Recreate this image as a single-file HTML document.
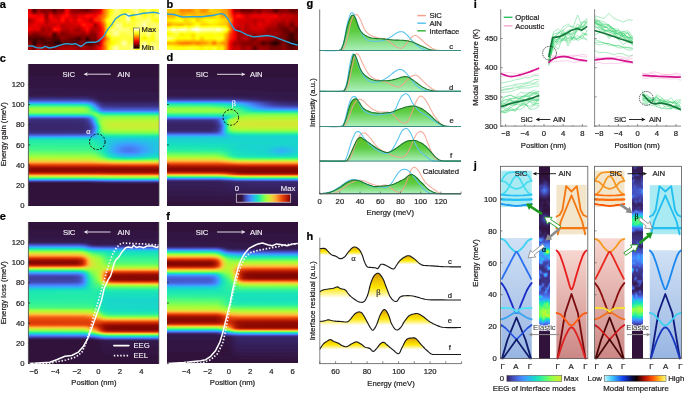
<!DOCTYPE html>
<html><head><meta charset="utf-8"><style>
html,body{margin:0;padding:0;background:#fff;}
body{width:685px;height:393px;position:relative;overflow:hidden;font-family:"Liberation Sans", sans-serif;}
.h div{position:absolute;}
svg{position:absolute;left:0;top:0;filter:blur(0.3px);}
</style></head><body>
<div class="h">
<div style="left:28px;top:64px;width:131px;height:12px;background:#30123b"></div>
<div style="left:28px;top:76px;width:131px;height:1px;background:linear-gradient(90deg,#321543 0.4%,#30123b 96.6%,#30123b 99.6%)"></div>
<div style="left:28px;top:77px;width:131px;height:1px;background:linear-gradient(90deg,#321543 0.4%,#321543 52.3%,#30123b 53.8%,#30123b 99.6%)"></div>
<div style="left:28px;top:78px;width:131px;height:10px;background:#321543"></div>
<div style="left:28px;top:88px;width:131px;height:1px;background:linear-gradient(90deg,#33184a 0.4%,#321543 99.6%)"></div>
<div style="left:28px;top:89px;width:131px;height:1px;background:linear-gradient(90deg,#33184a 0.4%,#321543 99.6%)"></div>
<div style="left:28px;top:90px;width:131px;height:1px;background:linear-gradient(90deg,#33184a 0.4%,#321543 99.6%)"></div>
<div style="left:28px;top:91px;width:131px;height:1px;background:linear-gradient(90deg,#33184a 0.4%,#321543 99.6%)"></div>
<div style="left:28px;top:92px;width:131px;height:3px;background:#33184a"></div>
<div style="left:28px;top:95px;width:131px;height:1px;background:linear-gradient(90deg,#341b51 0.4%,#33184a 99.6%)"></div>
<div style="left:28px;top:96px;width:131px;height:1px;background:linear-gradient(90deg,#36215f 0.4%,#36215f 46.2%,#351e58 47.7%,#33184a 54.6%,#33184a 99.6%)"></div>
<div style="left:28px;top:97px;width:131px;height:1px;background:linear-gradient(90deg,#38276d 0.4%,#38276d 44.7%,#372466 46.2%,#36215f 49.2%,#33184a 53.8%,#33184a 99.6%)"></div>
<div style="left:28px;top:98px;width:131px;height:1px;background:linear-gradient(90deg,#3b2f80 0.4%,#3b2f80 37.0%,#3a2d79 38.5%,#3a2d79 45.4%,#38276d 48.5%,#351e58 51.5%,#33184a 56.9%,#33184a 99.6%)"></div>
<div style="left:28px;top:99px;width:131px;height:1px;background:linear-gradient(90deg,#3f3e9c 0.4%,#3f3e9c 39.3%,#3e3891 46.2%,#351e58 53.1%,#33184a 58.4%,#33184a 99.6%)"></div>
<div style="left:28px;top:100px;width:131px;height:1px;background:linear-gradient(90deg,#4451bf 0.4%,#4451bf 42.4%,#4249b1 46.2%,#3f3b97 49.2%,#372466 53.1%,#351e58 54.6%,#341b51 59.9%,#341b51 99.6%)"></div>
<div style="left:28px;top:101px;width:131px;height:1px;background:linear-gradient(90deg,#466be3 0.4%,#4669e0 43.9%,#4559cb 47.7%,#38276d 53.8%,#351e58 58.4%,#351e58 99.6%)"></div>
<div style="left:28px;top:102px;width:131px;height:1px;background:linear-gradient(90deg,#4391fe 0.4%,#448ffe 43.1%,#467df4 46.9%,#4664da 49.2%,#3e3891 53.1%,#392a73 55.3%,#372466 56.9%,#36215f 63.7%,#36215f 99.6%)"></div>
<div style="left:28px;top:103px;width:131px;height:1px;background:linear-gradient(90deg,#28bceb 0.4%,#2cb7f0 43.1%,#38a5fb 46.2%,#458afc 48.5%,#4664da 50.8%,#3f3b97 53.8%,#3a2d79 56.1%,#38276d 59.2%,#38276d 99.6%)"></div>
<div style="left:28px;top:104px;width:131px;height:1px;background:linear-gradient(90deg,#18ddc2 0.4%,#18dbc5 41.6%,#1ad4d0 44.7%,#25c0e7 46.9%,#4099ff 49.2%,#477bf2 50.8%,#4146ac 53.8%,#3c3286 56.1%,#392a73 59.2%,#392a73 99.6%)"></div>
<div style="left:28px;top:105px;width:131px;height:1px;background:linear-gradient(90deg,#2ff19b 0.4%,#2cf09e 41.6%,#20eaac 44.7%,#18dbc5 46.9%,#23c3e4 48.5%,#3ba0fd 50.0%,#448ffe 50.8%,#476ee6 52.3%,#4040a2 55.3%,#3d358b 56.9%,#3b2f80 59.9%,#3a2d79 76.0%,#3a2d79 99.6%)"></div>
<div style="left:28px;top:106px;width:131px;height:1px;background:linear-gradient(90deg,#55fa76 0.4%,#52fa7a 40.8%,#43f787 43.9%,#35f394 45.4%,#18e0bd 47.7%,#20c7df 49.2%,#3aa3fc 50.8%,#4294ff 51.5%,#4773eb 53.1%,#424bb5 55.3%,#3f3b97 57.6%,#3d358b 65.3%,#3d358b 99.6%)"></div>
<div style="left:28px;top:107px;width:131px;height:1px;background:linear-gradient(90deg,#79fe59 0.4%,#75fe5c 40.8%,#5dfc6f 44.7%,#25eca7 47.7%,#19e3b9 48.5%,#1fc9dd 50.0%,#37a8fa 51.5%,#4196ff 52.3%,#4687fb 53.1%,#455ccf 55.3%,#424bb5 56.9%,#4143a7 59.9%,#4143a7 99.6%)"></div>
<div style="left:28px;top:108px;width:131px;height:1px;background:linear-gradient(90deg,#8fff49 0.4%,#8bff4b 41.6%,#75fe5c 44.7%,#4af880 46.9%,#25eca7 48.5%,#1ae4b6 49.2%,#1ccdd8 50.8%,#33adf7 52.3%,#3e9bfe 53.1%,#458afc 53.8%,#466be3 55.3%,#4559cb 56.9%,#434eba 61.5%,#434eba 99.6%)"></div>
<div style="left:28px;top:109px;width:131px;height:1px;background:linear-gradient(90deg,#9cfe40 0.4%,#99fe42 40.8%,#8bff4b 43.9%,#6dfe62 46.2%,#25eca7 49.2%,#1ae4b6 50.0%,#1bd0d5 51.5%,#33adf7 53.1%,#3e9bfe 53.8%,#477bf2 55.3%,#4666dd 56.9%,#455ccf 59.9%,#455ccf 99.6%)"></div>
<div style="left:28px;top:110px;width:131px;height:1px;background:linear-gradient(90deg,#9cfe40 0.4%,#99fe42 41.6%,#88ff4e 44.7%,#65fd69 46.9%,#32f298 49.2%,#18dec0 51.5%,#23c3e4 53.1%,#3d9efe 54.6%,#4682f8 56.1%,#4771e9 58.4%,#476ee6 99.6%)"></div>
<div style="left:28px;top:111px;width:131px;height:1px;background:linear-gradient(90deg,#96fe44 0.4%,#92ff47 41.6%,#7dff56 45.4%,#35f394 50.8%,#1de7b2 52.3%,#1bd0d5 53.8%,#31aff5 55.3%,#3e9bfe 56.9%,#4391fe 61.5%,#4391fe 99.6%)"></div>
<div style="left:28px;top:112px;width:131px;height:1px;background:linear-gradient(90deg,#84ff51 0.4%,#80ff53 42.4%,#5dfc6f 50.0%,#4ef97d 51.5%,#2cf09e 53.1%,#1de7b2 53.8%,#1ad4d0 55.3%,#25c0e7 57.6%,#28bceb 99.6%)"></div>
<div style="left:28px;top:113px;width:131px;height:1px;background:linear-gradient(90deg,#5dfc6f 0.4%,#59fb73 44.7%,#59fb73 48.5%,#6dfe62 50.8%,#61fc6c 52.3%,#22ebaa 55.3%,#19e2bb 56.9%,#18ddc2 63.7%,#18ddc2 99.6%)"></div>
<div style="left:28px;top:114px;width:131px;height:1px;background:linear-gradient(90deg,#2cf09e 0.4%,#2ff19b 46.2%,#43f787 48.5%,#71fe5f 50.8%,#79fe59 52.3%,#55fa76 54.6%,#3cf58e 56.1%,#2ff19b 59.2%,#2ff19b 99.6%)"></div>
<div style="left:28px;top:115px;width:131px;height:1px;background:linear-gradient(90deg,#1ad2d2 0.4%,#19d5cd 44.7%,#19e3b9 47.7%,#2ff19b 49.2%,#59fb73 50.8%,#75fe5c 52.3%,#79fe59 53.1%,#5dfc6f 56.1%,#55fa76 59.2%,#55fa76 99.6%)"></div>
<div style="left:28px;top:116px;width:131px;height:1px;background:linear-gradient(90deg,#3d9efe 0.4%,#3aa3fc 43.9%,#2cb7f0 46.9%,#1bd0d5 48.5%,#18dec0 49.2%,#20eaac 50.0%,#52fa7a 51.5%,#71fe5f 53.1%,#79fe59 54.6%,#79fe59 99.6%)"></div>
<div style="left:28px;top:117px;width:131px;height:1px;background:linear-gradient(90deg,#466be3 0.4%,#476ee6 42.4%,#4682f8 46.2%,#4099ff 47.7%,#35abf8 48.5%,#25c0e7 49.2%,#19d5cd 50.0%,#1ce6b4 50.8%,#4ef97d 52.3%,#75fe5c 53.8%,#8bff4b 57.6%,#8fff49 99.6%)"></div>
<div style="left:28px;top:118px;width:131px;height:1px;background:linear-gradient(90deg,#4146ac 0.4%,#4146ac 39.3%,#424bb5 43.1%,#4456c7 45.4%,#4778f0 47.7%,#458cfd 48.5%,#3aa3fc 49.2%,#27bee9 50.0%,#18d7ca 50.8%,#1fe9af 51.5%,#55fa76 53.1%,#7dff56 54.6%,#92ff47 56.9%,#9ffd3f 61.5%,#9ffd3f 99.6%)"></div>
<div style="left:28px;top:119px;width:131px;height:1px;background:linear-gradient(90deg,#3c3286 0.4%,#3c3286 40.1%,#3e3891 43.1%,#4143a7 45.4%,#4456c7 46.9%,#4778f0 48.5%,#4391fe 49.2%,#33adf7 50.0%,#1fc9dd 50.8%,#18e0bd 51.5%,#2aefa1 52.3%,#4af880 53.1%,#7dff56 54.6%,#96fe44 56.1%,#a7fc3a 59.2%,#a9fb39 99.6%)"></div>
<div style="left:28px;top:120px;width:131px;height:1px;background:linear-gradient(90deg,#3a2d79 0.4%,#3a2d79 40.1%,#3d358b 43.9%,#4143a7 46.2%,#476ee6 48.5%,#4685fa 49.2%,#3ba0fd 50.0%,#27bee9 50.8%,#18d7ca 51.5%,#20eaac 52.3%,#61fc6c 53.8%,#8fff49 55.3%,#a1fd3d 56.9%,#affa37 59.9%,#b4f836 79.0%,#b4f836 99.6%)"></div>
<div style="left:28px;top:121px;width:131px;height:1px;background:linear-gradient(90deg,#392a73 0.4%,#392a73 35.5%,#3a2d79 37.8%,#3a2d79 42.4%,#3e3891 45.4%,#4456c7 47.7%,#477bf2 49.2%,#4294ff 50.0%,#2fb2f4 50.8%,#1ccdd8 51.5%,#1ae4b6 52.3%,#32f298 53.1%,#75fe5c 54.6%,#9cfe40 56.1%,#b1f936 58.4%,#b9f635 64.5%,#b9f635 99.6%)"></div>
<div style="left:28px;top:122px;width:131px;height:1px;background:linear-gradient(90deg,#392a73 0.4%,#392a73 40.8%,#3b2f80 43.9%,#3d358b 45.4%,#434eba 47.7%,#4771e9 49.2%,#458afc 50.0%,#38a5fb 50.8%,#23c3e4 51.5%,#18ddc2 52.3%,#27eea4 53.1%,#6dfe62 54.6%,#8bff4b 55.3%,#a7fc3a 56.9%,#bcf534 59.9%,#c1f334 75.2%,#c1f334 99.6%)"></div>
<div style="left:28px;top:123px;width:131px;height:1px;background:linear-gradient(90deg,#38276d 0.4%,#38276d 31.7%,#392a73 34.0%,#392a73 42.4%,#3c3286 45.4%,#3f3e9c 46.9%,#4456c7 48.5%,#467df4 50.0%,#4099ff 50.8%,#2cb7f0 51.5%,#1ad4d0 52.3%,#1fe9af 53.1%,#65fd69 54.6%,#9cfe40 56.1%,#b9f635 58.4%,#c6f034 63.0%,#c6f034 99.6%)"></div>
<div style="left:28px;top:124px;width:131px;height:1px;background:linear-gradient(90deg,#38276d 0.4%,#38276d 40.1%,#3a2d79 44.7%,#3f3b97 46.9%,#4451bf 48.5%,#4773eb 50.0%,#458cfd 50.8%,#35abf8 51.5%,#20c7df 52.3%,#18e0bd 53.1%,#2ff19b 53.8%,#7dff56 55.3%,#a7fc3a 56.9%,#bef434 59.2%,#c8ef34 64.5%,#c8ef34 99.6%)"></div>
<div style="left:28px;top:125px;width:131px;height:1px;background:linear-gradient(90deg,#38276d 0.4%,#38276d 40.8%,#3a2d79 44.7%,#3e3891 46.9%,#4249b1 48.5%,#4680f6 50.8%,#3e9bfe 51.5%,#2ab9ee 52.3%,#18d7ca 53.1%,#20eaac 53.8%,#6dfe62 55.3%,#8bff4b 56.1%,#acfb38 57.6%,#bef434 59.9%,#c8ef34 65.3%,#c8ef34 99.6%)"></div>
<div style="left:28px;top:126px;width:131px;height:1px;background:linear-gradient(90deg,#38276d 0.4%,#38276d 41.6%,#3a2d79 45.4%,#3d358b 46.9%,#4146ac 48.5%,#4778f0 50.8%,#4391fe 51.5%,#31aff5 52.3%,#1ccdd8 53.1%,#1ae4b6 53.8%,#35f394 54.6%,#5dfc6f 55.3%,#80ff53 56.1%,#99fe42 56.9%,#b7f735 59.2%,#c3f134 62.2%,#c6f034 99.6%)"></div>
<div style="left:28px;top:127px;width:131px;height:1px;background:linear-gradient(90deg,#38276d 0.4%,#38276d 41.6%,#3b2f80 46.2%,#3f3b97 47.7%,#4661d6 50.0%,#448ffe 51.5%,#35abf8 52.3%,#1fc9dd 53.1%,#19e2bb 53.8%,#2ff19b 54.6%,#79fe59 56.1%,#a4fc3c 57.6%,#bcf534 60.7%,#c3f134 67.6%,#c3f134 99.6%)"></div>
<div style="left:28px;top:128px;width:131px;height:1px;background:linear-gradient(90deg,#38276d 0.4%,#38276d 40.8%,#3a2d79 44.7%,#3d358b 46.9%,#4146ac 48.5%,#4778f0 50.8%,#4391fe 51.5%,#31aff5 52.3%,#1ccdd8 53.1%,#19e3b9 53.8%,#32f298 54.6%,#79fe59 56.1%,#9ffd3f 57.6%,#b7f735 60.7%,#bef434 71.4%,#bef434 99.6%)"></div>
<div style="left:28px;top:129px;width:131px;height:1px;background:linear-gradient(90deg,#38276d 0.4%,#38276d 40.1%,#3a2d79 44.7%,#3e3891 46.9%,#3f3e9c 47.7%,#4456c7 49.2%,#467df4 50.8%,#4196ff 51.5%,#2eb4f2 52.3%,#1bd0d5 53.1%,#1ae4b6 53.8%,#32f298 54.6%,#75fe5c 56.1%,#99fe42 57.6%,#affa37 60.7%,#b4f836 79.8%,#b4f836 99.6%)"></div>
<div style="left:28px;top:130px;width:131px;height:1px;background:linear-gradient(90deg,#392a73 0.4%,#392a73 42.4%,#3b2f80 45.4%,#4040a2 47.7%,#466be3 50.0%,#4682f8 50.8%,#3e9bfe 51.5%,#2ab9ee 52.3%,#1ad2d2 53.1%,#1ce6b4 53.8%,#32f298 54.6%,#6dfe62 56.1%,#8fff49 57.6%,#a1fd3d 59.9%,#a7fc3a 69.1%,#a7fc3a 99.6%)"></div>
<div style="left:28px;top:131px;width:131px;height:1px;background:linear-gradient(90deg,#3a2d79 0.4%,#3a2d79 43.1%,#3c3286 45.4%,#4146ac 47.7%,#455ed3 49.2%,#4685fa 50.8%,#3ba0fd 51.5%,#28bceb 52.3%,#1ad4d0 53.1%,#1ae4b6 53.8%,#46f884 55.3%,#61fc6c 56.1%,#88ff4e 58.4%,#96fe44 62.2%,#99fe42 99.6%)"></div>
<div style="left:28px;top:132px;width:131px;height:1px;background:linear-gradient(90deg,#3b2f80 0.4%,#3b2f80 40.8%,#3e3891 45.4%,#424bb5 47.7%,#4776ee 50.0%,#458afc 50.8%,#3aa3fc 51.5%,#28bceb 52.3%,#1ad4d0 53.1%,#19e3b9 53.8%,#4ef97d 56.1%,#71fe5f 58.4%,#80ff53 62.2%,#80ff53 99.6%)"></div>
<div style="left:28px;top:133px;width:131px;height:1px;background:linear-gradient(90deg,#3f3e9c 0.4%,#3f3e9c 42.4%,#434eba 46.9%,#476ee6 49.2%,#4391fe 50.8%,#37a8fa 51.5%,#1ad2d2 53.1%,#18e0bd 53.8%,#3ff68a 56.1%,#5dfc6f 59.2%,#65fd69 65.3%,#65fd69 99.6%)"></div>
<div style="left:28px;top:134px;width:131px;height:1px;background:linear-gradient(90deg,#4451bf 0.4%,#4454c3 43.9%,#455ed3 46.9%,#4778f0 49.2%,#4196ff 50.8%,#27bee9 52.3%,#18dbc5 53.8%,#2aefa1 56.1%,#3cf58e 58.4%,#46f884 63.0%,#46f884 99.6%)"></div>
<div style="left:28px;top:135px;width:131px;height:1px;background:linear-gradient(90deg,#466be3 0.4%,#476ee6 43.9%,#4680f6 48.5%,#3d9efe 50.8%,#1fc9dd 53.1%,#18ddc2 54.6%,#25eca7 58.4%,#2aefa1 66.8%,#2aefa1 99.6%)"></div>
<div style="left:28px;top:136px;width:131px;height:1px;background:linear-gradient(90deg,#4294ff 0.4%,#4196ff 45.4%,#3aa3fc 49.2%,#25c0e7 52.3%,#18dbc5 55.3%,#19e3b9 59.9%,#1ae4b6 99.6%)"></div>
<div style="left:28px;top:137px;width:131px;height:1px;background:linear-gradient(90deg,#28bceb 0.4%,#25c0e7 48.5%,#18dbc5 57.6%,#18d9c8 88.2%,#18ddc2 99.6%)"></div>
<div style="left:28px;top:138px;width:131px;height:1px;background:linear-gradient(90deg,#1ad4d0 0.4%,#1ad4d0 63.7%,#1ccdd8 81.3%,#19d5cd 99.6%)"></div>
<div style="left:28px;top:139px;width:131px;height:1px;background:linear-gradient(90deg,#19e3b9 0.4%,#18e0bd 50.8%,#1ccdd8 61.5%,#22c5e2 80.5%,#1bd0d5 99.6%)"></div>
<div style="left:28px;top:140px;width:131px;height:1px;background:linear-gradient(90deg,#20eaac 0.4%,#1fe9af 48.5%,#18d9c8 56.1%,#1fc9dd 63.0%,#27bee9 77.5%,#1ccdd8 99.6%)"></div>
<div style="left:28px;top:141px;width:131px;height:1px;background:linear-gradient(90deg,#25eca7 0.4%,#22ebaa 48.5%,#18dec0 55.3%,#1ecbda 60.7%,#2eb4f2 75.2%,#25c0e7 88.2%,#1ecbda 99.6%)"></div>
<div style="left:28px;top:142px;width:131px;height:1px;background:linear-gradient(90deg,#27eea4 0.4%,#25eca7 49.2%,#18dbc5 56.9%,#1fc9dd 61.5%,#31aff5 72.1%,#31aff5 82.1%,#1fc9dd 98.1%,#1fc9dd 99.6%)"></div>
<div style="left:28px;top:143px;width:131px;height:1px;background:linear-gradient(90deg,#2cf09e 0.4%,#2aefa1 47.7%,#19e3b9 55.3%,#23c3e4 63.0%,#37a8fa 71.4%,#3ba0fd 77.5%,#2fb2f4 86.6%,#20c7df 97.3%,#1fc9dd 99.6%)"></div>
<div style="left:28px;top:144px;width:131px;height:1px;background:linear-gradient(90deg,#2ff19b 0.4%,#2cf09e 47.7%,#1de7b2 54.6%,#1ad2d2 59.9%,#2eb4f2 66.0%,#4099ff 74.4%,#3d9efe 82.1%,#22c5e2 96.6%,#20c7df 99.6%)"></div>
<div style="left:28px;top:145px;width:131px;height:1px;background:linear-gradient(90deg,#32f298 0.4%,#2ff19b 48.5%,#1fe9af 54.6%,#19d5cd 59.2%,#31aff5 66.0%,#4294ff 72.9%,#4391fe 79.8%,#35abf8 88.2%,#22c5e2 97.3%,#20c7df 99.6%)"></div>
<div style="left:28px;top:146px;width:131px;height:1px;background:linear-gradient(90deg,#35f394 0.4%,#32f298 48.5%,#20eaac 54.6%,#19d5cd 59.2%,#31aff5 65.3%,#4294ff 70.6%,#4685fa 76.7%,#4391fe 82.8%,#31aff5 90.5%,#22c5e2 97.3%,#20c7df 99.6%)"></div>
<div style="left:28px;top:147px;width:131px;height:1px;background:linear-gradient(90deg,#3cf58e 0.4%,#38f491 46.9%,#2cf09e 52.3%,#18dec0 57.6%,#20c7df 61.5%,#37a8fa 66.0%,#448ffe 70.6%,#467df4 76.7%,#458cfd 83.6%,#38a5fb 88.9%,#25c0e7 95.8%,#20c7df 99.6%)"></div>
<div style="left:28px;top:148px;width:131px;height:1px;background:linear-gradient(90deg,#3ff68a 0.4%,#3cf58e 47.7%,#27eea4 53.8%,#18dbc5 58.4%,#28bceb 63.0%,#3e9bfe 67.6%,#477bf2 74.4%,#477bf2 79.8%,#3e9bfe 87.4%,#28bceb 95.0%,#22c5e2 99.6%)"></div>
<div style="left:28px;top:149px;width:131px;height:1px;background:linear-gradient(90deg,#43f787 0.4%,#3ff68a 48.5%,#2aefa1 53.8%,#18dbc5 58.4%,#2ab9ee 63.0%,#4099ff 67.6%,#4778f0 74.4%,#477bf2 80.5%,#3e9bfe 87.4%,#27bee9 95.8%,#22c5e2 99.6%)"></div>
<div style="left:28px;top:150px;width:131px;height:1px;background:linear-gradient(90deg,#4ef97d 0.4%,#4af880 46.2%,#3cf58e 51.5%,#19e2bb 57.6%,#20c7df 61.5%,#35abf8 65.3%,#4391fe 69.1%,#4778f0 74.4%,#477bf2 80.5%,#3e9bfe 87.4%,#27bee9 95.8%,#22c5e2 99.6%)"></div>
<div style="left:28px;top:151px;width:131px;height:1px;background:linear-gradient(90deg,#59fb73 0.4%,#55fa76 46.2%,#4af880 50.0%,#2ff19b 54.6%,#18e0bd 58.4%,#22c5e2 62.2%,#37a8fa 66.0%,#458afc 70.6%,#4778f0 76.7%,#4685fa 82.8%,#3ba0fd 88.2%,#25c0e7 95.8%,#20c7df 99.6%)"></div>
<div style="left:28px;top:152px;width:131px;height:1px;background:linear-gradient(90deg,#65fd69 0.4%,#61fc6c 46.2%,#52fa7a 51.5%,#1fe9af 57.6%,#19d5cd 60.7%,#2fb2f4 65.3%,#4294ff 70.6%,#4682f8 76.0%,#458afc 82.1%,#37a8fa 88.2%,#20c7df 97.3%,#1fc9dd 99.6%)"></div>
<div style="left:28px;top:153px;width:131px;height:1px;background:linear-gradient(90deg,#71fe5f 0.4%,#6dfe62 46.9%,#59fb73 52.3%,#2cf09e 56.9%,#18e0bd 59.9%,#20c7df 63.7%,#33adf7 67.6%,#4391fe 74.4%,#4294ff 81.3%,#2eb4f2 88.9%,#1ecbda 96.6%,#1bd0d5 99.6%)"></div>
<div style="left:28px;top:154px;width:131px;height:1px;background:linear-gradient(90deg,#80ff53 0.4%,#7dff56 46.9%,#71fe5f 50.8%,#4af880 55.3%,#20eaac 59.2%,#18d9c8 62.2%,#2fb2f4 69.1%,#3ba0fd 75.2%,#3aa3fc 81.3%,#22c5e2 91.2%,#19d5cd 99.6%)"></div>
<div style="left:28px;top:155px;width:131px;height:1px;background:linear-gradient(90deg,#8fff49 0.4%,#8bff4b 46.9%,#7dff56 51.5%,#4ef97d 56.1%,#1de7b2 60.7%,#1ad4d0 64.5%,#2cb7f0 71.4%,#31aff5 77.5%,#2ab9ee 83.6%,#19d5cd 95.0%,#18d9c8 99.6%)"></div>
<div style="left:28px;top:156px;width:131px;height:1px;background:linear-gradient(90deg,#9ffd3f 0.4%,#9cfe40 45.4%,#8fff49 50.8%,#75fe5c 54.6%,#2ff19b 59.9%,#19e3b9 63.0%,#1fc9dd 70.6%,#25c0e7 78.2%,#1bd0d5 87.4%,#18e0bd 98.1%,#18e0bd 99.6%)"></div>
<div style="left:28px;top:157px;width:131px;height:1px;background:linear-gradient(90deg,#acfb38 0.4%,#a9fb39 46.9%,#9cfe40 52.3%,#79fe59 56.1%,#32f298 61.5%,#1ae4b6 66.0%,#19d5cd 75.2%,#18dbc5 84.4%,#20eaac 99.6%)"></div>
<div style="left:28px;top:158px;width:131px;height:1px;background:linear-gradient(90deg,#bef434 0.4%,#bcf534 46.2%,#a9fb39 53.1%,#8bff4b 56.9%,#4ef97d 62.2%,#32f298 66.0%,#20eaac 73.7%,#25eca7 84.4%,#3cf58e 99.6%)"></div>
<div style="left:28px;top:159px;width:131px;height:1px;background:linear-gradient(90deg,#d0ea34 0.4%,#cdec34 46.9%,#bcf534 53.1%,#99fe42 58.4%,#65fd69 64.5%,#4af880 72.9%,#4ef97d 84.4%,#65fd69 98.1%,#65fd69 99.6%)"></div>
<div style="left:28px;top:160px;width:131px;height:1px;background:linear-gradient(90deg,#e3db38 0.4%,#dfdf37 47.7%,#cdec34 54.6%,#a1fd3d 63.0%,#8bff4b 73.7%,#8bff4b 82.8%,#9cfe40 98.9%,#9cfe40 99.6%)"></div>
<div style="left:28px;top:161px;width:131px;height:1px;background:linear-gradient(90deg,#f4c73a 0.4%,#f1cb3a 49.2%,#dfdf37 57.6%,#c8ef34 66.8%,#c3f134 82.1%,#cbed34 99.6%)"></div>
<div style="left:28px;top:162px;width:131px;height:1px;background:linear-gradient(90deg,#fea933 0.4%,#fdac34 47.7%,#f1cb3a 65.3%,#f1cb3a 97.3%,#f1cb3a 99.6%)"></div>
<div style="left:28px;top:163px;width:131px;height:1px;background:linear-gradient(90deg,#fb7e21 0.4%,#fb8122 47.7%,#fe9e2f 65.3%,#fe9e2f 99.6%)"></div>
<div style="left:28px;top:164px;width:131px;height:1px;background:linear-gradient(90deg,#ec530f 0.4%,#ed5510 50.0%,#f56918 66.0%,#f56918 99.6%)"></div>
<div style="left:28px;top:165px;width:131px;height:1px;background:linear-gradient(90deg,#d63506 0.4%,#da3907 54.6%,#e14109 82.1%,#df3f08 99.6%)"></div>
<div style="left:28px;top:166px;width:131px;height:1px;background:linear-gradient(90deg,#bc2002 0.4%,#c32503 99.6%)"></div>
<div style="left:28px;top:167px;width:131px;height:1px;background:#a41301"></div>
<div style="left:28px;top:168px;width:131px;height:1px;background:linear-gradient(90deg,#8e0a01 0.4%,#950d01 99.6%)"></div>
<div style="left:28px;top:169px;width:131px;height:1px;background:#8b0902"></div>
<div style="left:28px;top:170px;width:131px;height:1px;background:#8b0902"></div>
<div style="left:28px;top:171px;width:131px;height:1px;background:#920b01"></div>
<div style="left:28px;top:172px;width:131px;height:1px;background:linear-gradient(90deg,#af1801 0.4%,#ac1701 52.3%,#a41301 69.1%,#a41301 99.6%)"></div>
<div style="left:28px;top:173px;width:131px;height:1px;background:linear-gradient(90deg,#d43305 0.4%,#d02f05 53.1%,#c82803 72.9%,#c82803 99.6%)"></div>
<div style="left:28px;top:174px;width:131px;height:1px;background:linear-gradient(90deg,#f76f1a 0.4%,#f66c19 50.8%,#f15d13 64.5%,#f15d13 99.6%)"></div>
<div style="left:28px;top:175px;width:131px;height:1px;background:linear-gradient(90deg,#f6c33a 0.4%,#f7c13a 51.5%,#fbb838 69.1%,#fbb838 99.6%)"></div>
<div style="left:28px;top:176px;width:131px;height:1px;background:linear-gradient(90deg,#c3f134 0.4%,#cbed34 99.6%)"></div>
<div style="left:28px;top:177px;width:131px;height:1px;background:linear-gradient(90deg,#80ff53 0.4%,#84ff51 50.8%,#92ff47 63.0%,#92ff47 99.6%)"></div>
<div style="left:28px;top:178px;width:131px;height:1px;background:linear-gradient(90deg,#2aefa1 0.4%,#2cf09e 49.2%,#3ff68a 63.0%,#43f787 99.6%)"></div>
<div style="left:28px;top:179px;width:131px;height:1px;background:linear-gradient(90deg,#25c0e7 0.4%,#23c3e4 49.2%,#1ad4d0 66.0%,#1ad4d0 99.6%)"></div>
<div style="left:28px;top:180px;width:131px;height:1px;background:linear-gradient(90deg,#4778f0 0.4%,#477bf2 49.2%,#448ffe 65.3%,#448ffe 99.6%)"></div>
<div style="left:28px;top:181px;width:131px;height:1px;background:linear-gradient(90deg,#3f3b97 0.4%,#3f3b97 44.7%,#424bb5 59.9%,#4451bf 67.6%,#4451bf 99.6%)"></div>
<div style="left:28px;top:182px;width:131px;height:1px;background:linear-gradient(90deg,#351e58 0.4%,#351e58 48.5%,#36215f 50.0%,#372466 57.6%,#38276d 59.2%,#392a73 84.4%,#392a73 99.6%)"></div>
<div style="left:28px;top:183px;width:131px;height:1px;background:linear-gradient(90deg,#30123b 0.4%,#30123b 47.7%,#321543 49.2%,#33184a 70.6%,#33184a 99.6%)"></div>
<div style="left:28px;top:184px;width:131px;height:22px;background:#30123b"></div>
<div style="left:167px;top:64px;width:131px;height:13px;background:#30123b"></div>
<div style="left:167px;top:77px;width:131px;height:1px;background:linear-gradient(90deg,#321543 0.4%,#321543 68.3%,#30123b 69.8%,#30123b 99.6%)"></div>
<div style="left:167px;top:78px;width:131px;height:11px;background:#321543"></div>
<div style="left:167px;top:89px;width:131px;height:1px;background:linear-gradient(90deg,#33184a 0.4%,#321543 99.6%)"></div>
<div style="left:167px;top:90px;width:131px;height:1px;background:linear-gradient(90deg,#33184a 0.4%,#33184a 63.0%,#321543 64.5%,#321543 99.6%)"></div>
<div style="left:167px;top:91px;width:131px;height:1px;background:linear-gradient(90deg,#33184a 0.4%,#33184a 74.4%,#321543 76.0%,#321543 99.6%)"></div>
<div style="left:167px;top:92px;width:131px;height:4px;background:#33184a"></div>
<div style="left:167px;top:96px;width:131px;height:1px;background:linear-gradient(90deg,#351e58 0.4%,#351e58 50.0%,#341b51 51.5%,#33184a 90.5%,#33184a 99.6%)"></div>
<div style="left:167px;top:97px;width:131px;height:1px;background:linear-gradient(90deg,#372466 0.4%,#372466 51.5%,#36215f 53.1%,#351e58 67.6%,#341b51 69.1%,#33184a 88.2%,#33184a 99.6%)"></div>
<div style="left:167px;top:98px;width:131px;height:1px;background:linear-gradient(90deg,#3a2d79 0.4%,#3a2d79 46.9%,#392a73 49.2%,#38276d 59.2%,#372466 60.7%,#341b51 76.7%,#33184a 90.5%,#33184a 99.6%)"></div>
<div style="left:167px;top:99px;width:131px;height:1px;background:linear-gradient(90deg,#3f3b97 0.4%,#3f3b97 41.6%,#3e3891 43.9%,#3d358b 53.1%,#351e58 76.0%,#341b51 84.4%,#33184a 99.6%)"></div>
<div style="left:167px;top:100px;width:131px;height:1px;background:linear-gradient(90deg,#4559cb 0.4%,#4456c7 41.6%,#434eba 52.3%,#3f3b97 63.0%,#38276d 73.7%,#351e58 84.4%,#341b51 99.6%)"></div>
<div style="left:167px;top:101px;width:131px;height:1px;background:linear-gradient(90deg,#4680f6 0.4%,#477bf2 42.4%,#4669e0 54.6%,#4451bf 63.0%,#3c3286 73.7%,#38276d 81.3%,#36215f 90.5%,#36215f 99.6%)"></div>
<div style="left:167px;top:102px;width:131px;height:1px;background:linear-gradient(90deg,#31aff5 0.4%,#35abf8 39.3%,#4294ff 52.3%,#4778f0 59.9%,#434eba 69.8%,#3f3b97 75.2%,#392a73 85.1%,#372466 98.9%,#372466 99.6%)"></div>
<div style="left:167px;top:103px;width:131px;height:1px;background:linear-gradient(90deg,#19d5cd 0.4%,#1ad2d2 37.8%,#28bceb 50.8%,#4099ff 58.4%,#4680f6 63.0%,#4559cb 70.6%,#3f3e9c 77.5%,#3b2f80 85.1%,#392a73 95.8%,#392a73 99.6%)"></div>
<div style="left:167px;top:104px;width:131px;height:1px;background:linear-gradient(90deg,#22ebaa 0.4%,#1fe9af 34.0%,#18dbc5 47.7%,#25c0e7 55.3%,#3ba0fd 60.7%,#4682f8 65.3%,#434eba 75.2%,#3f3b97 82.1%,#3b2f80 92.7%,#3b2f80 98.9%,#3a2d79 99.6%)"></div>
<div style="left:167px;top:105px;width:131px;height:1px;background:linear-gradient(90deg,#3cf58e 0.4%,#38f491 32.4%,#25eca7 44.7%,#18d9c8 53.1%,#2ab9ee 59.2%,#4099ff 63.7%,#477bf2 68.3%,#4456c7 76.0%,#4143a7 82.8%,#3e3891 94.3%,#3e3891 99.6%)"></div>
<div style="left:167px;top:106px;width:131px;height:1px;background:linear-gradient(90deg,#59fb73 0.4%,#55fa76 30.2%,#3ff68a 43.1%,#19e2bb 53.8%,#20c7df 59.2%,#37a8fa 63.7%,#458afc 68.3%,#4666dd 76.0%,#4451bf 84.4%,#4249b1 96.6%,#4249b1 99.6%)"></div>
<div style="left:167px;top:107px;width:131px;height:1px;background:linear-gradient(90deg,#75fe5c 0.4%,#6dfe62 33.2%,#59fb73 42.4%,#32f298 50.8%,#19e3b9 56.1%,#20c7df 61.5%,#37a8fa 66.0%,#458cfd 70.6%,#466be3 80.5%,#455ed3 93.5%,#455ccf 99.6%)"></div>
<div style="left:167px;top:108px;width:131px;height:1px;background:linear-gradient(90deg,#8bff4b 0.4%,#84ff51 34.0%,#75fe5c 42.4%,#4af880 50.8%,#1ae4b6 58.4%,#1ecbda 63.0%,#37a8fa 69.1%,#458cfd 76.0%,#477bf2 86.6%,#4776ee 99.6%)"></div>
<div style="left:167px;top:109px;width:131px;height:1px;background:linear-gradient(90deg,#99fe42 0.4%,#96fe44 34.0%,#84ff51 44.7%,#59fb73 52.3%,#20eaac 59.2%,#18d9c8 63.0%,#2cb7f0 69.8%,#3d9efe 78.2%,#4294ff 95.0%,#4294ff 99.6%)"></div>
<div style="left:167px;top:110px;width:131px;height:1px;background:linear-gradient(90deg,#99fe42 0.4%,#96fe44 39.3%,#80ff53 47.7%,#61fc6c 53.1%,#22ebaa 60.7%,#18dbc5 65.3%,#23c3e4 74.4%,#2ab9ee 97.3%,#2ab9ee 99.6%)"></div>
<div style="left:167px;top:111px;width:131px;height:1px;background:linear-gradient(90deg,#8fff49 0.4%,#8bff4b 40.8%,#79fe59 49.2%,#35f394 59.9%,#1de7b2 66.0%,#18dec0 80.5%,#18ddc2 99.6%)"></div>
<div style="left:167px;top:112px;width:131px;height:1px;background:linear-gradient(90deg,#79fe59 0.4%,#75fe5c 43.1%,#5dfc6f 53.8%,#3cf58e 63.0%,#2ff19b 76.0%,#2ff19b 99.6%)"></div>
<div style="left:167px;top:113px;width:131px;height:1px;background:#59fb73"></div>
<div style="left:167px;top:114px;width:131px;height:1px;background:linear-gradient(90deg,#32f298 0.4%,#35f394 43.9%,#43f787 49.2%,#6dfe62 57.6%,#75fe5c 76.0%,#75fe5c 99.6%)"></div>
<div style="left:167px;top:115px;width:131px;height:1px;background:linear-gradient(90deg,#1ce6b4 0.4%,#1de7b2 43.1%,#2aefa1 47.7%,#6dfe62 54.6%,#80ff53 57.6%,#88ff4e 65.3%,#88ff4e 99.6%)"></div>
<div style="left:167px;top:116px;width:131px;height:1px;background:linear-gradient(90deg,#1ccdd8 0.4%,#1bd0d5 40.1%,#18ddc2 45.4%,#20eaac 47.7%,#3ff68a 50.0%,#75fe5c 53.1%,#8fff49 56.1%,#99fe42 62.2%,#9cfe40 99.6%)"></div>
<div style="left:167px;top:117px;width:131px;height:1px;background:linear-gradient(90deg,#3ba0fd 0.4%,#38a5fb 39.3%,#2eb4f2 43.1%,#18d7ca 46.2%,#1fe9af 47.7%,#52fa7a 50.0%,#84ff51 52.3%,#9cfe40 54.6%,#a7fc3a 59.9%,#a7fc3a 99.6%)"></div>
<div style="left:167px;top:118px;width:131px;height:1px;background:linear-gradient(90deg,#476ee6 0.4%,#4771e9 37.0%,#4682f8 40.8%,#3ba0fd 43.1%,#25c0e7 44.7%,#1ad2d2 45.4%,#18e0bd 46.2%,#22ebaa 46.9%,#6dfe62 49.2%,#8fff49 50.8%,#a7fc3a 53.1%,#b4f836 59.2%,#b4f836 99.6%)"></div>
<div style="left:167px;top:119px;width:131px;height:1px;background:linear-gradient(90deg,#4249b1 0.4%,#424bb5 35.5%,#455ed3 39.3%,#4682f8 41.6%,#4196ff 42.4%,#33adf7 43.1%,#18d9c8 44.7%,#20eaac 45.4%,#5dfc6f 46.9%,#8fff49 48.5%,#affa37 50.8%,#bcf534 55.3%,#bef434 99.6%)"></div>
<div style="left:167px;top:120px;width:131px;height:1px;background:linear-gradient(90deg,#3c3286 0.4%,#3c3286 31.7%,#3e3891 35.5%,#4143a7 37.8%,#4454c3 39.3%,#455ed3 40.1%,#4685fa 41.6%,#3d9efe 42.4%,#28bceb 43.1%,#19d5cd 43.9%,#20eaac 44.7%,#65fd69 46.2%,#9cfe40 47.7%,#b7f735 50.0%,#c6f034 55.3%,#c6f034 99.6%)"></div>
<div style="left:167px;top:121px;width:131px;height:1px;background:linear-gradient(90deg,#3a2d79 0.4%,#3a2d79 34.0%,#3d358b 37.0%,#4040a2 38.5%,#466be3 40.8%,#4680f6 41.6%,#3e9bfe 42.4%,#2ab9ee 43.1%,#19d5cd 43.9%,#20eaac 44.7%,#69fd66 46.2%,#8bff4b 46.9%,#affa37 48.5%,#c6f034 51.5%,#cbed34 66.8%,#cbed34 99.6%)"></div>
<div style="left:167px;top:122px;width:131px;height:1px;background:linear-gradient(90deg,#38276d 0.4%,#38276d 29.4%,#392a73 31.7%,#392a73 34.7%,#3d358b 37.8%,#4451bf 40.1%,#4778f0 41.6%,#4391fe 42.4%,#31aff5 43.1%,#1ccdd8 43.9%,#1ae4b6 44.7%,#38f491 45.4%,#88ff4e 46.9%,#affa37 48.5%,#c6f034 50.8%,#d0ea34 58.4%,#d0ea34 99.6%)"></div>
<div style="left:167px;top:123px;width:131px;height:1px;background:linear-gradient(90deg,#38276d 0.4%,#38276d 34.7%,#3e3891 38.5%,#424bb5 40.1%,#476ee6 41.6%,#4687fb 42.4%,#3aa3fc 43.1%,#23c3e4 43.9%,#18dec0 44.7%,#2cf09e 45.4%,#59fb73 46.2%,#80ff53 46.9%,#9cfe40 47.7%,#b9f635 49.2%,#cbed34 51.5%,#d2e935 56.9%,#d4e735 99.6%)"></div>
<div style="left:167px;top:124px;width:131px;height:1px;background:linear-gradient(90deg,#372466 0.4%,#372466 33.2%,#392a73 36.3%,#3d358b 38.5%,#3f3b97 39.3%,#4666dd 41.6%,#467df4 42.4%,#4099ff 43.1%,#2ab9ee 43.9%,#19d5cd 44.7%,#22ebaa 45.4%,#75fe5c 46.9%,#a7fc3a 48.5%,#b7f735 49.2%,#cdec34 52.3%,#d4e735 68.3%,#d4e735 99.6%)"></div>
<div style="left:167px;top:125px;width:131px;height:1px;background:linear-gradient(90deg,#372466 0.4%,#372466 34.0%,#392a73 37.0%,#3e3891 39.3%,#434eba 40.8%,#4776ee 42.4%,#4391fe 43.1%,#31aff5 43.9%,#1ccdd8 44.7%,#1ce6b4 45.4%,#38f491 46.2%,#65fd69 46.9%,#88ff4e 47.7%,#affa37 49.2%,#c6f034 51.5%,#d0ea34 59.2%,#d0ea34 99.6%)"></div>
<div style="left:167px;top:126px;width:131px;height:1px;background:linear-gradient(90deg,#372466 0.4%,#372466 34.0%,#392a73 37.0%,#3e3891 39.3%,#455ed3 41.6%,#448ffe 43.1%,#33adf7 43.9%,#1ecbda 44.7%,#19e3b9 45.4%,#35f394 46.2%,#5dfc6f 46.9%,#80ff53 47.7%,#9cfe40 48.5%,#bcf534 50.8%,#cbed34 56.1%,#cbed34 99.6%)"></div>
<div style="left:167px;top:127px;width:131px;height:1px;background:linear-gradient(90deg,#372466 0.4%,#372466 34.0%,#392a73 37.0%,#3c3286 38.5%,#4143a7 40.1%,#4778f0 42.4%,#4391fe 43.1%,#31aff5 43.9%,#1ccdd8 44.7%,#1ae4b6 45.4%,#5dfc6f 46.9%,#80ff53 47.7%,#99fe42 48.5%,#b7f735 50.8%,#c3f134 55.3%,#c6f034 99.6%)"></div>
<div style="left:167px;top:128px;width:131px;height:1px;background:linear-gradient(90deg,#372466 0.4%,#372466 34.0%,#3b2f80 37.8%,#3f3b97 39.3%,#4666dd 41.6%,#467df4 42.4%,#4196ff 43.1%,#2eb4f2 43.9%,#1ad2d2 44.7%,#1ce6b4 45.4%,#59fb73 46.9%,#79fe59 47.7%,#9ffd3f 49.2%,#b7f735 53.1%,#b9f635 99.6%)"></div>
<div style="left:167px;top:129px;width:131px;height:1px;background:linear-gradient(90deg,#372466 0.4%,#372466 32.4%,#38276d 34.0%,#392a73 36.3%,#3d358b 38.5%,#4456c7 40.8%,#4680f6 42.4%,#4099ff 43.1%,#2cb7f0 43.9%,#1ad2d2 44.7%,#1ae4b6 45.4%,#52fa7a 46.9%,#6dfe62 47.7%,#8fff49 49.2%,#a1fd3d 51.5%,#a9fb39 60.7%,#a9fb39 99.6%)"></div>
<div style="left:167px;top:130px;width:131px;height:1px;background:linear-gradient(90deg,#38276d 0.4%,#38276d 32.4%,#3a2d79 36.3%,#3e3891 38.5%,#424bb5 40.1%,#466be3 41.6%,#4682f8 42.4%,#3e9bfe 43.1%,#2cb7f0 43.9%,#1ad2d2 44.7%,#19e3b9 45.4%,#43f787 46.9%,#6dfe62 48.5%,#88ff4e 50.8%,#92ff47 55.3%,#96fe44 99.6%)"></div>
<div style="left:167px;top:131px;width:131px;height:1px;background:linear-gradient(90deg,#3b2f80 0.4%,#3b2f80 34.0%,#3f3b97 37.8%,#4454c3 40.1%,#4687fb 42.4%,#3ba0fd 43.1%,#2ab9ee 43.9%,#1bd0d5 44.7%,#18e0bd 45.4%,#46f884 47.7%,#61fc6c 49.2%,#75fe5c 53.1%,#79fe59 99.6%)"></div>
<div style="left:167px;top:132px;width:131px;height:1px;background:linear-gradient(90deg,#4040a2 0.4%,#4040a2 34.0%,#424bb5 37.8%,#4661d6 40.1%,#467df4 41.6%,#448ffe 42.4%,#3aa3fc 43.1%,#1ecbda 44.7%,#18dbc5 45.4%,#27eea4 46.9%,#4af880 50.0%,#55fa76 55.3%,#55fa76 99.6%)"></div>
<div style="left:167px;top:133px;width:131px;height:1px;background:linear-gradient(90deg,#4559cb 0.4%,#455ccf 35.5%,#4666dd 38.5%,#477bf2 40.8%,#4294ff 42.4%,#2eb4f2 43.9%,#1ad2d2 45.4%,#19e3b9 46.9%,#2ff19b 50.8%,#35f394 61.5%,#35f394 99.6%)"></div>
<div style="left:167px;top:134px;width:131px;height:1px;background:linear-gradient(90deg,#4778f0 0.4%,#477bf2 37.0%,#458afc 40.8%,#3aa3fc 43.1%,#1bd0d5 46.2%,#18e0bd 48.5%,#1fe9af 54.6%,#1fe9af 99.6%)"></div>
<div style="left:167px;top:135px;width:131px;height:1px;background:linear-gradient(90deg,#4196ff 0.4%,#4099ff 38.5%,#33adf7 43.1%,#1ad2d2 47.7%,#18ddc2 51.5%,#18e0bd 73.7%,#18e0bd 99.6%)"></div>
<div style="left:167px;top:136px;width:131px;height:1px;background:linear-gradient(90deg,#2eb4f2 0.4%,#2cb7f0 41.6%,#1ad4d0 50.0%,#18d7ca 56.9%,#18d7ca 99.6%)"></div>
<div style="left:167px;top:137px;width:131px;height:1px;background:linear-gradient(90deg,#20c7df 0.4%,#1fc9dd 43.1%,#19d5cd 53.1%,#19d5cd 99.6%)"></div>
<div style="left:167px;top:138px;width:131px;height:1px;background:linear-gradient(90deg,#1ccdd8 0.4%,#1bd0d5 43.9%,#19d5cd 56.1%,#19d5cd 99.6%)"></div>
<div style="left:167px;top:139px;width:131px;height:1px;background:linear-gradient(90deg,#1ad2d2 0.4%,#19d5cd 99.6%)"></div>
<div style="left:167px;top:140px;width:131px;height:1px;background:#19d5cd"></div>
<div style="left:167px;top:141px;width:131px;height:1px;background:#19d5cd"></div>
<div style="left:167px;top:142px;width:131px;height:1px;background:linear-gradient(90deg,#18d9c8 0.4%,#19d5cd 99.6%)"></div>
<div style="left:167px;top:143px;width:131px;height:1px;background:linear-gradient(90deg,#18dbc5 0.4%,#19d5cd 96.6%,#19d5cd 99.6%)"></div>
<div style="left:167px;top:144px;width:131px;height:1px;background:linear-gradient(90deg,#18dec0 0.4%,#18ddc2 43.9%,#19d5cd 58.4%,#1ad4d0 95.0%,#19d5cd 99.6%)"></div>
<div style="left:167px;top:145px;width:131px;height:1px;background:linear-gradient(90deg,#19e2bb 0.4%,#18dec0 44.7%,#19d5cd 56.9%,#1ad2d2 83.6%,#1ad2d2 94.3%,#19d5cd 99.6%)"></div>
<div style="left:167px;top:146px;width:131px;height:1px;background:linear-gradient(90deg,#19e3b9 0.4%,#18e0bd 44.7%,#18d7ca 53.1%,#1ad2d2 79.8%,#1fc9dd 88.9%,#1ad4d0 99.6%)"></div>
<div style="left:167px;top:147px;width:131px;height:1px;background:linear-gradient(90deg,#1de7b2 0.4%,#1ae4b6 42.4%,#18d7ca 53.1%,#1ad2d2 78.2%,#23c3e4 87.4%,#1ad4d0 99.6%)"></div>
<div style="left:167px;top:148px;width:131px;height:1px;background:linear-gradient(90deg,#20eaac 0.4%,#1fe9af 40.1%,#18d7ca 53.8%,#1ad2d2 76.7%,#28bceb 86.6%,#22c5e2 93.5%,#1ad2d2 99.6%)"></div>
<div style="left:167px;top:149px;width:131px;height:1px;background:linear-gradient(90deg,#25eca7 0.4%,#22ebaa 40.1%,#18d9c8 52.3%,#1ad2d2 76.0%,#2eb4f2 86.6%,#27bee9 92.7%,#1ad2d2 99.6%)"></div>
<div style="left:167px;top:150px;width:131px;height:1px;background:linear-gradient(90deg,#2cf09e 0.4%,#2aefa1 40.1%,#18dec0 50.0%,#18d7ca 57.6%,#19d5cd 73.7%,#23c3e4 81.3%,#2fb2f4 86.6%,#2ab9ee 92.0%,#1ad2d2 99.6%)"></div>
<div style="left:167px;top:151px;width:131px;height:1px;background:linear-gradient(90deg,#38f491 0.4%,#35f394 40.1%,#18e0bd 50.0%,#18d9c8 58.4%,#19d5cd 75.2%,#2eb4f2 86.6%,#2ab9ee 91.2%,#1ad4d0 99.6%)"></div>
<div style="left:167px;top:152px;width:131px;height:1px;background:linear-gradient(90deg,#4af880 0.4%,#46f884 38.5%,#2aefa1 45.4%,#19e2bb 50.8%,#18dbc5 58.4%,#19d5cd 76.0%,#2ab9ee 87.4%,#22c5e2 93.5%,#19d5cd 99.6%)"></div>
<div style="left:167px;top:153px;width:131px;height:1px;background:linear-gradient(90deg,#5dfc6f 0.4%,#59fb73 37.0%,#4af880 41.6%,#38f491 44.7%,#1de7b2 49.2%,#18ddc2 56.1%,#18d7ca 76.7%,#23c3e4 86.6%,#1fc9dd 92.7%,#18d7ca 99.6%)"></div>
<div style="left:167px;top:154px;width:131px;height:1px;background:linear-gradient(90deg,#71fe5f 0.4%,#6dfe62 37.0%,#59fb73 42.4%,#20eaac 49.2%,#18e0bd 54.6%,#18dbc5 76.0%,#1ecbda 87.4%,#18d9c8 98.9%,#18dbc5 99.6%)"></div>
<div style="left:167px;top:155px;width:131px;height:1px;background:linear-gradient(90deg,#88ff4e 0.4%,#84ff51 36.3%,#71fe5f 41.6%,#35f394 47.7%,#20eaac 50.8%,#19e2bb 56.1%,#18ddc2 79.0%,#19d5cd 88.2%,#18dec0 99.6%)"></div>
<div style="left:167px;top:156px;width:131px;height:1px;background:linear-gradient(90deg,#9cfe40 0.4%,#99fe42 37.0%,#7dff56 43.1%,#35f394 49.2%,#20eaac 53.8%,#1ce6b4 69.1%,#19e3b9 94.3%,#1ce6b4 99.6%)"></div>
<div style="left:167px;top:157px;width:131px;height:1px;background:linear-gradient(90deg,#b1f936 0.4%,#affa37 37.0%,#99fe42 43.1%,#65fd69 47.7%,#4af880 50.0%,#32f298 54.6%,#2cf09e 68.3%,#27eea4 92.0%,#2cf09e 99.6%)"></div>
<div style="left:167px;top:158px;width:131px;height:1px;background:linear-gradient(90deg,#cbed34 0.4%,#c8ef34 36.3%,#b7f735 42.4%,#92ff47 46.9%,#5dfc6f 52.3%,#4ef97d 57.6%,#46f884 92.7%,#4af880 99.6%)"></div>
<div style="left:167px;top:159px;width:131px;height:1px;background:linear-gradient(90deg,#e3db38 0.4%,#dfdf37 37.8%,#d0ea34 43.1%,#a1fd3d 49.2%,#88ff4e 53.8%,#7dff56 62.2%,#7dff56 99.6%)"></div>
<div style="left:167px;top:160px;width:131px;height:1px;background:linear-gradient(90deg,#f6c33a 0.4%,#f4c73a 38.5%,#e5d938 44.7%,#bef434 52.3%,#b4f836 63.7%,#b4f836 99.6%)"></div>
<div style="left:167px;top:161px;width:131px;height:1px;background:linear-gradient(90deg,#fea431 0.4%,#fea732 37.8%,#f8be39 46.2%,#e7d739 53.1%,#e1dd37 68.3%,#e1dd37 99.6%)"></div>
<div style="left:167px;top:162px;width:131px;height:1px;background:linear-gradient(90deg,#fa7b1f 0.4%,#fb7e21 37.8%,#fe9029 44.7%,#fcb336 53.1%,#fbb838 72.1%,#fbb838 99.6%)"></div>
<div style="left:167px;top:163px;width:131px;height:1px;background:linear-gradient(90deg,#ed5510 0.4%,#ef5811 40.8%,#fc8423 53.8%,#fd8a26 74.4%,#fd8a26 99.6%)"></div>
<div style="left:167px;top:164px;width:131px;height:1px;background:linear-gradient(90deg,#da3907 0.4%,#dd3d08 43.1%,#ec530f 56.9%,#ed5510 99.6%)"></div>
<div style="left:167px;top:165px;width:131px;height:1px;background:linear-gradient(90deg,#c12302 0.4%,#c52603 44.7%,#d23105 59.9%,#d23105 99.6%)"></div>
<div style="left:167px;top:166px;width:131px;height:1px;background:linear-gradient(90deg,#a91601 0.4%,#ac1701 46.2%,#b41b01 61.5%,#b41b01 99.6%)"></div>
<div style="left:167px;top:167px;width:131px;height:1px;background:#980e01"></div>
<div style="left:167px;top:168px;width:131px;height:1px;background:linear-gradient(90deg,#880802 0.4%,#8e0a01 99.6%)"></div>
<div style="left:167px;top:169px;width:131px;height:1px;background:#880802"></div>
<div style="left:167px;top:170px;width:131px;height:1px;background:linear-gradient(90deg,#8b0902 0.4%,#880802 48.5%,#810602 62.2%,#810602 99.6%)"></div>
<div style="left:167px;top:171px;width:131px;height:1px;background:linear-gradient(90deg,#a41301 0.4%,#9e1001 43.1%,#810602 56.1%,#810602 99.6%)"></div>
<div style="left:167px;top:172px;width:131px;height:1px;background:linear-gradient(90deg,#c52603 0.4%,#c12302 41.6%,#8e0a01 56.1%,#8b0902 99.6%)"></div>
<div style="left:167px;top:173px;width:131px;height:1px;background:linear-gradient(90deg,#ed5510 0.4%,#ec530f 38.5%,#dd3d08 45.4%,#b21a01 53.1%,#a41301 59.2%,#a11201 99.6%)"></div>
<div style="left:167px;top:174px;width:131px;height:1px;background:linear-gradient(90deg,#fcb136 0.4%,#fdae35 37.0%,#fea130 41.6%,#fd8d27 44.7%,#e84b0c 50.8%,#d43305 56.1%,#ce2d04 71.4%,#ce2d04 99.6%)"></div>
<div style="left:167px;top:175px;width:131px;height:1px;background:linear-gradient(90deg,#c6f034 0.4%,#c8ef34 37.8%,#dfdf37 44.7%,#fbb637 50.8%,#fe9b2d 56.1%,#fe932a 66.8%,#fe932a 99.6%)"></div>
<div style="left:167px;top:176px;width:131px;height:1px;background:linear-gradient(90deg,#61fc6c 0.4%,#65fd69 37.8%,#75fe5c 42.4%,#b1f936 50.0%,#cbed34 56.1%,#d0ea34 75.2%,#d0ea34 99.6%)"></div>
<div style="left:167px;top:177px;width:131px;height:1px;background:linear-gradient(90deg,#18dbc5 0.4%,#18ddc2 39.3%,#1de7b2 44.7%,#3cf58e 49.2%,#5dfc6f 53.1%,#71fe5f 58.4%,#75fe5c 99.6%)"></div>
<div style="left:167px;top:178px;width:131px;height:1px;background:linear-gradient(90deg,#4099ff 0.4%,#3e9bfe 38.5%,#33adf7 44.7%,#1ad4d0 51.5%,#18dec0 56.1%,#19e2bb 78.2%,#19e2bb 99.6%)"></div>
<div style="left:167px;top:179px;width:131px;height:1px;background:linear-gradient(90deg,#455ed3 0.4%,#4661d6 39.3%,#4776ee 46.2%,#4391fe 51.5%,#3ba0fd 57.6%,#3aa3fc 99.6%)"></div>
<div style="left:167px;top:180px;width:131px;height:1px;background:linear-gradient(90deg,#3e3891 0.4%,#3e3891 39.3%,#4146ac 46.2%,#455ed3 53.8%,#4664da 67.6%,#4664da 99.6%)"></div>
<div style="left:167px;top:181px;width:131px;height:1px;background:linear-gradient(90deg,#372466 0.4%,#372466 40.8%,#38276d 42.4%,#3a2d79 49.2%,#3c3286 52.3%,#3d358b 79.0%,#3d358b 99.6%)"></div>
<div style="left:167px;top:182px;width:131px;height:1px;background:linear-gradient(90deg,#351e58 0.4%,#351e58 38.5%,#36215f 40.1%,#36215f 46.9%,#372466 48.5%,#38276d 56.9%,#38276d 99.6%)"></div>
<div style="left:167px;top:183px;width:131px;height:1px;background:linear-gradient(90deg,#351e58 0.4%,#351e58 42.4%,#36215f 43.9%,#38276d 66.0%,#38276d 99.6%)"></div>
<div style="left:167px;top:184px;width:131px;height:1px;background:linear-gradient(90deg,#351e58 0.4%,#351e58 44.7%,#36215f 46.2%,#372466 56.9%,#372466 99.6%)"></div>
<div style="left:167px;top:185px;width:131px;height:1px;background:linear-gradient(90deg,#351e58 0.4%,#351e58 46.2%,#36215f 47.7%,#372466 59.9%,#372466 99.6%)"></div>
<div style="left:167px;top:186px;width:131px;height:1px;background:linear-gradient(90deg,#341b51 0.4%,#341b51 30.2%,#351e58 31.7%,#351e58 47.7%,#36215f 49.2%,#372466 68.3%,#372466 99.6%)"></div>
<div style="left:167px;top:187px;width:131px;height:1px;background:linear-gradient(90deg,#341b51 0.4%,#341b51 40.8%,#351e58 42.4%,#36215f 59.9%,#36215f 99.6%)"></div>
<div style="left:167px;top:188px;width:131px;height:1px;background:linear-gradient(90deg,#341b51 0.4%,#341b51 43.9%,#351e58 45.4%,#36215f 59.2%,#36215f 99.6%)"></div>
<div style="left:167px;top:189px;width:131px;height:1px;background:linear-gradient(90deg,#341b51 0.4%,#341b51 45.4%,#351e58 46.9%,#36215f 66.0%,#36215f 99.6%)"></div>
<div style="left:167px;top:190px;width:131px;height:1px;background:linear-gradient(90deg,#341b51 0.4%,#351e58 99.6%)"></div>
<div style="left:167px;top:191px;width:131px;height:1px;background:linear-gradient(90deg,#33184a 0.4%,#33184a 35.5%,#341b51 37.0%,#351e58 69.1%,#351e58 99.6%)"></div>
<div style="left:167px;top:192px;width:131px;height:1px;background:linear-gradient(90deg,#33184a 0.4%,#33184a 42.4%,#341b51 43.9%,#351e58 66.8%,#351e58 99.6%)"></div>
<div style="left:167px;top:193px;width:131px;height:1px;background:linear-gradient(90deg,#33184a 0.4%,#341b51 99.6%)"></div>
<div style="left:167px;top:194px;width:131px;height:1px;background:linear-gradient(90deg,#33184a 0.4%,#341b51 99.6%)"></div>
<div style="left:167px;top:195px;width:131px;height:1px;background:linear-gradient(90deg,#33184a 0.4%,#341b51 99.6%)"></div>
<div style="left:167px;top:196px;width:131px;height:1px;background:linear-gradient(90deg,#321543 0.4%,#33184a 91.2%,#33184a 99.6%)"></div>
<div style="left:167px;top:197px;width:131px;height:1px;background:linear-gradient(90deg,#321543 0.4%,#33184a 99.6%)"></div>
<div style="left:167px;top:198px;width:131px;height:1px;background:linear-gradient(90deg,#321543 0.4%,#33184a 99.6%)"></div>
<div style="left:167px;top:199px;width:131px;height:1px;background:linear-gradient(90deg,#321543 0.4%,#33184a 99.6%)"></div>
<div style="left:167px;top:200px;width:131px;height:1px;background:#321543"></div>
<div style="left:167px;top:201px;width:131px;height:1px;background:linear-gradient(90deg,#30123b 0.4%,#321543 85.9%,#321543 99.6%)"></div>
<div style="left:167px;top:202px;width:131px;height:1px;background:linear-gradient(90deg,#30123b 0.4%,#30123b 50.8%,#321543 52.3%,#321543 99.6%)"></div>
<div style="left:167px;top:203px;width:131px;height:3px;background:#30123b"></div>
<div style="left:28px;top:222px;width:131px;height:8px;background:#30123b"></div>
<div style="left:28px;top:230px;width:131px;height:1px;background:linear-gradient(90deg,#321543 0.4%,#30123b 92.0%,#30123b 99.6%)"></div>
<div style="left:28px;top:231px;width:131px;height:7px;background:#321543"></div>
<div style="left:28px;top:238px;width:131px;height:1px;background:linear-gradient(90deg,#33184a 0.4%,#321543 99.6%)"></div>
<div style="left:28px;top:239px;width:131px;height:1px;background:linear-gradient(90deg,#33184a 0.4%,#33184a 47.7%,#321543 49.2%,#33184a 70.6%,#33184a 99.6%)"></div>
<div style="left:28px;top:240px;width:131px;height:1px;background:#33184a"></div>
<div style="left:28px;top:241px;width:131px;height:1px;background:linear-gradient(90deg,#341b51 0.4%,#33184a 98.1%,#33184a 99.6%)"></div>
<div style="left:28px;top:242px;width:131px;height:1px;background:linear-gradient(90deg,#36215f 0.4%,#36215f 42.4%,#341b51 45.4%,#33184a 52.3%,#33184a 99.6%)"></div>
<div style="left:28px;top:243px;width:131px;height:1px;background:linear-gradient(90deg,#3c3286 0.4%,#3c3286 37.8%,#392a73 43.9%,#351e58 46.9%,#33184a 52.3%,#33184a 99.6%)"></div>
<div style="left:28px;top:244px;width:131px;height:1px;background:linear-gradient(90deg,#4249b1 0.4%,#4249b1 38.5%,#3f3e9c 43.1%,#36215f 48.5%,#341b51 54.6%,#351e58 56.1%,#36215f 72.1%,#36215f 99.6%)"></div>
<div style="left:28px;top:245px;width:131px;height:1px;background:linear-gradient(90deg,#4669e0 0.4%,#4666dd 40.1%,#4559cb 43.1%,#3f3b97 46.9%,#3c3286 48.5%,#392a73 51.5%,#392a73 99.6%)"></div>
<div style="left:28px;top:246px;width:131px;height:1px;background:linear-gradient(90deg,#4391fe 0.4%,#448ffe 39.3%,#467df4 43.1%,#4451bf 47.7%,#4146ac 50.0%,#3f3e9c 59.9%,#3f3b97 79.0%,#3f3b97 99.6%)"></div>
<div style="left:28px;top:247px;width:131px;height:1px;background:linear-gradient(90deg,#28bceb 0.4%,#2ab9ee 38.5%,#35abf8 42.4%,#458afc 45.4%,#476ee6 48.5%,#4661d6 54.6%,#455ccf 68.3%,#455ccf 99.6%)"></div>
<div style="left:28px;top:248px;width:131px;height:1px;background:linear-gradient(90deg,#18ddc2 0.4%,#18dbc5 38.5%,#1ad4d0 41.6%,#2ab9ee 44.7%,#4099ff 47.7%,#4687fb 53.8%,#4680f6 78.2%,#4680f6 99.6%)"></div>
<div style="left:28px;top:249px;width:131px;height:1px;background:linear-gradient(90deg,#2ff19b 0.4%,#2cf09e 37.8%,#20eaac 41.6%,#18d9c8 44.7%,#2ab9ee 48.5%,#33adf7 54.6%,#37a8fa 77.5%,#37a8fa 99.6%)"></div>
<div style="left:28px;top:250px;width:131px;height:1px;background:linear-gradient(90deg,#5dfc6f 0.4%,#59fb73 38.5%,#4af880 41.6%,#1ae4b6 46.2%,#1ad4d0 50.0%,#1fc9dd 63.7%,#1fc9dd 99.6%)"></div>
<div style="left:28px;top:251px;width:131px;height:1px;background:linear-gradient(90deg,#92ff47 0.4%,#8fff49 37.8%,#7dff56 41.6%,#52fa7a 44.7%,#2cf09e 46.9%,#1ce6b4 50.8%,#18d9c8 63.7%,#18d7ca 99.6%)"></div>
<div style="left:28px;top:252px;width:131px;height:1px;background:linear-gradient(90deg,#b9f635 0.4%,#b7f735 38.5%,#a9fb39 41.6%,#8fff49 43.9%,#46f884 47.7%,#32f298 50.8%,#19e2bb 60.7%,#18dec0 83.6%,#18dec0 99.6%)"></div>
<div style="left:28px;top:253px;width:131px;height:1px;background:linear-gradient(90deg,#dfdf37 0.4%,#dbe236 38.5%,#cdec34 41.6%,#a7fc3a 44.7%,#61fc6c 48.5%,#4af880 51.5%,#2aefa1 57.6%,#1de7b2 60.7%,#19e3b9 72.9%,#19e3b9 99.6%)"></div>
<div style="left:28px;top:254px;width:131px;height:1px;background:linear-gradient(90deg,#f4c73a 0.4%,#f1cb3a 39.3%,#e1dd37 42.4%,#b1f936 45.4%,#7dff56 48.5%,#65fd69 51.5%,#46f884 56.1%,#25eca7 60.7%,#1de7b2 66.8%,#1de7b2 99.6%)"></div>
<div style="left:28px;top:255px;width:131px;height:1px;background:linear-gradient(90deg,#fdac34 0.4%,#fdae35 37.8%,#f7c13a 41.6%,#e1dd37 43.9%,#a9fb39 46.9%,#84ff51 50.0%,#61fc6c 55.3%,#2ff19b 59.9%,#22ebaa 65.3%,#22ebaa 99.6%)"></div>
<div style="left:28px;top:256px;width:131px;height:1px;background:linear-gradient(90deg,#fb8122 0.4%,#fc8423 37.0%,#fe992c 40.8%,#f4c73a 43.9%,#cdec34 46.2%,#a7fc3a 48.5%,#71fe5f 55.3%,#38f491 59.9%,#2aefa1 65.3%,#27eea4 99.6%)"></div>
<div style="left:28px;top:257px;width:131px;height:1px;background:linear-gradient(90deg,#eb500e 0.4%,#ec530f 37.0%,#f26014 40.1%,#fc8423 42.4%,#f8be39 44.7%,#d2e935 46.9%,#affa37 49.2%,#84ff51 55.3%,#43f787 59.9%,#32f298 63.0%,#2ff19b 99.6%)"></div>
<div style="left:28px;top:258px;width:131px;height:1px;background:linear-gradient(90deg,#d23105 0.4%,#d63506 37.8%,#e4450a 40.8%,#f15d13 42.4%,#fea431 44.7%,#efcd3a 46.2%,#d4e735 47.7%,#b7f735 50.0%,#92ff47 55.3%,#55fa76 59.2%,#3cf58e 62.2%,#35f394 67.6%,#32f298 99.6%)"></div>
<div style="left:28px;top:259px;width:131px;height:1px;background:linear-gradient(90deg,#b41b01 0.4%,#b71d02 36.3%,#c82803 40.1%,#e4450a 42.4%,#f8721c 43.9%,#fdac34 45.4%,#ebd339 46.9%,#c8ef34 49.2%,#9cfe40 55.3%,#55fa76 59.9%,#3ff68a 63.0%,#38f491 76.7%,#38f491 99.6%)"></div>
<div style="left:28px;top:260px;width:131px;height:1px;background:linear-gradient(90deg,#9b0f01 0.4%,#9e1001 37.0%,#bc2002 40.8%,#d63506 42.4%,#f15d13 43.9%,#fe9e2f 45.4%,#f1cb3a 46.9%,#d7e535 48.5%,#b4f836 52.3%,#9ffd3f 55.3%,#5dfc6f 59.9%,#46f884 63.0%,#3ff68a 73.7%,#3ff68a 99.6%)"></div>
<div style="left:28px;top:261px;width:131px;height:1px;background:linear-gradient(90deg,#8e0a01 0.4%,#920b01 36.3%,#a11201 39.3%,#c12302 41.6%,#e14109 43.1%,#ef5811 43.9%,#fe992c 45.4%,#f2c93a 46.9%,#d0ea34 49.2%,#affa37 53.8%,#92ff47 56.9%,#65fd69 59.9%,#52fa7a 62.2%,#46f884 66.8%,#46f884 99.6%)"></div>
<div style="left:28px;top:262px;width:131px;height:1px;background:linear-gradient(90deg,#880802 0.4%,#8b0902 35.5%,#980e01 38.5%,#be2102 41.6%,#df3f08 43.1%,#ed5510 43.9%,#fe962b 45.4%,#f4c73a 46.9%,#d2e935 49.2%,#bcf534 52.3%,#9ffd3f 56.1%,#61fc6c 60.7%,#52fa7a 64.5%,#4ef97d 99.6%)"></div>
<div style="left:28px;top:263px;width:131px;height:1px;background:linear-gradient(90deg,#8b0902 0.4%,#8e0a01 36.3%,#9e1001 39.3%,#be2102 41.6%,#df3f08 43.1%,#ed5510 43.9%,#fe962b 45.4%,#f5c53a 46.9%,#d4e735 49.2%,#a9fb39 55.3%,#88ff4e 58.4%,#61fc6c 62.2%,#59fb73 66.8%,#59fb73 99.6%)"></div>
<div style="left:28px;top:264px;width:131px;height:1px;background:linear-gradient(90deg,#a11201 0.4%,#a41301 36.3%,#b21a01 39.3%,#cc2b04 41.6%,#e7490c 43.1%,#fb7e21 44.7%,#fbb637 46.2%,#dfdf37 48.5%,#c3f134 51.5%,#a9fb39 56.1%,#75fe5c 61.5%,#69fd66 67.6%,#69fd66 99.6%)"></div>
<div style="left:28px;top:265px;width:131px;height:1px;background:linear-gradient(90deg,#ca2a04 0.4%,#ce2d04 37.8%,#df3f08 40.8%,#ec530f 42.4%,#fe962b 44.7%,#f7c13a 46.2%,#dbe236 48.5%,#c6f034 51.5%,#a4fc3c 57.6%,#88ff4e 62.2%,#80ff53 71.4%,#80ff53 99.6%)"></div>
<div style="left:28px;top:266px;width:131px;height:1px;background:linear-gradient(90deg,#f26014 0.4%,#f36315 37.0%,#f9781e 40.8%,#fea933 43.9%,#ecd13a 46.2%,#d2e935 48.5%,#a7fc3a 59.2%,#9cfe40 65.3%,#9cfe40 99.6%)"></div>
<div style="left:28px;top:267px;width:131px;height:1px;background:linear-gradient(90deg,#fbb637 0.4%,#faba39 39.3%,#efcd3a 43.1%,#c8ef34 47.7%,#b9f635 53.1%,#b7f735 99.6%)"></div>
<div style="left:28px;top:268px;width:131px;height:1px;background:linear-gradient(90deg,#cbed34 0.4%,#c8ef34 40.8%,#b4f836 50.0%,#b9f635 55.3%,#d2e935 61.5%,#d7e535 88.2%,#d7e535 99.6%)"></div>
<div style="left:28px;top:269px;width:131px;height:1px;background:linear-gradient(90deg,#80ff53 0.4%,#84ff51 40.8%,#a7fc3a 48.5%,#b4f836 53.8%,#dbe236 58.4%,#efcd3a 62.2%,#f4c73a 71.4%,#f4c73a 99.6%)"></div>
<div style="left:28px;top:270px;width:131px;height:1px;background:linear-gradient(90deg,#32f298 0.4%,#35f394 37.8%,#46f884 41.6%,#61fc6c 43.9%,#8bff4b 46.9%,#9ffd3f 50.0%,#b4f836 53.8%,#d0ea34 56.1%,#f7c13a 59.2%,#fea130 62.2%,#fe932a 67.6%,#fe932a 99.6%)"></div>
<div style="left:28px;top:271px;width:131px;height:1px;background:linear-gradient(90deg,#18d9c8 0.4%,#18dbc5 37.8%,#1ce6b4 41.6%,#27eea4 43.1%,#65fd69 46.2%,#88ff4e 48.5%,#a9fb39 53.1%,#cbed34 55.3%,#f5c53a 57.6%,#fe9e2f 59.2%,#f46617 62.2%,#ed5510 66.8%,#ec530f 99.6%)"></div>
<div style="left:28px;top:272px;width:131px;height:1px;background:linear-gradient(90deg,#2fb2f4 0.4%,#2eb4f2 37.0%,#22c5e2 40.8%,#1ae4b6 43.9%,#35f394 45.4%,#6dfe62 47.7%,#8bff4b 50.0%,#b1f936 53.8%,#d0ea34 55.3%,#f1cb3a 56.9%,#fe9b2d 58.4%,#ef5811 60.7%,#e4450a 62.2%,#d63506 66.0%,#d43305 99.6%)"></div>
<div style="left:28px;top:273px;width:131px;height:1px;background:linear-gradient(90deg,#458cfd 0.4%,#448ffe 37.0%,#3e9bfe 40.1%,#2cb7f0 42.4%,#1ad4d0 43.9%,#18e0bd 44.7%,#20eaac 45.4%,#59fb73 47.7%,#79fe59 49.2%,#b1f936 53.8%,#d2e935 55.3%,#f6c33a 56.9%,#fea933 57.6%,#f66c19 59.2%,#e14109 60.7%,#c82803 63.0%,#b91e02 68.3%,#b91e02 99.6%)"></div>
<div style="left:28px;top:274px;width:131px;height:1px;background:linear-gradient(90deg,#466be3 0.4%,#476ee6 37.0%,#467df4 40.1%,#3d9efe 42.4%,#25c0e7 43.9%,#1ad4d0 44.7%,#19e2bb 45.4%,#38f491 46.9%,#5dfc6f 48.5%,#84ff51 50.8%,#affa37 53.8%,#d4e735 55.3%,#f8be39 56.9%,#fe9e2f 57.6%,#f05b12 59.2%,#d43305 60.7%,#bc2002 62.2%,#a41301 65.3%,#9e1001 74.4%,#9e1001 99.6%)"></div>
<div style="left:28px;top:275px;width:131px;height:1px;background:linear-gradient(90deg,#4454c3 0.4%,#4456c7 36.3%,#4669e0 40.1%,#458cfd 42.4%,#3d9efe 43.1%,#2fb2f4 43.9%,#18dbc5 45.4%,#1de7b2 46.2%,#43f787 47.7%,#7dff56 50.8%,#acfb38 53.8%,#d4e735 55.3%,#f9bc39 56.9%,#fe9b2d 57.6%,#f9751d 58.4%,#eb500e 59.2%,#ca2a04 60.7%,#a41301 63.0%,#920b01 66.0%,#8e0a01 99.6%)"></div>
<div style="left:28px;top:276px;width:131px;height:1px;background:linear-gradient(90deg,#4146ac 0.4%,#4146ac 34.0%,#434eba 37.8%,#455ccf 40.1%,#4771e9 41.6%,#4294ff 43.1%,#35abf8 43.9%,#1ad4d0 45.4%,#19e3b9 46.2%,#4af880 48.5%,#80ff53 51.5%,#a9fb39 53.8%,#d2e935 55.3%,#f9bc39 56.9%,#fe9b2d 57.6%,#eb500e 59.2%,#c82803 60.7%,#980e01 63.7%,#8b0902 66.8%,#880802 99.6%)"></div>
<div style="left:28px;top:277px;width:131px;height:1px;background:linear-gradient(90deg,#4040a2 0.4%,#4040a2 34.7%,#4146ac 37.8%,#4456c7 40.1%,#477bf2 42.4%,#448ffe 43.1%,#38a5fb 43.9%,#1bd0d5 45.4%,#18e0bd 46.2%,#32f298 47.7%,#6dfe62 50.8%,#84ff51 52.3%,#b7f735 54.6%,#e5d938 56.1%,#f8be39 56.9%,#fe9b2d 57.6%,#f9751d 58.4%,#eb500e 59.2%,#c82803 60.7%,#a91601 62.2%,#8e0a01 65.3%,#850702 75.2%,#850702 99.6%)"></div>
<div style="left:28px;top:278px;width:131px;height:1px;background:linear-gradient(90deg,#4040a2 0.4%,#4040a2 35.5%,#4249b1 38.5%,#455ed3 40.8%,#458cfd 43.1%,#3aa3fc 43.9%,#1ccdd8 45.4%,#18dec0 46.2%,#1fe9af 46.9%,#4ef97d 49.2%,#8fff49 53.1%,#b4f836 54.6%,#e3db38 56.1%,#f7c13a 56.9%,#fe9e2f 57.6%,#f9751d 58.4%,#eb500e 59.2%,#c82803 60.7%,#9e1001 63.0%,#880802 66.8%,#850702 99.6%)"></div>
<div style="left:28px;top:279px;width:131px;height:1px;background:linear-gradient(90deg,#4040a2 0.4%,#4040a2 34.0%,#4249b1 37.8%,#4456c7 40.1%,#466be3 41.6%,#458cfd 43.1%,#3ba0fd 43.9%,#2cb7f0 44.7%,#18ddc2 46.2%,#2aefa1 47.7%,#5dfc6f 50.8%,#88ff4e 53.1%,#affa37 54.6%,#dfdf37 56.1%,#f5c53a 56.9%,#fea431 57.6%,#fa7b1f 58.4%,#ed5510 59.2%,#cc2b04 60.7%,#a41301 63.0%,#8e0a01 66.0%,#880802 93.5%,#880802 99.6%)"></div>
<div style="left:28px;top:280px;width:131px;height:1px;background:linear-gradient(90deg,#4143a7 0.4%,#4143a7 35.5%,#424bb5 38.5%,#4661d6 40.8%,#477bf2 42.4%,#458cfd 43.1%,#3ba0fd 43.9%,#2cb7f0 44.7%,#18dbc5 46.2%,#27eea4 47.7%,#59fb73 50.8%,#71fe5f 52.3%,#a7fc3a 54.6%,#d9e436 56.1%,#efcd3a 56.9%,#fcb136 57.6%,#fd8d27 58.4%,#e84b0c 59.9%,#ce2d04 61.5%,#b41b01 63.7%,#a71401 67.6%,#a41301 99.6%)"></div>
<div style="left:28px;top:281px;width:131px;height:1px;background:linear-gradient(90deg,#4146ac 0.4%,#4146ac 34.7%,#434eba 38.5%,#4559cb 40.1%,#477bf2 42.4%,#458cfd 43.1%,#3ba0fd 43.9%,#1fc9dd 45.4%,#18d9c8 46.2%,#1ae4b6 46.9%,#46f884 50.0%,#75fe5c 53.1%,#b1f936 55.3%,#e1dd37 56.9%,#f5c53a 57.6%,#fea933 58.4%,#f76f1a 59.9%,#e84b0c 61.5%,#d43305 64.5%,#ce2d04 75.2%,#ce2d04 99.6%)"></div>
<div style="left:28px;top:282px;width:131px;height:1px;background:linear-gradient(90deg,#434eba 0.4%,#434eba 32.4%,#4454c3 37.0%,#4661d6 40.1%,#4682f8 42.4%,#4391fe 43.1%,#38a5fb 43.9%,#1ecbda 45.4%,#1ae4b6 46.9%,#43f787 50.0%,#69fd66 53.1%,#a1fd3d 55.3%,#cdec34 56.9%,#f2c93a 58.4%,#fea130 59.9%,#f9751d 62.2%,#f36315 64.5%,#f15d13 72.9%,#f15d13 99.6%)"></div>
<div style="left:28px;top:283px;width:131px;height:1px;background:linear-gradient(90deg,#455ed3 0.4%,#4661d6 36.3%,#466be3 39.3%,#4680f6 41.6%,#3e9bfe 43.1%,#27bee9 44.7%,#18dbc5 46.2%,#22ebaa 47.7%,#4ef97d 51.5%,#69fd66 53.8%,#b1f936 56.9%,#d7e535 58.4%,#f5c53a 60.7%,#fdae35 63.7%,#fea732 72.1%,#fea732 99.6%)"></div>
<div style="left:28px;top:284px;width:131px;height:1px;background:linear-gradient(90deg,#4773eb 0.4%,#4776ee 37.8%,#4687fb 40.8%,#38a5fb 43.1%,#22c5e2 44.7%,#18ddc2 46.2%,#2cf09e 48.5%,#59fb73 53.8%,#80ff53 56.1%,#affa37 58.4%,#cdec34 60.7%,#dde037 63.7%,#e1dd37 99.6%)"></div>
<div style="left:28px;top:285px;width:131px;height:1px;background:linear-gradient(90deg,#4687fb 0.4%,#458afc 37.8%,#4391fe 40.1%,#37a8fa 42.4%,#1ecbda 44.7%,#18e0bd 46.2%,#35f394 50.0%,#52fa7a 54.6%,#9cfe40 59.9%,#acfb38 63.0%,#b1f936 89.7%,#b1f936 99.6%)"></div>
<div style="left:28px;top:286px;width:131px;height:1px;background:linear-gradient(90deg,#3e9bfe 0.4%,#3d9efe 37.8%,#31aff5 41.6%,#1fc9dd 43.9%,#19e2bb 46.2%,#2ff19b 49.2%,#55fa76 56.9%,#79fe59 61.5%,#80ff53 68.3%,#80ff53 99.6%)"></div>
<div style="left:28px;top:287px;width:131px;height:1px;background:linear-gradient(90deg,#2eb4f2 0.4%,#2cb7f0 38.5%,#22c5e2 42.4%,#18dec0 45.4%,#2ff19b 50.0%,#46f884 56.9%,#59fb73 61.5%,#5dfc6f 99.6%)"></div>
<div style="left:28px;top:288px;width:131px;height:1px;background:linear-gradient(90deg,#1fc9dd 0.4%,#1ecbda 39.3%,#18d7ca 43.9%,#20eaac 47.7%,#32f298 52.3%,#43f787 63.7%,#43f787 99.6%)"></div>
<div style="left:28px;top:289px;width:131px;height:1px;background:linear-gradient(90deg,#18d7ca 0.4%,#18d9c8 40.8%,#1de7b2 46.9%,#2cf09e 52.3%,#2ff19b 99.6%)"></div>
<div style="left:28px;top:290px;width:131px;height:1px;background:linear-gradient(90deg,#19e2bb 0.4%,#19e3b9 43.9%,#27eea4 50.8%,#22ebaa 85.1%,#22ebaa 99.6%)"></div>
<div style="left:28px;top:291px;width:131px;height:1px;background:linear-gradient(90deg,#1ce6b4 0.4%,#1de7b2 44.7%,#25eca7 51.5%,#1de7b2 60.7%,#1de7b2 99.6%)"></div>
<div style="left:28px;top:292px;width:131px;height:1px;background:linear-gradient(90deg,#1de7b2 0.4%,#1fe9af 45.4%,#25eca7 50.8%,#19e3b9 59.9%,#19e3b9 99.6%)"></div>
<div style="left:28px;top:293px;width:131px;height:1px;background:linear-gradient(90deg,#1fe9af 0.4%,#20eaac 46.9%,#22ebaa 51.5%,#19e2bb 59.2%,#19e2bb 99.6%)"></div>
<div style="left:28px;top:294px;width:131px;height:1px;background:linear-gradient(90deg,#20eaac 0.4%,#22ebaa 51.5%,#18e0bd 59.2%,#18e0bd 99.6%)"></div>
<div style="left:28px;top:295px;width:131px;height:1px;background:linear-gradient(90deg,#20eaac 0.4%,#22ebaa 51.5%,#18dec0 59.2%,#18dec0 99.6%)"></div>
<div style="left:28px;top:296px;width:131px;height:1px;background:linear-gradient(90deg,#22ebaa 0.4%,#22ebaa 51.5%,#18ddc2 59.2%,#18ddc2 99.6%)"></div>
<div style="left:28px;top:297px;width:131px;height:1px;background:linear-gradient(90deg,#22ebaa 0.4%,#22ebaa 51.5%,#18ddc2 57.6%,#18dbc5 99.6%)"></div>
<div style="left:28px;top:298px;width:131px;height:1px;background:linear-gradient(90deg,#25eca7 0.4%,#25eca7 50.8%,#18dec0 56.1%,#18d9c8 63.7%,#18d9c8 99.6%)"></div>
<div style="left:28px;top:299px;width:131px;height:1px;background:linear-gradient(90deg,#25eca7 0.4%,#25eca7 50.8%,#18dec0 56.1%,#18d7ca 61.5%,#18d7ca 99.6%)"></div>
<div style="left:28px;top:300px;width:131px;height:1px;background:linear-gradient(90deg,#27eea4 0.4%,#27eea4 50.0%,#18ddc2 56.1%,#18d7ca 63.7%,#18d7ca 99.6%)"></div>
<div style="left:28px;top:301px;width:131px;height:1px;background:linear-gradient(90deg,#2cf09e 0.4%,#2aefa1 49.2%,#18dec0 56.1%,#18d7ca 61.5%,#18d7ca 99.6%)"></div>
<div style="left:28px;top:302px;width:131px;height:1px;background:linear-gradient(90deg,#2ff19b 0.4%,#2cf09e 49.2%,#18dec0 56.1%,#18d7ca 61.5%,#18d7ca 99.6%)"></div>
<div style="left:28px;top:303px;width:131px;height:1px;background:linear-gradient(90deg,#32f298 0.4%,#2ff19b 48.5%,#1fe9af 53.1%,#18dbc5 57.6%,#18d7ca 76.7%,#18d7ca 99.6%)"></div>
<div style="left:28px;top:304px;width:131px;height:1px;background:linear-gradient(90deg,#38f491 0.4%,#35f394 46.9%,#27eea4 51.5%,#18dec0 56.1%,#18d9c8 62.2%,#18d7ca 99.6%)"></div>
<div style="left:28px;top:305px;width:131px;height:1px;background:linear-gradient(90deg,#3cf58e 0.4%,#38f491 48.5%,#22ebaa 53.1%,#18ddc2 57.6%,#18d9c8 64.5%,#18d9c8 99.6%)"></div>
<div style="left:28px;top:306px;width:131px;height:1px;background:linear-gradient(90deg,#3ff68a 0.4%,#3ff68a 49.2%,#1ae4b6 55.3%,#18d9c8 61.5%,#18d9c8 99.6%)"></div>
<div style="left:28px;top:307px;width:131px;height:1px;background:linear-gradient(90deg,#4af880 0.4%,#4af880 50.0%,#2ff19b 53.1%,#19e3b9 56.1%,#18d9c8 63.0%,#18d9c8 99.6%)"></div>
<div style="left:28px;top:308px;width:131px;height:1px;background:linear-gradient(90deg,#61fc6c 0.4%,#5dfc6f 49.2%,#4ef97d 51.5%,#25eca7 54.6%,#18e0bd 57.6%,#18dbc5 63.7%,#18d9c8 99.6%)"></div>
<div style="left:28px;top:309px;width:131px;height:1px;background:linear-gradient(90deg,#84ff51 0.4%,#80ff53 47.7%,#71fe5f 50.0%,#61fc6c 51.5%,#2cf09e 54.6%,#1ae4b6 56.9%,#18ddc2 61.5%,#18dbc5 99.6%)"></div>
<div style="left:28px;top:310px;width:131px;height:1px;background:linear-gradient(90deg,#a4fc3c 0.4%,#9ffd3f 46.9%,#8bff4b 50.0%,#75fe5c 51.5%,#2cf09e 55.3%,#19e3b9 58.4%,#18dec0 66.8%,#18dec0 99.6%)"></div>
<div style="left:28px;top:311px;width:131px;height:1px;background:linear-gradient(90deg,#bcf534 0.4%,#b9f635 45.4%,#a4fc3c 50.0%,#92ff47 51.5%,#61fc6c 53.8%,#32f298 56.1%,#22ebaa 57.6%,#19e3b9 63.0%,#19e3b9 99.6%)"></div>
<div style="left:28px;top:312px;width:131px;height:1px;background:linear-gradient(90deg,#d4e735 0.4%,#d0ea34 46.2%,#b7f735 50.8%,#92ff47 53.1%,#46f884 56.1%,#27eea4 58.4%,#1de7b2 64.5%,#1de7b2 99.6%)"></div>
<div style="left:28px;top:313px;width:131px;height:1px;background:linear-gradient(90deg,#ebd339 0.4%,#e7d739 45.4%,#dbe236 49.2%,#c6f034 51.5%,#affa37 53.1%,#8bff4b 54.6%,#3ff68a 57.6%,#2aefa1 60.7%,#25eca7 67.6%,#25eca7 99.6%)"></div>
<div style="left:28px;top:314px;width:131px;height:1px;background:linear-gradient(90deg,#fbb838 0.4%,#f9bc39 44.7%,#ebd339 50.0%,#d4e735 52.3%,#a7fc3a 54.6%,#5dfc6f 57.6%,#46f884 59.2%,#35f394 63.0%,#35f394 99.6%)"></div>
<div style="left:28px;top:315px;width:131px;height:1px;background:linear-gradient(90deg,#fe962b 0.4%,#fe992c 43.1%,#fea732 46.9%,#f5c53a 50.8%,#dde037 53.1%,#acfb38 55.3%,#71fe5f 58.4%,#59fb73 60.7%,#52fa7a 66.0%,#52fa7a 99.6%)"></div>
<div style="left:28px;top:316px;width:131px;height:1px;background:linear-gradient(90deg,#f9751d 0.4%,#f9781e 43.1%,#fe9029 47.7%,#fbb838 51.5%,#e5d938 53.8%,#b9f635 56.1%,#9ffd3f 57.6%,#8bff4b 59.2%,#7dff56 62.2%,#79fe59 99.6%)"></div>
<div style="left:28px;top:317px;width:131px;height:1px;background:linear-gradient(90deg,#f15d13 0.4%,#f26014 42.4%,#f9751d 47.7%,#fe9e2f 51.5%,#f6c33a 53.8%,#cdec34 56.9%,#b7f735 59.2%,#a9fb39 64.5%,#a9fb39 99.6%)"></div>
<div style="left:28px;top:318px;width:131px;height:1px;background:linear-gradient(90deg,#eb500e 0.4%,#ec530f 43.1%,#f46617 48.5%,#fd8a26 52.3%,#f9bc39 55.3%,#e9d539 57.6%,#d9e436 62.2%,#d7e535 99.6%)"></div>
<div style="left:28px;top:319px;width:131px;height:1px;background:linear-gradient(90deg,#e5470b 0.4%,#e84b0c 45.4%,#f15d13 50.0%,#f9781e 53.1%,#fea933 56.9%,#faba39 60.7%,#f9bc39 99.6%)"></div>
<div style="left:28px;top:320px;width:131px;height:1px;background:linear-gradient(90deg,#e14109 0.4%,#e4450a 45.4%,#ef5811 51.5%,#fb8122 58.4%,#fc8725 67.6%,#fc8725 99.6%)"></div>
<div style="left:28px;top:321px;width:131px;height:1px;background:linear-gradient(90deg,#dd3d08 0.4%,#e14109 45.4%,#ec530f 59.2%,#ec530f 99.6%)"></div>
<div style="left:28px;top:322px;width:131px;height:1px;background:linear-gradient(90deg,#dc3b07 0.4%,#df3f08 46.2%,#e2430a 53.1%,#d63506 61.5%,#d63506 99.6%)"></div>
<div style="left:28px;top:323px;width:131px;height:1px;background:linear-gradient(90deg,#df3f08 0.4%,#df3f08 51.5%,#c12302 59.2%,#bc2002 78.2%,#bc2002 99.6%)"></div>
<div style="left:28px;top:324px;width:131px;height:1px;background:linear-gradient(90deg,#e7490c 0.4%,#e4450a 47.7%,#ce2d04 53.8%,#a91601 59.2%,#a41301 77.5%,#a41301 99.6%)"></div>
<div style="left:28px;top:325px;width:131px;height:1px;background:linear-gradient(90deg,#f26014 0.4%,#f15d13 42.4%,#e14109 50.0%,#c12302 54.6%,#a11201 57.6%,#920b01 61.5%,#8e0a01 99.6%)"></div>
<div style="left:28px;top:326px;width:131px;height:1px;background:linear-gradient(90deg,#fd8d27 0.4%,#fd8a26 41.6%,#fa7b1f 45.4%,#e14109 51.5%,#b71d02 55.3%,#8e0a01 59.2%,#850702 66.0%,#850702 99.6%)"></div>
<div style="left:28px;top:327px;width:131px;height:1px;background:linear-gradient(90deg,#f9bc39 0.4%,#fbb838 42.4%,#fea933 45.4%,#fb8122 48.5%,#df3f08 53.1%,#b21a01 56.1%,#8e0a01 59.2%,#810602 66.8%,#810602 99.6%)"></div>
<div style="left:28px;top:328px;width:131px;height:1px;background:linear-gradient(90deg,#dde037 0.4%,#e1dd37 41.6%,#efcd3a 45.4%,#fea732 48.5%,#f66c19 51.5%,#e14109 53.8%,#b91e02 56.1%,#920b01 59.2%,#810602 64.5%,#810602 99.6%)"></div>
<div style="left:28px;top:329px;width:131px;height:1px;background:linear-gradient(90deg,#b7f735 0.4%,#b9f635 40.1%,#c6f034 43.9%,#e5d938 46.9%,#fbb637 49.2%,#f9781e 52.3%,#df3f08 54.6%,#b71d02 56.9%,#9b0f01 59.2%,#8b0902 61.5%,#850702 88.9%,#850702 99.6%)"></div>
<div style="left:28px;top:330px;width:131px;height:1px;background:linear-gradient(90deg,#8fff49 0.4%,#92ff47 40.1%,#a1fd3d 43.9%,#c6f034 46.9%,#f2c93a 50.0%,#fe9e2f 52.3%,#ef5811 54.6%,#cc2b04 56.9%,#b71d02 58.4%,#a41301 60.7%,#9b0f01 66.0%,#9b0f01 99.6%)"></div>
<div style="left:28px;top:331px;width:131px;height:1px;background:linear-gradient(90deg,#5dfc6f 0.4%,#61fc6c 40.8%,#71fe5f 43.9%,#b4f836 48.5%,#e7d739 51.5%,#fbb838 53.1%,#f8721c 55.3%,#e84b0c 56.9%,#d23105 59.2%,#c32503 63.7%,#c32503 99.6%)"></div>
<div style="left:28px;top:332px;width:131px;height:1px;background:linear-gradient(90deg,#2cf09e 0.4%,#2ff19b 41.6%,#3cf58e 44.7%,#5dfc6f 46.9%,#99fe42 50.0%,#c3f134 52.3%,#f1cb3a 54.6%,#fea933 56.1%,#fd8a26 57.6%,#f66c19 60.7%,#f36315 70.6%,#f36315 99.6%)"></div>
<div style="left:28px;top:333px;width:131px;height:1px;background:linear-gradient(90deg,#18d7ca 0.4%,#18d9c8 40.8%,#1ce6b4 46.2%,#32f298 48.5%,#55fa76 50.8%,#9ffd3f 53.8%,#bcf534 55.3%,#dde037 57.6%,#ecd13a 61.5%,#efcd3a 99.6%)"></div>
<div style="left:28px;top:334px;width:131px;height:1px;background:linear-gradient(90deg,#2fb2f4 0.4%,#2eb4f2 42.4%,#1fc9dd 46.9%,#19e3b9 50.8%,#2ff19b 53.1%,#7dff56 56.9%,#99fe42 59.9%,#9ffd3f 66.8%,#9ffd3f 99.6%)"></div>
<div style="left:28px;top:335px;width:131px;height:1px;background:linear-gradient(90deg,#4687fb 0.4%,#458afc 42.4%,#3ba0fd 47.7%,#25c0e7 51.5%,#18ddc2 54.6%,#2ff19b 58.4%,#3cf58e 62.2%,#3ff68a 99.6%)"></div>
<div style="left:28px;top:336px;width:131px;height:1px;background:linear-gradient(90deg,#4661d6 0.4%,#4664da 43.1%,#4682f8 50.0%,#3e9bfe 53.1%,#27bee9 56.1%,#1ad2d2 59.9%,#19d5cd 82.8%,#19d5cd 99.6%)"></div>
<div style="left:28px;top:337px;width:131px;height:1px;background:linear-gradient(90deg,#4040a2 0.4%,#4040a2 43.1%,#434eba 48.5%,#466be3 53.1%,#458cfd 56.9%,#3d9efe 63.0%,#3d9efe 99.6%)"></div>
<div style="left:28px;top:338px;width:131px;height:1px;background:linear-gradient(90deg,#38276d 0.4%,#38276d 43.9%,#3c3286 50.0%,#4559cb 56.1%,#4664da 59.2%,#4669e0 66.0%,#4669e0 99.6%)"></div>
<div style="left:28px;top:339px;width:131px;height:1px;background:linear-gradient(90deg,#33184a 0.4%,#33184a 45.4%,#341b51 46.9%,#351e58 50.0%,#3a2d79 54.6%,#3f3b97 58.4%,#3f3e9c 69.8%,#3f3e9c 99.6%)"></div>
<div style="left:28px;top:340px;width:131px;height:1px;background:linear-gradient(90deg,#30123b 0.4%,#30123b 49.2%,#321543 50.8%,#341b51 56.1%,#351e58 57.6%,#36215f 64.5%,#36215f 99.6%)"></div>
<div style="left:28px;top:341px;width:131px;height:1px;background:linear-gradient(90deg,#30123b 0.4%,#30123b 53.1%,#321543 54.6%,#33184a 61.5%,#33184a 99.6%)"></div>
<div style="left:28px;top:342px;width:131px;height:1px;background:linear-gradient(90deg,#30123b 0.4%,#30123b 53.8%,#321543 55.3%,#33184a 62.2%,#33184a 99.6%)"></div>
<div style="left:28px;top:343px;width:131px;height:1px;background:linear-gradient(90deg,#30123b 0.4%,#30123b 53.8%,#321543 55.3%,#33184a 63.7%,#33184a 99.6%)"></div>
<div style="left:28px;top:344px;width:131px;height:1px;background:linear-gradient(90deg,#30123b 0.4%,#30123b 53.8%,#321543 55.3%,#33184a 67.6%,#33184a 99.6%)"></div>
<div style="left:28px;top:345px;width:131px;height:1px;background:linear-gradient(90deg,#30123b 0.4%,#30123b 53.8%,#321543 55.3%,#33184a 76.7%,#33184a 99.6%)"></div>
<div style="left:28px;top:346px;width:131px;height:3px;background:linear-gradient(90deg,#30123b 0.4%,#30123b 54.6%,#321543 56.1%,#321543 99.6%)"></div>
<div style="left:28px;top:349px;width:131px;height:2px;background:linear-gradient(90deg,#30123b 0.4%,#30123b 55.3%,#321543 56.9%,#321543 99.6%)"></div>
<div style="left:28px;top:351px;width:131px;height:1px;background:linear-gradient(90deg,#30123b 0.4%,#30123b 56.1%,#321543 57.6%,#321543 99.6%)"></div>
<div style="left:28px;top:352px;width:131px;height:1px;background:linear-gradient(90deg,#30123b 0.4%,#30123b 56.9%,#321543 58.4%,#321543 99.6%)"></div>
<div style="left:28px;top:353px;width:131px;height:1px;background:linear-gradient(90deg,#30123b 0.4%,#30123b 57.6%,#321543 59.2%,#321543 99.6%)"></div>
<div style="left:28px;top:354px;width:131px;height:1px;background:linear-gradient(90deg,#30123b 0.4%,#30123b 60.7%,#321543 62.2%,#321543 99.6%)"></div>
<div style="left:28px;top:355px;width:131px;height:9px;background:#30123b"></div>
<div style="left:167px;top:222px;width:131px;height:10px;background:#30123b"></div>
<div style="left:167px;top:232px;width:131px;height:1px;background:linear-gradient(90deg,#321543 0.4%,#30123b 96.6%,#30123b 99.6%)"></div>
<div style="left:167px;top:233px;width:131px;height:8px;background:#321543"></div>
<div style="left:167px;top:241px;width:131px;height:1px;background:linear-gradient(90deg,#33184a 0.4%,#321543 92.7%,#321543 99.6%)"></div>
<div style="left:167px;top:242px;width:131px;height:1px;background:linear-gradient(90deg,#33184a 0.4%,#321543 99.6%)"></div>
<div style="left:167px;top:243px;width:131px;height:3px;background:#33184a"></div>
<div style="left:167px;top:246px;width:131px;height:1px;background:linear-gradient(90deg,#36215f 0.4%,#36215f 26.3%,#351e58 27.9%,#351e58 40.8%,#341b51 42.4%,#33184a 47.7%,#33184a 99.6%)"></div>
<div style="left:167px;top:247px;width:131px;height:1px;background:linear-gradient(90deg,#3d358b 0.4%,#3d358b 34.7%,#3b2f80 39.3%,#341b51 45.4%,#33184a 50.8%,#33184a 99.6%)"></div>
<div style="left:167px;top:248px;width:131px;height:1px;background:linear-gradient(90deg,#4454c3 0.4%,#4451bf 37.0%,#4146ac 40.1%,#392a73 43.9%,#351e58 46.9%,#341b51 50.0%,#341b51 99.6%)"></div>
<div style="left:167px;top:249px;width:131px;height:1px;background:linear-gradient(90deg,#467df4 0.4%,#477bf2 36.3%,#466be3 39.3%,#4456c7 41.6%,#3c3286 45.4%,#38276d 48.5%,#372466 56.9%,#372466 99.6%)"></div>
<div style="left:167px;top:250px;width:131px;height:1px;background:linear-gradient(90deg,#2fb2f4 0.4%,#31aff5 34.0%,#3aa3fc 37.8%,#4685fa 40.8%,#4559cb 43.9%,#4143a7 46.2%,#3e3891 50.0%,#3d358b 61.5%,#3d358b 99.6%)"></div>
<div style="left:167px;top:251px;width:131px;height:1px;background:linear-gradient(90deg,#18dbc5 0.4%,#18d9c8 34.7%,#1fc9dd 38.5%,#35abf8 40.8%,#448ffe 42.4%,#4664da 45.4%,#4454c3 48.5%,#424bb5 55.3%,#4249b1 99.6%)"></div>
<div style="left:167px;top:252px;width:131px;height:1px;background:linear-gradient(90deg,#32f298 0.4%,#2ff19b 34.7%,#1ce6b4 38.5%,#1ccdd8 40.8%,#38a5fb 43.1%,#4687fb 45.4%,#4776ee 48.5%,#4664da 58.4%,#4664da 99.6%)"></div>
<div style="left:167px;top:253px;width:131px;height:1px;background:linear-gradient(90deg,#6dfe62 0.4%,#69fd66 34.0%,#59fb73 37.0%,#38f491 39.3%,#1de7b2 40.8%,#1ad4d0 42.4%,#2eb4f2 44.7%,#3d9efe 47.7%,#4682f8 57.6%,#4680f6 99.6%)"></div>
<div style="left:167px;top:254px;width:131px;height:1px;background:linear-gradient(90deg,#a4fc3c 0.4%,#a1fd3d 34.0%,#96fe44 37.0%,#71fe5f 39.3%,#2ff19b 41.6%,#19e2bb 43.1%,#22c5e2 46.2%,#37a8fa 54.6%,#3ba0fd 62.2%,#3ba0fd 99.6%)"></div>
<div style="left:167px;top:255px;width:131px;height:1px;background:linear-gradient(90deg,#d2e935 0.4%,#d0ea34 33.2%,#c1f334 37.0%,#a7fc3a 39.3%,#80ff53 40.8%,#35f394 43.1%,#1de7b2 44.7%,#18d7ca 47.7%,#23c3e4 56.1%,#25c0e7 99.6%)"></div>
<div style="left:167px;top:256px;width:131px;height:1px;background:linear-gradient(90deg,#f4c73a 0.4%,#f1cb3a 34.7%,#e3db38 37.8%,#c1f334 40.1%,#99fe42 41.6%,#4af880 43.9%,#2cf09e 45.4%,#1fe9af 47.7%,#18dbc5 56.1%,#18d9c8 99.6%)"></div>
<div style="left:167px;top:257px;width:131px;height:1px;background:linear-gradient(90deg,#fe962b 0.4%,#fe992c 33.2%,#fdac34 37.0%,#efcd3a 39.3%,#d2e935 40.8%,#a7fc3a 42.4%,#61fc6c 44.7%,#43f787 46.2%,#2ff19b 49.2%,#1fe9af 56.9%,#1fe9af 99.6%)"></div>
<div style="left:167px;top:258px;width:131px;height:1px;background:linear-gradient(90deg,#f15d13 0.4%,#f26014 33.2%,#f76f1a 36.3%,#fc8423 37.8%,#f9bc39 40.1%,#dbe236 41.6%,#affa37 43.1%,#71fe5f 45.4%,#59fb73 46.9%,#43f787 50.8%,#35f394 57.6%,#35f394 99.6%)"></div>
<div style="left:167px;top:259px;width:131px;height:1px;background:linear-gradient(90deg,#d63506 0.4%,#da3907 34.0%,#e84b0c 37.0%,#f46617 38.5%,#fe992c 40.1%,#fbb637 40.8%,#dde037 42.4%,#b1f936 43.9%,#75fe5c 46.9%,#59fb73 52.3%,#52fa7a 66.0%,#52fa7a 99.6%)"></div>
<div style="left:167px;top:260px;width:131px;height:1px;background:linear-gradient(90deg,#b41b01 0.4%,#b71d02 32.4%,#c82803 36.3%,#e5470b 38.5%,#f05b12 39.3%,#fe9b2d 40.8%,#faba39 41.6%,#d7e535 43.1%,#affa37 44.7%,#92ff47 46.2%,#79fe59 49.2%,#75fe5c 99.6%)"></div>
<div style="left:167px;top:261px;width:131px;height:1px;background:linear-gradient(90deg,#9b0f01 0.4%,#9e1001 32.4%,#ac1701 35.5%,#ca2a04 37.8%,#e7490c 39.3%,#fd8a26 40.8%,#fdac34 41.6%,#f4c73a 42.4%,#cdec34 43.9%,#acfb38 45.4%,#92ff47 47.7%,#8bff4b 50.8%,#96fe44 63.7%,#96fe44 99.6%)"></div>
<div style="left:167px;top:262px;width:131px;height:1px;background:linear-gradient(90deg,#8b0902 0.4%,#8e0a01 33.2%,#a71401 36.3%,#ce2d04 38.5%,#ef5811 40.1%,#fb7e21 40.8%,#fea130 41.6%,#f8be39 42.4%,#d7e535 43.9%,#b7f735 45.4%,#9ffd3f 47.7%,#9ffd3f 51.5%,#acfb38 59.2%,#acfb38 99.6%)"></div>
<div style="left:167px;top:263px;width:131px;height:1px;background:linear-gradient(90deg,#810602 0.4%,#850702 32.4%,#950d01 35.5%,#b91e02 37.8%,#dc3b07 39.3%,#ec530f 40.1%,#fe9b2d 41.6%,#faba39 42.4%,#dde037 43.9%,#bef434 45.4%,#a9fb39 47.7%,#acfb38 50.8%,#c3f134 57.6%,#c6f034 99.6%)"></div>
<div style="left:167px;top:264px;width:131px;height:1px;background:linear-gradient(90deg,#850702 0.4%,#880802 32.4%,#980e01 35.5%,#bc2002 37.8%,#dd3d08 39.3%,#ed5510 40.1%,#fe9b2d 41.6%,#fbb838 42.4%,#dfdf37 43.9%,#b9f635 46.2%,#b1f936 49.2%,#d7e535 56.1%,#dde037 79.0%,#dde037 99.6%)"></div>
<div style="left:167px;top:265px;width:131px;height:1px;background:linear-gradient(90deg,#920b01 0.4%,#950d01 31.7%,#a11201 34.7%,#b71d02 37.0%,#d43305 38.5%,#f15d13 40.1%,#fea130 41.6%,#ecd13a 43.1%,#d0ea34 44.7%,#bcf534 46.2%,#b4f836 48.5%,#c6f034 51.5%,#e1dd37 54.6%,#eecf3a 59.2%,#efcd3a 99.6%)"></div>
<div style="left:167px;top:266px;width:131px;height:1px;background:linear-gradient(90deg,#af1801 0.4%,#b41b01 33.2%,#c52603 36.3%,#e2430a 38.5%,#ed5510 39.3%,#fe9029 40.8%,#f5c53a 42.4%,#d9e436 43.9%,#c1f334 45.4%,#b7f735 47.7%,#c1f334 50.0%,#f1cb3a 54.6%,#fbb838 57.6%,#fcb336 68.3%,#fcb336 99.6%)"></div>
<div style="left:167px;top:267px;width:131px;height:1px;background:linear-gradient(90deg,#d83706 0.4%,#dc3b07 34.0%,#e84b0c 37.0%,#f46617 38.5%,#fdac34 40.8%,#ecd13a 42.4%,#d0ea34 43.9%,#b9f635 46.2%,#bcf534 48.5%,#d2e935 50.8%,#f8be39 53.8%,#fe9b2d 56.9%,#fd8d27 61.5%,#fd8d27 99.6%)"></div>
<div style="left:167px;top:268px;width:131px;height:1px;background:linear-gradient(90deg,#f66c19 0.4%,#f76f1a 32.4%,#fb7e21 36.3%,#fea933 39.3%,#e9d539 41.6%,#c6f034 43.9%,#b7f735 46.2%,#bef434 48.5%,#dde037 50.8%,#fbb637 53.1%,#fa7b1f 56.1%,#f56918 58.4%,#f26014 65.3%,#f26014 99.6%)"></div>
<div style="left:167px;top:269px;width:131px;height:1px;background:linear-gradient(90deg,#fcb336 0.4%,#fbb637 34.7%,#f2c93a 38.5%,#c1f334 43.1%,#b4f836 45.4%,#b9f635 47.7%,#d7e535 50.0%,#fbb637 52.3%,#f9751d 54.6%,#ef5811 56.1%,#e4450a 58.4%,#df3f08 69.8%,#df3f08 99.6%)"></div>
<div style="left:167px;top:270px;width:131px;height:1px;background:linear-gradient(90deg,#dbe236 0.4%,#d7e535 36.3%,#c6f034 40.1%,#acfb38 43.9%,#b1f936 46.9%,#bef434 48.5%,#e9d539 50.8%,#fdac34 52.3%,#f8721c 53.8%,#e84b0c 55.3%,#d02f05 58.4%,#c82803 66.0%,#c82803 99.6%)"></div>
<div style="left:167px;top:271px;width:131px;height:1px;background:linear-gradient(90deg,#a1fd3d 0.4%,#9ffd3f 45.4%,#affa37 47.7%,#d7e535 50.0%,#f7c13a 51.5%,#fea732 52.3%,#f46617 53.8%,#dd3d08 55.3%,#c32503 57.6%,#b21a01 61.5%,#af1801 99.6%)"></div>
<div style="left:167px;top:272px;width:131px;height:1px;background:linear-gradient(90deg,#4ef97d 0.4%,#52fa7a 35.5%,#59fb73 37.8%,#92ff47 45.4%,#a4fc3c 47.7%,#d0ea34 50.0%,#f4c73a 51.5%,#fdac34 52.3%,#fd8a26 53.1%,#f46617 53.8%,#e84b0c 54.6%,#cc2b04 56.1%,#a91601 59.2%,#9e1001 64.5%,#9e1001 99.6%)"></div>
<div style="left:167px;top:273px;width:131px;height:1px;background:linear-gradient(90deg,#18e0bd 0.4%,#19e3b9 34.7%,#22ebaa 37.8%,#4af880 40.8%,#75fe5c 43.9%,#92ff47 46.9%,#b4f836 49.2%,#dbe236 50.8%,#eecf3a 51.5%,#fcb336 52.3%,#fe9029 53.1%,#e84b0c 54.6%,#c82803 56.1%,#a41301 58.4%,#920b01 61.5%,#8e0a01 99.6%)"></div>
<div style="left:167px;top:274px;width:131px;height:1px;background:linear-gradient(90deg,#2ab9ee 0.4%,#28bceb 33.2%,#20c7df 36.3%,#19e2bb 39.3%,#2aefa1 40.8%,#61fc6c 43.9%,#8fff49 47.7%,#bcf534 50.0%,#e9d539 51.5%,#faba39 52.3%,#fe992c 53.1%,#f76f1a 53.8%,#ea4e0d 54.6%,#c52603 56.1%,#9e1001 58.4%,#8b0902 60.7%,#850702 69.8%,#850702 99.6%)"></div>
<div style="left:167px;top:275px;width:131px;height:1px;background:linear-gradient(90deg,#4294ff 0.4%,#4196ff 32.4%,#3ba0fd 35.5%,#2ab9ee 37.8%,#18dbc5 40.1%,#25eca7 41.6%,#4ef97d 43.9%,#92ff47 48.5%,#b7f735 50.0%,#e5d938 51.5%,#f8be39 52.3%,#fe9b2d 53.1%,#eb500e 54.6%,#c82803 56.1%,#a71401 57.6%,#8b0902 60.7%,#810602 66.8%,#810602 99.6%)"></div>
<div style="left:167px;top:276px;width:131px;height:1px;background:linear-gradient(90deg,#4778f0 0.4%,#477bf2 32.4%,#458cfd 36.3%,#3aa3fc 37.8%,#27bee9 39.3%,#18dbc5 40.8%,#25eca7 42.4%,#4af880 44.7%,#69fd66 46.9%,#affa37 50.0%,#c6f034 50.8%,#f6c33a 52.3%,#fea130 53.1%,#ec530f 54.6%,#da3907 55.3%,#b71d02 56.9%,#950d01 59.2%,#850702 63.0%,#810602 99.6%)"></div>
<div style="left:167px;top:277px;width:131px;height:1px;background:linear-gradient(90deg,#4669e0 0.4%,#466be3 32.4%,#4778f0 35.5%,#4294ff 37.8%,#2fb2f4 39.3%,#1ad4d0 40.8%,#18e0bd 41.6%,#3ff68a 44.7%,#5dfc6f 46.9%,#92ff47 49.2%,#c1f334 50.8%,#f4c73a 52.3%,#fea732 53.1%,#fa7b1f 53.8%,#ed5510 54.6%,#dc3b07 55.3%,#b91e02 56.9%,#9e1001 58.4%,#880802 61.5%,#850702 99.6%)"></div>
<div style="left:167px;top:278px;width:131px;height:1px;background:linear-gradient(90deg,#455ed3 0.4%,#4661d6 31.7%,#466be3 34.7%,#4680f6 37.0%,#4099ff 38.5%,#28bceb 40.1%,#18dbc5 41.6%,#22ebaa 43.1%,#52fa7a 46.9%,#71fe5f 48.5%,#9ffd3f 50.0%,#b9f635 50.8%,#d4e735 51.5%,#eecf3a 52.3%,#fdae35 53.1%,#fc8725 53.8%,#f26014 54.6%,#e2430a 55.3%,#c32503 56.9%,#ac1701 58.4%,#980e01 61.5%,#920b01 68.3%,#920b01 99.6%)"></div>
<div style="left:167px;top:279px;width:131px;height:1px;background:linear-gradient(90deg,#4559cb 0.4%,#455ccf 31.7%,#4666dd 34.7%,#477bf2 37.0%,#4294ff 38.5%,#2cb7f0 40.1%,#19d5cd 41.6%,#1de7b2 43.1%,#46f884 46.9%,#61fc6c 48.5%,#a9fb39 50.8%,#e1dd37 52.3%,#f7c13a 53.1%,#fea130 53.8%,#f15d13 55.3%,#dc3b07 56.9%,#c52603 59.2%,#b71d02 64.5%,#b71d02 99.6%)"></div>
<div style="left:167px;top:280px;width:131px;height:1px;background:linear-gradient(90deg,#4559cb 0.4%,#455ccf 32.4%,#4669e0 35.5%,#4685fa 37.8%,#3aa3fc 39.3%,#22c5e2 40.8%,#18ddc2 42.4%,#2ff19b 45.4%,#55fa76 48.5%,#99fe42 50.8%,#b4f836 51.5%,#e7d739 53.1%,#f8be39 53.8%,#fd8a26 55.3%,#f36315 56.9%,#e7490c 59.2%,#e14109 65.3%,#df3f08 99.6%)"></div>
<div style="left:167px;top:281px;width:131px;height:1px;background:linear-gradient(90deg,#455ccf 0.4%,#455ed3 32.4%,#4666dd 34.7%,#477bf2 37.0%,#4294ff 38.5%,#2eb4f2 40.1%,#1ad2d2 41.6%,#19e3b9 43.1%,#3ff68a 47.7%,#59fb73 49.2%,#9ffd3f 51.5%,#b7f735 52.3%,#e3db38 53.8%,#faba39 55.3%,#fe932a 57.6%,#fb7e21 61.5%,#fa7b1f 99.6%)"></div>
<div style="left:167px;top:282px;width:131px;height:1px;background:linear-gradient(90deg,#4661d6 0.4%,#4664da 32.4%,#4776ee 36.3%,#4196ff 38.5%,#2cb7f0 40.1%,#1ad2d2 41.6%,#19e3b9 43.1%,#43f787 48.5%,#61fc6c 50.0%,#a1fd3d 52.3%,#c8ef34 53.8%,#e5d938 55.3%,#f7c13a 57.6%,#fcb336 63.0%,#fcb136 99.6%)"></div>
<div style="left:167px;top:283px;width:131px;height:1px;background:linear-gradient(90deg,#476ee6 0.4%,#4771e9 33.2%,#4687fb 37.0%,#3d9efe 38.5%,#1fc9dd 40.8%,#18dec0 42.4%,#2cf09e 46.2%,#46f884 49.2%,#61fc6c 50.8%,#9ffd3f 53.1%,#bcf534 54.6%,#d9e436 56.9%,#e7d739 62.2%,#e9d539 99.6%)"></div>
<div style="left:167px;top:284px;width:131px;height:1px;background:linear-gradient(90deg,#4682f8 0.4%,#4685fa 33.2%,#4391fe 36.3%,#33adf7 38.5%,#22c5e2 40.1%,#18e0bd 42.4%,#38f491 48.5%,#52fa7a 50.8%,#92ff47 53.8%,#b1f936 56.1%,#c3f134 59.9%,#c6f034 99.6%)"></div>
<div style="left:167px;top:285px;width:131px;height:1px;background:linear-gradient(90deg,#3e9bfe 0.4%,#3d9efe 33.2%,#33adf7 37.0%,#1ccdd8 40.1%,#19e3b9 42.4%,#2aefa1 46.2%,#3cf58e 50.0%,#59fb73 52.3%,#8bff4b 55.3%,#9ffd3f 58.4%,#a4fc3c 88.9%,#a4fc3c 99.6%)"></div>
<div style="left:167px;top:286px;width:131px;height:1px;background:linear-gradient(90deg,#2cb7f0 0.4%,#2ab9ee 34.0%,#20c7df 37.8%,#19e2bb 41.6%,#2aefa1 46.2%,#3cf58e 50.8%,#75fe5c 56.9%,#7dff56 61.5%,#7dff56 99.6%)"></div>
<div style="left:167px;top:287px;width:131px;height:1px;background:linear-gradient(90deg,#1fc9dd 0.4%,#1ecbda 34.0%,#18d7ca 38.5%,#22ebaa 43.9%,#32f298 50.0%,#59fb73 56.1%,#61fc6c 59.2%,#65fd69 99.6%)"></div>
<div style="left:167px;top:288px;width:131px;height:1px;background:linear-gradient(90deg,#1ad4d0 0.4%,#19d5cd 35.5%,#1de7b2 42.4%,#38f491 51.5%,#4ef97d 56.9%,#4ef97d 99.6%)"></div>
<div style="left:167px;top:289px;width:131px;height:1px;background:linear-gradient(90deg,#18dbc5 0.4%,#18ddc2 37.0%,#27eea4 46.9%,#3cf58e 55.3%,#3ff68a 99.6%)"></div>
<div style="left:167px;top:290px;width:131px;height:1px;background:linear-gradient(90deg,#18e0bd 0.4%,#19e3b9 39.3%,#2aefa1 48.5%,#2ff19b 62.2%,#2ff19b 99.6%)"></div>
<div style="left:167px;top:291px;width:131px;height:1px;background:linear-gradient(90deg,#1ae4b6 0.4%,#1de7b2 40.1%,#27eea4 49.2%,#25eca7 99.6%)"></div>
<div style="left:167px;top:292px;width:131px;height:1px;background:linear-gradient(90deg,#1de7b2 0.4%,#1fe9af 40.1%,#25eca7 46.9%,#1fe9af 57.6%,#1fe9af 99.6%)"></div>
<div style="left:167px;top:293px;width:131px;height:1px;background:linear-gradient(90deg,#20eaac 0.4%,#22ebaa 46.9%,#1ae4b6 54.6%,#1ae4b6 99.6%)"></div>
<div style="left:167px;top:294px;width:131px;height:1px;background:linear-gradient(90deg,#25eca7 0.4%,#25eca7 46.2%,#19e3b9 53.8%,#19e3b9 99.6%)"></div>
<div style="left:167px;top:295px;width:131px;height:1px;background:linear-gradient(90deg,#2aefa1 0.4%,#2aefa1 44.7%,#19e3b9 53.1%,#19e2bb 99.6%)"></div>
<div style="left:167px;top:296px;width:131px;height:1px;background:linear-gradient(90deg,#32f298 0.4%,#2ff19b 43.1%,#19e3b9 52.3%,#19e2bb 99.6%)"></div>
<div style="left:167px;top:297px;width:131px;height:1px;background:linear-gradient(90deg,#38f491 0.4%,#35f394 42.4%,#19e3b9 51.5%,#18e0bd 99.6%)"></div>
<div style="left:167px;top:298px;width:131px;height:1px;background:linear-gradient(90deg,#43f787 0.4%,#3ff68a 40.1%,#32f298 44.7%,#1ce6b4 50.0%,#18e0bd 56.9%,#18e0bd 99.6%)"></div>
<div style="left:167px;top:299px;width:131px;height:1px;background:linear-gradient(90deg,#4ef97d 0.4%,#4af880 39.3%,#2cf09e 46.2%,#1ae4b6 50.8%,#18e0bd 59.2%,#18e0bd 99.6%)"></div>
<div style="left:167px;top:300px;width:131px;height:1px;background:linear-gradient(90deg,#59fb73 0.4%,#55fa76 37.8%,#43f787 43.1%,#1fe9af 49.2%,#19e2bb 55.3%,#19e2bb 99.6%)"></div>
<div style="left:167px;top:301px;width:131px;height:1px;background:linear-gradient(90deg,#61fc6c 0.4%,#5dfc6f 39.3%,#38f491 45.4%,#20eaac 49.2%,#19e3b9 56.1%,#19e3b9 99.6%)"></div>
<div style="left:167px;top:302px;width:131px;height:1px;background:linear-gradient(90deg,#6dfe62 0.4%,#69fd66 38.5%,#43f787 44.7%,#25eca7 49.2%,#1ce6b4 54.6%,#1ce6b4 99.6%)"></div>
<div style="left:167px;top:303px;width:131px;height:1px;background:linear-gradient(90deg,#79fe59 0.4%,#75fe5c 37.8%,#61fc6c 41.6%,#2ff19b 47.7%,#20eaac 52.3%,#1fe9af 99.6%)"></div>
<div style="left:167px;top:304px;width:131px;height:1px;background:linear-gradient(90deg,#88ff4e 0.4%,#84ff51 36.3%,#7dff56 39.3%,#3cf58e 46.9%,#27eea4 52.3%,#25eca7 99.6%)"></div>
<div style="left:167px;top:305px;width:131px;height:1px;background:linear-gradient(90deg,#92ff47 0.4%,#8fff49 37.8%,#79fe59 41.6%,#4af880 46.9%,#35f394 51.5%,#32f298 99.6%)"></div>
<div style="left:167px;top:306px;width:131px;height:1px;background:linear-gradient(90deg,#a1fd3d 0.4%,#9cfe40 37.8%,#8fff49 40.8%,#52fa7a 48.5%,#46f884 53.8%,#43f787 99.6%)"></div>
<div style="left:167px;top:307px;width:131px;height:1px;background:linear-gradient(90deg,#acfb38 0.4%,#a9fb39 37.8%,#99fe42 41.6%,#69fd66 48.5%,#59fb73 53.1%,#59fb73 99.6%)"></div>
<div style="left:167px;top:308px;width:131px;height:1px;background:linear-gradient(90deg,#b7f735 0.4%,#b4f836 38.5%,#96fe44 44.7%,#79fe59 49.2%,#6dfe62 58.4%,#6dfe62 99.6%)"></div>
<div style="left:167px;top:309px;width:131px;height:1px;background:linear-gradient(90deg,#c8ef34 0.4%,#c6f034 37.8%,#a4fc3c 45.4%,#8fff49 50.8%,#88ff4e 63.0%,#88ff4e 99.6%)"></div>
<div style="left:167px;top:310px;width:131px;height:1px;background:linear-gradient(90deg,#e1dd37 0.4%,#dde037 38.5%,#cdec34 42.4%,#acfb38 49.2%,#a4fc3c 55.3%,#a4fc3c 99.6%)"></div>
<div style="left:167px;top:311px;width:131px;height:1px;background:linear-gradient(90deg,#f7c13a 0.4%,#f5c53a 38.5%,#e5d938 43.1%,#c3f134 49.2%,#b9f635 59.2%,#b9f635 99.6%)"></div>
<div style="left:167px;top:312px;width:131px;height:1px;background:linear-gradient(90deg,#fe962b 0.4%,#fe992c 37.0%,#fdae35 41.6%,#e5d938 46.9%,#d2e935 53.8%,#d2e935 99.6%)"></div>
<div style="left:167px;top:313px;width:131px;height:1px;background:linear-gradient(90deg,#f36315 0.4%,#f46617 37.0%,#fa7b1f 40.8%,#fbb637 45.4%,#efcd3a 49.2%,#e7d739 56.9%,#e7d739 99.6%)"></div>
<div style="left:167px;top:314px;width:131px;height:1px;background:linear-gradient(90deg,#dd3d08 0.4%,#e14109 37.8%,#eb500e 40.8%,#fb7e21 43.9%,#fea732 46.9%,#faba39 50.8%,#f6c33a 59.9%,#f6c33a 99.6%)"></div>
<div style="left:167px;top:315px;width:131px;height:1px;background:linear-gradient(90deg,#c12302 0.4%,#c52603 37.8%,#dc3b07 41.6%,#f36315 44.7%,#fc8423 46.9%,#fe992c 50.0%,#fea431 55.3%,#fea732 99.6%)"></div>
<div style="left:167px;top:316px;width:131px;height:1px;background:linear-gradient(90deg,#a91601 0.4%,#ac1701 37.0%,#b91e02 40.1%,#d83706 43.1%,#f26014 46.9%,#f9751d 50.0%,#fb7e21 56.9%,#fb7e21 99.6%)"></div>
<div style="left:167px;top:317px;width:131px;height:1px;background:linear-gradient(90deg,#980e01 0.4%,#9b0f01 36.3%,#a91601 40.1%,#d23105 43.9%,#ea4e0d 47.7%,#f05b12 53.8%,#f05b12 99.6%)"></div>
<div style="left:167px;top:318px;width:131px;height:1px;background:linear-gradient(90deg,#8b0902 0.4%,#8e0a01 36.3%,#9e1001 40.1%,#d23105 44.7%,#e2430a 48.5%,#e14109 99.6%)"></div>
<div style="left:167px;top:319px;width:131px;height:1px;background:linear-gradient(90deg,#880802 0.4%,#8b0902 37.0%,#a11201 40.8%,#d23105 45.4%,#da3907 49.2%,#ce2d04 57.6%,#ce2d04 99.6%)"></div>
<div style="left:167px;top:320px;width:131px;height:1px;background:linear-gradient(90deg,#8b0902 0.4%,#8e0a01 37.0%,#a11201 40.8%,#ce2d04 45.4%,#ce2d04 49.2%,#b91e02 55.3%,#b91e02 99.6%)"></div>
<div style="left:167px;top:321px;width:131px;height:1px;background:linear-gradient(90deg,#920b01 0.4%,#950d01 37.0%,#a41301 40.8%,#ca2a04 45.4%,#ca2a04 48.5%,#a71401 54.6%,#a41301 99.6%)"></div>
<div style="left:167px;top:322px;width:131px;height:1px;background:linear-gradient(90deg,#9b0f01 0.4%,#a11201 37.8%,#b91e02 42.4%,#d02f05 45.4%,#ca2a04 48.5%,#9e1001 53.8%,#950d01 60.7%,#950d01 99.6%)"></div>
<div style="left:167px;top:323px;width:131px;height:1px;background:linear-gradient(90deg,#b71d02 0.4%,#b91e02 37.8%,#cc2b04 42.4%,#dc3b07 45.4%,#d83706 47.7%,#a91601 52.3%,#950d01 56.1%,#920b01 99.6%)"></div>
<div style="left:167px;top:324px;width:131px;height:1px;background:linear-gradient(90deg,#dd3d08 0.4%,#e14109 40.1%,#eb500e 45.4%,#dd3d08 48.5%,#ac1701 52.3%,#980e01 55.3%,#8e0a01 61.5%,#8e0a01 99.6%)"></div>
<div style="left:167px;top:325px;width:131px;height:1px;background:linear-gradient(90deg,#fc8725 0.4%,#fc8423 41.6%,#f9781e 44.7%,#f26014 46.9%,#dd3d08 49.2%,#b21a01 52.3%,#9b0f01 54.6%,#8e0a01 59.9%,#8e0a01 99.6%)"></div>
<div style="left:167px;top:326px;width:131px;height:1px;background:linear-gradient(90deg,#e7d739 0.4%,#ebd339 38.5%,#f7c13a 42.4%,#fe9e2f 45.4%,#f76f1a 47.7%,#dc3b07 50.0%,#b41b01 52.3%,#980e01 55.3%,#8e0a01 59.2%,#8b0902 99.6%)"></div>
<div style="left:167px;top:327px;width:131px;height:1px;background:linear-gradient(90deg,#a9fb39 0.4%,#acfb38 36.3%,#b9f635 40.1%,#d9e436 43.1%,#fbb838 46.2%,#fa7b1f 48.5%,#e84b0c 50.0%,#c12302 52.3%,#a41301 54.6%,#950d01 58.4%,#920b01 99.6%)"></div>
<div style="left:167px;top:328px;width:131px;height:1px;background:linear-gradient(90deg,#65fd69 0.4%,#69fd66 37.0%,#7dff56 40.1%,#b4f836 43.9%,#dfdf37 46.2%,#f7c13a 47.7%,#fe932a 49.2%,#f15d13 50.8%,#dd3d08 52.3%,#c52603 54.6%,#b71d02 58.4%,#b41b01 99.6%)"></div>
<div style="left:167px;top:329px;width:131px;height:1px;background:linear-gradient(90deg,#20eaac 0.4%,#22ebaa 37.0%,#2ff19b 40.1%,#3ff68a 41.6%,#71fe5f 43.9%,#a9fb39 46.2%,#cdec34 47.7%,#faba39 50.0%,#fb8122 52.3%,#f46617 53.8%,#ed5510 56.1%,#eb500e 71.4%,#eb500e 99.6%)"></div>
<div style="left:167px;top:330px;width:131px;height:1px;background:linear-gradient(90deg,#25c0e7 0.4%,#23c3e4 37.0%,#1ad2d2 40.8%,#1ae4b6 43.1%,#2ff19b 44.7%,#69fd66 46.9%,#99fe42 48.5%,#bef434 50.0%,#dbe236 51.5%,#efcd3a 53.8%,#f7c13a 59.2%,#f8be39 99.6%)"></div>
<div style="left:167px;top:331px;width:131px;height:1px;background:linear-gradient(90deg,#4685fa 0.4%,#4687fb 37.0%,#3e9bfe 40.8%,#2cb7f0 43.1%,#18dec0 46.2%,#22ebaa 47.7%,#71fe5f 51.5%,#8bff4b 53.8%,#99fe42 57.6%,#9cfe40 99.6%)"></div>
<div style="left:167px;top:332px;width:131px;height:1px;background:linear-gradient(90deg,#4451bf 0.4%,#4454c3 37.0%,#455ccf 39.3%,#4778f0 42.4%,#4196ff 44.7%,#25c0e7 47.7%,#18ddc2 50.8%,#22ebaa 55.3%,#25eca7 99.6%)"></div>
<div style="left:167px;top:333px;width:131px;height:1px;background:linear-gradient(90deg,#3a2d79 0.4%,#3a2d79 35.5%,#3d358b 39.3%,#4456c7 43.1%,#4773eb 45.4%,#458cfd 47.7%,#37a8fa 50.8%,#28bceb 54.6%,#25c0e7 99.6%)"></div>
<div style="left:167px;top:334px;width:131px;height:1px;background:linear-gradient(90deg,#341b51 0.4%,#341b51 34.7%,#351e58 36.3%,#36215f 39.3%,#3a2d79 41.6%,#424bb5 45.4%,#4669e0 49.2%,#467df4 53.1%,#4685fa 59.2%,#4685fa 99.6%)"></div>
<div style="left:167px;top:335px;width:131px;height:1px;background:linear-gradient(90deg,#33184a 0.4%,#33184a 37.8%,#36215f 42.4%,#4040a2 50.0%,#434eba 54.6%,#434eba 99.6%)"></div>
<div style="left:167px;top:336px;width:131px;height:1px;background:linear-gradient(90deg,#33184a 0.4%,#33184a 41.6%,#341b51 43.1%,#351e58 46.2%,#3a2d79 53.1%,#3b2f80 59.9%,#3b2f80 99.6%)"></div>
<div style="left:167px;top:337px;width:131px;height:1px;background:linear-gradient(90deg,#33184a 0.4%,#33184a 40.8%,#321543 42.4%,#33184a 47.7%,#372466 52.3%,#38276d 59.2%,#38276d 99.6%)"></div>
<div style="left:167px;top:338px;width:131px;height:1px;background:linear-gradient(90deg,#33184a 0.4%,#33184a 38.5%,#321543 40.1%,#321543 46.9%,#36215f 52.3%,#372466 55.3%,#372466 99.6%)"></div>
<div style="left:167px;top:339px;width:131px;height:1px;background:linear-gradient(90deg,#33184a 0.4%,#33184a 37.0%,#321543 38.5%,#321543 46.9%,#372466 54.6%,#372466 99.6%)"></div>
<div style="left:167px;top:340px;width:131px;height:1px;background:linear-gradient(90deg,#321543 0.4%,#321543 47.7%,#36215f 52.3%,#372466 59.2%,#372466 99.6%)"></div>
<div style="left:167px;top:341px;width:131px;height:1px;background:linear-gradient(90deg,#321543 0.4%,#321543 47.7%,#36215f 53.8%,#372466 62.2%,#372466 99.6%)"></div>
<div style="left:167px;top:342px;width:131px;height:1px;background:linear-gradient(90deg,#321543 0.4%,#321543 47.7%,#36215f 53.8%,#36215f 99.6%)"></div>
<div style="left:167px;top:343px;width:131px;height:1px;background:linear-gradient(90deg,#321543 0.4%,#321543 47.7%,#351e58 52.3%,#36215f 57.6%,#36215f 99.6%)"></div>
<div style="left:167px;top:344px;width:131px;height:1px;background:linear-gradient(90deg,#321543 0.4%,#321543 43.1%,#30123b 44.7%,#33184a 50.0%,#351e58 53.1%,#36215f 58.4%,#36215f 99.6%)"></div>
<div style="left:167px;top:345px;width:131px;height:1px;background:linear-gradient(90deg,#321543 0.4%,#321543 43.1%,#30123b 44.7%,#33184a 50.0%,#351e58 53.1%,#351e58 99.6%)"></div>
<div style="left:167px;top:346px;width:131px;height:1px;background:linear-gradient(90deg,#321543 0.4%,#321543 42.4%,#30123b 43.9%,#321543 48.5%,#351e58 53.1%,#351e58 99.6%)"></div>
<div style="left:167px;top:347px;width:131px;height:1px;background:linear-gradient(90deg,#321543 0.4%,#321543 41.6%,#30123b 43.1%,#30123b 46.2%,#321543 47.7%,#351e58 55.3%,#351e58 99.6%)"></div>
<div style="left:167px;top:348px;width:131px;height:1px;background:linear-gradient(90deg,#321543 0.4%,#321543 40.8%,#30123b 42.4%,#30123b 46.2%,#321543 47.7%,#341b51 53.1%,#351e58 61.5%,#351e58 99.6%)"></div>
<div style="left:167px;top:349px;width:131px;height:1px;background:linear-gradient(90deg,#321543 0.4%,#321543 40.1%,#30123b 41.6%,#30123b 46.9%,#321543 48.5%,#341b51 53.8%,#341b51 99.6%)"></div>
<div style="left:167px;top:350px;width:131px;height:1px;background:linear-gradient(90deg,#321543 0.4%,#321543 39.3%,#30123b 40.8%,#30123b 46.9%,#321543 48.5%,#341b51 54.6%,#341b51 99.6%)"></div>
<div style="left:167px;top:351px;width:131px;height:1px;background:linear-gradient(90deg,#321543 0.4%,#321543 35.5%,#30123b 37.0%,#30123b 47.7%,#321543 49.2%,#341b51 56.1%,#341b51 99.6%)"></div>
<div style="left:167px;top:352px;width:131px;height:1px;background:linear-gradient(90deg,#30123b 0.4%,#30123b 47.7%,#321543 49.2%,#33184a 54.6%,#33184a 99.6%)"></div>
<div style="left:167px;top:353px;width:131px;height:1px;background:linear-gradient(90deg,#30123b 0.4%,#30123b 47.7%,#321543 49.2%,#33184a 56.1%,#33184a 99.6%)"></div>
<div style="left:167px;top:354px;width:131px;height:1px;background:linear-gradient(90deg,#30123b 0.4%,#30123b 48.5%,#321543 50.0%,#33184a 56.9%,#33184a 99.6%)"></div>
<div style="left:167px;top:355px;width:131px;height:1px;background:linear-gradient(90deg,#30123b 0.4%,#30123b 49.2%,#321543 50.8%,#33184a 61.5%,#33184a 99.6%)"></div>
<div style="left:167px;top:356px;width:131px;height:1px;background:linear-gradient(90deg,#30123b 0.4%,#321543 99.6%)"></div>
<div style="left:167px;top:357px;width:131px;height:1px;background:linear-gradient(90deg,#30123b 0.4%,#321543 99.6%)"></div>
<div style="left:167px;top:358px;width:131px;height:1px;background:linear-gradient(90deg,#30123b 0.4%,#30123b 51.5%,#321543 53.1%,#321543 99.6%)"></div>
<div style="left:167px;top:359px;width:131px;height:4px;background:#30123b"></div>
<div style="left:28px;top:9px;width:131px;height:1px;background:linear-gradient(90deg,#da0000 0.4%,#da0000 1.1%,#ca0000 1.9%,#590000 4.2%,#4a0000 5.0%,#930000 7.3%,#a30000 8.0%,#830000 11.1%,#8e0000 17.2%,#540000 20.2%,#8b0000 23.3%,#7b0000 26.3%,#900000 27.1%,#f90000 29.4%,#f70000 30.2%,#ab0000 32.4%,#960000 34.0%,#740000 45.4%,#960000 49.2%,#b80000 52.3%,#c20000 54.6%,#ff0a00 56.1%,#ff5900 57.6%,#ffd200 61.5%,#fff600 63.0%,#ffff3e 65.3%,#ffff71 66.8%,#ffff79 67.6%,#ffff1f 73.7%,#ffff2e 76.7%,#ffff65 80.5%,#ffff99 82.8%,#ffff2a 85.9%,#ffff2a 88.9%,#ffff65 92.0%,#ffff5a 92.7%,#ffff13 95.0%,#ffff17 96.6%,#ffff2a 99.6%)"></div>
<div style="left:28px;top:10px;width:131px;height:1px;background:linear-gradient(90deg,#da0000 0.4%,#da0000 1.1%,#ca0000 1.9%,#590000 4.2%,#4a0000 5.0%,#930000 7.3%,#a30000 8.0%,#830000 11.1%,#8e0000 17.2%,#540000 20.2%,#8b0000 23.3%,#7b0000 26.3%,#900000 27.1%,#f90000 29.4%,#f70000 30.2%,#ab0000 32.4%,#960000 34.0%,#740000 45.4%,#960000 49.2%,#b80000 52.3%,#c20000 54.6%,#ff0a00 56.1%,#ff5900 57.6%,#ffd200 61.5%,#fff600 63.0%,#ffff3e 65.3%,#ffff71 66.8%,#ffff79 67.6%,#ffff1f 73.7%,#ffff2e 76.7%,#ffff65 80.5%,#ffff99 82.8%,#ffff2a 85.9%,#ffff2a 88.9%,#ffff65 92.0%,#ffff5a 92.7%,#ffff13 95.0%,#ffff17 96.6%,#ffff2a 99.6%)"></div>
<div style="left:28px;top:11px;width:131px;height:1px;background:linear-gradient(90deg,#dd0000 0.4%,#dd0000 1.1%,#cd0000 1.9%,#610000 4.2%,#510000 5.0%,#a50000 8.0%,#890000 11.8%,#960000 17.2%,#590000 20.2%,#8e0000 23.3%,#810000 26.3%,#b80000 27.9%,#f90000 29.4%,#f70000 30.2%,#ad0000 32.4%,#980000 34.0%,#7b0000 45.4%,#c50000 53.8%,#c80000 54.6%,#ea0000 55.3%,#ff1000 56.1%,#ff5900 57.6%,#ffd400 61.5%,#fff600 63.0%,#ffff2a 64.5%,#ffff71 66.8%,#ffff79 67.6%,#ffff1f 73.7%,#ffff4e 79.8%,#ffff95 82.8%,#ffff2e 85.9%,#ffff2a 88.9%,#ffff65 92.0%,#ffff5a 92.7%,#ffff13 95.0%,#ffff17 96.6%,#ffff2a 98.1%,#ffff2a 99.6%)"></div>
<div style="left:28px;top:12px;width:131px;height:1px;background:linear-gradient(90deg,#e70000 0.4%,#e70000 1.1%,#da0000 1.9%,#830000 4.2%,#790000 5.0%,#b50000 8.0%,#890000 14.1%,#b00000 17.2%,#740000 20.2%,#9e0000 24.0%,#9e0000 26.3%,#e40000 28.6%,#ff0000 29.4%,#fc0000 30.2%,#b80000 32.4%,#a00000 34.7%,#a00000 45.4%,#b80000 50.0%,#e20000 54.6%,#ff0000 55.3%,#ff7600 58.4%,#fffc00 63.0%,#ffff5a 66.0%,#ffff6d 66.8%,#ffff69 68.3%,#ffff26 72.9%,#ffff22 73.7%,#ffff56 76.0%,#ffff5e 76.7%,#ffff32 79.8%,#ffff8d 82.8%,#ffff3a 85.9%,#ffff1f 88.9%,#ffff5e 92.0%,#ffff17 95.0%,#ffff22 96.6%,#ffff3e 98.9%,#ffff3e 99.6%)"></div>
<div style="left:28px;top:13px;width:131px;height:1px;background:linear-gradient(90deg,#ef0000 0.4%,#e70000 1.9%,#a80000 4.2%,#a00000 5.0%,#c50000 8.0%,#bd0000 11.1%,#890000 14.1%,#ca0000 17.2%,#8e0000 20.2%,#ba0000 26.3%,#ff0500 29.4%,#ff0200 30.2%,#b80000 33.2%,#a80000 36.3%,#b80000 40.1%,#b80000 43.1%,#d50000 51.5%,#fc0000 54.6%,#ffec00 62.2%,#ffff03 63.0%,#ffff26 63.7%,#ffff69 66.8%,#ffff6d 67.6%,#ffff26 72.9%,#ffff2a 73.7%,#ffff75 76.0%,#ffff85 76.7%,#ffff17 79.8%,#ffff85 82.8%,#ffff2e 87.4%,#ffff17 88.9%,#ffff46 91.2%,#ffff5a 92.0%,#ffff1b 95.0%,#ffff1b 95.8%,#ffff4e 98.9%,#ffff4e 99.6%)"></div>
<div style="left:28px;top:14px;width:131px;height:1px;background:linear-gradient(90deg,#f90000 0.4%,#e70000 2.7%,#c50000 5.0%,#da0000 10.3%,#d70000 11.1%,#890000 14.1%,#e40000 17.2%,#a50000 20.2%,#ba0000 24.0%,#ff0000 28.6%,#ff0a00 29.4%,#ff0500 30.2%,#c50000 33.2%,#b50000 36.3%,#cd0000 39.3%,#ca0000 42.4%,#e70000 45.4%,#e20000 50.8%,#ef0000 52.3%,#ff0a00 53.8%,#ff3c00 56.1%,#fff100 62.2%,#ffff0b 63.0%,#ffff46 64.5%,#ffff65 66.8%,#ffff56 69.1%,#ffff26 72.9%,#ffff2e 73.7%,#ffff99 76.0%,#ffffac 76.7%,#ffff1f 79.0%,#fff900 79.8%,#ffff79 82.8%,#ffff56 85.9%,#ffff0b 88.9%,#ffff52 92.0%,#ffff1b 95.0%,#ffff42 97.3%,#ffff5e 98.9%,#ffff5e 99.6%)"></div>
<div style="left:28px;top:15px;width:131px;height:1px;background:linear-gradient(90deg,#ff0200 0.4%,#e70000 8.0%,#ef0000 11.1%,#8b0000 14.1%,#ff0000 17.2%,#c00000 20.2%,#c00000 23.3%,#ff0000 27.1%,#ff1000 29.4%,#f90000 30.9%,#d20000 33.2%,#c20000 36.3%,#e20000 39.3%,#df0000 42.4%,#ff0200 44.7%,#ff0800 46.2%,#f20000 51.5%,#ff0200 52.3%,#ff7e00 58.4%,#fff400 62.2%,#ffff3a 63.7%,#ffff56 65.3%,#ffff61 67.6%,#ffff2a 72.9%,#ffff32 73.7%,#ffffbc 76.0%,#ffffd4 76.7%,#ffff13 79.0%,#ffe700 79.8%,#ffff03 80.5%,#ffff71 82.8%,#ffff61 85.9%,#fffe00 88.9%,#ffff4a 92.0%,#ffff3a 93.5%,#ffff1f 95.0%,#ffff26 95.8%,#ffff6d 98.9%,#ffff6d 99.6%)"></div>
<div style="left:28px;top:16px;width:131px;height:1px;background:linear-gradient(90deg,#f70000 0.4%,#f40000 8.8%,#fc0000 11.1%,#8e0000 14.1%,#ff0200 17.2%,#cf0000 20.2%,#c80000 23.3%,#ff0500 26.3%,#ff0800 29.4%,#f70000 30.9%,#c80000 35.5%,#d20000 37.0%,#ef0000 39.3%,#ea0000 42.4%,#ff0800 44.7%,#ff1000 45.4%,#f70000 48.5%,#ff0000 51.5%,#ff7100 57.6%,#fffc00 62.2%,#ffff42 63.7%,#ffff56 65.3%,#ffff5a 67.6%,#ffff2a 72.9%,#ffff36 73.7%,#ffffc0 76.0%,#ffffd8 76.7%,#ffff13 79.0%,#ffe700 79.8%,#fffe00 80.5%,#ffff69 82.8%,#ffff61 85.9%,#ffff0f 88.9%,#ffff3e 91.2%,#ffff52 92.0%,#ffff22 95.0%,#ffff36 96.6%,#ffff5a 98.1%,#ffff61 99.6%)"></div>
<div style="left:28px;top:17px;width:131px;height:1px;background:linear-gradient(90deg,#e40000 0.4%,#ff0200 11.1%,#960000 14.1%,#f90000 17.2%,#d20000 21.8%,#cd0000 23.3%,#f90000 25.6%,#ff0d00 26.3%,#f90000 29.4%,#ca0000 36.3%,#f90000 39.3%,#ea0000 42.4%,#ff0200 45.4%,#e70000 48.5%,#ff0500 50.8%,#ff4700 55.3%,#ff9000 58.4%,#fff400 61.5%,#ffff2a 63.0%,#ffff46 63.7%,#ffff52 65.3%,#ffff4a 68.3%,#ffff2e 72.9%,#ffff36 73.7%,#ffffb4 76.0%,#ffffc8 76.7%,#ffff1b 79.0%,#fff100 79.8%,#ffff07 80.5%,#ffff5e 82.8%,#ffff5e 85.9%,#ffff26 88.9%,#ffff5a 92.0%,#ffff22 95.0%,#ffff2e 96.6%,#ffff4a 98.9%,#ffff4a 99.6%)"></div>
<div style="left:28px;top:18px;width:131px;height:1px;background:linear-gradient(90deg,#cf0000 0.4%,#ff0500 9.5%,#ff0800 11.1%,#9b0000 14.1%,#ef0000 17.2%,#d20000 23.3%,#ff0200 25.6%,#ff1200 26.3%,#f70000 28.6%,#e70000 30.2%,#e70000 33.2%,#cd0000 35.5%,#cd0000 36.3%,#fc0000 38.5%,#ff0000 40.1%,#ea0000 42.4%,#f70000 45.4%,#d70000 48.5%,#ff0800 50.8%,#ff2200 52.3%,#ff3700 54.6%,#ff8000 57.6%,#fff100 60.7%,#ffff07 61.5%,#ffff4a 63.7%,#ffff4e 65.3%,#ffff32 72.9%,#ffff3a 73.7%,#ffffa4 76.0%,#ffffb8 76.7%,#ffff22 79.0%,#fffc00 79.8%,#ffff56 82.8%,#ffff5a 85.9%,#ffff3e 88.9%,#ffff65 92.0%,#ffff5e 92.7%,#ffff26 95.0%,#ffff32 99.6%)"></div>
<div style="left:28px;top:19px;width:131px;height:1px;background:linear-gradient(90deg,#ba0000 0.4%,#c50000 2.7%,#ff0200 8.0%,#ff0d00 11.1%,#ef0000 11.8%,#a00000 14.1%,#e40000 17.2%,#ef0000 20.2%,#d70000 23.3%,#ff0800 25.6%,#ff1a00 26.3%,#ff0000 27.9%,#dd0000 29.4%,#e20000 30.9%,#ef0000 33.2%,#cf0000 35.5%,#cf0000 36.3%,#ff0800 38.5%,#ff1000 39.3%,#f40000 41.6%,#e20000 46.2%,#c50000 48.5%,#f40000 50.0%,#ff2500 51.5%,#ff3400 54.6%,#ff8b00 57.6%,#ffff03 60.7%,#ffff1f 61.5%,#ffff4e 63.7%,#ffff46 66.8%,#ffff32 72.9%,#ffff3e 73.7%,#ffff99 76.0%,#ffffac 76.7%,#ffff0b 79.8%,#ffff4a 82.8%,#ffff5a 89.7%,#ffff71 92.0%,#ffff52 93.5%,#ffff26 95.0%,#ffff1f 99.6%)"></div>
<div style="left:28px;top:20px;width:131px;height:1px;background:linear-gradient(90deg,#ab0000 0.4%,#ad0000 1.9%,#fc0000 7.3%,#ff1000 11.1%,#f40000 11.8%,#a80000 14.1%,#e40000 17.9%,#f70000 20.2%,#da0000 23.3%,#f90000 24.8%,#ff1d00 26.3%,#fc0000 27.9%,#cf0000 29.4%,#cd0000 30.2%,#f20000 32.4%,#e70000 34.0%,#d20000 35.5%,#d20000 36.3%,#f90000 37.8%,#ff1700 39.3%,#f70000 41.6%,#d70000 46.2%,#ba0000 48.5%,#f20000 50.0%,#ff1000 50.8%,#ff2c00 51.5%,#ff3400 54.6%,#ff9000 57.6%,#fff100 59.9%,#ffff1b 60.7%,#ffff32 61.5%,#ffff4e 63.7%,#ffff3a 69.1%,#ffff36 72.9%,#ffff3e 73.7%,#ffff8d 76.0%,#ffff9d 76.7%,#ffff17 79.8%,#ffff46 83.6%,#ffff79 91.2%,#ffff6d 92.7%,#ffff2a 95.0%,#ffff0b 98.9%,#ffff0b 99.6%)"></div>
<div style="left:28px;top:21px;width:131px;height:1px;background:linear-gradient(90deg,#b30000 0.4%,#b50000 1.9%,#ff0000 8.0%,#ff0200 11.1%,#ad0000 14.1%,#df0000 17.9%,#ea0000 21.0%,#dd0000 23.3%,#ff0500 26.3%,#fc0000 27.1%,#cf0000 29.4%,#d70000 30.9%,#ea0000 32.4%,#d50000 36.3%,#ff0200 38.5%,#ff0800 40.1%,#e70000 45.4%,#ca0000 48.5%,#f90000 50.8%,#ff2500 54.6%,#ff8300 57.6%,#ffe700 59.9%,#ffff0f 60.7%,#ffff26 61.5%,#ffff4e 67.6%,#ffff4a 70.6%,#ffff36 73.7%,#ffff75 76.0%,#ffff81 76.7%,#ffff1f 79.8%,#ffff4e 83.6%,#ffff65 86.6%,#ffff81 88.9%,#ffff75 92.0%,#ffff36 95.8%,#ffff1f 98.9%,#ffff1f 99.6%)"></div>
<div style="left:28px;top:22px;width:131px;height:1px;background:linear-gradient(90deg,#ba0000 0.4%,#bd0000 1.9%,#ec0000 6.5%,#f70000 9.5%,#f40000 11.1%,#b30000 14.1%,#dd0000 17.9%,#e70000 27.1%,#cf0000 30.2%,#e20000 33.2%,#d70000 36.3%,#ff0000 40.1%,#f90000 43.9%,#da0000 48.5%,#e70000 51.5%,#ff0000 53.1%,#ff1500 54.6%,#ff7300 57.6%,#ffff07 60.7%,#ffff17 61.5%,#ffff17 63.7%,#ffff5a 66.8%,#ffff61 69.8%,#ffff5e 70.6%,#ffff2e 73.7%,#ffff61 76.0%,#ffff69 76.7%,#ffff26 79.8%,#ffff56 83.6%,#ffff71 86.6%,#ffff95 88.9%,#ffff5e 93.5%,#ffff36 98.9%,#ffff36 99.6%)"></div>
<div style="left:28px;top:23px;width:131px;height:1px;background:linear-gradient(90deg,#c20000 0.4%,#cf0000 2.7%,#ec0000 5.7%,#e70000 11.1%,#b80000 14.1%,#d70000 17.2%,#df0000 24.0%,#cf0000 30.2%,#df0000 37.0%,#ff0200 40.8%,#ff1000 42.4%,#f40000 45.4%,#ea0000 48.5%,#c50000 51.5%,#ff0500 54.6%,#ff6600 57.6%,#fffc00 60.7%,#ffff0b 61.5%,#fffc00 63.7%,#ffff0b 64.5%,#ffff69 66.8%,#ffff79 67.6%,#ffff6d 70.6%,#ffff32 72.9%,#ffff2a 73.7%,#ffff52 76.7%,#ffff2e 79.8%,#ffff5e 83.6%,#ffff7d 86.6%,#ffffa8 88.9%,#ffff65 92.0%,#ffff61 95.8%,#ffff4a 99.6%)"></div>
<div style="left:28px;top:24px;width:131px;height:1px;background:linear-gradient(90deg,#c80000 0.4%,#d70000 2.7%,#f20000 5.0%,#d20000 11.8%,#c00000 14.1%,#d70000 17.2%,#ca0000 20.2%,#e40000 23.3%,#c00000 26.3%,#df0000 39.3%,#ff0200 40.8%,#ff1d00 42.4%,#fc0000 45.4%,#f90000 48.5%,#a30000 51.5%,#f70000 54.6%,#ff5600 57.6%,#fff600 60.7%,#fffe00 61.5%,#ffe900 63.7%,#fff600 64.5%,#ffff4a 66.0%,#ffff75 66.8%,#ffff8d 67.6%,#ffff8d 69.8%,#ffff81 70.6%,#ffff32 72.9%,#ffff22 73.7%,#ffff3a 76.7%,#ffff36 79.8%,#ffff75 85.1%,#ffff89 86.6%,#ffffbc 88.9%,#ffff61 92.0%,#ffff79 95.8%,#ffff5e 98.9%,#ffff5e 99.6%)"></div>
<div style="left:28px;top:25px;width:131px;height:1px;background:linear-gradient(90deg,#d20000 0.4%,#e40000 3.4%,#f20000 5.0%,#c00000 14.1%,#d70000 21.0%,#ea0000 23.3%,#b50000 26.3%,#cd0000 30.2%,#d20000 37.8%,#d20000 39.3%,#f70000 40.8%,#ff1700 42.4%,#fc0000 46.9%,#f70000 48.5%,#980000 51.5%,#ff0500 55.3%,#ff4f00 57.6%,#fff400 60.7%,#fffe00 61.5%,#ffef00 63.7%,#fffc00 64.5%,#ffff79 66.8%,#ffff91 67.6%,#ffff89 70.6%,#ffff3a 72.9%,#ffff2a 73.7%,#ffff36 78.2%,#ffff36 79.8%,#ffff79 85.1%,#ffff8d 86.6%,#ffffb4 88.9%,#ffff5e 92.0%,#ffff69 93.5%,#ffff7d 95.0%,#ffff65 99.6%)"></div>
<div style="left:28px;top:26px;width:131px;height:1px;background:linear-gradient(90deg,#dd0000 0.4%,#ea0000 7.3%,#c00000 11.1%,#c50000 17.2%,#ec0000 21.8%,#f20000 23.3%,#b80000 26.3%,#ca0000 34.0%,#c20000 38.5%,#d70000 40.1%,#f90000 41.6%,#ff0800 44.7%,#ef0000 47.7%,#c50000 50.0%,#a00000 51.5%,#e20000 54.6%,#fc0000 55.3%,#ff4700 57.6%,#fff400 60.7%,#ffff07 62.2%,#ffff0b 63.7%,#ffff1b 64.5%,#ffff79 66.8%,#ffff89 67.6%,#ffff8d 69.8%,#ffff71 71.4%,#ffff3e 73.7%,#ffff42 77.5%,#ffff32 79.8%,#ffff69 83.6%,#ffff9d 88.9%,#ffff5e 92.0%,#ffff71 95.8%,#ffff65 99.6%)"></div>
<div style="left:28px;top:27px;width:131px;height:1px;background:linear-gradient(90deg,#e40000 0.4%,#e70000 8.0%,#b30000 11.1%,#ba0000 16.4%,#ba0000 17.2%,#f90000 20.2%,#fc0000 23.3%,#b80000 26.3%,#c80000 34.0%,#ba0000 39.3%,#f40000 42.4%,#ff0a00 45.4%,#ef0000 46.9%,#a80000 51.5%,#da0000 54.6%,#f40000 55.3%,#ff0d00 56.1%,#ff4100 57.6%,#fff600 60.7%,#ffff22 63.0%,#ffff81 67.6%,#ffff85 70.6%,#ffff52 73.7%,#ffff56 76.7%,#ffff2e 79.8%,#ffff6d 84.4%,#ffff81 87.4%,#ffff79 89.7%,#ffff5a 92.7%,#ffff65 97.3%,#ffff65 99.6%)"></div>
<div style="left:28px;top:28px;width:131px;height:1px;background:linear-gradient(90deg,#ef0000 0.4%,#e20000 5.7%,#e70000 8.0%,#a80000 11.1%,#b80000 14.9%,#ad0000 17.2%,#f70000 19.5%,#ff1000 20.2%,#ff0500 23.3%,#cd0000 25.6%,#ba0000 26.3%,#ba0000 30.2%,#ca0000 33.2%,#ad0000 37.8%,#b00000 39.3%,#f90000 43.9%,#ff0d00 45.4%,#f90000 46.2%,#c80000 48.5%,#b00000 51.5%,#d20000 54.6%,#ff0800 56.1%,#ff3c00 57.6%,#fff600 60.7%,#ffff3e 63.0%,#ffff5e 64.5%,#ffff85 69.8%,#ffff75 72.1%,#ffff65 73.7%,#ffff65 76.7%,#ffff2a 79.8%,#ffff65 83.6%,#ffff79 85.9%,#ffff5a 92.7%,#ffff65 99.6%)"></div>
<div style="left:28px;top:29px;width:131px;height:1px;background:linear-gradient(90deg,#f90000 0.4%,#ef0000 2.7%,#da0000 5.0%,#ea0000 7.3%,#e70000 8.0%,#9b0000 11.1%,#b80000 14.1%,#a30000 17.2%,#ff0500 19.5%,#ff2500 20.2%,#ff0d00 23.3%,#f90000 24.0%,#ba0000 26.3%,#b00000 29.4%,#ca0000 33.2%,#a50000 36.3%,#a30000 39.3%,#ff0500 44.7%,#ff1000 45.4%,#f90000 46.2%,#b80000 48.5%,#bd0000 52.3%,#cd0000 54.6%,#ff0000 56.1%,#ff3700 57.6%,#fff600 60.7%,#ffff56 63.0%,#ffff71 63.7%,#ffff7d 64.5%,#ffff71 67.6%,#ffff81 70.6%,#ffff75 76.7%,#ffff26 79.8%,#ffff5e 82.8%,#ffff79 85.9%,#ffff4e 88.9%,#ffff5a 92.7%,#ffff4e 95.8%,#ffff61 98.9%,#ffff61 99.6%)"></div>
<div style="left:28px;top:30px;width:131px;height:1px;background:linear-gradient(90deg,#e70000 0.4%,#da0000 2.7%,#c50000 5.0%,#d20000 8.0%,#9e0000 11.1%,#b30000 14.1%,#ab0000 17.2%,#f40000 20.2%,#f40000 23.3%,#ad0000 26.3%,#ad0000 30.2%,#c20000 33.2%,#a50000 37.0%,#ad0000 40.1%,#c50000 42.4%,#fc0000 45.4%,#ad0000 48.5%,#b80000 52.3%,#cf0000 54.6%,#ff0000 56.1%,#ff3200 57.6%,#fffc00 60.7%,#ffff56 63.0%,#ffff79 64.5%,#ffff75 70.6%,#ffff6d 75.2%,#ffff71 76.7%,#ffff36 79.8%,#ffff71 85.9%,#ffff4e 88.9%,#ffff69 92.0%,#ffff46 95.0%,#ffff69 98.9%,#ffff69 99.6%)"></div>
<div style="left:28px;top:31px;width:131px;height:1px;background:linear-gradient(90deg,#d50000 0.4%,#bd0000 3.4%,#b00000 5.0%,#bd0000 8.0%,#a00000 11.1%,#bd0000 19.5%,#dd0000 23.3%,#a00000 26.3%,#a50000 30.2%,#ba0000 33.2%,#a50000 38.5%,#b50000 42.4%,#ec0000 45.4%,#a00000 48.5%,#a80000 51.5%,#d20000 54.6%,#ff0000 56.1%,#ff2f00 57.6%,#ffff03 60.7%,#ffff2a 61.5%,#ffff75 64.5%,#ffff89 67.6%,#ffff69 70.6%,#ffff5e 73.7%,#ffff69 76.7%,#ffff46 79.8%,#ffff52 83.6%,#ffff6d 85.9%,#ffff4e 88.9%,#ffff75 92.0%,#ffff42 95.0%,#ffff71 98.9%,#ffff71 99.6%)"></div>
<div style="left:28px;top:32px;width:131px;height:1px;background:linear-gradient(90deg,#c20000 0.4%,#b50000 2.7%,#9b0000 5.0%,#a50000 8.8%,#a50000 13.4%,#b80000 17.2%,#900000 20.2%,#c50000 23.3%,#900000 26.3%,#a30000 30.9%,#b30000 33.2%,#a80000 42.4%,#da0000 45.4%,#960000 48.5%,#9e0000 51.5%,#ea0000 55.3%,#ff0000 56.1%,#ff2c00 57.6%,#ffff07 60.7%,#ffff2e 61.5%,#ffff89 66.0%,#ffff95 67.6%,#ffff5a 70.6%,#ffff4e 73.7%,#ffff61 76.7%,#ffff46 82.1%,#ffff3e 82.8%,#ffff65 85.9%,#ffff4e 88.9%,#ffff81 92.0%,#ffff65 93.5%,#ffff3e 95.0%,#ffff3e 95.8%,#ffff75 98.9%,#ffff75 99.6%)"></div>
<div style="left:28px;top:33px;width:131px;height:1px;background:linear-gradient(90deg,#b00000 0.4%,#a00000 2.7%,#890000 5.0%,#a30000 12.6%,#a80000 14.9%,#bd0000 17.2%,#610000 20.2%,#ad0000 23.3%,#830000 26.3%,#ab0000 34.0%,#a30000 40.1%,#980000 42.4%,#c80000 45.4%,#890000 48.5%,#960000 51.5%,#ff0000 56.1%,#ff2a00 57.6%,#ffcf00 59.9%,#ffff0f 60.7%,#ffff32 61.5%,#ffff8d 66.0%,#ffffa0 66.8%,#ffffa0 67.6%,#ffff4e 70.6%,#ffff42 73.7%,#ffff65 79.0%,#ffff5a 80.5%,#ffff32 82.8%,#ffff61 85.9%,#ffff4e 88.9%,#ffff91 92.0%,#ffff52 94.3%,#ffff36 95.0%,#ffff3a 95.8%,#ffff75 98.1%,#ffff7d 99.6%)"></div>
<div style="left:28px;top:34px;width:131px;height:1px;background:linear-gradient(90deg,#9e0000 0.4%,#9b0000 1.9%,#790000 5.0%,#8e0000 9.5%,#9b0000 11.8%,#a30000 14.9%,#ba0000 17.2%,#470000 20.2%,#9b0000 23.3%,#810000 27.1%,#a30000 34.7%,#9b0000 40.1%,#900000 42.4%,#b00000 45.4%,#830000 48.5%,#8e0000 51.5%,#ff0000 56.1%,#ff2700 57.6%,#ff9000 59.2%,#ffff03 60.7%,#ffff26 61.5%,#ffff85 66.0%,#ffff99 66.8%,#ffff99 67.6%,#ffff52 69.8%,#ffff3a 72.9%,#ffff52 76.7%,#ffff69 79.8%,#ffff2a 82.8%,#ffff5a 85.9%,#ffff3e 88.9%,#ffff8d 92.0%,#ffff65 93.5%,#ffff2e 95.0%,#ffff32 95.8%,#ffff75 98.1%,#ffff7d 99.6%)"></div>
<div style="left:28px;top:35px;width:131px;height:1px;background:linear-gradient(90deg,#8e0000 0.4%,#6e0000 5.0%,#960000 14.9%,#a80000 17.2%,#4a0000 20.2%,#8b0000 23.3%,#8b0000 30.9%,#960000 35.5%,#890000 40.1%,#8e0000 46.2%,#860000 49.2%,#8b0000 51.5%,#fc0000 56.1%,#ff2700 57.6%,#ffb500 59.9%,#ffe900 60.7%,#ffff03 61.5%,#ffff52 64.5%,#ffff79 66.8%,#ffff79 67.6%,#ffff3e 70.6%,#ffff3e 74.4%,#ffff5a 79.8%,#ffff22 82.8%,#ffff4e 85.9%,#ffff22 88.9%,#ffff75 92.0%,#ffff52 93.5%,#ffff22 95.0%,#ffff2a 95.8%,#ffff71 98.1%,#ffff79 99.6%)"></div>
<div style="left:28px;top:36px;width:131px;height:1px;background:linear-gradient(90deg,#7b0000 0.4%,#660000 5.7%,#7e0000 12.6%,#960000 17.2%,#4c0000 20.2%,#830000 24.0%,#8e0000 27.1%,#830000 30.2%,#890000 34.7%,#710000 39.3%,#890000 42.4%,#760000 45.4%,#860000 50.0%,#860000 51.5%,#fc0000 56.1%,#ff2500 57.6%,#ffd200 60.7%,#fffe00 62.2%,#ffff42 64.5%,#ffff5a 67.6%,#ffff3a 70.6%,#ffff46 78.2%,#ffff4a 79.8%,#ffff1f 82.8%,#ffff42 85.9%,#ffff0b 88.9%,#ffff46 91.2%,#ffff5e 92.0%,#ffff17 95.0%,#ffff22 95.8%,#ffff6d 98.1%,#ffff79 99.6%)"></div>
<div style="left:28px;top:37px;width:131px;height:1px;background:linear-gradient(90deg,#6c0000 0.4%,#5c0000 5.7%,#660000 11.8%,#7e0000 14.9%,#830000 17.2%,#4f0000 20.2%,#980000 26.3%,#7e0000 30.9%,#740000 36.3%,#590000 38.5%,#590000 39.3%,#810000 41.6%,#860000 42.4%,#570000 45.4%,#860000 48.5%,#810000 51.5%,#f90000 56.1%,#ff2500 57.6%,#ffba00 60.7%,#ffff03 63.0%,#ffff26 63.7%,#ffff36 65.3%,#ffff3a 78.2%,#ffff3e 79.8%,#ffff17 82.8%,#ffff3a 85.9%,#ffff03 88.2%,#fff400 88.9%,#fffe00 89.7%,#ffff42 92.0%,#ffff2e 93.5%,#ffff0b 95.0%,#ffff17 95.8%,#ffff69 98.1%,#ffff75 99.6%)"></div>
<div style="left:28px;top:38px;width:131px;height:1px;background:linear-gradient(90deg,#590000 0.4%,#510000 8.8%,#4a0000 11.1%,#740000 14.1%,#690000 17.9%,#510000 20.2%,#610000 23.3%,#a00000 26.3%,#760000 30.2%,#690000 35.5%,#420000 38.5%,#420000 39.3%,#790000 41.6%,#830000 42.4%,#3a0000 45.4%,#860000 48.5%,#7b0000 51.5%,#f70000 56.1%,#ff2200 57.6%,#ffda00 62.2%,#fff400 63.0%,#ffff26 64.5%,#ffff1b 67.6%,#ffff3a 73.7%,#ffff26 80.5%,#ffff0f 82.8%,#ffff2e 85.9%,#ffff03 87.4%,#ffe100 88.9%,#fffc00 90.5%,#ffff2a 92.0%,#ffff2a 92.7%,#fffe00 95.0%,#ffff2a 96.6%,#ffff61 98.1%,#ffff71 98.9%,#ffff71 99.6%)"></div>
<div style="left:28px;top:39px;width:131px;height:1px;background:linear-gradient(90deg,#610000 0.4%,#510000 3.4%,#470000 5.0%,#590000 8.0%,#4c0000 11.1%,#690000 14.9%,#610000 17.9%,#4c0000 21.0%,#4f0000 23.3%,#900000 26.3%,#710000 30.9%,#5f0000 35.5%,#470000 38.5%,#590000 40.1%,#810000 42.4%,#370000 45.4%,#7b0000 48.5%,#790000 51.5%,#c00000 54.6%,#f40000 56.1%,#ff2c00 57.6%,#ffc200 61.5%,#fff100 63.0%,#ffff0f 63.7%,#ffff1b 65.3%,#ffff17 67.6%,#ffff52 73.7%,#ffff32 76.7%,#ffff36 79.8%,#ffff1f 82.8%,#ffff32 85.9%,#fffe00 88.9%,#ffff2a 92.0%,#ffff13 95.0%,#ffff36 96.6%,#ffff61 98.1%,#ffff69 99.6%)"></div>
<div style="left:28px;top:40px;width:131px;height:1px;background:linear-gradient(90deg,#6e0000 0.4%,#690000 1.9%,#3c0000 5.0%,#5c0000 8.0%,#4f0000 11.1%,#640000 17.2%,#420000 21.0%,#3c0000 23.3%,#810000 26.3%,#6c0000 30.9%,#640000 34.0%,#510000 37.0%,#540000 39.3%,#7e0000 42.4%,#3a0000 45.4%,#6e0000 48.5%,#760000 51.5%,#b00000 54.6%,#f20000 56.1%,#ff1500 56.9%,#ffb000 60.7%,#ffff03 63.7%,#ffff13 64.5%,#ffff22 68.3%,#ffff6d 73.7%,#ffff3a 76.7%,#ffff32 88.9%,#ffff2a 95.0%,#ffff65 98.9%,#ffff65 99.6%)"></div>
<div style="left:28px;top:41px;width:131px;height:1px;background:linear-gradient(90deg,#790000 0.4%,#710000 1.9%,#3c0000 4.2%,#350000 5.0%,#5f0000 8.0%,#510000 14.1%,#5c0000 17.2%,#350000 21.8%,#2a0000 23.3%,#6e0000 26.3%,#660000 33.2%,#4a0000 36.3%,#7b0000 42.4%,#3a0000 45.4%,#640000 48.5%,#710000 51.5%,#a30000 54.6%,#ef0000 56.1%,#ff1a00 56.9%,#ff6400 58.4%,#ffcf00 61.5%,#fffc00 63.7%,#ffff36 69.8%,#ffff81 72.9%,#ffff89 73.7%,#ffff3e 76.7%,#ffff46 82.8%,#ffff3e 85.9%,#ffff65 88.9%,#ffff32 92.0%,#ffff5e 99.6%)"></div>
<div style="left:28px;top:42px;width:131px;height:1px;background:linear-gradient(90deg,#830000 0.4%,#790000 1.9%,#350000 4.2%,#2a0000 5.0%,#640000 8.0%,#440000 14.1%,#540000 17.2%,#180000 23.3%,#5f0000 26.3%,#610000 33.2%,#420000 36.3%,#6e0000 39.3%,#790000 42.4%,#3a0000 45.4%,#810000 53.1%,#930000 54.6%,#ef0000 56.1%,#ff1f00 56.9%,#ff4f00 57.6%,#ffc500 60.7%,#fffe00 64.5%,#ffff3e 69.8%,#ffff65 71.4%,#ffff99 72.9%,#ffffa4 73.7%,#ffff42 76.7%,#ffff5a 82.8%,#ffff46 85.9%,#ffff99 88.9%,#ffff36 92.0%,#ffff5e 95.0%,#ffff5a 99.6%)"></div>
<div style="left:28px;top:43px;width:131px;height:1px;background:linear-gradient(90deg,#8e0000 0.4%,#8e0000 1.1%,#690000 2.7%,#350000 4.2%,#2a0000 5.0%,#6c0000 8.0%,#510000 12.6%,#440000 14.1%,#540000 17.2%,#150000 23.3%,#590000 26.3%,#690000 32.4%,#440000 35.5%,#440000 36.3%,#790000 39.3%,#790000 42.4%,#440000 45.4%,#590000 49.2%,#930000 54.6%,#ef0000 56.1%,#ff2500 56.9%,#ff5600 57.6%,#ffca00 60.7%,#ffff03 64.5%,#ffff42 69.8%,#ffff6d 71.4%,#ffffa4 72.9%,#ffffb0 73.7%,#ffff5a 76.0%,#ffff46 76.7%,#ffff5e 82.8%,#ffff4e 85.9%,#ffffb8 88.9%,#ffff5e 91.2%,#ffff3a 92.0%,#ffff4e 93.5%,#ffff71 95.0%,#ffff56 99.6%)"></div>
<div style="left:28px;top:44px;width:131px;height:1px;background:linear-gradient(90deg,#930000 0.4%,#890000 1.9%,#440000 4.2%,#3c0000 5.0%,#760000 7.3%,#810000 8.0%,#570000 14.1%,#540000 17.9%,#370000 23.3%,#6e0000 26.3%,#790000 33.2%,#5c0000 36.3%,#810000 40.1%,#860000 42.4%,#590000 45.4%,#690000 49.2%,#a80000 54.6%,#fc0000 56.1%,#ff5400 57.6%,#ffca00 60.7%,#fff900 63.0%,#ffff4a 67.6%,#ffff52 70.6%,#ffff91 72.9%,#ffff9d 73.7%,#ffff4a 76.7%,#ffff65 79.8%,#ffff4a 83.6%,#ffff56 85.9%,#ffffb0 88.9%,#ffff5a 91.2%,#ffff3a 92.0%,#ffff56 93.5%,#ffff79 95.0%,#ffff75 96.6%,#ffff5e 98.9%,#ffff5e 99.6%)"></div>
<div style="left:28px;top:45px;width:131px;height:1px;background:linear-gradient(90deg,#980000 0.4%,#8e0000 1.9%,#510000 4.2%,#4c0000 5.0%,#980000 8.0%,#710000 11.8%,#540000 21.0%,#570000 23.3%,#830000 26.3%,#8b0000 33.2%,#740000 36.3%,#900000 42.4%,#710000 45.4%,#6e0000 48.5%,#a80000 53.1%,#c00000 54.6%,#ff0800 56.1%,#ff8e00 59.2%,#ffdf00 61.5%,#ffff07 63.0%,#ffff56 66.0%,#ffff69 67.6%,#ffff52 70.6%,#ffff89 73.7%,#ffff52 76.7%,#ffff75 79.8%,#ffff32 82.8%,#ffff5e 85.9%,#ffffa8 88.9%,#ffff95 89.7%,#ffff3a 92.0%,#ffff5a 93.5%,#ffff85 95.0%,#ffff89 95.8%,#ffff69 98.9%,#ffff69 99.6%)"></div>
<div style="left:28px;top:46px;width:131px;height:1px;background:linear-gradient(90deg,#9e0000 0.4%,#960000 1.9%,#610000 4.2%,#5c0000 5.0%,#a00000 7.3%,#ad0000 8.0%,#7e0000 11.1%,#640000 20.2%,#980000 27.1%,#9e0000 33.2%,#890000 37.0%,#960000 40.8%,#9e0000 42.4%,#7e0000 48.5%,#ba0000 53.1%,#d70000 54.6%,#f20000 55.3%,#ff1200 56.1%,#ffe400 61.5%,#fff900 62.2%,#ffff61 65.3%,#ffff85 66.8%,#ffff79 68.3%,#ffff52 70.6%,#ffff71 73.7%,#ffff56 76.7%,#ffff85 79.8%,#ffff1f 82.8%,#ffffa4 88.9%,#ffff3e 92.0%,#ffff46 92.7%,#ffff91 95.0%,#ffff95 95.8%,#ffff71 98.9%,#ffff71 99.6%)"></div>
<div style="left:28px;top:47px;width:131px;height:1px;background:linear-gradient(90deg,#a30000 0.4%,#9e0000 1.9%,#6e0000 4.2%,#6e0000 5.0%,#b50000 7.3%,#c20000 8.0%,#890000 11.1%,#860000 14.9%,#6e0000 17.2%,#7b0000 21.0%,#a30000 24.8%,#ab0000 30.9%,#b30000 33.2%,#900000 39.3%,#a80000 42.4%,#8b0000 48.5%,#cf0000 53.1%,#ff0500 55.3%,#ff6900 58.4%,#ffe700 61.5%,#fffe00 62.2%,#ffff4a 63.7%,#ffffa4 66.8%,#ffffa4 67.6%,#ffff61 69.8%,#ffff56 71.4%,#ffff5e 74.4%,#ffff5a 76.7%,#ffff8d 79.0%,#ffff95 79.8%,#ffff07 82.8%,#ffff6d 85.9%,#ffff9d 88.9%,#ffff3e 92.0%,#ffff4a 92.7%,#ffff9d 95.0%,#ffffa0 95.8%,#ffff79 98.9%,#ffff79 99.6%)"></div>
<div style="left:28px;top:48px;width:131px;height:1px;background:linear-gradient(90deg,#a50000 0.4%,#9e0000 1.9%,#710000 4.2%,#710000 5.0%,#ba0000 7.3%,#c80000 8.0%,#8b0000 11.1%,#900000 14.1%,#710000 17.2%,#760000 20.2%,#a50000 24.0%,#b00000 27.1%,#b00000 30.9%,#b30000 34.0%,#930000 39.3%,#ab0000 42.4%,#900000 48.5%,#c50000 52.3%,#ff0800 55.3%,#ff6900 58.4%,#ffe700 61.5%,#ffff03 62.2%,#ffff52 63.7%,#ffffac 66.8%,#ffffac 67.6%,#ffff61 69.8%,#ffff56 71.4%,#ffff5e 76.7%,#ffff99 79.8%,#ffff03 82.8%,#ffff71 85.9%,#ffff99 88.9%,#ffff6d 90.5%,#ffff3e 92.0%,#ffff4a 92.7%,#ffffa0 95.0%,#ffffa4 95.8%,#ffff79 98.9%,#ffff79 99.6%)"></div>
<div style="left:28px;top:49px;width:131px;height:1px;background:linear-gradient(90deg,#a50000 0.4%,#9e0000 1.9%,#710000 4.2%,#710000 5.0%,#ba0000 7.3%,#c80000 8.0%,#8b0000 11.1%,#900000 14.1%,#710000 17.2%,#760000 20.2%,#a50000 24.0%,#b00000 27.1%,#b00000 30.9%,#b30000 34.0%,#930000 39.3%,#ab0000 42.4%,#900000 48.5%,#c50000 52.3%,#ff0800 55.3%,#ff6900 58.4%,#ffe700 61.5%,#ffff03 62.2%,#ffff52 63.7%,#ffffac 66.8%,#ffffac 67.6%,#ffff61 69.8%,#ffff56 71.4%,#ffff5e 76.7%,#ffff99 79.8%,#ffff03 82.8%,#ffff71 85.9%,#ffff99 88.9%,#ffff6d 90.5%,#ffff3e 92.0%,#ffff4a 92.7%,#ffffa0 95.0%,#ffffa4 95.8%,#ffff79 98.9%,#ffff79 99.6%)"></div>
<div style="left:167px;top:9px;width:131px;height:1px;background:linear-gradient(90deg,#ffc500 0.4%,#ffca00 5.7%,#ffba00 8.0%,#ff8600 11.1%,#ff8e00 14.9%,#ff8300 17.2%,#ffbf00 23.3%,#ff9300 26.3%,#ff8e00 29.4%,#ffd200 33.2%,#ffc500 39.3%,#ffa000 43.1%,#ff9500 45.4%,#ff4400 48.5%,#f70000 50.0%,#a80000 51.5%,#9b0000 54.6%,#6e0000 57.6%,#790000 61.5%,#710000 64.5%,#930000 67.6%,#7e0000 70.6%,#a30000 73.7%,#900000 79.8%,#510000 82.8%,#860000 86.6%,#8e0000 92.0%,#610000 95.0%,#760000 99.6%)"></div>
<div style="left:167px;top:10px;width:131px;height:1px;background:linear-gradient(90deg,#ffc500 0.4%,#ffca00 5.7%,#ffba00 8.0%,#ff8600 11.1%,#ff8e00 14.9%,#ff8300 17.2%,#ffbf00 23.3%,#ff9300 26.3%,#ff8e00 29.4%,#ffd200 33.2%,#ffc500 39.3%,#ffa000 43.1%,#ff9500 45.4%,#ff4400 48.5%,#f70000 50.0%,#a80000 51.5%,#9b0000 54.6%,#6e0000 57.6%,#790000 61.5%,#710000 64.5%,#930000 67.6%,#7e0000 70.6%,#a30000 73.7%,#900000 79.8%,#510000 82.8%,#860000 86.6%,#8e0000 92.0%,#610000 95.0%,#760000 99.6%)"></div>
<div style="left:167px;top:11px;width:131px;height:1px;background:linear-gradient(90deg,#ffc500 0.4%,#ffc700 5.7%,#ffbd00 8.0%,#ff8800 11.1%,#ff9000 14.9%,#ff8800 17.2%,#ffbf00 23.3%,#ff9500 26.3%,#ff9000 29.4%,#ffd200 33.2%,#ffc500 39.3%,#ffa000 43.1%,#ff9800 45.4%,#ff4700 48.5%,#f90000 50.0%,#ad0000 51.5%,#980000 55.3%,#760000 57.6%,#790000 62.2%,#790000 64.5%,#980000 67.6%,#830000 70.6%,#a80000 73.7%,#960000 79.8%,#590000 82.8%,#860000 85.9%,#900000 92.0%,#660000 95.0%,#790000 99.6%)"></div>
<div style="left:167px;top:12px;width:131px;height:1px;background:linear-gradient(90deg,#ffbf00 0.4%,#ffc500 8.0%,#ff9300 11.1%,#ff9d00 14.9%,#ffa500 20.2%,#ffbf00 23.3%,#ffa000 27.1%,#ffa200 30.2%,#ffc700 33.2%,#ffcc00 39.3%,#ffa000 42.4%,#ffa000 45.4%,#ff4900 48.5%,#ff0500 50.0%,#c00000 51.5%,#c00000 54.6%,#930000 58.4%,#930000 64.5%,#ad0000 66.8%,#9b0000 70.6%,#ba0000 73.7%,#ab0000 79.8%,#810000 82.8%,#a00000 88.9%,#960000 92.7%,#7e0000 95.8%,#830000 99.6%)"></div>
<div style="left:167px;top:13px;width:131px;height:1px;background:linear-gradient(90deg,#ffba00 0.4%,#ffcc00 8.0%,#ff9b00 11.1%,#ffb000 17.2%,#ffb000 21.0%,#ffc200 23.3%,#ffaa00 27.9%,#ffd200 39.3%,#ff9d00 42.4%,#ffa500 45.4%,#ff4f00 48.5%,#ff1000 50.0%,#ef0000 50.8%,#cf0000 51.5%,#dd0000 54.6%,#b00000 58.4%,#a00000 61.5%,#c20000 67.6%,#b00000 70.6%,#cd0000 73.7%,#ba0000 80.5%,#a50000 84.4%,#b00000 89.7%,#900000 98.1%,#8e0000 99.6%)"></div>
<div style="left:167px;top:14px;width:131px;height:1px;background:linear-gradient(90deg,#ffb200 0.4%,#ffbd00 5.0%,#ffd400 8.0%,#ffa500 11.1%,#ffc200 17.2%,#ffb200 21.0%,#ffc200 23.3%,#ffb500 33.2%,#ffdc00 38.5%,#ffda00 39.3%,#ff9b00 42.4%,#ffad00 45.4%,#ff3700 49.2%,#ff0000 50.8%,#e20000 51.5%,#fc0000 54.6%,#b30000 60.7%,#d70000 67.6%,#c80000 70.6%,#df0000 73.7%,#d20000 77.5%,#d20000 81.3%,#c00000 84.4%,#b50000 86.6%,#c00000 89.7%,#980000 99.6%)"></div>
<div style="left:167px;top:15px;width:131px;height:1px;background:linear-gradient(90deg,#ffad00 0.4%,#ffb700 5.0%,#ffdc00 8.0%,#ffad00 11.1%,#ffd700 17.2%,#ffb500 20.2%,#ffc500 27.1%,#ffbf00 30.2%,#ffaa00 32.4%,#ffe100 38.5%,#ffdf00 39.3%,#ff9800 42.4%,#ffb500 45.4%,#ff0d00 50.8%,#f40000 51.5%,#ff1000 53.8%,#ff1a00 54.6%,#ff0000 56.9%,#c50000 60.7%,#ec0000 66.8%,#dd0000 70.6%,#f20000 73.7%,#df0000 76.7%,#f70000 82.8%,#c20000 85.9%,#cf0000 89.7%,#c00000 92.7%,#c20000 95.8%,#a30000 98.9%,#a30000 99.6%)"></div>
<div style="left:167px;top:16px;width:131px;height:1px;background:linear-gradient(90deg,#ffb500 0.4%,#ffbf00 5.0%,#ffe700 8.0%,#ffbf00 11.1%,#ffd400 15.6%,#ffdf00 17.2%,#ffc200 21.0%,#ffcf00 29.4%,#ffba00 33.2%,#ffe700 38.5%,#ffe400 39.3%,#ffa200 42.4%,#ffba00 45.4%,#f90000 51.5%,#ff1700 54.6%,#f90000 57.6%,#cd0000 60.7%,#ea0000 66.0%,#e70000 71.4%,#ef0000 74.4%,#e70000 77.5%,#f90000 82.8%,#c80000 85.9%,#cf0000 89.7%,#c80000 93.5%,#bd0000 96.6%,#a80000 99.6%)"></div>
<div style="left:167px;top:17px;width:131px;height:1px;background:linear-gradient(90deg,#ffc200 0.4%,#ffcc00 5.0%,#fff100 8.0%,#ffd200 12.6%,#ffd200 14.9%,#ffdf00 17.9%,#ffc700 24.0%,#ffda00 29.4%,#ffd700 34.0%,#ffe700 39.3%,#ffb500 42.4%,#ffbd00 45.4%,#ff6e00 48.5%,#f90000 51.5%,#ff0800 54.6%,#ea0000 58.4%,#cd0000 60.7%,#df0000 66.0%,#ea0000 82.8%,#c80000 86.6%,#bd0000 95.8%,#ab0000 99.6%)"></div>
<div style="left:167px;top:18px;width:131px;height:1px;background:linear-gradient(90deg,#ffd200 0.4%,#ffdc00 5.0%,#fffe00 8.0%,#ffd200 14.1%,#ffe900 20.2%,#ffc700 23.3%,#ffe100 27.9%,#ffef00 38.5%,#ffc500 42.4%,#ffbf00 45.4%,#ff7b00 48.5%,#f90000 51.5%,#ec0000 57.6%,#cf0000 61.5%,#df0000 74.4%,#e70000 77.5%,#d50000 84.4%,#c00000 89.7%,#c50000 92.7%,#ad0000 99.6%)"></div>
<div style="left:167px;top:19px;width:131px;height:1px;background:linear-gradient(90deg,#ffdf00 0.4%,#ffec00 5.0%,#ffff07 7.3%,#ffff0f 9.5%,#fff600 11.8%,#ffd400 14.1%,#fffc00 20.2%,#ffc700 23.3%,#ffec00 27.9%,#ffff07 32.4%,#fff600 37.8%,#ffc500 45.4%,#ff8600 48.5%,#f70000 51.5%,#e40000 55.3%,#da0000 59.2%,#cf0000 62.2%,#c50000 67.6%,#d50000 71.4%,#d20000 73.7%,#ec0000 76.7%,#cd0000 83.6%,#c80000 86.6%,#b50000 88.9%,#c80000 92.0%,#b00000 95.8%,#ad0000 99.6%)"></div>
<div style="left:167px;top:20px;width:131px;height:1px;background:linear-gradient(90deg,#ffe900 0.4%,#fffe00 5.7%,#ffff1f 8.8%,#ffff22 11.1%,#fff600 12.6%,#ffd700 14.1%,#ffef00 17.9%,#ffff03 19.5%,#ffff13 20.2%,#fffe00 21.0%,#ffcc00 23.3%,#ffef00 27.1%,#fffe00 30.2%,#ffff26 32.4%,#ffff22 34.0%,#fff600 38.5%,#ffdf00 43.1%,#ffba00 46.2%,#ff9000 48.5%,#ff1d00 50.8%,#f70000 51.5%,#d50000 54.6%,#da0000 58.4%,#c50000 65.3%,#b80000 67.6%,#d20000 70.6%,#ca0000 73.7%,#ec0000 76.7%,#c00000 82.8%,#c50000 86.6%,#ab0000 88.9%,#c80000 92.0%,#a80000 95.0%,#b00000 99.6%)"></div>
<div style="left:167px;top:21px;width:131px;height:1px;background:linear-gradient(90deg,#ffd700 0.4%,#fffe00 9.5%,#fffe00 11.1%,#ffd700 14.1%,#ffe700 17.9%,#ffff03 20.2%,#ffdc00 23.3%,#fff400 30.2%,#ffff17 33.2%,#fff600 37.8%,#ffcf00 44.7%,#ff9800 47.7%,#ff8600 48.5%,#ff1700 50.8%,#f20000 51.5%,#d70000 55.3%,#d70000 58.4%,#ca0000 61.5%,#cd0000 64.5%,#ba0000 67.6%,#d70000 70.6%,#cd0000 73.7%,#e70000 76.7%,#bd0000 83.6%,#ab0000 88.2%,#ab0000 89.7%,#c20000 92.0%,#9b0000 95.0%,#b00000 99.6%)"></div>
<div style="left:167px;top:22px;width:131px;height:1px;background:linear-gradient(90deg,#ffc500 0.4%,#ffe700 8.0%,#ffda00 15.6%,#ffe100 17.9%,#fff900 21.0%,#ffdf00 27.1%,#fff100 30.9%,#ffff07 33.2%,#fff600 37.0%,#ffc700 45.4%,#ff7e00 48.5%,#ff1200 50.8%,#ef0000 51.5%,#d70000 55.3%,#d70000 58.4%,#c50000 60.7%,#cf0000 64.5%,#ba0000 66.8%,#dd0000 70.6%,#cf0000 73.7%,#df0000 76.7%,#9e0000 88.9%,#ba0000 92.0%,#8b0000 95.0%,#ad0000 98.9%,#ad0000 99.6%)"></div>
<div style="left:167px;top:23px;width:131px;height:1px;background:linear-gradient(90deg,#ffb200 0.4%,#ffbd00 2.7%,#ffd200 5.7%,#ffd200 17.2%,#fff900 21.8%,#fff900 24.0%,#ffd700 27.1%,#fff600 34.0%,#fff100 37.0%,#ffc700 45.4%,#ff7600 48.5%,#ff0d00 50.8%,#ea0000 51.5%,#d70000 55.3%,#cd0000 59.2%,#c20000 61.5%,#d50000 63.7%,#bd0000 66.8%,#e20000 70.6%,#d50000 74.4%,#da0000 76.7%,#c00000 80.5%,#bd0000 82.8%,#980000 85.9%,#9e0000 89.7%,#b50000 92.0%,#7e0000 95.0%,#8e0000 96.6%,#ad0000 98.9%,#ad0000 99.6%)"></div>
<div style="left:167px;top:24px;width:131px;height:1px;background:linear-gradient(90deg,#ff9d00 0.4%,#ffad00 2.7%,#ffc700 5.0%,#ffb700 11.1%,#ffd700 14.1%,#ffcc00 17.2%,#fffe00 21.8%,#ffff1f 23.3%,#fff600 24.8%,#ffd400 26.3%,#ffd400 29.4%,#ffef00 34.7%,#ffc700 45.4%,#ff6b00 48.5%,#ff0800 50.8%,#e40000 51.5%,#d20000 58.4%,#ba0000 60.7%,#d50000 64.5%,#c00000 67.6%,#ea0000 70.6%,#ba0000 80.5%,#ba0000 82.8%,#890000 85.9%,#980000 89.7%,#b00000 92.0%,#710000 95.0%,#830000 96.6%,#ab0000 98.9%,#ab0000 99.6%)"></div>
<div style="left:167px;top:25px;width:131px;height:1px;background:linear-gradient(90deg,#ffad00 0.4%,#ffbd00 2.7%,#ffda00 5.0%,#ffc700 10.3%,#ffd200 11.8%,#ffec00 14.1%,#ffda00 17.2%,#fffc00 20.2%,#ffff42 23.3%,#fff900 25.6%,#ffe400 26.3%,#ffe700 30.2%,#fffc00 35.5%,#ffd400 45.4%,#ff6b00 48.5%,#ff0500 50.8%,#e40000 51.5%,#d20000 55.3%,#cf0000 58.4%,#b80000 60.7%,#d50000 64.5%,#c20000 66.8%,#e70000 70.6%,#b50000 80.5%,#b50000 82.8%,#810000 85.9%,#960000 90.5%,#a30000 92.0%,#710000 95.0%,#810000 96.6%,#a00000 98.9%,#a00000 99.6%)"></div>
<div style="left:167px;top:26px;width:131px;height:1px;background:linear-gradient(90deg,#ffd400 0.4%,#ffda00 1.9%,#ffff03 4.2%,#ffff0b 5.0%,#fff100 8.0%,#fffe00 11.8%,#ffff1b 14.1%,#fffe00 16.4%,#fff600 17.2%,#ffff03 17.9%,#ffff6d 23.3%,#ffff46 24.8%,#ffff13 26.3%,#ffff0b 28.6%,#ffff22 33.2%,#ffff26 39.3%,#fffc00 43.1%,#ffec00 45.4%,#ff2c00 50.0%,#ff0800 50.8%,#e40000 51.5%,#c50000 54.6%,#d50000 57.6%,#b50000 60.7%,#d20000 64.5%,#ca0000 67.6%,#df0000 70.6%,#a30000 83.6%,#830000 85.9%,#890000 90.5%,#960000 92.0%,#7b0000 95.8%,#8e0000 98.9%,#8e0000 99.6%)"></div>
<div style="left:167px;top:27px;width:131px;height:1px;background:linear-gradient(90deg,#fffc00 0.4%,#ffff07 1.9%,#ffff4e 5.0%,#ffff26 8.0%,#ffff52 14.1%,#ffff22 17.2%,#ffff71 20.2%,#ffff9d 23.3%,#ffff4a 26.3%,#ffff46 30.2%,#ffff52 33.2%,#ffff4a 36.3%,#ffff61 39.3%,#ffff03 45.4%,#ff0a00 50.8%,#da0000 52.3%,#ba0000 54.6%,#d50000 57.6%,#b50000 60.7%,#d20000 64.5%,#d20000 73.7%,#b00000 77.5%,#9b0000 83.6%,#760000 88.9%,#860000 93.5%,#7e0000 99.6%)"></div>
<div style="left:167px;top:28px;width:131px;height:1px;background:linear-gradient(90deg,#ffff36 0.4%,#ffff42 1.9%,#ffff85 4.2%,#ffff91 5.0%,#ffff61 8.0%,#ffff8d 11.1%,#ffff89 14.1%,#ffff4e 17.2%,#ffffac 20.2%,#ffffc8 23.3%,#ffff85 26.3%,#ffff79 30.2%,#ffff81 33.2%,#ffff71 36.3%,#ffff9d 38.5%,#ffffa0 39.3%,#ffff26 45.4%,#fff100 46.2%,#ff0d00 50.8%,#e70000 51.5%,#ad0000 54.6%,#d20000 57.6%,#b30000 60.7%,#d20000 66.0%,#cf0000 73.7%,#a80000 76.7%,#9e0000 82.1%,#6e0000 89.7%,#8e0000 95.8%,#6c0000 98.9%,#6c0000 99.6%)"></div>
<div style="left:167px;top:29px;width:131px;height:1px;background:linear-gradient(90deg,#ffff75 0.4%,#ffff81 1.9%,#ffffc8 4.2%,#ffffd4 5.0%,#ffffa4 7.3%,#ffff9d 8.0%,#ffffd8 11.1%,#ffffc0 14.1%,#ffff7d 17.2%,#ffffeb 20.2%,#fffff3 23.3%,#ffffbc 26.3%,#ffffb0 30.9%,#ffffb0 33.2%,#ffff99 35.5%,#ffffac 37.0%,#ffffd4 38.5%,#ffffdc 39.3%,#ffff46 45.4%,#ffff07 46.2%,#ff1000 50.8%,#ea0000 51.5%,#a00000 54.6%,#d20000 57.6%,#b00000 60.7%,#d70000 66.8%,#ca0000 71.4%,#cd0000 73.7%,#9e0000 76.7%,#9e0000 80.5%,#810000 86.6%,#640000 88.9%,#690000 92.0%,#9e0000 95.0%,#590000 98.9%,#590000 99.6%)"></div>
<div style="left:167px;top:30px;width:131px;height:1px;background:linear-gradient(90deg,#ffff56 0.4%,#ffff5e 1.9%,#ffffa0 4.2%,#ffffac 5.0%,#ffff89 8.0%,#ffffa0 11.1%,#ffff95 14.1%,#ffff5e 17.2%,#ffffac 20.2%,#ffffc8 23.3%,#ffff95 26.3%,#ffff7d 36.3%,#ffffa4 38.5%,#ffffa8 39.3%,#ffff36 44.7%,#ffff1f 45.4%,#ffe900 46.2%,#ff5100 49.2%,#ff1000 50.8%,#ef0000 51.5%,#a00000 54.6%,#ca0000 57.6%,#ad0000 60.7%,#ca0000 67.6%,#c20000 73.7%,#9e0000 76.7%,#960000 82.8%,#830000 86.6%,#660000 90.5%,#6c0000 92.7%,#890000 95.0%,#5f0000 98.9%,#5f0000 99.6%)"></div>
<div style="left:167px;top:31px;width:131px;height:1px;background:linear-gradient(90deg,#ffff36 0.4%,#ffff3e 1.9%,#ffff85 5.0%,#ffff65 11.1%,#ffff6d 14.1%,#ffff42 17.2%,#ffff99 23.3%,#ffff6d 27.1%,#ffff61 34.7%,#ffff69 37.0%,#ffff79 39.3%,#ffff4a 42.4%,#ffff0f 44.7%,#fff600 45.4%,#ff6100 48.5%,#ff1000 50.8%,#f40000 51.5%,#a30000 54.6%,#c20000 57.6%,#ab0000 61.5%,#c00000 70.6%,#b00000 74.4%,#9b0000 77.5%,#980000 83.6%,#640000 92.0%,#740000 95.8%,#640000 99.6%)"></div>
<div style="left:167px;top:32px;width:131px;height:1px;background:linear-gradient(90deg,#ffff17 0.4%,#ffff1f 1.9%,#ffff5e 5.0%,#ffff61 8.0%,#ffff2e 11.1%,#ffff46 14.1%,#ffff22 17.2%,#ffff2a 20.2%,#ffff6d 23.3%,#ffff4a 26.3%,#ffff3e 30.9%,#ffff3a 34.0%,#ffff46 37.0%,#ffff3e 40.1%,#ffff26 42.4%,#fffc00 43.9%,#ffdc00 45.4%,#ff5100 48.5%,#f90000 51.5%,#a30000 54.6%,#ba0000 57.6%,#a80000 62.2%,#ba0000 70.6%,#9b0000 77.5%,#9e0000 83.6%,#610000 92.7%,#690000 99.6%)"></div>
<div style="left:167px;top:33px;width:131px;height:1px;background:linear-gradient(90deg,#fff900 0.4%,#fffc00 1.9%,#ffff3e 5.7%,#ffff4e 7.3%,#ffff4a 8.0%,#ffff07 10.3%,#fffe00 11.8%,#ffff1f 14.1%,#fffc00 18.7%,#fff100 20.2%,#fffe00 21.0%,#ffff42 23.3%,#ffff22 27.1%,#ffff22 30.2%,#ffff0b 32.4%,#ffff2a 35.5%,#ffff07 42.4%,#ffbf00 45.4%,#ff4100 48.5%,#fc0000 51.5%,#a50000 54.6%,#b00000 58.4%,#9e0000 66.0%,#b50000 70.6%,#9b0000 76.0%,#9b0000 80.5%,#a50000 82.8%,#4c0000 95.0%,#6e0000 98.9%,#6e0000 99.6%)"></div>
<div style="left:167px;top:34px;width:131px;height:1px;background:linear-gradient(90deg,#fff600 0.4%,#ffff03 2.7%,#ffff2e 5.7%,#ffff3a 8.0%,#ffff07 9.5%,#ffe700 11.1%,#ffff07 14.1%,#fff100 17.9%,#ffdc00 20.2%,#fff900 21.8%,#ffff26 23.3%,#ffff07 26.3%,#ffff0b 30.2%,#fff900 33.2%,#ffff1b 36.3%,#fffc00 39.3%,#fff600 42.4%,#ffb000 45.4%,#ff3400 48.5%,#ff0000 51.5%,#a50000 54.6%,#ab0000 59.2%,#930000 66.8%,#b30000 70.6%,#9e0000 74.4%,#9b0000 80.5%,#a50000 82.8%,#710000 90.5%,#3f0000 95.0%,#710000 98.9%,#710000 99.6%)"></div>
<div style="left:167px;top:35px;width:131px;height:1px;background:linear-gradient(90deg,#ffff17 0.4%,#ffff2e 6.5%,#ffff2a 8.0%,#ffff07 9.5%,#ffef00 11.1%,#ffff03 14.9%,#fff400 17.9%,#ffdc00 20.2%,#fff900 21.8%,#ffff26 23.3%,#ffff03 25.6%,#ffff07 28.6%,#ffff03 34.0%,#ffff17 36.3%,#fffc00 42.4%,#ffaa00 45.4%,#ff3200 48.5%,#ff0000 51.5%,#a50000 54.6%,#b00000 60.7%,#900000 65.3%,#900000 67.6%,#b50000 70.6%,#a00000 75.2%,#960000 83.6%,#830000 86.6%,#790000 89.7%,#3f0000 95.0%,#710000 98.9%,#710000 99.6%)"></div>
<div style="left:167px;top:36px;width:131px;height:1px;background:linear-gradient(90deg,#ffff3a 0.4%,#ffff3a 5.0%,#fff900 10.3%,#ffff03 17.2%,#ffdf00 20.2%,#fff900 21.8%,#ffff22 23.3%,#fff900 25.6%,#ffec00 26.3%,#ffff07 29.4%,#ffff03 34.0%,#ffff17 38.5%,#ffff0b 41.6%,#fffe00 42.4%,#ff8800 46.2%,#ff2c00 48.5%,#fc0000 51.5%,#a30000 54.6%,#b80000 60.7%,#8e0000 64.5%,#8b0000 67.6%,#b50000 70.6%,#960000 81.3%,#790000 86.6%,#7e0000 88.9%,#3f0000 95.0%,#6e0000 98.9%,#6e0000 99.6%)"></div>
<div style="left:167px;top:37px;width:131px;height:1px;background:linear-gradient(90deg,#ffff5e 0.4%,#ffff52 3.4%,#ffff46 5.0%,#ffff0f 8.0%,#fffe00 11.8%,#ffff07 17.2%,#ffe100 20.2%,#fff900 21.8%,#ffff22 23.3%,#fffe00 24.8%,#ffdf00 26.3%,#ffff07 29.4%,#fffe00 34.0%,#ffff1f 39.3%,#ffff13 41.6%,#ffff03 42.4%,#ff8300 46.2%,#ff2a00 48.5%,#fc0000 51.5%,#a30000 54.6%,#bd0000 60.7%,#890000 64.5%,#860000 67.6%,#b00000 69.8%,#ab0000 74.4%,#930000 81.3%,#6e0000 85.9%,#7b0000 88.9%,#3f0000 95.0%,#6e0000 98.9%,#6e0000 99.6%)"></div>
<div style="left:167px;top:38px;width:131px;height:1px;background:linear-gradient(90deg,#ffff81 0.4%,#ffff75 2.7%,#ffff52 5.0%,#fffe00 8.0%,#ffff0b 17.2%,#fff400 18.7%,#ffe100 20.2%,#fff900 21.8%,#ffff1f 23.3%,#fff600 24.8%,#ffd400 26.3%,#ffe400 27.9%,#ffff03 29.4%,#ffff07 35.5%,#ffff2a 39.3%,#ffff0b 42.4%,#ffd200 43.9%,#ff2500 48.5%,#f90000 51.5%,#a30000 54.6%,#c50000 60.7%,#830000 64.5%,#7b0000 66.8%,#900000 68.3%,#b80000 70.6%,#a00000 79.8%,#640000 85.9%,#7b0000 88.9%,#420000 95.0%,#510000 96.6%,#6e0000 98.9%,#6e0000 99.6%)"></div>
<div style="left:167px;top:39px;width:131px;height:1px;background:linear-gradient(90deg,#ffff52 0.4%,#ffff3e 3.4%,#ffff17 5.7%,#ffff03 6.5%,#ffe700 8.0%,#ffe400 17.9%,#ffd200 20.2%,#fff600 23.3%,#ffc500 26.3%,#ffef00 30.2%,#ffe900 36.3%,#fffc00 37.8%,#ffff13 39.3%,#fffc00 41.6%,#ffda00 43.1%,#ff7600 46.2%,#ff1a00 48.5%,#ff0200 50.0%,#d70000 52.3%,#a30000 54.6%,#b50000 59.9%,#b30000 61.5%,#830000 64.5%,#860000 67.6%,#ad0000 70.6%,#8e0000 79.8%,#660000 83.6%,#660000 86.6%,#7b0000 88.9%,#3c0000 95.0%,#5f0000 98.9%,#5f0000 99.6%)"></div>
<div style="left:167px;top:40px;width:131px;height:1px;background:linear-gradient(90deg,#ffff1b 0.4%,#ffff0b 4.2%,#fff100 5.7%,#ffcf00 8.0%,#ffc200 19.5%,#ffcc00 22.5%,#ffcc00 24.0%,#ffb700 26.3%,#ffe100 32.4%,#ffc700 36.3%,#fff600 39.3%,#ffda00 42.4%,#ff8e00 45.4%,#ff1000 48.5%,#ff0000 49.2%,#a30000 54.6%,#a00000 58.4%,#ab0000 60.7%,#810000 64.5%,#a00000 70.6%,#860000 73.7%,#860000 77.5%,#6e0000 80.5%,#540000 82.8%,#640000 86.6%,#7b0000 88.9%,#3a0000 95.0%,#510000 99.6%)"></div>
<div style="left:167px;top:41px;width:131px;height:1px;background:linear-gradient(90deg,#ffe900 0.4%,#ffe100 5.0%,#ffb700 8.0%,#ffa500 14.9%,#ffad00 24.8%,#ffaa00 27.1%,#ffd200 32.4%,#ffa500 36.3%,#ffe100 39.3%,#ffc500 42.4%,#ff8600 45.4%,#ff0200 48.5%,#ba0000 52.3%,#9e0000 55.3%,#980000 61.5%,#810000 64.5%,#960000 69.8%,#710000 73.7%,#7e0000 76.7%,#4f0000 81.3%,#3c0000 82.8%,#7e0000 88.9%,#350000 95.0%,#420000 99.6%)"></div>
<div style="left:167px;top:42px;width:131px;height:1px;background:linear-gradient(90deg,#ffc200 0.4%,#ffc500 5.0%,#ff9500 9.5%,#ff8600 14.9%,#ff9800 21.0%,#ff9000 24.0%,#ffa800 30.2%,#ffc500 32.4%,#ffad00 34.0%,#ff8600 35.5%,#ff8300 36.3%,#ffc200 38.5%,#ffcc00 39.3%,#ff9800 43.9%,#ff7e00 45.4%,#f70000 48.5%,#b00000 51.5%,#8b0000 58.4%,#860000 62.2%,#810000 64.5%,#980000 67.6%,#860000 70.6%,#590000 73.7%,#710000 76.7%,#250000 82.8%,#7e0000 88.9%,#2f0000 95.8%,#350000 99.6%)"></div>
<div style="left:167px;top:43px;width:131px;height:1px;background:linear-gradient(90deg,#ffb200 0.4%,#ffba00 5.0%,#ff8600 10.3%,#ff7b00 15.6%,#ff8b00 18.7%,#ff9800 20.2%,#ff8000 23.3%,#ff9b00 27.9%,#ffa200 30.2%,#ffbf00 32.4%,#ffba00 33.2%,#ff7e00 35.5%,#ff7b00 36.3%,#ffb700 38.5%,#ffc200 39.3%,#ff7b00 45.4%,#ff1200 47.7%,#ef0000 48.5%,#a80000 51.5%,#9e0000 55.3%,#830000 58.4%,#830000 62.2%,#810000 64.5%,#980000 67.6%,#7e0000 70.6%,#4f0000 73.7%,#6c0000 76.7%,#1d0000 82.8%,#6c0000 87.4%,#810000 88.9%,#320000 95.0%,#2f0000 99.6%)"></div>
<div style="left:167px;top:44px;width:131px;height:1px;background:linear-gradient(90deg,#ffcf00 0.4%,#ffc700 5.7%,#ffa200 11.1%,#ffa200 16.4%,#ffb700 20.2%,#ffa200 23.3%,#ffca00 33.2%,#ffa200 35.5%,#ffad00 37.0%,#ffca00 39.3%,#ffb700 42.4%,#ff7e00 45.4%,#ff1200 47.7%,#ef0000 48.5%,#ad0000 51.5%,#ad0000 54.6%,#890000 57.6%,#8b0000 63.0%,#890000 70.6%,#610000 73.7%,#760000 76.7%,#3a0000 82.1%,#350000 82.8%,#830000 88.9%,#3c0000 95.0%,#420000 99.6%)"></div>
<div style="left:167px;top:45px;width:131px;height:1px;background:linear-gradient(90deg,#ffe900 0.4%,#ffdc00 5.7%,#ffbf00 12.6%,#ffd200 21.0%,#ffc200 25.6%,#ffdc00 32.4%,#ffc700 36.3%,#ffd200 40.1%,#ffca00 42.4%,#ff8000 45.4%,#ff1200 47.7%,#ef0000 48.5%,#b30000 51.5%,#b80000 54.6%,#8e0000 57.6%,#9b0000 61.5%,#7e0000 67.6%,#900000 70.6%,#740000 73.7%,#810000 76.7%,#540000 80.5%,#4a0000 82.8%,#860000 88.9%,#470000 95.0%,#540000 99.6%)"></div>
<div style="left:167px;top:46px;width:131px;height:1px;background:linear-gradient(90deg,#ffff0b 0.4%,#ffef00 6.5%,#ffe100 12.6%,#fff400 20.2%,#ffda00 27.1%,#fff100 30.2%,#ffec00 34.0%,#ffef00 36.3%,#ffdc00 40.1%,#ffdc00 42.4%,#ff8600 45.4%,#ff1200 47.7%,#ef0000 48.5%,#ba0000 51.5%,#c20000 54.6%,#900000 57.6%,#a50000 61.5%,#960000 64.5%,#710000 66.8%,#7b0000 68.3%,#980000 70.6%,#890000 74.4%,#8b0000 76.7%,#640000 79.8%,#690000 85.1%,#8b0000 88.9%,#510000 95.0%,#640000 99.6%)"></div>
<div style="left:167px;top:47px;width:131px;height:1px;background:linear-gradient(90deg,#ffff32 0.4%,#ffff1f 3.4%,#ffff0b 5.7%,#ffff03 13.4%,#ffff22 17.9%,#ffff0f 23.3%,#fff900 24.8%,#ffec00 26.3%,#ffff07 28.6%,#ffff13 30.2%,#fffe00 31.7%,#fff900 33.2%,#ffff22 35.5%,#ffff22 36.3%,#fffc00 37.8%,#ffe400 39.3%,#ffef00 42.4%,#ff8800 45.4%,#ff1500 47.7%,#ec0000 48.5%,#c00000 51.5%,#cd0000 54.6%,#960000 57.6%,#ad0000 61.5%,#9b0000 64.5%,#640000 66.8%,#640000 67.6%,#980000 69.8%,#9e0000 71.4%,#960000 76.7%,#6e0000 79.8%,#790000 86.6%,#8e0000 88.9%,#5f0000 94.3%,#640000 96.6%,#760000 98.9%,#760000 99.6%)"></div>
<div style="left:167px;top:48px;width:131px;height:1px;background:linear-gradient(90deg,#ffff3e 0.4%,#ffff3a 1.9%,#ffff17 5.0%,#ffff0f 13.4%,#ffff2e 17.9%,#ffff0f 24.0%,#fff600 25.6%,#fff400 27.1%,#fffe00 27.9%,#ffff1f 29.4%,#fff900 32.4%,#fffc00 33.2%,#ffff32 35.5%,#ffff32 36.3%,#fffe00 37.8%,#ffe700 39.3%,#fff400 42.4%,#ff8800 45.4%,#ff1500 47.7%,#ec0000 48.5%,#c20000 51.5%,#cf0000 54.6%,#960000 57.6%,#b00000 61.5%,#a80000 63.7%,#610000 66.8%,#610000 67.6%,#a30000 70.6%,#980000 76.7%,#710000 79.8%,#7b0000 86.6%,#8e0000 88.9%,#5c0000 95.0%,#7b0000 99.6%)"></div>
<div style="left:167px;top:49px;width:131px;height:1px;background:linear-gradient(90deg,#ffff3e 0.4%,#ffff3a 1.9%,#ffff17 5.0%,#ffff0f 13.4%,#ffff2e 17.9%,#ffff0f 24.0%,#fff600 25.6%,#fff400 27.1%,#fffe00 27.9%,#ffff1f 29.4%,#fff900 32.4%,#fffc00 33.2%,#ffff32 35.5%,#ffff32 36.3%,#fffe00 37.8%,#ffe700 39.3%,#fff400 42.4%,#ff8800 45.4%,#ff1500 47.7%,#ec0000 48.5%,#c20000 51.5%,#cf0000 54.6%,#960000 57.6%,#b00000 61.5%,#a80000 63.7%,#610000 66.8%,#610000 67.6%,#a30000 70.6%,#980000 76.7%,#710000 79.8%,#7b0000 86.6%,#8e0000 88.9%,#5c0000 95.0%,#7b0000 99.6%)"></div>
<div style="left:539px;top:166px;width:11px;height:1px;background:linear-gradient(90deg,#30123b 4.5%,#30123b 86.4%,#321543 95.5%)"></div>
<div style="left:539px;top:167px;width:11px;height:1px;background:#30123b"></div>
<div style="left:539px;top:168px;width:11px;height:1px;background:#30123b"></div>
<div style="left:539px;top:169px;width:11px;height:1px;background:#30123b"></div>
<div style="left:539px;top:170px;width:11px;height:1px;background:#30123b"></div>
<div style="left:539px;top:171px;width:11px;height:1px;background:#30123b"></div>
<div style="left:539px;top:172px;width:11px;height:1px;background:#30123b"></div>
<div style="left:539px;top:173px;width:11px;height:1px;background:#30123b"></div>
<div style="left:539px;top:174px;width:11px;height:1px;background:#30123b"></div>
<div style="left:539px;top:175px;width:11px;height:1px;background:linear-gradient(90deg,#30123b 4.5%,#30123b 77.3%,#341b51 95.5%)"></div>
<div style="left:539px;top:176px;width:11px;height:1px;background:linear-gradient(90deg,#30123b 4.5%,#30123b 77.3%,#36215f 95.5%)"></div>
<div style="left:539px;top:177px;width:11px;height:1px;background:linear-gradient(90deg,#30123b 4.5%,#321543 40.9%,#30123b 77.3%,#351e58 95.5%)"></div>
<div style="left:539px;top:178px;width:11px;height:1px;background:linear-gradient(90deg,#321543 4.5%,#30123b 13.6%,#33184a 31.8%,#30123b 77.3%,#33184a 95.5%)"></div>
<div style="left:539px;top:179px;width:11px;height:1px;background:linear-gradient(90deg,#351e58 4.5%,#321543 13.6%,#341b51 40.9%,#321543 86.4%,#321543 95.5%)"></div>
<div style="left:539px;top:180px;width:11px;height:1px;background:linear-gradient(90deg,#351e58 4.5%,#321543 13.6%,#351e58 50.0%,#321543 95.5%)"></div>
<div style="left:539px;top:181px;width:11px;height:1px;background:linear-gradient(90deg,#341b51 4.5%,#33184a 22.7%,#38276d 50.0%,#372466 68.2%,#33184a 86.4%,#33184a 95.5%)"></div>
<div style="left:539px;top:182px;width:11px;height:1px;background:linear-gradient(90deg,#341b51 4.5%,#36215f 31.8%,#3b2f80 50.0%,#3b2f80 59.1%,#341b51 95.5%)"></div>
<div style="left:539px;top:183px;width:11px;height:1px;background:linear-gradient(90deg,#351e58 4.5%,#38276d 31.8%,#3d358b 50.0%,#3b2f80 68.2%,#36215f 86.4%,#351e58 95.5%)"></div>
<div style="left:539px;top:184px;width:11px;height:1px;background:linear-gradient(90deg,#372466 4.5%,#3b2f80 22.7%,#3d358b 40.9%,#3f3e9c 50.0%,#3c3286 68.2%,#36215f 95.5%)"></div>
<div style="left:539px;top:185px;width:11px;height:1px;background:linear-gradient(90deg,#3d358b 4.5%,#4040a2 40.9%,#4249b1 50.0%,#372466 95.5%)"></div>
<div style="left:539px;top:186px;width:11px;height:1px;background:linear-gradient(90deg,#3f3e9c 4.5%,#3f3e9c 22.7%,#4454c3 50.0%,#3f3b97 77.3%,#392a73 95.5%)"></div>
<div style="left:539px;top:187px;width:11px;height:1px;background:linear-gradient(90deg,#3f3e9c 4.5%,#3f3e9c 22.7%,#455ccf 50.0%,#424bb5 68.2%,#3d358b 86.4%,#3b2f80 95.5%)"></div>
<div style="left:539px;top:188px;width:11px;height:1px;background:linear-gradient(90deg,#3f3b97 4.5%,#4040a2 22.7%,#455ed3 40.9%,#4669e0 50.0%,#4454c3 68.2%,#3f3b97 86.4%,#3e3891 95.5%)"></div>
<div style="left:539px;top:189px;width:11px;height:1px;background:linear-gradient(90deg,#3e3891 4.5%,#4666dd 40.9%,#4773eb 50.0%,#476ee6 59.1%,#4040a2 86.4%,#3f3b97 95.5%)"></div>
<div style="left:539px;top:190px;width:11px;height:1px;background:linear-gradient(90deg,#3e3891 4.5%,#476ee6 40.9%,#4776ee 50.0%,#4771e9 59.1%,#4040a2 86.4%,#3e3891 95.5%)"></div>
<div style="left:539px;top:191px;width:11px;height:1px;background:linear-gradient(90deg,#3c3286 4.5%,#455ed3 31.8%,#4771e9 50.0%,#4559cb 68.2%,#3c3286 95.5%)"></div>
<div style="left:539px;top:192px;width:11px;height:1px;background:linear-gradient(90deg,#3b2f80 4.5%,#4146ac 22.7%,#4661d6 40.9%,#455ed3 59.1%,#3e3891 86.4%,#3c3286 95.5%)"></div>
<div style="left:539px;top:193px;width:11px;height:1px;background:linear-gradient(90deg,#392a73 4.5%,#4451bf 40.9%,#4456c7 50.0%,#4249b1 68.2%,#3a2d79 95.5%)"></div>
<div style="left:539px;top:194px;width:11px;height:1px;background:linear-gradient(90deg,#38276d 4.5%,#4143a7 40.9%,#4143a7 59.1%,#392a73 86.4%,#38276d 95.5%)"></div>
<div style="left:539px;top:195px;width:11px;height:1px;background:linear-gradient(90deg,#36215f 4.5%,#3a2d79 13.6%,#3e3891 59.1%,#36215f 95.5%)"></div>
<div style="left:539px;top:196px;width:11px;height:1px;background:linear-gradient(90deg,#351e58 4.5%,#3b2f80 50.0%,#351e58 95.5%)"></div>
<div style="left:539px;top:197px;width:11px;height:1px;background:linear-gradient(90deg,#341b51 4.5%,#38276d 50.0%,#341b51 95.5%)"></div>
<div style="left:539px;top:198px;width:11px;height:1px;background:linear-gradient(90deg,#321543 4.5%,#351e58 50.0%,#341b51 77.3%,#321543 95.5%)"></div>
<div style="left:539px;top:199px;width:11px;height:1px;background:linear-gradient(90deg,#321543 4.5%,#341b51 77.3%,#30123b 95.5%)"></div>
<div style="left:539px;top:200px;width:11px;height:1px;background:linear-gradient(90deg,#30123b 4.5%,#321543 40.9%,#321543 59.1%,#351e58 77.3%,#30123b 95.5%)"></div>
<div style="left:539px;top:201px;width:11px;height:1px;background:linear-gradient(90deg,#30123b 4.5%,#341b51 40.9%,#321543 50.0%,#321543 59.1%,#351e58 77.3%,#321543 95.5%)"></div>
<div style="left:539px;top:202px;width:11px;height:1px;background:linear-gradient(90deg,#30123b 4.5%,#30123b 13.6%,#351e58 31.8%,#351e58 40.9%,#321543 50.0%,#33184a 68.2%,#36215f 77.3%,#36215f 86.4%,#33184a 95.5%)"></div>
<div style="left:539px;top:203px;width:11px;height:1px;background:linear-gradient(90deg,#30123b 4.5%,#351e58 31.8%,#30123b 50.0%,#321543 68.2%,#351e58 77.3%,#36215f 86.4%,#351e58 95.5%)"></div>
<div style="left:539px;top:204px;width:11px;height:1px;background:linear-gradient(90deg,#30123b 4.5%,#321543 13.6%,#351e58 22.7%,#30123b 50.0%,#30123b 68.2%,#36215f 95.5%)"></div>
<div style="left:539px;top:205px;width:11px;height:1px;background:linear-gradient(90deg,#30123b 4.5%,#321543 13.6%,#351e58 22.7%,#341b51 31.8%,#30123b 40.9%,#321543 77.3%,#36215f 95.5%)"></div>
<div style="left:539px;top:206px;width:11px;height:1px;background:linear-gradient(90deg,#30123b 4.5%,#341b51 22.7%,#341b51 31.8%,#30123b 40.9%,#33184a 68.2%,#321543 86.4%,#351e58 95.5%)"></div>
<div style="left:539px;top:207px;width:11px;height:1px;background:linear-gradient(90deg,#321543 4.5%,#341b51 13.6%,#341b51 31.8%,#30123b 40.9%,#321543 59.1%,#341b51 68.2%,#30123b 86.4%,#321543 95.5%)"></div>
<div style="left:539px;top:208px;width:11px;height:1px;background:linear-gradient(90deg,#341b51 4.5%,#351e58 22.7%,#30123b 50.0%,#33184a 68.2%,#30123b 77.3%,#30123b 95.5%)"></div>
<div style="left:539px;top:209px;width:11px;height:1px;background:linear-gradient(90deg,#351e58 4.5%,#36215f 13.6%,#30123b 50.0%,#321543 95.5%)"></div>
<div style="left:539px;top:210px;width:11px;height:1px;background:linear-gradient(90deg,#341b51 4.5%,#351e58 22.7%,#30123b 50.0%,#321543 86.4%,#321543 95.5%)"></div>
<div style="left:539px;top:211px;width:11px;height:1px;background:linear-gradient(90deg,#321543 4.5%,#341b51 22.7%,#321543 50.0%,#321543 95.5%)"></div>
<div style="left:539px;top:212px;width:11px;height:1px;background:linear-gradient(90deg,#321543 4.5%,#33184a 68.2%,#321543 95.5%)"></div>
<div style="left:539px;top:213px;width:11px;height:1px;background:linear-gradient(90deg,#33184a 4.5%,#351e58 68.2%,#321543 95.5%)"></div>
<div style="left:539px;top:214px;width:11px;height:1px;background:linear-gradient(90deg,#341b51 4.5%,#351e58 22.7%,#392a73 40.9%,#341b51 95.5%)"></div>
<div style="left:539px;top:215px;width:11px;height:1px;background:linear-gradient(90deg,#341b51 4.5%,#392a73 31.8%,#3d358b 40.9%,#36215f 95.5%)"></div>
<div style="left:539px;top:216px;width:11px;height:1px;background:linear-gradient(90deg,#351e58 4.5%,#3a2d79 31.8%,#3f3b97 40.9%,#3c3286 68.2%,#36215f 95.5%)"></div>
<div style="left:539px;top:217px;width:11px;height:1px;background:linear-gradient(90deg,#36215f 4.5%,#3c3286 31.8%,#3f3e9c 40.9%,#3f3e9c 59.1%,#372466 95.5%)"></div>
<div style="left:539px;top:218px;width:11px;height:1px;background:linear-gradient(90deg,#36215f 4.5%,#3a2d79 22.7%,#4146ac 50.0%,#3d358b 77.3%,#38276d 95.5%)"></div>
<div style="left:539px;top:219px;width:11px;height:1px;background:linear-gradient(90deg,#36215f 4.5%,#3a2d79 22.7%,#4249b1 50.0%,#3f3e9c 68.2%,#38276d 95.5%)"></div>
<div style="left:539px;top:220px;width:11px;height:1px;background:linear-gradient(90deg,#351e58 4.5%,#3c3286 31.8%,#4146ac 50.0%,#3b2f80 86.4%,#3a2d79 95.5%)"></div>
<div style="left:539px;top:221px;width:11px;height:1px;background:linear-gradient(90deg,#351e58 4.5%,#3d358b 40.9%,#3f3e9c 50.0%,#3d358b 68.2%,#3d358b 95.5%)"></div>
<div style="left:539px;top:222px;width:11px;height:1px;background:linear-gradient(90deg,#372466 4.5%,#38276d 31.8%,#3d358b 50.0%,#3b2f80 68.2%,#3f3b97 86.4%,#3d358b 95.5%)"></div>
<div style="left:539px;top:223px;width:11px;height:1px;background:linear-gradient(90deg,#38276d 4.5%,#351e58 22.7%,#372466 40.9%,#3b2f80 50.0%,#392a73 59.1%,#392a73 68.2%,#3d358b 77.3%,#3e3891 86.4%,#392a73 95.5%)"></div>
<div style="left:539px;top:224px;width:11px;height:1px;background:linear-gradient(90deg,#36215f 4.5%,#372466 13.6%,#341b51 22.7%,#351e58 40.9%,#38276d 50.0%,#38276d 68.2%,#3b2f80 77.3%,#392a73 86.4%,#351e58 95.5%)"></div>
<div style="left:539px;top:225px;width:11px;height:1px;background:linear-gradient(90deg,#341b51 4.5%,#36215f 13.6%,#341b51 22.7%,#36215f 68.2%,#38276d 77.3%,#33184a 95.5%)"></div>
<div style="left:539px;top:226px;width:11px;height:1px;background:linear-gradient(90deg,#33184a 4.5%,#341b51 68.2%,#33184a 95.5%)"></div>
<div style="left:539px;top:227px;width:11px;height:1px;background:linear-gradient(90deg,#321543 4.5%,#33184a 68.2%,#321543 95.5%)"></div>
<div style="left:539px;top:228px;width:11px;height:1px;background:linear-gradient(90deg,#33184a 4.5%,#321543 95.5%)"></div>
<div style="left:539px;top:229px;width:11px;height:1px;background:linear-gradient(90deg,#341b51 4.5%,#321543 77.3%,#321543 95.5%)"></div>
<div style="left:539px;top:230px;width:11px;height:1px;background:linear-gradient(90deg,#372466 4.5%,#372466 13.6%,#33184a 22.7%,#321543 95.5%)"></div>
<div style="left:539px;top:231px;width:11px;height:1px;background:linear-gradient(90deg,#3a2d79 4.5%,#392a73 13.6%,#351e58 22.7%,#321543 40.9%,#321543 50.0%,#351e58 68.2%,#321543 77.3%,#321543 95.5%)"></div>
<div style="left:539px;top:232px;width:11px;height:1px;background:linear-gradient(90deg,#3a2d79 4.5%,#3a2d79 13.6%,#33184a 31.8%,#341b51 50.0%,#36215f 59.1%,#351e58 68.2%,#321543 77.3%,#321543 95.5%)"></div>
<div style="left:539px;top:233px;width:11px;height:1px;background:linear-gradient(90deg,#3a2d79 4.5%,#372466 22.7%,#341b51 31.8%,#341b51 40.9%,#372466 59.1%,#341b51 68.2%,#33184a 95.5%)"></div>
<div style="left:539px;top:234px;width:11px;height:1px;background:linear-gradient(90deg,#38276d 4.5%,#351e58 31.8%,#372466 50.0%,#351e58 77.3%,#351e58 95.5%)"></div>
<div style="left:539px;top:235px;width:11px;height:1px;background:linear-gradient(90deg,#392a73 4.5%,#36215f 22.7%,#38276d 40.9%,#36215f 68.2%,#36215f 95.5%)"></div>
<div style="left:539px;top:236px;width:11px;height:1px;background:linear-gradient(90deg,#3c3286 4.5%,#38276d 22.7%,#3b2f80 31.8%,#3b2f80 40.9%,#372466 50.0%,#372466 95.5%)"></div>
<div style="left:539px;top:237px;width:11px;height:1px;background:linear-gradient(90deg,#4146ac 4.5%,#4040a2 22.7%,#4146ac 31.8%,#3f3e9c 40.9%,#392a73 50.0%,#38276d 95.5%)"></div>
<div style="left:539px;top:238px;width:11px;height:1px;background:linear-gradient(90deg,#476ee6 4.5%,#4661d6 31.8%,#434eba 40.9%,#3c3286 50.0%,#3a2d79 86.4%,#3b2f80 95.5%)"></div>
<div style="left:539px;top:239px;width:11px;height:1px;background:linear-gradient(90deg,#3ba0fd 4.5%,#4687fb 22.7%,#4771e9 31.8%,#4040a2 50.0%,#424bb5 68.2%,#3f3b97 77.3%,#3e3891 95.5%)"></div>
<div style="left:539px;top:240px;width:11px;height:1px;background:linear-gradient(90deg,#37a8fa 4.5%,#4391fe 22.7%,#4456c7 40.9%,#4249b1 50.0%,#4456c7 59.1%,#455ccf 68.2%,#4249b1 77.3%,#4146ac 95.5%)"></div>
<div style="left:539px;top:241px;width:11px;height:1px;background:linear-gradient(90deg,#4778f0 4.5%,#4680f6 13.6%,#4773eb 22.7%,#4559cb 31.8%,#4451bf 50.0%,#455ccf 68.2%,#4454c3 86.4%,#4456c7 95.5%)"></div>
<div style="left:539px;top:242px;width:11px;height:1px;background:linear-gradient(90deg,#4456c7 4.5%,#455ed3 59.1%,#4664da 95.5%)"></div>
<div style="left:539px;top:243px;width:11px;height:1px;background:linear-gradient(90deg,#4664da 4.5%,#477bf2 31.8%,#476ee6 59.1%,#4771e9 95.5%)"></div>
<div style="left:539px;top:244px;width:11px;height:1px;background:linear-gradient(90deg,#4771e9 4.5%,#458afc 22.7%,#35abf8 31.8%,#4294ff 40.9%,#467df4 50.0%,#4680f6 95.5%)"></div>
<div style="left:539px;top:245px;width:11px;height:1px;background:linear-gradient(90deg,#467df4 4.5%,#448ffe 22.7%,#37a8fa 31.8%,#458afc 50.0%,#458cfd 95.5%)"></div>
<div style="left:539px;top:246px;width:11px;height:1px;background:linear-gradient(90deg,#4682f8 4.5%,#458afc 31.8%,#3d9efe 50.0%,#4391fe 95.5%)"></div>
<div style="left:539px;top:247px;width:11px;height:1px;background:linear-gradient(90deg,#4687fb 4.5%,#458cfd 31.8%,#31aff5 50.0%,#2fb2f4 59.1%,#3aa3fc 68.2%,#35abf8 86.4%,#38a5fb 95.5%)"></div>
<div style="left:539px;top:248px;width:11px;height:1px;background:linear-gradient(90deg,#448ffe 4.5%,#4391fe 22.7%,#2cb7f0 59.1%,#1bd0d5 77.3%,#1ecbda 95.5%)"></div>
<div style="left:539px;top:249px;width:11px;height:1px;background:linear-gradient(90deg,#4099ff 4.5%,#4099ff 22.7%,#2fb2f4 50.0%,#25c0e7 59.1%,#22ebaa 68.2%,#3cf58e 77.3%,#1de7b2 86.4%,#18e0bd 95.5%)"></div>
<div style="left:539px;top:250px;width:11px;height:1px;background:linear-gradient(90deg,#4099ff 4.5%,#38a5fb 40.9%,#2eb4f2 50.0%,#1bd0d5 59.1%,#65fd69 68.2%,#9cfe40 77.3%,#27eea4 95.5%)"></div>
<div style="left:539px;top:251px;width:11px;height:1px;background:linear-gradient(90deg,#3d9efe 4.5%,#3aa3fc 31.8%,#27bee9 50.0%,#20eaac 59.1%,#8fff49 68.2%,#bcf534 77.3%,#9ffd3f 86.4%,#4af880 95.5%)"></div>
<div style="left:539px;top:252px;width:11px;height:1px;background:linear-gradient(90deg,#3ba0fd 4.5%,#38a5fb 31.8%,#33adf7 40.9%,#22c5e2 50.0%,#35f394 59.1%,#8bff4b 68.2%,#a7fc3a 77.3%,#92ff47 86.4%,#3cf58e 95.5%)"></div>
<div style="left:539px;top:253px;width:11px;height:1px;background:linear-gradient(90deg,#3e9bfe 4.5%,#3aa3fc 31.8%,#31aff5 40.9%,#1bd0d5 50.0%,#25eca7 59.1%,#43f787 68.2%,#4af880 77.3%,#2ff19b 86.4%,#1bd0d5 95.5%)"></div>
<div style="left:539px;top:254px;width:11px;height:1px;background:linear-gradient(90deg,#4294ff 4.5%,#3d9efe 31.8%,#33adf7 40.9%,#1ccdd8 50.0%,#18dbc5 77.3%,#1bd0d5 86.4%,#3aa3fc 95.5%)"></div>
<div style="left:539px;top:255px;width:11px;height:1px;background:linear-gradient(90deg,#448ffe 4.5%,#458cfd 22.7%,#3d9efe 40.9%,#2fb2f4 50.0%,#37a8fa 68.2%,#2fb2f4 86.4%,#3e9bfe 95.5%)"></div>
<div style="left:539px;top:256px;width:11px;height:1px;background:linear-gradient(90deg,#38a5fb 4.5%,#458cfd 22.7%,#4294ff 40.9%,#3ba0fd 59.1%,#3aa3fc 77.3%,#2eb4f2 95.5%)"></div>
<div style="left:539px;top:257px;width:11px;height:1px;background:linear-gradient(90deg,#2fb2f4 4.5%,#4391fe 50.0%,#4099ff 77.3%,#28bceb 86.4%,#1fc9dd 95.5%)"></div>
<div style="left:539px;top:258px;width:11px;height:1px;background:linear-gradient(90deg,#3aa3fc 4.5%,#37a8fa 13.6%,#28bceb 22.7%,#2eb4f2 40.9%,#448ffe 50.0%,#4685fa 68.2%,#4391fe 77.3%,#2cb7f0 86.4%,#27bee9 95.5%)"></div>
<div style="left:539px;top:259px;width:11px;height:1px;background:linear-gradient(90deg,#4391fe 4.5%,#3e9bfe 13.6%,#2fb2f4 22.7%,#2cb7f0 40.9%,#4099ff 50.0%,#4778f0 59.1%,#477bf2 77.3%,#458afc 86.4%,#4682f8 95.5%)"></div>
<div style="left:539px;top:260px;width:11px;height:1px;background:linear-gradient(90deg,#4687fb 4.5%,#37a8fa 22.7%,#448ffe 40.9%,#4666dd 59.1%,#4664da 95.5%)"></div>
<div style="left:539px;top:261px;width:11px;height:1px;background:linear-gradient(90deg,#4680f6 4.5%,#3aa3fc 13.6%,#35abf8 22.7%,#4687fb 31.8%,#4666dd 40.9%,#4454c3 50.0%,#4454c3 95.5%)"></div>
<div style="left:539px;top:262px;width:11px;height:1px;background:linear-gradient(90deg,#4778f0 4.5%,#37a8fa 13.6%,#3aa3fc 22.7%,#477bf2 31.8%,#4451bf 40.9%,#4146ac 50.0%,#4146ac 77.3%,#424bb5 95.5%)"></div>
<div style="left:539px;top:263px;width:11px;height:1px;background:linear-gradient(90deg,#455ccf 4.5%,#458afc 13.6%,#4685fa 22.7%,#4146ac 40.9%,#4040a2 50.0%,#4146ac 59.1%,#3f3e9c 68.2%,#4143a7 77.3%,#4456c7 86.4%,#4454c3 95.5%)"></div>
<div style="left:539px;top:264px;width:11px;height:1px;background:linear-gradient(90deg,#4040a2 4.5%,#4451bf 22.7%,#4143a7 31.8%,#3f3e9c 50.0%,#4146ac 59.1%,#4143a7 68.2%,#455ed3 77.3%,#4669e0 86.4%,#4143a7 95.5%)"></div>
<div style="left:539px;top:265px;width:11px;height:1px;background:linear-gradient(90deg,#3f3b97 4.5%,#3f3b97 50.0%,#424bb5 59.1%,#4451bf 68.2%,#476ee6 77.3%,#4771e9 86.4%,#4040a2 95.5%)"></div>
<div style="left:539px;top:266px;width:11px;height:1px;background:linear-gradient(90deg,#3d358b 4.5%,#3d358b 40.9%,#4454c3 59.1%,#4559cb 68.2%,#4773eb 77.3%,#477bf2 86.4%,#4559cb 95.5%)"></div>
<div style="left:539px;top:267px;width:11px;height:1px;background:linear-gradient(90deg,#3b2f80 4.5%,#3c3286 40.9%,#4451bf 59.1%,#4456c7 68.2%,#4773eb 77.3%,#4196ff 86.4%,#37a8fa 95.5%)"></div>
<div style="left:539px;top:268px;width:11px;height:1px;background:linear-gradient(90deg,#3b2f80 4.5%,#3a2d79 40.9%,#3f3b97 59.1%,#4249b1 68.2%,#4776ee 77.3%,#3ba0fd 86.4%,#1ecbda 95.5%)"></div>
<div style="left:539px;top:269px;width:11px;height:1px;background:linear-gradient(90deg,#3f3b97 4.5%,#4146ac 13.6%,#3c3286 22.7%,#3a2d79 31.8%,#3c3286 59.1%,#3f3b97 68.2%,#476ee6 77.3%,#4196ff 95.5%)"></div>
<div style="left:539px;top:270px;width:11px;height:1px;background:linear-gradient(90deg,#4451bf 4.5%,#4661d6 13.6%,#3b2f80 31.8%,#3d358b 68.2%,#424bb5 77.3%,#4040a2 95.5%)"></div>
<div style="left:539px;top:271px;width:11px;height:1px;background:linear-gradient(90deg,#455ed3 4.5%,#4778f0 13.6%,#455ed3 22.7%,#3e3891 31.8%,#3c3286 50.0%,#3c3286 95.5%)"></div>
<div style="left:539px;top:272px;width:11px;height:1px;background:linear-gradient(90deg,#4661d6 4.5%,#477bf2 13.6%,#466be3 22.7%,#4040a2 40.9%,#3f3e9c 50.0%,#434eba 68.2%,#3f3b97 77.3%,#3c3286 95.5%)"></div>
<div style="left:539px;top:273px;width:11px;height:1px;background:linear-gradient(90deg,#4559cb 4.5%,#4666dd 13.6%,#455ccf 22.7%,#4664da 40.9%,#4687fb 59.1%,#458afc 68.2%,#455ccf 77.3%,#3e3891 86.4%,#3d358b 95.5%)"></div>
<div style="left:539px;top:274px;width:11px;height:1px;background:linear-gradient(90deg,#455ccf 4.5%,#3f3b97 22.7%,#4040a2 31.8%,#466be3 40.9%,#4099ff 50.0%,#31aff5 59.1%,#3aa3fc 68.2%,#4666dd 77.3%,#3e3891 86.4%,#3d358b 95.5%)"></div>
<div style="left:539px;top:275px;width:11px;height:1px;background:linear-gradient(90deg,#4776ee 4.5%,#4040a2 13.6%,#3e3891 22.7%,#3e3891 31.8%,#424bb5 40.9%,#4099ff 50.0%,#31aff5 59.1%,#4294ff 68.2%,#4456c7 77.3%,#3d358b 86.4%,#3c3286 95.5%)"></div>
<div style="left:539px;top:276px;width:11px;height:1px;background:linear-gradient(90deg,#4687fb 4.5%,#4143a7 13.6%,#3e3891 22.7%,#3f3e9c 40.9%,#466be3 50.0%,#4680f6 59.1%,#4666dd 68.2%,#4040a2 77.3%,#3c3286 86.4%,#3c3286 95.5%)"></div>
<div style="left:539px;top:277px;width:11px;height:1px;background:linear-gradient(90deg,#4685fa 4.5%,#4143a7 13.6%,#3d358b 22.7%,#3d358b 40.9%,#4143a7 59.1%,#3c3286 77.3%,#3c3286 86.4%,#4146ac 95.5%)"></div>
<div style="left:539px;top:278px;width:11px;height:1px;background:linear-gradient(90deg,#4664da 4.5%,#4143a7 13.6%,#3d358b 22.7%,#3b2f80 77.3%,#3d358b 86.4%,#424bb5 95.5%)"></div>
<div style="left:539px;top:279px;width:11px;height:1px;background:linear-gradient(90deg,#3e3891 4.5%,#3b2f80 40.9%,#3d358b 59.1%,#3b2f80 77.3%,#3f3b97 95.5%)"></div>
<div style="left:539px;top:280px;width:11px;height:1px;background:linear-gradient(90deg,#3b2f80 4.5%,#3b2f80 40.9%,#3f3b97 59.1%,#3c3286 68.2%,#3c3286 95.5%)"></div>
<div style="left:539px;top:281px;width:11px;height:1px;background:linear-gradient(90deg,#3b2f80 4.5%,#3c3286 50.0%,#3c3286 95.5%)"></div>
<div style="left:539px;top:282px;width:11px;height:1px;background:linear-gradient(90deg,#3b2f80 4.5%,#3c3286 22.7%,#3f3e9c 31.8%,#3d358b 40.9%,#3e3891 59.1%,#3b2f80 68.2%,#3c3286 86.4%,#4249b1 95.5%)"></div>
<div style="left:539px;top:283px;width:11px;height:1px;background:linear-gradient(90deg,#3c3286 4.5%,#3e3891 22.7%,#4454c3 31.8%,#4451bf 40.9%,#3e3891 50.0%,#3c3286 77.3%,#3e3891 86.4%,#4669e0 95.5%)"></div>
<div style="left:539px;top:284px;width:11px;height:1px;background:linear-gradient(90deg,#3d358b 4.5%,#3d358b 13.6%,#3f3e9c 22.7%,#4669e0 31.8%,#4664da 40.9%,#3f3b97 50.0%,#3d358b 68.2%,#3d358b 77.3%,#424bb5 86.4%,#467df4 95.5%)"></div>
<div style="left:539px;top:285px;width:11px;height:1px;background:linear-gradient(90deg,#4456c7 4.5%,#4143a7 13.6%,#4771e9 31.8%,#455ed3 40.9%,#3f3b97 50.0%,#3d358b 68.2%,#3f3b97 77.3%,#4664da 86.4%,#477bf2 95.5%)"></div>
<div style="left:539px;top:286px;width:11px;height:1px;background:linear-gradient(90deg,#4196ff 4.5%,#466be3 22.7%,#455ed3 31.8%,#3f3b97 50.0%,#3f3b97 68.2%,#434eba 77.3%,#4773eb 86.4%,#4664da 95.5%)"></div>
<div style="left:539px;top:287px;width:11px;height:1px;background:linear-gradient(90deg,#4294ff 4.5%,#4682f8 13.6%,#4040a2 31.8%,#3f3e9c 40.9%,#434eba 59.1%,#4146ac 68.2%,#4773eb 77.3%,#4680f6 86.4%,#434eba 95.5%)"></div>
<div style="left:539px;top:288px;width:11px;height:1px;background:linear-gradient(90deg,#4687fb 4.5%,#4776ee 13.6%,#4143a7 22.7%,#3f3b97 31.8%,#3f3b97 40.9%,#4146ac 50.0%,#455ccf 59.1%,#455ed3 68.2%,#458afc 77.3%,#467df4 86.4%,#4143a7 95.5%)"></div>
<div style="left:539px;top:289px;width:11px;height:1px;background:linear-gradient(90deg,#458cfd 4.5%,#466be3 13.6%,#4040a2 22.7%,#4040a2 50.0%,#455ed3 59.1%,#4682f8 77.3%,#4454c3 86.4%,#4040a2 95.5%)"></div>
<div style="left:539px;top:290px;width:11px;height:1px;background:linear-gradient(90deg,#467df4 4.5%,#4146ac 22.7%,#4146ac 50.0%,#4669e0 59.1%,#4680f6 68.2%,#4669e0 77.3%,#4249b1 86.4%,#4146ac 95.5%)"></div>
<div style="left:539px;top:291px;width:11px;height:1px;background:linear-gradient(90deg,#4454c3 4.5%,#424bb5 40.9%,#4454c3 50.0%,#4680f6 59.1%,#458afc 68.2%,#4456c7 77.3%,#434eba 86.4%,#4451bf 95.5%)"></div>
<div style="left:539px;top:292px;width:11px;height:1px;background:linear-gradient(90deg,#4454c3 4.5%,#4451bf 40.9%,#4661d6 50.0%,#458cfd 59.1%,#4685fa 68.2%,#4559cb 77.3%,#4456c7 95.5%)"></div>
<div style="left:539px;top:293px;width:11px;height:1px;background:linear-gradient(90deg,#4456c7 4.5%,#4559cb 40.9%,#477bf2 59.1%,#4559cb 77.3%,#455ccf 95.5%)"></div>
<div style="left:539px;top:294px;width:11px;height:1px;background:linear-gradient(90deg,#4664da 4.5%,#4661d6 40.9%,#466be3 50.0%,#4661d6 77.3%,#4666dd 95.5%)"></div>
<div style="left:539px;top:295px;width:11px;height:1px;background:linear-gradient(90deg,#3d9efe 4.5%,#37a8fa 13.6%,#4099ff 22.7%,#4776ee 31.8%,#4669e0 40.9%,#4771e9 50.0%,#4669e0 77.3%,#466be3 95.5%)"></div>
<div style="left:539px;top:296px;width:11px;height:1px;background:linear-gradient(90deg,#18e0bd 4.5%,#18d9c8 13.6%,#22c5e2 22.7%,#3e9bfe 31.8%,#467df4 40.9%,#4771e9 95.5%)"></div>
<div style="left:539px;top:297px;width:11px;height:1px;background:linear-gradient(90deg,#19e2bb 4.5%,#1fc9dd 13.6%,#27bee9 22.7%,#38a5fb 31.8%,#4682f8 59.1%,#467df4 95.5%)"></div>
<div style="left:539px;top:298px;width:11px;height:1px;background:linear-gradient(90deg,#33adf7 4.5%,#3e9bfe 22.7%,#4391fe 95.5%)"></div>
<div style="left:539px;top:299px;width:11px;height:1px;background:linear-gradient(90deg,#38a5fb 4.5%,#33adf7 50.0%,#37a8fa 95.5%)"></div>
<div style="left:539px;top:300px;width:11px;height:1px;background:#25c0e7"></div>
<div style="left:539px;top:301px;width:11px;height:1px;background:linear-gradient(90deg,#18ddc2 4.5%,#1ecbda 22.7%,#18d7ca 50.0%,#1ad2d2 68.2%,#18d9c8 77.3%,#1ccdd8 95.5%)"></div>
<div style="left:539px;top:302px;width:11px;height:1px;background:linear-gradient(90deg,#22ebaa 4.5%,#18dbc5 22.7%,#18dec0 40.9%,#25eca7 50.0%,#27eea4 68.2%,#38f491 77.3%,#18ddc2 95.5%)"></div>
<div style="left:539px;top:303px;width:11px;height:1px;background:linear-gradient(90deg,#20eaac 4.5%,#19e3b9 31.8%,#20eaac 40.9%,#3ff68a 50.0%,#3cf58e 59.1%,#75fe5c 77.3%,#3cf58e 86.4%,#1de7b2 95.5%)"></div>
<div style="left:539px;top:304px;width:11px;height:1px;background:linear-gradient(90deg,#22ebaa 4.5%,#20eaac 31.8%,#4ef97d 50.0%,#46f884 59.1%,#71fe5f 68.2%,#88ff4e 77.3%,#3cf58e 86.4%,#2ff19b 95.5%)"></div>
<div style="left:539px;top:305px;width:11px;height:1px;background:linear-gradient(90deg,#69fd66 4.5%,#2ff19b 13.6%,#25eca7 22.7%,#2cf09e 31.8%,#55fa76 50.0%,#69fd66 68.2%,#7dff56 77.3%,#43f787 86.4%,#46f884 95.5%)"></div>
<div style="left:539px;top:306px;width:11px;height:1px;background:linear-gradient(90deg,#7dff56 4.5%,#38f491 13.6%,#32f298 22.7%,#5dfc6f 50.0%,#55fa76 68.2%,#6dfe62 77.3%,#59fb73 86.4%,#5dfc6f 95.5%)"></div>
<div style="left:539px;top:307px;width:11px;height:1px;background:linear-gradient(90deg,#55fa76 4.5%,#46f884 13.6%,#69fd66 50.0%,#55fa76 68.2%,#6dfe62 95.5%)"></div>
<div style="left:539px;top:308px;width:11px;height:1px;background:linear-gradient(90deg,#52fa7a 4.5%,#59fb73 13.6%,#7dff56 31.8%,#80ff53 40.9%,#61fc6c 68.2%,#7dff56 95.5%)"></div>
<div style="left:539px;top:309px;width:11px;height:1px;background:linear-gradient(90deg,#61fc6c 4.5%,#71fe5f 22.7%,#8fff49 40.9%,#88ff4e 50.0%,#8fff49 59.1%,#7dff56 68.2%,#84ff51 86.4%,#92ff47 95.5%)"></div>
<div style="left:539px;top:310px;width:11px;height:1px;background:linear-gradient(90deg,#7dff56 4.5%,#79fe59 13.6%,#9cfe40 40.9%,#a7fc3a 59.1%,#92ff47 68.2%,#8fff49 86.4%,#99fe42 95.5%)"></div>
<div style="left:539px;top:311px;width:11px;height:1px;background:linear-gradient(90deg,#7dff56 4.5%,#acfb38 40.9%,#b1f936 59.1%,#96fe44 68.2%,#8bff4b 86.4%,#8fff49 95.5%)"></div>
<div style="left:539px;top:312px;width:11px;height:1px;background:linear-gradient(90deg,#79fe59 4.5%,#a1fd3d 31.8%,#b7f735 40.9%,#bcf534 59.1%,#92ff47 68.2%,#80ff53 77.3%,#84ff51 95.5%)"></div>
<div style="left:539px;top:313px;width:11px;height:1px;background:linear-gradient(90deg,#79fe59 4.5%,#84ff51 22.7%,#b7f735 40.9%,#c3f134 59.1%,#88ff4e 77.3%,#88ff4e 86.4%,#99fe42 95.5%)"></div>
<div style="left:539px;top:314px;width:11px;height:1px;background:linear-gradient(90deg,#79fe59 4.5%,#84ff51 22.7%,#a1fd3d 31.8%,#acfb38 50.0%,#c6f034 59.1%,#c3f134 68.2%,#a7fc3a 86.4%,#b7f735 95.5%)"></div>
<div style="left:539px;top:315px;width:11px;height:1px;background:linear-gradient(90deg,#7dff56 4.5%,#65fd69 13.6%,#9ffd3f 31.8%,#8fff49 50.0%,#b1f936 59.1%,#c1f334 68.2%,#b9f635 77.3%,#c3f134 95.5%)"></div>
<div style="left:539px;top:316px;width:11px;height:1px;background:linear-gradient(90deg,#7dff56 4.5%,#52fa7a 13.6%,#65fd69 22.7%,#96fe44 31.8%,#84ff51 50.0%,#96fe44 77.3%,#affa37 86.4%,#b9f635 95.5%)"></div>
<div style="left:539px;top:317px;width:11px;height:1px;background:linear-gradient(90deg,#4ef97d 4.5%,#38f491 13.6%,#43f787 22.7%,#75fe5c 31.8%,#88ff4e 40.9%,#7dff56 50.0%,#5dfc6f 59.1%,#4ef97d 68.2%,#69fd66 86.4%,#80ff53 95.5%)"></div>
<div style="left:539px;top:318px;width:11px;height:1px;background:linear-gradient(90deg,#1ce6b4 4.5%,#2aefa1 22.7%,#6dfe62 40.9%,#69fd66 50.0%,#38f491 59.1%,#22ebaa 68.2%,#2aefa1 95.5%)"></div>
<div style="left:539px;top:319px;width:11px;height:1px;background:linear-gradient(90deg,#1bd0d5 4.5%,#19e2bb 22.7%,#43f787 40.9%,#38f491 50.0%,#19e2bb 59.1%,#18d7ca 68.2%,#18dec0 86.4%,#18d9c8 95.5%)"></div>
<div style="left:539px;top:320px;width:11px;height:1px;background:linear-gradient(90deg,#27bee9 4.5%,#1ad2d2 22.7%,#1ae4b6 31.8%,#27eea4 40.9%,#18dec0 50.0%,#23c3e4 59.1%,#22c5e2 95.5%)"></div>
<div style="left:539px;top:321px;width:11px;height:1px;background:linear-gradient(90deg,#37a8fa 4.5%,#2ab9ee 22.7%,#18d7ca 40.9%,#2ab9ee 50.0%,#3aa3fc 59.1%,#31aff5 95.5%)"></div>
<div style="left:539px;top:322px;width:11px;height:1px;background:linear-gradient(90deg,#4294ff 4.5%,#4391fe 13.6%,#33adf7 31.8%,#33adf7 40.9%,#4687fb 59.1%,#4196ff 95.5%)"></div>
<div style="left:539px;top:323px;width:11px;height:1px;background:linear-gradient(90deg,#4687fb 4.5%,#467df4 13.6%,#4391fe 31.8%,#4773eb 59.1%,#4680f6 95.5%)"></div>
<div style="left:539px;top:324px;width:11px;height:1px;background:linear-gradient(90deg,#467df4 4.5%,#4771e9 13.6%,#4680f6 31.8%,#4664da 50.0%,#4669e0 95.5%)"></div>
<div style="left:539px;top:325px;width:11px;height:1px;background:linear-gradient(90deg,#476ee6 4.5%,#466be3 13.6%,#477bf2 31.8%,#4559cb 50.0%,#4454c3 86.4%,#4456c7 95.5%)"></div>
<div style="left:539px;top:326px;width:11px;height:1px;background:linear-gradient(90deg,#455ed3 4.5%,#4771e9 22.7%,#4771e9 31.8%,#4451bf 50.0%,#4146ac 77.3%,#424bb5 95.5%)"></div>
<div style="left:539px;top:327px;width:11px;height:1px;background:linear-gradient(90deg,#4451bf 4.5%,#4559cb 31.8%,#3f3e9c 59.1%,#3f3b97 95.5%)"></div>
<div style="left:539px;top:328px;width:11px;height:1px;background:linear-gradient(90deg,#3f3e9c 4.5%,#3f3e9c 31.8%,#3b2f80 50.0%,#3b2f80 95.5%)"></div>
<div style="left:539px;top:329px;width:11px;height:1px;background:linear-gradient(90deg,#392a73 4.5%,#392a73 31.8%,#372466 40.9%,#38276d 86.4%,#372466 95.5%)"></div>
<div style="left:539px;top:330px;width:11px;height:1px;background:linear-gradient(90deg,#36215f 4.5%,#351e58 95.5%)"></div>
<div style="left:539px;top:331px;width:11px;height:1px;background:linear-gradient(90deg,#33184a 4.5%,#341b51 77.3%,#33184a 95.5%)"></div>
<div style="left:539px;top:332px;width:11px;height:1px;background:linear-gradient(90deg,#321543 4.5%,#30123b 59.1%,#321543 95.5%)"></div>
<div style="left:539px;top:333px;width:11px;height:1px;background:#30123b"></div>
<div style="left:539px;top:334px;width:11px;height:1px;background:#30123b"></div>
<div style="left:539px;top:335px;width:11px;height:1px;background:#30123b"></div>
<div style="left:539px;top:336px;width:11px;height:1px;background:#30123b"></div>
<div style="left:539px;top:337px;width:11px;height:1px;background:#30123b"></div>
<div style="left:539px;top:338px;width:11px;height:1px;background:#30123b"></div>
<div style="left:539px;top:339px;width:11px;height:1px;background:#30123b"></div>
<div style="left:539px;top:340px;width:11px;height:1px;background:#30123b"></div>
<div style="left:539px;top:341px;width:11px;height:1px;background:#30123b"></div>
<div style="left:539px;top:342px;width:11px;height:1px;background:#30123b"></div>
<div style="left:539px;top:343px;width:11px;height:1px;background:#30123b"></div>
<div style="left:539px;top:344px;width:11px;height:1px;background:#30123b"></div>
<div style="left:539px;top:345px;width:11px;height:1px;background:#30123b"></div>
<div style="left:539px;top:346px;width:11px;height:1px;background:#30123b"></div>
<div style="left:539px;top:347px;width:11px;height:1px;background:#30123b"></div>
<div style="left:539px;top:348px;width:11px;height:1px;background:#30123b"></div>
<div style="left:539px;top:349px;width:11px;height:1px;background:#30123b"></div>
<div style="left:539px;top:350px;width:11px;height:1px;background:#30123b"></div>
<div style="left:539px;top:351px;width:11px;height:1px;background:#30123b"></div>
<div style="left:539px;top:352px;width:11px;height:1px;background:#30123b"></div>
<div style="left:539px;top:353px;width:11px;height:1px;background:#30123b"></div>
<div style="left:539px;top:354px;width:11px;height:1px;background:#30123b"></div>
<div style="left:539px;top:355px;width:11px;height:1px;background:#30123b"></div>
<div style="left:539px;top:356px;width:11px;height:1px;background:#30123b"></div>
<div style="left:539px;top:357px;width:11px;height:1px;background:#30123b"></div>
<div style="left:539px;top:358px;width:11px;height:1px;background:#30123b"></div>
<div style="left:632px;top:166px;width:11px;height:1px;background:linear-gradient(90deg,#33184a 4.5%,#351e58 13.6%,#392a73 22.7%,#3f3e9c 31.8%,#3f3b97 40.9%,#372466 50.0%,#36215f 68.2%,#33184a 77.3%,#341b51 95.5%)"></div>
<div style="left:632px;top:167px;width:11px;height:1px;background:linear-gradient(90deg,#341b51 4.5%,#3e3891 22.7%,#3f3e9c 31.8%,#3c3286 40.9%,#351e58 50.0%,#36215f 59.1%,#33184a 86.4%,#341b51 95.5%)"></div>
<div style="left:632px;top:168px;width:11px;height:1px;background:linear-gradient(90deg,#341b51 4.5%,#372466 13.6%,#3d358b 22.7%,#3d358b 31.8%,#341b51 50.0%,#33184a 86.4%,#341b51 95.5%)"></div>
<div style="left:632px;top:169px;width:11px;height:1px;background:linear-gradient(90deg,#341b51 4.5%,#341b51 13.6%,#392a73 31.8%,#351e58 40.9%,#33184a 68.2%,#341b51 95.5%)"></div>
<div style="left:632px;top:170px;width:11px;height:1px;background:linear-gradient(90deg,#341b51 4.5%,#341b51 22.7%,#36215f 31.8%,#341b51 40.9%,#351e58 77.3%,#341b51 95.5%)"></div>
<div style="left:632px;top:171px;width:11px;height:1px;background:linear-gradient(90deg,#341b51 4.5%,#351e58 31.8%,#341b51 95.5%)"></div>
<div style="left:632px;top:172px;width:11px;height:1px;background:linear-gradient(90deg,#351e58 4.5%,#36215f 22.7%,#392a73 31.8%,#36215f 40.9%,#341b51 95.5%)"></div>
<div style="left:632px;top:173px;width:11px;height:1px;background:linear-gradient(90deg,#351e58 4.5%,#36215f 13.6%,#3f3e9c 31.8%,#3c3286 50.0%,#372466 59.1%,#351e58 68.2%,#351e58 95.5%)"></div>
<div style="left:632px;top:174px;width:11px;height:1px;background:linear-gradient(90deg,#3b2f80 4.5%,#3d358b 22.7%,#4143a7 31.8%,#4146ac 40.9%,#3f3b97 59.1%,#38276d 68.2%,#36215f 77.3%,#351e58 95.5%)"></div>
<div style="left:632px;top:175px;width:11px;height:1px;background:linear-gradient(90deg,#434eba 4.5%,#4143a7 13.6%,#3c3286 22.7%,#3c3286 31.8%,#3f3b97 40.9%,#3f3b97 59.1%,#38276d 68.2%,#36215f 77.3%,#38276d 86.4%,#36215f 95.5%)"></div>
<div style="left:632px;top:176px;width:11px;height:1px;background:linear-gradient(90deg,#4249b1 4.5%,#4249b1 13.6%,#392a73 22.7%,#36215f 31.8%,#392a73 40.9%,#372466 50.0%,#392a73 59.1%,#36215f 68.2%,#36215f 77.3%,#3a2d79 86.4%,#392a73 95.5%)"></div>
<div style="left:632px;top:177px;width:11px;height:1px;background:linear-gradient(90deg,#3a2d79 4.5%,#3f3b97 13.6%,#38276d 22.7%,#36215f 31.8%,#38276d 40.9%,#36215f 50.0%,#36215f 68.2%,#38276d 77.3%,#3e3891 86.4%,#3c3286 95.5%)"></div>
<div style="left:632px;top:178px;width:11px;height:1px;background:linear-gradient(90deg,#372466 4.5%,#3e3891 13.6%,#38276d 31.8%,#3a2d79 40.9%,#36215f 59.1%,#3a2d79 77.3%,#3f3e9c 86.4%,#3d358b 95.5%)"></div>
<div style="left:632px;top:179px;width:11px;height:1px;background:linear-gradient(90deg,#3a2d79 4.5%,#4146ac 13.6%,#4040a2 22.7%,#3a2d79 31.8%,#38276d 68.2%,#3a2d79 77.3%,#4040a2 86.4%,#3e3891 95.5%)"></div>
<div style="left:632px;top:180px;width:11px;height:1px;background:linear-gradient(90deg,#4143a7 4.5%,#4454c3 13.6%,#3b2f80 31.8%,#392a73 59.1%,#3b2f80 77.3%,#4143a7 86.4%,#4040a2 95.5%)"></div>
<div style="left:632px;top:181px;width:11px;height:1px;background:linear-gradient(90deg,#434eba 4.5%,#4456c7 13.6%,#3e3891 22.7%,#3b2f80 31.8%,#3c3286 68.2%,#3d358b 77.3%,#4249b1 86.4%,#4249b1 95.5%)"></div>
<div style="left:632px;top:182px;width:11px;height:1px;background:linear-gradient(90deg,#424bb5 4.5%,#424bb5 13.6%,#3e3891 22.7%,#3c3286 50.0%,#3e3891 77.3%,#424bb5 86.4%,#4456c7 95.5%)"></div>
<div style="left:632px;top:183px;width:11px;height:1px;background:linear-gradient(90deg,#4143a7 4.5%,#3e3891 40.9%,#3e3891 77.3%,#455ed3 95.5%)"></div>
<div style="left:632px;top:184px;width:11px;height:1px;background:linear-gradient(90deg,#4040a2 4.5%,#4146ac 13.6%,#3f3b97 50.0%,#3f3b97 77.3%,#4559cb 95.5%)"></div>
<div style="left:632px;top:185px;width:11px;height:1px;background:linear-gradient(90deg,#4040a2 4.5%,#434eba 13.6%,#434eba 22.7%,#4143a7 31.8%,#3f3b97 68.2%,#4040a2 86.4%,#4249b1 95.5%)"></div>
<div style="left:632px;top:186px;width:11px;height:1px;background:linear-gradient(90deg,#4146ac 4.5%,#424bb5 13.6%,#4559cb 22.7%,#4456c7 31.8%,#4146ac 40.9%,#4040a2 86.4%,#4040a2 95.5%)"></div>
<div style="left:632px;top:187px;width:11px;height:1px;background:linear-gradient(90deg,#424bb5 4.5%,#424bb5 13.6%,#4559cb 31.8%,#4249b1 40.9%,#4146ac 95.5%)"></div>
<div style="left:632px;top:188px;width:11px;height:1px;background:linear-gradient(90deg,#4451bf 4.5%,#4454c3 31.8%,#424bb5 50.0%,#4456c7 68.2%,#4454c3 95.5%)"></div>
<div style="left:632px;top:189px;width:11px;height:1px;background:linear-gradient(90deg,#4451bf 4.5%,#4456c7 40.9%,#4454c3 50.0%,#4666dd 68.2%,#466be3 86.4%,#4680f6 95.5%)"></div>
<div style="left:632px;top:190px;width:11px;height:1px;background:linear-gradient(90deg,#4454c3 4.5%,#4454c3 50.0%,#4661d6 68.2%,#4661d6 77.3%,#4294ff 95.5%)"></div>
<div style="left:632px;top:191px;width:11px;height:1px;background:linear-gradient(90deg,#4454c3 4.5%,#4559cb 68.2%,#455ccf 77.3%,#477bf2 86.4%,#4391fe 95.5%)"></div>
<div style="left:632px;top:192px;width:11px;height:1px;background:linear-gradient(90deg,#4451bf 4.5%,#455ccf 68.2%,#4661d6 77.3%,#477bf2 86.4%,#458afc 95.5%)"></div>
<div style="left:632px;top:193px;width:11px;height:1px;background:linear-gradient(90deg,#4451bf 4.5%,#455ccf 77.3%,#4680f6 95.5%)"></div>
<div style="left:632px;top:194px;width:11px;height:1px;background:linear-gradient(90deg,#4456c7 4.5%,#4451bf 77.3%,#4456c7 86.4%,#476ee6 95.5%)"></div>
<div style="left:632px;top:195px;width:11px;height:1px;background:linear-gradient(90deg,#4773eb 4.5%,#4664da 13.6%,#4451bf 40.9%,#434eba 86.4%,#4454c3 95.5%)"></div>
<div style="left:632px;top:196px;width:11px;height:1px;background:linear-gradient(90deg,#477bf2 4.5%,#4661d6 13.6%,#4456c7 22.7%,#4456c7 40.9%,#4249b1 59.1%,#424bb5 95.5%)"></div>
<div style="left:632px;top:197px;width:11px;height:1px;background:linear-gradient(90deg,#466be3 4.5%,#4451bf 13.6%,#4249b1 22.7%,#4143a7 68.2%,#4249b1 95.5%)"></div>
<div style="left:632px;top:198px;width:11px;height:1px;background:linear-gradient(90deg,#4451bf 4.5%,#4146ac 13.6%,#3f3e9c 59.1%,#4143a7 77.3%,#4040a2 95.5%)"></div>
<div style="left:632px;top:199px;width:11px;height:1px;background:linear-gradient(90deg,#3f3b97 4.5%,#3f3e9c 59.1%,#424bb5 68.2%,#424bb5 77.3%,#3f3e9c 86.4%,#3f3b97 95.5%)"></div>
<div style="left:632px;top:200px;width:11px;height:1px;background:linear-gradient(90deg,#3c3286 4.5%,#4143a7 31.8%,#4146ac 40.9%,#3f3e9c 50.0%,#4040a2 59.1%,#4559cb 68.2%,#4451bf 77.3%,#3e3891 86.4%,#3d358b 95.5%)"></div>
<div style="left:632px;top:201px;width:11px;height:1px;background:linear-gradient(90deg,#3a2d79 4.5%,#3b2f80 13.6%,#434eba 31.8%,#4451bf 40.9%,#3f3e9c 50.0%,#3f3e9c 59.1%,#4451bf 68.2%,#4146ac 77.3%,#3d358b 86.4%,#3f3e9c 95.5%)"></div>
<div style="left:632px;top:202px;width:11px;height:1px;background:linear-gradient(90deg,#392a73 4.5%,#3a2d79 22.7%,#4143a7 31.8%,#434eba 40.9%,#3d358b 50.0%,#3a2d79 59.1%,#3d358b 68.2%,#3b2f80 86.4%,#4249b1 95.5%)"></div>
<div style="left:632px;top:203px;width:11px;height:1px;background:linear-gradient(90deg,#372466 4.5%,#372466 22.7%,#392a73 31.8%,#3f3e9c 40.9%,#38276d 50.0%,#372466 77.3%,#38276d 86.4%,#4143a7 95.5%)"></div>
<div style="left:632px;top:204px;width:11px;height:1px;background:linear-gradient(90deg,#36215f 4.5%,#372466 31.8%,#38276d 40.9%,#36215f 68.2%,#372466 95.5%)"></div>
<div style="left:632px;top:205px;width:11px;height:1px;background:linear-gradient(90deg,#3a2d79 4.5%,#372466 13.6%,#372466 95.5%)"></div>
<div style="left:632px;top:206px;width:11px;height:1px;background:linear-gradient(90deg,#3d358b 4.5%,#38276d 13.6%,#38276d 95.5%)"></div>
<div style="left:632px;top:207px;width:11px;height:1px;background:linear-gradient(90deg,#3d358b 4.5%,#392a73 13.6%,#392a73 40.9%,#3e3891 59.1%,#392a73 77.3%,#392a73 95.5%)"></div>
<div style="left:632px;top:208px;width:11px;height:1px;background:linear-gradient(90deg,#3c3286 4.5%,#392a73 13.6%,#3b2f80 50.0%,#3d358b 59.1%,#392a73 77.3%,#392a73 95.5%)"></div>
<div style="left:632px;top:209px;width:11px;height:1px;background:linear-gradient(90deg,#3c3286 4.5%,#3a2d79 13.6%,#3b2f80 22.7%,#3f3b97 31.8%,#3f3e9c 40.9%,#3c3286 50.0%,#3a2d79 95.5%)"></div>
<div style="left:632px;top:210px;width:11px;height:1px;background:linear-gradient(90deg,#3f3e9c 4.5%,#3f3b97 13.6%,#4040a2 22.7%,#4559cb 31.8%,#455ccf 40.9%,#4249b1 50.0%,#3f3e9c 68.2%,#3f3b97 95.5%)"></div>
<div style="left:632px;top:211px;width:11px;height:1px;background:linear-gradient(90deg,#4451bf 4.5%,#434eba 13.6%,#4456c7 22.7%,#4771e9 31.8%,#4778f0 40.9%,#4559cb 68.2%,#4456c7 95.5%)"></div>
<div style="left:632px;top:212px;width:11px;height:1px;background:linear-gradient(90deg,#4664da 4.5%,#466be3 22.7%,#4685fa 31.8%,#458cfd 40.9%,#4773eb 59.1%,#4771e9 95.5%)"></div>
<div style="left:632px;top:213px;width:11px;height:1px;background:linear-gradient(90deg,#467df4 4.5%,#448ffe 22.7%,#4099ff 40.9%,#458cfd 59.1%,#4099ff 86.4%,#4687fb 95.5%)"></div>
<div style="left:632px;top:214px;width:11px;height:1px;background:linear-gradient(90deg,#4196ff 4.5%,#2cb7f0 22.7%,#33adf7 68.2%,#2eb4f2 86.4%,#3ba0fd 95.5%)"></div>
<div style="left:632px;top:215px;width:11px;height:1px;background:linear-gradient(90deg,#2fb2f4 4.5%,#1ecbda 13.6%,#1ad2d2 31.8%,#28bceb 95.5%)"></div>
<div style="left:632px;top:216px;width:11px;height:1px;background:linear-gradient(90deg,#1ccdd8 4.5%,#18ddc2 13.6%,#1fe9af 40.9%,#1ad2d2 95.5%)"></div>
<div style="left:632px;top:217px;width:11px;height:1px;background:linear-gradient(90deg,#18ddc2 4.5%,#20eaac 22.7%,#3ff68a 40.9%,#19e2bb 95.5%)"></div>
<div style="left:632px;top:218px;width:11px;height:1px;background:linear-gradient(90deg,#20eaac 4.5%,#25eca7 22.7%,#3ff68a 31.8%,#59fb73 50.0%,#59fb73 59.1%,#32f298 77.3%,#27eea4 95.5%)"></div>
<div style="left:632px;top:219px;width:11px;height:1px;background:linear-gradient(90deg,#38f491 4.5%,#32f298 22.7%,#5dfc6f 50.0%,#61fc6c 59.1%,#3ff68a 77.3%,#3ff68a 95.5%)"></div>
<div style="left:632px;top:220px;width:11px;height:1px;background:linear-gradient(90deg,#43f787 4.5%,#4af880 40.9%,#65fd69 59.1%,#43f787 77.3%,#43f787 95.5%)"></div>
<div style="left:632px;top:221px;width:11px;height:1px;background:linear-gradient(90deg,#35f394 4.5%,#32f298 13.6%,#43f787 31.8%,#4ef97d 50.0%,#79fe59 59.1%,#3ff68a 77.3%,#35f394 95.5%)"></div>
<div style="left:632px;top:222px;width:11px;height:1px;background:linear-gradient(90deg,#35f394 4.5%,#32f298 22.7%,#3ff68a 40.9%,#65fd69 59.1%,#2ff19b 77.3%,#25eca7 95.5%)"></div>
<div style="left:632px;top:223px;width:11px;height:1px;background:linear-gradient(90deg,#2cf09e 4.5%,#2ff19b 22.7%,#43f787 31.8%,#52fa7a 50.0%,#25eca7 77.3%,#22ebaa 95.5%)"></div>
<div style="left:632px;top:224px;width:11px;height:1px;background:linear-gradient(90deg,#1ce6b4 4.5%,#1fe9af 13.6%,#46f884 31.8%,#35f394 50.0%,#19e3b9 68.2%,#1ae4b6 95.5%)"></div>
<div style="left:632px;top:225px;width:11px;height:1px;background:linear-gradient(90deg,#1ad2d2 4.5%,#18d7ca 13.6%,#1ce6b4 22.7%,#1de7b2 31.8%,#1fc9dd 68.2%,#1bd0d5 86.4%,#1fc9dd 95.5%)"></div>
<div style="left:632px;top:226px;width:11px;height:1px;background:linear-gradient(90deg,#33adf7 4.5%,#28bceb 22.7%,#33adf7 59.1%,#35abf8 95.5%)"></div>
<div style="left:632px;top:227px;width:11px;height:1px;background:linear-gradient(90deg,#4682f8 4.5%,#4687fb 95.5%)"></div>
<div style="left:632px;top:228px;width:11px;height:1px;background:linear-gradient(90deg,#4773eb 4.5%,#466be3 50.0%,#476ee6 95.5%)"></div>
<div style="left:632px;top:229px;width:11px;height:1px;background:linear-gradient(90deg,#4680f6 4.5%,#4664da 22.7%,#4559cb 31.8%,#4456c7 50.0%,#4661d6 68.2%,#4559cb 86.4%,#4559cb 95.5%)"></div>
<div style="left:632px;top:230px;width:11px;height:1px;background:linear-gradient(90deg,#467df4 4.5%,#4771e9 13.6%,#424bb5 31.8%,#4040a2 50.0%,#4249b1 68.2%,#4143a7 95.5%)"></div>
<div style="left:632px;top:231px;width:11px;height:1px;background:linear-gradient(90deg,#4664da 4.5%,#3e3891 31.8%,#3a2d79 50.0%,#3b2f80 77.3%,#3a2d79 95.5%)"></div>
<div style="left:632px;top:232px;width:11px;height:1px;background:linear-gradient(90deg,#3f3e9c 4.5%,#392a73 22.7%,#36215f 68.2%,#372466 95.5%)"></div>
<div style="left:632px;top:233px;width:11px;height:1px;background:linear-gradient(90deg,#38276d 4.5%,#372466 77.3%,#392a73 95.5%)"></div>
<div style="left:632px;top:234px;width:11px;height:1px;background:linear-gradient(90deg,#38276d 4.5%,#38276d 68.2%,#3a2d79 86.4%,#3d358b 95.5%)"></div>
<div style="left:632px;top:235px;width:11px;height:1px;background:linear-gradient(90deg,#392a73 4.5%,#392a73 86.4%,#3a2d79 95.5%)"></div>
<div style="left:632px;top:236px;width:11px;height:1px;background:linear-gradient(90deg,#392a73 4.5%,#392a73 40.9%,#3b2f80 50.0%,#392a73 59.1%,#392a73 95.5%)"></div>
<div style="left:632px;top:237px;width:11px;height:1px;background:linear-gradient(90deg,#3a2d79 4.5%,#3b2f80 50.0%,#3a2d79 95.5%)"></div>
<div style="left:632px;top:238px;width:11px;height:1px;background:linear-gradient(90deg,#3b2f80 4.5%,#3a2d79 50.0%,#3b2f80 95.5%)"></div>
<div style="left:632px;top:239px;width:11px;height:1px;background:#3c3286"></div>
<div style="left:632px;top:240px;width:11px;height:1px;background:linear-gradient(90deg,#3e3891 4.5%,#3e3891 68.2%,#4249b1 86.4%,#4143a7 95.5%)"></div>
<div style="left:632px;top:241px;width:11px;height:1px;background:linear-gradient(90deg,#3f3b97 4.5%,#3f3e9c 59.1%,#4040a2 68.2%,#4451bf 77.3%,#4559cb 86.4%,#424bb5 95.5%)"></div>
<div style="left:632px;top:242px;width:11px;height:1px;background:linear-gradient(90deg,#3e3891 4.5%,#3f3b97 31.8%,#4451bf 50.0%,#4143a7 68.2%,#455ed3 86.4%,#424bb5 95.5%)"></div>
<div style="left:632px;top:243px;width:11px;height:1px;background:linear-gradient(90deg,#3c3286 4.5%,#3f3b97 40.9%,#455ed3 50.0%,#455ccf 59.1%,#3f3b97 68.2%,#434eba 86.4%,#4143a7 95.5%)"></div>
<div style="left:632px;top:244px;width:11px;height:1px;background:linear-gradient(90deg,#3c3286 4.5%,#424bb5 22.7%,#3d358b 40.9%,#4454c3 50.0%,#4451bf 59.1%,#3c3286 68.2%,#3b2f80 77.3%,#3f3b97 86.4%,#3c3286 95.5%)"></div>
<div style="left:632px;top:245px;width:11px;height:1px;background:linear-gradient(90deg,#3f3e9c 4.5%,#4451bf 13.6%,#4559cb 22.7%,#424bb5 31.8%,#3d358b 40.9%,#3f3e9c 50.0%,#3e3891 59.1%,#392a73 68.2%,#392a73 77.3%,#3b2f80 86.4%,#392a73 95.5%)"></div>
<div style="left:632px;top:246px;width:11px;height:1px;background:linear-gradient(90deg,#4040a2 4.5%,#4559cb 22.7%,#4456c7 31.8%,#4040a2 40.9%,#392a73 59.1%,#372466 68.2%,#372466 95.5%)"></div>
<div style="left:632px;top:247px;width:11px;height:1px;background:linear-gradient(90deg,#3f3e9c 4.5%,#4146ac 13.6%,#4661d6 22.7%,#4661d6 31.8%,#3f3b97 50.0%,#38276d 77.3%,#392a73 95.5%)"></div>
<div style="left:632px;top:248px;width:11px;height:1px;background:linear-gradient(90deg,#4040a2 4.5%,#4146ac 13.6%,#4664da 22.7%,#4661d6 31.8%,#4143a7 50.0%,#424bb5 59.1%,#3c3286 77.3%,#3d358b 86.4%,#4040a2 95.5%)"></div>
<div style="left:632px;top:249px;width:11px;height:1px;background:linear-gradient(90deg,#4146ac 4.5%,#4146ac 13.6%,#4454c3 22.7%,#4143a7 40.9%,#4143a7 50.0%,#424bb5 59.1%,#4040a2 68.2%,#4143a7 86.4%,#4559cb 95.5%)"></div>
<div style="left:632px;top:250px;width:11px;height:1px;background:linear-gradient(90deg,#424bb5 4.5%,#424bb5 77.3%,#434eba 86.4%,#455ed3 95.5%)"></div>
<div style="left:632px;top:251px;width:11px;height:1px;background:linear-gradient(90deg,#4454c3 4.5%,#4451bf 86.4%,#4454c3 95.5%)"></div>
<div style="left:632px;top:252px;width:11px;height:1px;background:linear-gradient(90deg,#4661d6 4.5%,#4559cb 95.5%)"></div>
<div style="left:632px;top:253px;width:11px;height:1px;background:linear-gradient(90deg,#476ee6 4.5%,#4664da 40.9%,#477bf2 59.1%,#4664da 77.3%,#4666dd 95.5%)"></div>
<div style="left:632px;top:254px;width:11px;height:1px;background:linear-gradient(90deg,#4773eb 4.5%,#466be3 40.9%,#4682f8 50.0%,#4391fe 59.1%,#4771e9 77.3%,#458afc 95.5%)"></div>
<div style="left:632px;top:255px;width:11px;height:1px;background:linear-gradient(90deg,#477bf2 4.5%,#4778f0 40.9%,#4391fe 50.0%,#3ba0fd 59.1%,#4196ff 68.2%,#467df4 77.3%,#458cfd 86.4%,#2eb4f2 95.5%)"></div>
<div style="left:632px;top:256px;width:11px;height:1px;background:linear-gradient(90deg,#4682f8 4.5%,#4680f6 40.9%,#4196ff 50.0%,#37a8fa 59.1%,#3aa3fc 68.2%,#4687fb 77.3%,#4687fb 86.4%,#2fb2f4 95.5%)"></div>
<div style="left:632px;top:257px;width:11px;height:1px;background:linear-gradient(90deg,#458afc 4.5%,#458afc 31.8%,#4687fb 40.9%,#3aa3fc 59.1%,#3ba0fd 68.2%,#458cfd 77.3%,#458afc 86.4%,#37a8fa 95.5%)"></div>
<div style="left:632px;top:258px;width:11px;height:1px;background:linear-gradient(90deg,#448ffe 4.5%,#458afc 40.9%,#4099ff 59.1%,#458cfd 77.3%,#4391fe 86.4%,#33adf7 95.5%)"></div>
<div style="left:632px;top:259px;width:11px;height:1px;background:linear-gradient(90deg,#458afc 4.5%,#467df4 31.8%,#4196ff 59.1%,#4687fb 77.3%,#4391fe 86.4%,#33adf7 95.5%)"></div>
<div style="left:632px;top:260px;width:11px;height:1px;background:linear-gradient(90deg,#4680f6 4.5%,#4773eb 31.8%,#4778f0 40.9%,#458cfd 50.0%,#4682f8 77.3%,#38a5fb 95.5%)"></div>
<div style="left:632px;top:261px;width:11px;height:1px;background:linear-gradient(90deg,#4778f0 4.5%,#467df4 77.3%,#4196ff 86.4%,#37a8fa 95.5%)"></div>
<div style="left:632px;top:262px;width:11px;height:1px;background:linear-gradient(90deg,#4682f8 4.5%,#458afc 13.6%,#476ee6 50.0%,#4778f0 77.3%,#458cfd 86.4%,#3ba0fd 95.5%)"></div>
<div style="left:632px;top:263px;width:11px;height:1px;background:linear-gradient(90deg,#4685fa 4.5%,#458cfd 13.6%,#4669e0 40.9%,#4771e9 77.3%,#4687fb 95.5%)"></div>
<div style="left:632px;top:264px;width:11px;height:1px;background:linear-gradient(90deg,#4773eb 4.5%,#4666dd 50.0%,#466be3 86.4%,#466be3 95.5%)"></div>
<div style="left:632px;top:265px;width:11px;height:1px;background:linear-gradient(90deg,#4664da 4.5%,#455ed3 50.0%,#4771e9 68.2%,#4661d6 86.4%,#4661d6 95.5%)"></div>
<div style="left:632px;top:266px;width:11px;height:1px;background:linear-gradient(90deg,#4456c7 4.5%,#4451bf 50.0%,#4666dd 68.2%,#4456c7 86.4%,#455ccf 95.5%)"></div>
<div style="left:632px;top:267px;width:11px;height:1px;background:linear-gradient(90deg,#4456c7 4.5%,#4454c3 13.6%,#4249b1 22.7%,#424bb5 86.4%,#4451bf 95.5%)"></div>
<div style="left:632px;top:268px;width:11px;height:1px;background:linear-gradient(90deg,#3d9efe 4.5%,#4771e9 13.6%,#4146ac 22.7%,#4143a7 31.8%,#4454c3 40.9%,#4249b1 50.0%,#4143a7 86.4%,#4146ac 95.5%)"></div>
<div style="left:632px;top:269px;width:11px;height:1px;background:linear-gradient(90deg,#1ecbda 4.5%,#4685fa 13.6%,#4143a7 22.7%,#4249b1 31.8%,#4771e9 40.9%,#455ed3 50.0%,#4040a2 59.1%,#3f3b97 77.3%,#3f3b97 95.5%)"></div>
<div style="left:632px;top:270px;width:11px;height:1px;background:linear-gradient(90deg,#23c3e4 4.5%,#4778f0 13.6%,#3f3e9c 22.7%,#3f3e9c 31.8%,#476ee6 40.9%,#4669e0 50.0%,#3f3b97 59.1%,#3e3891 95.5%)"></div>
<div style="left:632px;top:271px;width:11px;height:1px;background:linear-gradient(90deg,#4099ff 4.5%,#4559cb 13.6%,#3e3891 22.7%,#3e3891 31.8%,#434eba 40.9%,#4454c3 50.0%,#3e3891 59.1%,#3e3891 86.4%,#3f3e9c 95.5%)"></div>
<div style="left:632px;top:272px;width:11px;height:1px;background:linear-gradient(90deg,#476ee6 4.5%,#3f3e9c 13.6%,#3c3286 31.8%,#3e3891 50.0%,#3d358b 86.4%,#4143a7 95.5%)"></div>
<div style="left:632px;top:273px;width:11px;height:1px;background:linear-gradient(90deg,#4040a2 4.5%,#3d358b 13.6%,#3d358b 86.4%,#434eba 95.5%)"></div>
<div style="left:632px;top:274px;width:11px;height:1px;background:linear-gradient(90deg,#3c3286 4.5%,#3c3286 77.3%,#3d358b 86.4%,#4559cb 95.5%)"></div>
<div style="left:632px;top:275px;width:11px;height:1px;background:linear-gradient(90deg,#3b2f80 4.5%,#3b2f80 50.0%,#3a2d79 59.1%,#3d358b 86.4%,#455ed3 95.5%)"></div>
<div style="left:632px;top:276px;width:11px;height:1px;background:linear-gradient(90deg,#3a2d79 4.5%,#3b2f80 22.7%,#3f3e9c 31.8%,#3f3b97 40.9%,#3b2f80 50.0%,#3a2d79 77.3%,#3c3286 86.4%,#4456c7 95.5%)"></div>
<div style="left:632px;top:277px;width:11px;height:1px;background:linear-gradient(90deg,#392a73 4.5%,#3d358b 22.7%,#4559cb 31.8%,#4249b1 40.9%,#3b2f80 50.0%,#392a73 59.1%,#3b2f80 86.4%,#4146ac 95.5%)"></div>
<div style="left:632px;top:278px;width:11px;height:1px;background:linear-gradient(90deg,#38276d 4.5%,#3a2d79 13.6%,#476ee6 31.8%,#434eba 40.9%,#3a2d79 50.0%,#3a2d79 86.4%,#3f3b97 95.5%)"></div>
<div style="left:632px;top:279px;width:11px;height:1px;background:linear-gradient(90deg,#372466 4.5%,#392a73 13.6%,#4146ac 22.7%,#4661d6 31.8%,#3a2d79 50.0%,#392a73 77.3%,#4040a2 95.5%)"></div>
<div style="left:632px;top:280px;width:11px;height:1px;background:linear-gradient(90deg,#372466 4.5%,#38276d 13.6%,#3d358b 22.7%,#3f3e9c 31.8%,#3d358b 40.9%,#434eba 59.1%,#4146ac 86.4%,#424bb5 95.5%)"></div>
<div style="left:632px;top:281px;width:11px;height:1px;background:linear-gradient(90deg,#36215f 4.5%,#392a73 13.6%,#372466 31.8%,#392a73 40.9%,#434eba 50.0%,#455ccf 59.1%,#455ccf 77.3%,#4040a2 95.5%)"></div>
<div style="left:632px;top:282px;width:11px;height:1px;background:linear-gradient(90deg,#36215f 4.5%,#351e58 31.8%,#36215f 40.9%,#3f3e9c 50.0%,#455ccf 77.3%,#372466 95.5%)"></div>
<div style="left:632px;top:283px;width:11px;height:1px;background:linear-gradient(90deg,#36215f 4.5%,#341b51 13.6%,#341b51 40.9%,#3c3286 59.1%,#434eba 68.2%,#4454c3 77.3%,#3b2f80 86.4%,#341b51 95.5%)"></div>
<div style="left:632px;top:284px;width:11px;height:1px;background:linear-gradient(90deg,#3b2f80 4.5%,#351e58 13.6%,#341b51 22.7%,#38276d 50.0%,#424bb5 68.2%,#4146ac 77.3%,#36215f 86.4%,#33184a 95.5%)"></div>
<div style="left:632px;top:285px;width:11px;height:1px;background:linear-gradient(90deg,#3f3e9c 4.5%,#38276d 13.6%,#36215f 22.7%,#3b2f80 50.0%,#4146ac 68.2%,#3d358b 77.3%,#351e58 86.4%,#341b51 95.5%)"></div>
<div style="left:632px;top:286px;width:11px;height:1px;background:linear-gradient(90deg,#4451bf 4.5%,#3b2f80 22.7%,#392a73 31.8%,#3c3286 68.2%,#36215f 77.3%,#341b51 86.4%,#341b51 95.5%)"></div>
<div style="left:632px;top:287px;width:11px;height:1px;background:linear-gradient(90deg,#4666dd 4.5%,#4559cb 13.6%,#36215f 31.8%,#351e58 50.0%,#372466 59.1%,#341b51 77.3%,#341b51 95.5%)"></div>
<div style="left:632px;top:288px;width:11px;height:1px;background:linear-gradient(90deg,#476ee6 4.5%,#4664da 13.6%,#36215f 31.8%,#341b51 40.9%,#351e58 95.5%)"></div>
<div style="left:632px;top:289px;width:11px;height:1px;background:linear-gradient(90deg,#424bb5 4.5%,#424bb5 13.6%,#36215f 31.8%,#351e58 59.1%,#372466 68.2%,#351e58 95.5%)"></div>
<div style="left:632px;top:290px;width:11px;height:1px;background:linear-gradient(90deg,#372466 4.5%,#36215f 50.0%,#392a73 59.1%,#4040a2 68.2%,#3f3b97 77.3%,#372466 86.4%,#351e58 95.5%)"></div>
<div style="left:632px;top:291px;width:11px;height:1px;background:linear-gradient(90deg,#372466 4.5%,#38276d 22.7%,#3c3286 31.8%,#392a73 50.0%,#4456c7 68.2%,#4451bf 77.3%,#3a2d79 86.4%,#38276d 95.5%)"></div>
<div style="left:632px;top:292px;width:11px;height:1px;background:linear-gradient(90deg,#3b2f80 4.5%,#3c3286 22.7%,#4143a7 31.8%,#424bb5 40.9%,#3e3891 50.0%,#4559cb 68.2%,#4454c3 77.3%,#3d358b 86.4%,#3b2f80 95.5%)"></div>
<div style="left:632px;top:293px;width:11px;height:1px;background:linear-gradient(90deg,#3f3e9c 4.5%,#3f3b97 13.6%,#4040a2 22.7%,#4664da 40.9%,#4146ac 50.0%,#4146ac 77.3%,#3f3b97 95.5%)"></div>
<div style="left:632px;top:294px;width:11px;height:1px;background:linear-gradient(90deg,#455ccf 4.5%,#424bb5 22.7%,#4669e0 31.8%,#477bf2 40.9%,#4456c7 50.0%,#4146ac 59.1%,#424bb5 86.4%,#4146ac 95.5%)"></div>
<div style="left:632px;top:295px;width:11px;height:1px;background:linear-gradient(90deg,#4682f8 4.5%,#4666dd 13.6%,#4559cb 22.7%,#477bf2 31.8%,#458cfd 40.9%,#4669e0 50.0%,#4454c3 59.1%,#4454c3 95.5%)"></div>
<div style="left:632px;top:296px;width:11px;height:1px;background:linear-gradient(90deg,#35abf8 4.5%,#477bf2 13.6%,#4664da 22.7%,#4682f8 31.8%,#4391fe 40.9%,#4776ee 50.0%,#4666dd 68.2%,#4664da 95.5%)"></div>
<div style="left:632px;top:297px;width:11px;height:1px;background:linear-gradient(90deg,#1fc9dd 4.5%,#448ffe 13.6%,#4778f0 22.7%,#448ffe 40.9%,#477bf2 59.1%,#477bf2 95.5%)"></div>
<div style="left:632px;top:298px;width:11px;height:1px;background:linear-gradient(90deg,#1bd0d5 4.5%,#3d9efe 13.6%,#458cfd 22.7%,#3e9bfe 68.2%,#458cfd 77.3%,#4294ff 95.5%)"></div>
<div style="left:632px;top:299px;width:11px;height:1px;background:linear-gradient(90deg,#1ecbda 4.5%,#37a8fa 13.6%,#38a5fb 40.9%,#28bceb 59.1%,#3ba0fd 77.3%,#37a8fa 95.5%)"></div>
<div style="left:632px;top:300px;width:11px;height:1px;background:linear-gradient(90deg,#25c0e7 4.5%,#2ab9ee 13.6%,#1bd0d5 59.1%,#2eb4f2 77.3%,#27bee9 95.5%)"></div>
<div style="left:632px;top:301px;width:11px;height:1px;background:linear-gradient(90deg,#2ab9ee 4.5%,#18e0bd 31.8%,#18d9c8 59.1%,#1ecbda 68.2%,#1ad2d2 95.5%)"></div>
<div style="left:632px;top:302px;width:11px;height:1px;background:linear-gradient(90deg,#25c0e7 4.5%,#18e0bd 31.8%,#18dbc5 86.4%,#18dbc5 95.5%)"></div>
<div style="left:632px;top:303px;width:11px;height:1px;background:linear-gradient(90deg,#18d7ca 4.5%,#20eaac 50.0%,#1ce6b4 86.4%,#1fe9af 95.5%)"></div>
<div style="left:632px;top:304px;width:11px;height:1px;background:linear-gradient(90deg,#1de7b2 4.5%,#35f394 59.1%,#2cf09e 86.4%,#32f298 95.5%)"></div>
<div style="left:632px;top:305px;width:11px;height:1px;background:linear-gradient(90deg,#25eca7 4.5%,#43f787 31.8%,#46f884 59.1%,#55fa76 68.2%,#46f884 95.5%)"></div>
<div style="left:632px;top:306px;width:11px;height:1px;background:linear-gradient(90deg,#32f298 4.5%,#43f787 22.7%,#55fa76 31.8%,#65fd69 59.1%,#71fe5f 68.2%,#6dfe62 77.3%,#43f787 95.5%)"></div>
<div style="left:632px;top:307px;width:11px;height:1px;background:linear-gradient(90deg,#52fa7a 4.5%,#55fa76 22.7%,#80ff53 50.0%,#8fff49 68.2%,#75fe5c 86.4%,#55fa76 95.5%)"></div>
<div style="left:632px;top:308px;width:11px;height:1px;background:linear-gradient(90deg,#8fff49 4.5%,#79fe59 22.7%,#a1fd3d 59.1%,#96fe44 95.5%)"></div>
<div style="left:632px;top:309px;width:11px;height:1px;background:linear-gradient(90deg,#a7fc3a 4.5%,#a4fc3c 13.6%,#8bff4b 22.7%,#92ff47 50.0%,#a4fc3c 68.2%,#acfb38 95.5%)"></div>
<div style="left:632px;top:310px;width:11px;height:1px;background:linear-gradient(90deg,#a4fc3c 4.5%,#9ffd3f 13.6%,#80ff53 22.7%,#7dff56 31.8%,#9cfe40 68.2%,#a4fc3c 95.5%)"></div>
<div style="left:632px;top:311px;width:11px;height:1px;background:linear-gradient(90deg,#8fff49 4.5%,#8fff49 13.6%,#6dfe62 22.7%,#92ff47 59.1%,#92ff47 95.5%)"></div>
<div style="left:632px;top:312px;width:11px;height:1px;background:linear-gradient(90deg,#71fe5f 4.5%,#71fe5f 13.6%,#59fb73 22.7%,#7dff56 50.0%,#80ff53 68.2%,#71fe5f 95.5%)"></div>
<div style="left:632px;top:313px;width:11px;height:1px;background:linear-gradient(90deg,#6dfe62 4.5%,#5dfc6f 13.6%,#3ff68a 22.7%,#65fd69 68.2%,#55fa76 86.4%,#46f884 95.5%)"></div>
<div style="left:632px;top:314px;width:11px;height:1px;background:linear-gradient(90deg,#5dfc6f 4.5%,#2ff19b 22.7%,#2cf09e 31.8%,#4af880 50.0%,#55fa76 77.3%,#4ef97d 86.4%,#38f491 95.5%)"></div>
<div style="left:632px;top:315px;width:11px;height:1px;background:linear-gradient(90deg,#35f394 4.5%,#25eca7 22.7%,#2aefa1 40.9%,#3ff68a 50.0%,#3ff68a 86.4%,#2ff19b 95.5%)"></div>
<div style="left:632px;top:316px;width:11px;height:1px;background:linear-gradient(90deg,#18d9c8 4.5%,#18dec0 31.8%,#1ce6b4 50.0%,#25eca7 59.1%,#18e0bd 95.5%)"></div>
<div style="left:632px;top:317px;width:11px;height:1px;background:linear-gradient(90deg,#25c0e7 4.5%,#1fc9dd 40.9%,#18ddc2 59.1%,#23c3e4 95.5%)"></div>
<div style="left:632px;top:318px;width:11px;height:1px;background:linear-gradient(90deg,#2eb4f2 4.5%,#31aff5 31.8%,#23c3e4 68.2%,#2fb2f4 95.5%)"></div>
<div style="left:632px;top:319px;width:11px;height:1px;background:linear-gradient(90deg,#3d9efe 4.5%,#3e9bfe 31.8%,#3e9bfe 95.5%)"></div>
<div style="left:632px;top:320px;width:11px;height:1px;background:linear-gradient(90deg,#4687fb 4.5%,#4680f6 22.7%,#458cfd 40.9%,#4680f6 95.5%)"></div>
<div style="left:632px;top:321px;width:11px;height:1px;background:linear-gradient(90deg,#4778f0 4.5%,#466be3 22.7%,#4778f0 68.2%,#466be3 95.5%)"></div>
<div style="left:632px;top:322px;width:11px;height:1px;background:linear-gradient(90deg,#4664da 4.5%,#455ccf 22.7%,#4664da 68.2%,#4661d6 95.5%)"></div>
<div style="left:632px;top:323px;width:11px;height:1px;background:linear-gradient(90deg,#434eba 4.5%,#434eba 50.0%,#4451bf 59.1%,#4249b1 77.3%,#4451bf 95.5%)"></div>
<div style="left:632px;top:324px;width:11px;height:1px;background:linear-gradient(90deg,#3f3b97 4.5%,#3f3b97 86.4%,#3f3e9c 95.5%)"></div>
<div style="left:632px;top:325px;width:11px;height:1px;background:linear-gradient(90deg,#3a2d79 4.5%,#3b2f80 59.1%,#3a2d79 95.5%)"></div>
<div style="left:632px;top:326px;width:11px;height:1px;background:linear-gradient(90deg,#36215f 4.5%,#372466 59.1%,#36215f 95.5%)"></div>
<div style="left:632px;top:327px;width:11px;height:1px;background:#33184a"></div>
<div style="left:632px;top:328px;width:11px;height:1px;background:#30123b"></div>
<div style="left:632px;top:329px;width:11px;height:1px;background:#30123b"></div>
<div style="left:632px;top:330px;width:11px;height:1px;background:#30123b"></div>
<div style="left:632px;top:331px;width:11px;height:1px;background:#30123b"></div>
<div style="left:632px;top:332px;width:11px;height:1px;background:#30123b"></div>
<div style="left:632px;top:333px;width:11px;height:1px;background:#30123b"></div>
<div style="left:632px;top:334px;width:11px;height:1px;background:#30123b"></div>
<div style="left:632px;top:335px;width:11px;height:1px;background:#30123b"></div>
<div style="left:632px;top:336px;width:11px;height:1px;background:#30123b"></div>
<div style="left:632px;top:337px;width:11px;height:1px;background:#30123b"></div>
<div style="left:632px;top:338px;width:11px;height:1px;background:#30123b"></div>
<div style="left:632px;top:339px;width:11px;height:1px;background:#30123b"></div>
<div style="left:632px;top:340px;width:11px;height:1px;background:#30123b"></div>
<div style="left:632px;top:341px;width:11px;height:1px;background:#30123b"></div>
<div style="left:632px;top:342px;width:11px;height:1px;background:#30123b"></div>
<div style="left:632px;top:343px;width:11px;height:1px;background:#30123b"></div>
<div style="left:632px;top:344px;width:11px;height:1px;background:#30123b"></div>
<div style="left:632px;top:345px;width:11px;height:1px;background:#30123b"></div>
<div style="left:632px;top:346px;width:11px;height:1px;background:#30123b"></div>
<div style="left:632px;top:347px;width:11px;height:1px;background:#30123b"></div>
<div style="left:632px;top:348px;width:11px;height:1px;background:#30123b"></div>
<div style="left:632px;top:349px;width:11px;height:1px;background:#30123b"></div>
<div style="left:632px;top:350px;width:11px;height:1px;background:#30123b"></div>
<div style="left:632px;top:351px;width:11px;height:1px;background:#30123b"></div>
<div style="left:632px;top:352px;width:11px;height:1px;background:#30123b"></div>
<div style="left:632px;top:353px;width:11px;height:1px;background:#30123b"></div>
<div style="left:632px;top:354px;width:11px;height:1px;background:#30123b"></div>
<div style="left:632px;top:355px;width:11px;height:1px;background:#30123b"></div>
<div style="left:632px;top:356px;width:11px;height:1px;background:#30123b"></div>
<div style="left:632px;top:357px;width:11px;height:1px;background:#30123b"></div>
<div style="left:632px;top:358px;width:11px;height:1px;background:#30123b"></div>
</div>
<svg width="685" height="393" viewBox="0 0 685 393" font-family='"Liberation Sans", sans-serif'>
<defs><linearGradient id="hotg" x1="0" y1="1" x2="0" y2="0"><stop offset="0.00" stop-color="#0b0000"/><stop offset="0.10" stop-color="#4c0000"/><stop offset="0.20" stop-color="#900000"/><stop offset="0.30" stop-color="#d20000"/><stop offset="0.40" stop-color="#ff1700"/><stop offset="0.50" stop-color="#ff5c00"/><stop offset="0.60" stop-color="#ff9d00"/><stop offset="0.70" stop-color="#ffe100"/><stop offset="0.80" stop-color="#ffff36"/><stop offset="0.90" stop-color="#ffff9d"/><stop offset="1.00" stop-color="#ffffff"/></linearGradient><linearGradient id="turbog" x1="0" y1="0" x2="1" y2="0"><stop offset="0.00" stop-color="#30123b"/><stop offset="0.05" stop-color="#30123b"/><stop offset="0.10" stop-color="#30123b"/><stop offset="0.15" stop-color="#3f3b97"/><stop offset="0.20" stop-color="#4661d6"/><stop offset="0.25" stop-color="#4685fa"/><stop offset="0.30" stop-color="#37a8fa"/><stop offset="0.35" stop-color="#1ecbda"/><stop offset="0.40" stop-color="#1ae4b6"/><stop offset="0.45" stop-color="#3cf58e"/><stop offset="0.50" stop-color="#71fe5f"/><stop offset="0.55" stop-color="#a4fc3c"/><stop offset="0.60" stop-color="#c8ef34"/><stop offset="0.65" stop-color="#e7d739"/><stop offset="0.70" stop-color="#faba39"/><stop offset="0.75" stop-color="#fe962b"/><stop offset="0.80" stop-color="#f56918"/><stop offset="0.85" stop-color="#e4450a"/><stop offset="0.90" stop-color="#ca2a04"/><stop offset="0.95" stop-color="#a71401"/><stop offset="1.00" stop-color="#7a0403"/></linearGradient><linearGradient id="gfill" x1="0" y1="0" x2="0" y2="1"><stop offset="0" stop-color="#5cbd1c"/><stop offset="0.45" stop-color="#5ccc42"/><stop offset="1" stop-color="#acf0bc"/></linearGradient><linearGradient id="hy_c0" gradientUnits="userSpaceOnUse" x1="0" y1="246.0" x2="0" y2="255.2"><stop offset="0" stop-color="#d28a00"/><stop offset="0.3" stop-color="#eec000"/><stop offset="0.6" stop-color="#fde600"/><stop offset="0.85" stop-color="#fff59a"/><stop offset="1" stop-color="#ffffff"/></linearGradient><linearGradient id="hy_c1" gradientUnits="userSpaceOnUse" x1="0" y1="254.6" x2="0" y2="264.3"><stop offset="0" stop-color="#d28a00"/><stop offset="0.3" stop-color="#eec000"/><stop offset="0.6" stop-color="#fde600"/><stop offset="0.85" stop-color="#fff59a"/><stop offset="1" stop-color="#ffffff"/></linearGradient><linearGradient id="hy_d0" gradientUnits="userSpaceOnUse" x1="0" y1="272.0" x2="0" y2="298.0"><stop offset="0" stop-color="#d28a00"/><stop offset="0.3" stop-color="#eec000"/><stop offset="0.6" stop-color="#fde600"/><stop offset="0.85" stop-color="#fff59a"/><stop offset="1" stop-color="#ffffff"/></linearGradient><linearGradient id="hy_e0" gradientUnits="userSpaceOnUse" x1="0" y1="308.6" x2="0" y2="325.3"><stop offset="0" stop-color="#d28a00"/><stop offset="0.3" stop-color="#eec000"/><stop offset="0.6" stop-color="#fde600"/><stop offset="0.85" stop-color="#fff59a"/><stop offset="1" stop-color="#ffffff"/></linearGradient><linearGradient id="hy_f0" gradientUnits="userSpaceOnUse" x1="0" y1="337.0" x2="0" y2="349.4"><stop offset="0" stop-color="#d28a00"/><stop offset="0.3" stop-color="#eec000"/><stop offset="0.6" stop-color="#fde600"/><stop offset="0.85" stop-color="#fff59a"/><stop offset="1" stop-color="#ffffff"/></linearGradient><linearGradient id="jblue" x1="0" y1="0" x2="0" y2="1"><stop offset="0" stop-color="#d0e1f5"/><stop offset="1" stop-color="#98b5e2"/></linearGradient><linearGradient id="jred" x1="0" y1="0" x2="0" y2="1"><stop offset="0" stop-color="#f7d6cf"/><stop offset="1" stop-color="#cb8785"/></linearGradient><linearGradient id="eegc" x1="0" y1="0" x2="1" y2="0"><stop offset="0.00" stop-color="#36215f"/><stop offset="0.10" stop-color="#4249b1"/><stop offset="0.20" stop-color="#476ee6"/><stop offset="0.30" stop-color="#4294ff"/><stop offset="0.40" stop-color="#2cb7f0"/><stop offset="0.50" stop-color="#19d5cd"/><stop offset="0.60" stop-color="#25eca7"/><stop offset="0.70" stop-color="#52fa7a"/><stop offset="0.80" stop-color="#88ff4e"/><stop offset="0.90" stop-color="#b4f836"/><stop offset="1.00" stop-color="#d7e535"/></linearGradient><linearGradient id="tempc" x1="0" y1="0" x2="1" y2="0"><stop offset="0" stop-color="#b8f4ff"/><stop offset="0.12" stop-color="#40c8ff"/><stop offset="0.3" stop-color="#1040f0"/><stop offset="0.45" stop-color="#0a0a40"/><stop offset="0.52" stop-color="#100000"/><stop offset="0.65" stop-color="#b01000"/><stop offset="0.78" stop-color="#ff5000"/><stop offset="0.9" stop-color="#ffc020"/><stop offset="1" stop-color="#ffff80"/></linearGradient></defs>
<path d="M28.0 46.0 L32.3 46.0 L36.6 47.6 L41.9 48.0 L45.1 46.4 L49.4 48.0 L54.7 47.0 L60.1 45.2 L65.8 43.6 L72.4 44.3 L75.3 43.5 L78.2 45.1 L81.2 46.5 L83.4 44.7 L86.3 42.5 L90.7 42.3 L95.0 42.3 L98.0 41.4 L100.9 38.9 L103.8 36.0 L106.0 32.3 L108.2 28.6 L111.4 25.1 L115.6 18.7 L119.9 15.6 L122.0 14.6 L125.3 13.9 L128.5 16.0 L132.7 15.3 L138.0 14.4 L143.4 13.3 L148.8 12.8 L153.0 12.3 L157.3 12.8 L159.4 13.6" fill="none" stroke="#2aa3d8" stroke-width="1.4" stroke-linejoin="round"/>
<path d="M167.0 14.0 L174.0 14.5 L182.2 17.0 L190.4 16.8 L202.0 16.8 L213.7 15.2 L220.7 13.6 L224.3 14.5 L227.8 18.7 L231.3 24.5 L234.8 29.9 L240.6 31.5 L246.4 34.6 L253.5 36.9 L260.5 36.2 L267.5 35.5 L274.5 36.9 L281.5 39.7 L290.8 43.2 L297.9 45.1" fill="none" stroke="#2aa3d8" stroke-width="1.4" stroke-linejoin="round"/>
<rect x="133.6" y="28" width="5.8" height="20.4" fill="url(#hotg)" stroke="#333" stroke-width="0.5"/>
<text x="141.6" y="32.0" font-size="7.6" text-anchor="start" fill="#231f20" stroke="#231f20" stroke-width="0.22">Max</text>
<text x="141.6" y="49.6" font-size="7.6" text-anchor="start" fill="#231f20" stroke="#231f20" stroke-width="0.22">Min</text>
<text x="-0.3" y="7.6" font-size="11" text-anchor="start" fill="#000" font-weight="bold" stroke="#000" stroke-width="0.22">a</text>
<text x="166.6" y="7.9" font-size="11" text-anchor="start" fill="#000" font-weight="bold" stroke="#000" stroke-width="0.22">b</text>
<text x="-0.3" y="61.7" font-size="11" text-anchor="start" fill="#000" font-weight="bold" stroke="#000" stroke-width="0.22">c</text>
<text x="166.6" y="60.6" font-size="11" text-anchor="start" fill="#000" font-weight="bold" stroke="#000" stroke-width="0.22">d</text>
<text x="-0.3" y="219.8" font-size="11" text-anchor="start" fill="#000" font-weight="bold" stroke="#000" stroke-width="0.22">e</text>
<text x="166.3" y="219.8" font-size="11" text-anchor="start" fill="#000" font-weight="bold" stroke="#000" stroke-width="0.22">f</text>
<text x="306.4" y="7.4" font-size="11" text-anchor="start" fill="#000" font-weight="bold" stroke="#000" stroke-width="0.22">g</text>
<text x="306.6" y="239.7" font-size="11" text-anchor="start" fill="#000" font-weight="bold" stroke="#000" stroke-width="0.22">h</text>
<text x="473.8" y="7.9" font-size="11" text-anchor="start" fill="#000" font-weight="bold" stroke="#000" stroke-width="0.22">i</text>
<text x="473.8" y="168.6" font-size="11" text-anchor="start" fill="#000" font-weight="bold" stroke="#000" stroke-width="0.22">j</text>
<text x="68.8" y="76.9" font-size="7.7" text-anchor="middle" fill="#f2eef6" stroke="#f2eef6" stroke-width="0.15">SiC</text>
<text x="123.8" y="76.9" font-size="7.7" text-anchor="middle" fill="#f2eef6" stroke="#f2eef6" stroke-width="0.15">AlN</text>
<line x1="86.5" y1="74.2" x2="110.8" y2="74.2" stroke="#f2eef6" stroke-width="0.9"/>
<path d="M83.5 74.2 L87.7 72.3 L86.7 74.2 L87.7 76.10000000000001Z" fill="#f2eef6"/>
<text x="202.0" y="77.0" font-size="7.7" text-anchor="middle" fill="#f2eef6" stroke="#f2eef6" stroke-width="0.15">SiC</text>
<text x="256.3" y="77.0" font-size="7.7" text-anchor="middle" fill="#f2eef6" stroke="#f2eef6" stroke-width="0.15">AlN</text>
<line x1="217" y1="74.3" x2="242.5" y2="74.3" stroke="#f2eef6" stroke-width="0.9"/>
<path d="M245.5 74.3 L241.3 72.39999999999999 L242.3 74.3 L241.3 76.2Z" fill="#f2eef6"/>
<text x="69.2" y="234.7" font-size="7.7" text-anchor="middle" fill="#f2eef6" stroke="#f2eef6" stroke-width="0.15">SiC</text>
<text x="123.8" y="234.7" font-size="7.7" text-anchor="middle" fill="#f2eef6" stroke="#f2eef6" stroke-width="0.15">AlN</text>
<line x1="86.7" y1="232.0" x2="110.5" y2="232.0" stroke="#f2eef6" stroke-width="0.9"/>
<path d="M83.7 232.0 L87.9 230.1 L86.9 232.0 L87.9 233.9Z" fill="#f2eef6"/>
<text x="202.0" y="234.7" font-size="7.7" text-anchor="middle" fill="#f2eef6" stroke="#f2eef6" stroke-width="0.15">SiC</text>
<text x="256.3" y="234.7" font-size="7.7" text-anchor="middle" fill="#f2eef6" stroke="#f2eef6" stroke-width="0.15">AlN</text>
<line x1="217" y1="232.0" x2="242.5" y2="232.0" stroke="#f2eef6" stroke-width="0.9"/>
<path d="M245.5 232.0 L241.3 230.1 L242.3 232.0 L241.3 233.9Z" fill="#f2eef6"/>
<circle cx="97.3" cy="141.8" r="7.8" fill="none" stroke="#111" stroke-width="1.0" stroke-dasharray="2.2 1.4"/>
<circle cx="230.8" cy="117.4" r="7.8" fill="none" stroke="#111" stroke-width="1.0" stroke-dasharray="2.2 1.4"/>
<text x="88.3" y="134.0" font-size="8" text-anchor="middle" fill="#f2eef6" font-family='Liberation Serif' stroke="#f2eef6" stroke-width="0.15">&#945;</text>
<text x="233.7" y="106.0" font-size="8" text-anchor="middle" fill="#f2eef6" font-family='Liberation Serif' stroke="#f2eef6" stroke-width="0.15">&#946;</text>
<rect x="236.3" y="194.1" width="54.4" height="8.1" fill="url(#turbog)" stroke="#e8e4ec" stroke-width="0.7"/>
<text x="236.9" y="190.9" font-size="7.7" text-anchor="middle" fill="#f2eef6" stroke="#f2eef6" stroke-width="0.15">0</text>
<text x="295.4" y="190.9" font-size="7.7" text-anchor="end" fill="#f2eef6" stroke="#f2eef6" stroke-width="0.15">Max</text>
<text x="24.6" y="208.2" font-size="7.7" text-anchor="end" fill="#231f20" stroke="#231f20" stroke-width="0.22">0</text>
<text x="24.6" y="366.3" font-size="7.7" text-anchor="end" fill="#231f20" stroke="#231f20" stroke-width="0.22">0</text>
<text x="24.6" y="188.01" font-size="7.7" text-anchor="end" fill="#231f20" stroke="#231f20" stroke-width="0.22">20</text>
<text x="24.6" y="346.084" font-size="7.7" text-anchor="end" fill="#231f20" stroke="#231f20" stroke-width="0.22">20</text>
<text x="24.6" y="167.82" font-size="7.7" text-anchor="end" fill="#231f20" stroke="#231f20" stroke-width="0.22">40</text>
<text x="24.6" y="325.868" font-size="7.7" text-anchor="end" fill="#231f20" stroke="#231f20" stroke-width="0.22">40</text>
<text x="24.6" y="147.63" font-size="7.7" text-anchor="end" fill="#231f20" stroke="#231f20" stroke-width="0.22">60</text>
<text x="24.6" y="305.652" font-size="7.7" text-anchor="end" fill="#231f20" stroke="#231f20" stroke-width="0.22">60</text>
<text x="24.6" y="127.44" font-size="7.7" text-anchor="end" fill="#231f20" stroke="#231f20" stroke-width="0.22">80</text>
<text x="24.6" y="285.43600000000004" font-size="7.7" text-anchor="end" fill="#231f20" stroke="#231f20" stroke-width="0.22">80</text>
<text x="24.6" y="107.25" font-size="7.7" text-anchor="end" fill="#231f20" stroke="#231f20" stroke-width="0.22">100</text>
<text x="24.6" y="265.22" font-size="7.7" text-anchor="end" fill="#231f20" stroke="#231f20" stroke-width="0.22">100</text>
<text x="24.6" y="87.05999999999999" font-size="7.7" text-anchor="end" fill="#231f20" stroke="#231f20" stroke-width="0.22">120</text>
<text x="24.6" y="245.00400000000002" font-size="7.7" text-anchor="end" fill="#231f20" stroke="#231f20" stroke-width="0.22">120</text>
<text x="5.9" y="134.3" font-size="7.7" text-anchor="middle" fill="#231f20" transform="rotate(-90 5.9 134.3)" stroke="#231f20" stroke-width="0.22">Energy gain (meV)</text>
<text x="5.9" y="292.7" font-size="7.7" text-anchor="middle" fill="#231f20" transform="rotate(-90 5.9 292.7)" stroke="#231f20" stroke-width="0.22">Energy loss (meV)</text>
<text x="34.0" y="373.8" font-size="7.7" text-anchor="middle" fill="#231f20" stroke="#231f20" stroke-width="0.22">&#8722;6</text>
<text x="55.5" y="373.8" font-size="7.7" text-anchor="middle" fill="#231f20" stroke="#231f20" stroke-width="0.22">&#8722;4</text>
<text x="77.0" y="373.8" font-size="7.7" text-anchor="middle" fill="#231f20" stroke="#231f20" stroke-width="0.22">&#8722;2</text>
<text x="98.5" y="373.8" font-size="7.7" text-anchor="middle" fill="#231f20" stroke="#231f20" stroke-width="0.22">0</text>
<text x="120.0" y="373.8" font-size="7.7" text-anchor="middle" fill="#231f20" stroke="#231f20" stroke-width="0.22">2</text>
<text x="141.5" y="373.8" font-size="7.7" text-anchor="middle" fill="#231f20" stroke="#231f20" stroke-width="0.22">4</text>
<text x="186.38" y="373.8" font-size="7.7" text-anchor="middle" fill="#231f20" stroke="#231f20" stroke-width="0.22">&#8722;4</text>
<text x="207.64000000000001" y="373.8" font-size="7.7" text-anchor="middle" fill="#231f20" stroke="#231f20" stroke-width="0.22">&#8722;2</text>
<text x="228.9" y="373.8" font-size="7.7" text-anchor="middle" fill="#231f20" stroke="#231f20" stroke-width="0.22">0</text>
<text x="250.16" y="373.8" font-size="7.7" text-anchor="middle" fill="#231f20" stroke="#231f20" stroke-width="0.22">2</text>
<text x="271.42" y="373.8" font-size="7.7" text-anchor="middle" fill="#231f20" stroke="#231f20" stroke-width="0.22">4</text>
<text x="292.68" y="373.8" font-size="7.7" text-anchor="middle" fill="#231f20" stroke="#231f20" stroke-width="0.22">6</text>
<text x="93.9" y="385.4" font-size="7.7" text-anchor="middle" fill="#231f20" stroke="#231f20" stroke-width="0.22">Position (nm)</text>
<text x="232.5" y="385.4" font-size="7.7" text-anchor="middle" fill="#231f20" stroke="#231f20" stroke-width="0.22">Position (nm)</text>
<path d="M29.7 363.5 L38.0 363.0 L49.8 362.2 L56.6 359.7 L65.0 356.3 L71.7 355.5 L78.4 352.1 L83.5 346.2 L87.7 338.7 L91.0 330.3 L95.2 318.5 L99.4 306.7 L101.5 300.5 L104.2 288.4 L107.8 280.4 L110.5 276.0 L112.3 270.6 L114.0 263.5 L115.8 260.0 L118.5 257.3 L122.0 251.9 L125.6 247.8 L128.3 247.1 L131.9 247.8 L133.6 245.2 L136.3 247.5 L139.9 246.6 L143.4 247.8 L147.0 246.0 L152.3 246.0 L156.8 247.5 L158.6 246.5" fill="none" stroke="#ffffff" stroke-width="1.5" stroke-linejoin="round" stroke-linecap="round"/>
<path d="M29.7 363.8 L50.0 363.0 L56.0 362.0 L66.0 360.0 L76.0 357.0 L82.0 352.0 L86.0 343.0 L90.0 330.0 L94.0 315.0 L98.9 299.1 L103.4 283.1 L106.9 270.6 L110.5 260.0 L113.2 252.8 L116.7 247.5 L120.3 243.9 L123.8 243.0 L131.0 243.5 L143.4 243.9 L158.6 245.0" fill="none" stroke="#f4f2f6" stroke-width="1.7" stroke-dasharray="1.5 1.7"/>
<path d="M167.8 363.5 L183.8 362.5 L200.6 360.8 L205.7 359.7 L210.7 356.3 L215.7 350.4 L219.9 342.0 L222.5 333.6 L225.0 323.5 L227.5 313.4 L230.0 303.4 L233.0 288.4 L235.7 276.8 L238.4 267.0 L241.0 260.0 L244.6 253.7 L249.0 248.4 L253.5 246.0 L258.0 243.9 L262.4 243.0 L267.7 244.8 L272.2 245.7 L276.6 243.9 L282.0 244.8 L287.3 245.7 L292.7 243.9 L297.3 243.5" fill="none" stroke="#ffffff" stroke-width="1.5" stroke-linejoin="round" stroke-linecap="round"/>
<path d="M187.2 363.6 L202.3 363.0 L210.7 359.7 L217.4 353.8 L222.5 343.7 L225.0 333.6 L227.5 320.2 L230.0 306.7 L233.9 288.4 L237.5 276.0 L241.0 265.3 L244.6 258.1 L249.9 252.8 L257.0 250.7 L264.2 249.2 L271.3 247.8 L278.4 246.6 L285.5 244.8 L297.3 244.0" fill="none" stroke="#f4f2f6" stroke-width="1.7" stroke-dasharray="1.5 1.7"/>
<path d="M113.8 345.6 L128.9 345.6" fill="none" stroke="#ffffff" stroke-width="1.6" stroke-linejoin="round" stroke-linecap="round"/>
<path d="M113.8 355.6 L129.5 355.6" fill="none" stroke="#f4f2f6" stroke-width="1.7" stroke-dasharray="1.5 1.7"/>
<text x="133.4" y="348.4" font-size="7.7" text-anchor="start" fill="#f2eef6" stroke="#f2eef6" stroke-width="0.15">EEG</text>
<text x="133.4" y="358.4" font-size="7.7" text-anchor="start" fill="#f2eef6" stroke="#f2eef6" stroke-width="0.15">EEL</text>
<line x1="28.4" y1="64" x2="28.4" y2="205.6" stroke="#5a5a5a" stroke-width="0.9"/>
<line x1="159.2" y1="64" x2="159.2" y2="205.6" stroke="#6a6a6a" stroke-width="0.7"/>
<line x1="28.4" y1="222" x2="28.4" y2="363.6" stroke="#5a5a5a" stroke-width="0.9"/>
<line x1="158.89999999999998" y1="222" x2="158.89999999999998" y2="363.6" stroke="#6a6a6a" stroke-width="0.7"/>
<line x1="28.4" y1="205.5" x2="30.2" y2="205.5" stroke="#222" stroke-width="0.8"/>
<line x1="28.4" y1="363.6" x2="30.2" y2="363.6" stroke="#222" stroke-width="0.8"/>
<line x1="167.0" y1="205.5" x2="168.8" y2="205.5" stroke="#222" stroke-width="0.8"/>
<line x1="167.0" y1="363.6" x2="168.8" y2="363.6" stroke="#222" stroke-width="0.8"/>
<line x1="28.4" y1="185.3" x2="30.2" y2="185.3" stroke="#222" stroke-width="0.8"/>
<line x1="28.4" y1="343.4" x2="30.2" y2="343.4" stroke="#222" stroke-width="0.8"/>
<line x1="167.0" y1="185.3" x2="168.8" y2="185.3" stroke="#222" stroke-width="0.8"/>
<line x1="167.0" y1="343.4" x2="168.8" y2="343.4" stroke="#222" stroke-width="0.8"/>
<line x1="28.4" y1="165.1" x2="30.2" y2="165.1" stroke="#222" stroke-width="0.8"/>
<line x1="28.4" y1="323.2" x2="30.2" y2="323.2" stroke="#222" stroke-width="0.8"/>
<line x1="167.0" y1="165.1" x2="168.8" y2="165.1" stroke="#222" stroke-width="0.8"/>
<line x1="167.0" y1="323.2" x2="168.8" y2="323.2" stroke="#222" stroke-width="0.8"/>
<line x1="28.4" y1="144.9" x2="30.2" y2="144.9" stroke="#222" stroke-width="0.8"/>
<line x1="28.4" y1="303.0" x2="30.2" y2="303.0" stroke="#222" stroke-width="0.8"/>
<line x1="167.0" y1="144.9" x2="168.8" y2="144.9" stroke="#222" stroke-width="0.8"/>
<line x1="167.0" y1="303.0" x2="168.8" y2="303.0" stroke="#222" stroke-width="0.8"/>
<line x1="28.4" y1="124.7" x2="30.2" y2="124.7" stroke="#222" stroke-width="0.8"/>
<line x1="28.4" y1="282.7" x2="30.2" y2="282.7" stroke="#222" stroke-width="0.8"/>
<line x1="167.0" y1="124.7" x2="168.8" y2="124.7" stroke="#222" stroke-width="0.8"/>
<line x1="167.0" y1="282.7" x2="168.8" y2="282.7" stroke="#222" stroke-width="0.8"/>
<line x1="28.4" y1="104.5" x2="30.2" y2="104.5" stroke="#222" stroke-width="0.8"/>
<line x1="28.4" y1="262.5" x2="30.2" y2="262.5" stroke="#222" stroke-width="0.8"/>
<line x1="167.0" y1="104.5" x2="168.8" y2="104.5" stroke="#222" stroke-width="0.8"/>
<line x1="167.0" y1="262.5" x2="168.8" y2="262.5" stroke="#222" stroke-width="0.8"/>
<line x1="28.4" y1="84.4" x2="30.2" y2="84.4" stroke="#222" stroke-width="0.8"/>
<line x1="28.4" y1="242.3" x2="30.2" y2="242.3" stroke="#222" stroke-width="0.8"/>
<line x1="167.0" y1="84.4" x2="168.8" y2="84.4" stroke="#222" stroke-width="0.8"/>
<line x1="167.0" y1="242.3" x2="168.8" y2="242.3" stroke="#222" stroke-width="0.8"/>
<line x1="34.0" y1="205.6" x2="34.0" y2="204.0" stroke="#222" stroke-width="0.8"/>
<line x1="34.0" y1="363.6" x2="34.0" y2="362.0" stroke="#222" stroke-width="0.8"/>
<line x1="55.5" y1="205.6" x2="55.5" y2="204.0" stroke="#222" stroke-width="0.8"/>
<line x1="55.5" y1="363.6" x2="55.5" y2="362.0" stroke="#222" stroke-width="0.8"/>
<line x1="186.4" y1="205.6" x2="186.4" y2="204.0" stroke="#222" stroke-width="0.8"/>
<line x1="186.4" y1="363.0" x2="186.4" y2="361.4" stroke="#222" stroke-width="0.8"/>
<line x1="77.0" y1="205.6" x2="77.0" y2="204.0" stroke="#222" stroke-width="0.8"/>
<line x1="77.0" y1="363.6" x2="77.0" y2="362.0" stroke="#222" stroke-width="0.8"/>
<line x1="207.6" y1="205.6" x2="207.6" y2="204.0" stroke="#222" stroke-width="0.8"/>
<line x1="207.6" y1="363.0" x2="207.6" y2="361.4" stroke="#222" stroke-width="0.8"/>
<line x1="98.5" y1="205.6" x2="98.5" y2="204.0" stroke="#222" stroke-width="0.8"/>
<line x1="98.5" y1="363.6" x2="98.5" y2="362.0" stroke="#222" stroke-width="0.8"/>
<line x1="228.9" y1="205.6" x2="228.9" y2="204.0" stroke="#222" stroke-width="0.8"/>
<line x1="228.9" y1="363.0" x2="228.9" y2="361.4" stroke="#222" stroke-width="0.8"/>
<line x1="120.0" y1="205.6" x2="120.0" y2="204.0" stroke="#222" stroke-width="0.8"/>
<line x1="120.0" y1="363.6" x2="120.0" y2="362.0" stroke="#222" stroke-width="0.8"/>
<line x1="250.2" y1="205.6" x2="250.2" y2="204.0" stroke="#222" stroke-width="0.8"/>
<line x1="250.2" y1="363.0" x2="250.2" y2="361.4" stroke="#222" stroke-width="0.8"/>
<line x1="141.5" y1="205.6" x2="141.5" y2="204.0" stroke="#222" stroke-width="0.8"/>
<line x1="141.5" y1="363.6" x2="141.5" y2="362.0" stroke="#222" stroke-width="0.8"/>
<line x1="271.4" y1="205.6" x2="271.4" y2="204.0" stroke="#222" stroke-width="0.8"/>
<line x1="271.4" y1="363.0" x2="271.4" y2="361.4" stroke="#222" stroke-width="0.8"/>
<line x1="292.7" y1="205.6" x2="292.7" y2="204.0" stroke="#222" stroke-width="0.8"/>
<line x1="292.7" y1="363.0" x2="292.7" y2="361.4" stroke="#222" stroke-width="0.8"/>
<path d="M319.7 50.5 L322.3 50.5 L326.1 50.5 L330.3 50.5 L334.2 50.5 L337.0 50.5 L338.5 50.5 L339.1 50.4 L339.2 50.4 L339.3 50.3 L339.5 50.2 L339.9 50.1 L340.3 50.1 L340.7 49.9 L341.1 49.6 L341.5 49.0 L342.0 48.1 L342.4 47.0 L342.9 45.6 L343.5 43.9 L344.0 42.0 L344.6 39.6 L345.2 36.7 L345.8 33.6 L346.4 30.6 L347.0 28.0 L347.6 25.7 L348.2 23.6 L348.8 21.6 L349.4 19.9 L350.0 18.5 L350.5 17.4 L351.0 16.5 L351.5 15.8 L351.9 15.4 L352.4 15.2 L352.9 15.2 L353.4 15.4 L353.9 15.8 L354.4 16.5 L355.0 17.5 L355.7 19.0 L356.4 21.0 L357.1 23.2 L357.8 25.3 L358.5 27.0 L359.1 28.2 L359.5 29.2 L360.0 30.0 L360.5 30.8 L361.0 31.5 L361.6 32.2 L362.2 32.9 L362.8 33.5 L363.5 34.1 L364.2 34.6 L364.9 35.1 L365.7 35.6 L366.5 36.0 L367.2 36.4 L368.0 36.8 L368.7 37.1 L369.4 37.4 L370.1 37.6 L370.9 37.8 L371.7 38.0 L372.6 38.2 L373.7 38.3 L374.8 38.4 L375.9 38.5 L377.0 38.6 L378.1 38.7 L379.2 38.7 L380.3 38.7 L381.6 38.8 L383.0 38.9 L384.7 39.1 L386.7 39.3 L388.7 39.5 L390.8 39.7 L392.6 39.9 L394.2 40.0 L395.8 40.1 L397.3 40.1 L398.7 40.1 L400.0 40.2 L401.3 40.3 L402.5 40.3 L403.6 40.4 L404.8 40.5 L405.9 40.6 L407.1 40.8 L408.3 41.0 L409.5 41.3 L410.6 41.5 L411.6 41.8 L412.4 42.0 L413.1 42.2 L413.7 42.5 L414.3 42.7 L415.0 43.0 L415.8 43.4 L416.6 43.8 L417.5 44.2 L418.4 44.6 L419.2 45.0 L420.0 45.4 L420.7 45.7 L421.5 46.1 L422.2 46.5 L423.0 46.8 L423.8 47.1 L424.5 47.5 L425.3 47.8 L426.1 48.1 L426.8 48.4 L427.5 48.7 L428.1 48.9 L428.7 49.2 L429.3 49.4 L430.0 49.6 L430.8 49.8 L431.6 50.0 L432.5 50.1 L433.4 50.3 L434.4 50.4 L435.2 50.5 L435.8 50.5 L436.6 50.5 L437.9 50.5 L440.0 50.5 L443.6 50.5 L448.3 50.5 L453.4 50.5 L457.9 50.5 L461.0 50.5 L461.0 50.5 L319.7 50.5Z" fill="url(#gfill)"/>
<path d="M319.7 50.5 L322.6 50.5 L326.8 50.5 L331.5 50.5 L335.9 50.5 L339.0 50.5 L340.6 50.5 L341.4 50.5 L341.6 50.5 L341.7 50.3 L342.0 50.0 L342.6 49.5 L343.2 49.0 L343.8 48.3 L344.4 47.3 L345.0 46.0 L345.6 44.3 L346.2 42.2 L346.8 39.9 L347.4 37.4 L348.0 35.0 L348.6 32.4 L349.2 29.6 L349.8 26.8 L350.4 24.2 L351.0 22.0 L351.5 20.3 L352.1 18.9 L352.6 17.7 L353.0 16.8 L353.5 16.0 L353.9 15.4 L354.4 15.0 L354.8 14.8 L355.2 14.7 L355.6 14.6 L356.1 14.6 L356.5 14.6 L357.0 14.7 L357.5 15.0 L358.0 15.5 L358.5 16.2 L359.1 17.2 L359.7 18.3 L360.3 19.6 L361.0 21.0 L361.7 22.6 L362.5 24.5 L363.3 26.5 L364.1 28.4 L365.0 30.0 L365.9 31.3 L366.9 32.4 L368.0 33.4 L369.0 34.3 L370.0 35.0 L371.0 35.6 L372.0 36.0 L373.0 36.4 L374.0 36.7 L375.0 37.0 L376.0 37.3 L377.0 37.6 L378.0 37.9 L379.0 38.1 L380.0 38.3 L381.0 38.4 L382.0 38.4 L383.0 38.4 L384.0 38.5 L385.0 38.8 L386.0 39.3 L387.0 39.8 L388.0 40.5 L389.0 41.3 L390.0 42.0 L391.0 42.8 L392.0 43.6 L393.0 44.5 L394.0 45.3 L395.0 46.0 L396.0 46.6 L397.1 47.2 L398.2 47.7 L399.2 48.0 L400.2 48.2 L401.0 48.2 L401.8 48.0 L402.5 47.6 L403.2 47.1 L404.0 46.5 L404.8 45.7 L405.6 44.7 L406.4 43.6 L407.2 42.5 L408.0 41.5 L408.8 40.5 L409.6 39.5 L410.4 38.6 L411.2 37.7 L412.0 37.0 L412.7 36.5 L413.4 36.0 L414.1 35.7 L414.7 35.5 L415.4 35.5 L416.1 35.6 L416.7 35.9 L417.4 36.3 L418.1 36.8 L419.0 37.5 L420.0 38.4 L421.2 39.5 L422.5 40.7 L423.8 41.9 L425.0 43.0 L426.2 44.0 L427.5 45.0 L428.7 45.9 L429.9 46.8 L431.0 47.5 L431.9 48.1 L432.7 48.5 L433.4 48.9 L434.2 49.2 L435.0 49.5 L435.9 49.8 L436.7 50.0 L437.6 50.2 L438.7 50.3 L440.0 50.4 L441.7 50.5 L443.6 50.5 L445.7 50.5 L447.9 50.5 L450.0 50.5 L452.3 50.5 L454.9 50.5 L457.3 50.5 L459.5 50.5 L461.0 50.5" fill="none" stroke="#f3a08c" stroke-width="1.05" stroke-opacity="0.9"/>
<path d="M319.7 50.5 L322.4 50.5 L326.4 50.6 L330.9 50.6 L335.0 50.6 L338.0 50.5 L339.6 50.4 L340.3 50.3 L340.5 50.1 L340.6 49.7 L341.0 49.0 L341.6 47.9 L342.2 46.7 L342.8 45.1 L343.4 43.2 L344.0 41.0 L344.6 38.2 L345.2 34.9 L345.8 31.4 L346.4 27.9 L347.0 25.0 L347.6 22.5 L348.3 20.2 L348.9 18.2 L349.5 16.4 L350.0 15.0 L350.4 14.0 L350.8 13.3 L351.1 13.0 L351.4 12.8 L351.8 12.7 L352.2 12.7 L352.6 12.9 L353.0 13.2 L353.5 13.7 L354.0 14.5 L354.5 15.6 L355.1 17.1 L355.8 18.7 L356.4 20.4 L357.0 22.0 L357.6 23.6 L358.2 25.3 L358.8 27.0 L359.4 28.6 L360.0 30.0 L360.6 31.3 L361.2 32.5 L361.8 33.6 L362.4 34.6 L363.0 35.5 L363.6 36.4 L364.2 37.1 L364.7 37.8 L365.3 38.4 L366.0 39.0 L366.7 39.5 L367.5 40.0 L368.3 40.4 L369.1 40.7 L370.0 41.0 L370.9 41.2 L371.9 41.3 L373.0 41.3 L374.0 41.3 L375.0 41.3 L376.0 41.3 L377.0 41.3 L378.0 41.2 L379.0 41.1 L380.0 41.0 L381.0 40.9 L382.0 40.7 L383.0 40.5 L384.0 40.3 L385.0 40.0 L386.0 39.6 L387.0 39.2 L388.0 38.6 L389.0 38.1 L390.0 37.5 L391.0 36.8 L392.1 36.1 L393.1 35.3 L394.1 34.6 L395.0 34.0 L395.7 33.5 L396.3 33.1 L396.9 32.8 L397.4 32.5 L398.0 32.3 L398.6 32.1 L399.3 31.9 L399.9 31.8 L400.6 31.7 L401.2 31.7 L401.8 31.7 L402.3 31.8 L402.8 31.9 L403.4 32.1 L404.0 32.5 L404.7 33.0 L405.5 33.7 L406.3 34.4 L407.2 35.2 L408.0 36.0 L408.8 36.8 L409.6 37.8 L410.4 38.7 L411.2 39.6 L412.0 40.5 L412.8 41.3 L413.6 42.2 L414.4 43.0 L415.2 43.8 L416.0 44.5 L416.8 45.2 L417.6 45.8 L418.3 46.4 L419.1 47.0 L420.0 47.5 L420.9 48.0 L421.9 48.6 L423.0 49.0 L424.0 49.5 L425.0 49.8 L425.9 50.0 L426.8 50.2 L427.6 50.3 L428.7 50.3 L430.0 50.4 L431.5 50.5 L433.1 50.5 L435.0 50.5 L437.2 50.5 L440.0 50.5 L443.8 50.5 L448.6 50.5 L453.6 50.5 L458.0 50.5 L461.0 50.5" fill="none" stroke="#5ac4ee" stroke-width="1.1"/>
<path d="M319.7 50.5 L322.3 50.5 L326.1 50.5 L330.3 50.5 L334.2 50.5 L337.0 50.5 L338.5 50.5 L339.1 50.4 L339.2 50.4 L339.3 50.3 L339.5 50.2 L339.9 50.1 L340.3 50.1 L340.7 49.9 L341.1 49.6 L341.5 49.0 L342.0 48.1 L342.4 47.0 L342.9 45.6 L343.5 43.9 L344.0 42.0 L344.6 39.6 L345.2 36.7 L345.8 33.6 L346.4 30.6 L347.0 28.0 L347.6 25.7 L348.2 23.6 L348.8 21.6 L349.4 19.9 L350.0 18.5 L350.5 17.4 L351.0 16.5 L351.5 15.8 L351.9 15.4 L352.4 15.2 L352.9 15.2 L353.4 15.4 L353.9 15.8 L354.4 16.5 L355.0 17.5 L355.7 19.0 L356.4 21.0 L357.1 23.2 L357.8 25.3 L358.5 27.0 L359.1 28.2 L359.5 29.2 L360.0 30.0 L360.5 30.8 L361.0 31.5 L361.6 32.2 L362.2 32.9 L362.8 33.5 L363.5 34.1 L364.2 34.6 L364.9 35.1 L365.7 35.6 L366.5 36.0 L367.2 36.4 L368.0 36.8 L368.7 37.1 L369.4 37.4 L370.1 37.6 L370.9 37.8 L371.7 38.0 L372.6 38.2 L373.7 38.3 L374.8 38.4 L375.9 38.5 L377.0 38.6 L378.1 38.7 L379.2 38.7 L380.3 38.7 L381.6 38.8 L383.0 38.9 L384.7 39.1 L386.7 39.3 L388.7 39.5 L390.8 39.7 L392.6 39.9 L394.2 40.0 L395.8 40.1 L397.3 40.1 L398.7 40.1 L400.0 40.2 L401.3 40.3 L402.5 40.3 L403.6 40.4 L404.8 40.5 L405.9 40.6 L407.1 40.8 L408.3 41.0 L409.5 41.3 L410.6 41.5 L411.6 41.8 L412.4 42.0 L413.1 42.2 L413.7 42.5 L414.3 42.7 L415.0 43.0 L415.8 43.4 L416.6 43.8 L417.5 44.2 L418.4 44.6 L419.2 45.0 L420.0 45.4 L420.7 45.7 L421.5 46.1 L422.2 46.5 L423.0 46.8 L423.8 47.1 L424.5 47.5 L425.3 47.8 L426.1 48.1 L426.8 48.4 L427.5 48.7 L428.1 48.9 L428.7 49.2 L429.3 49.4 L430.0 49.6 L430.8 49.8 L431.6 50.0 L432.5 50.1 L433.4 50.3 L434.4 50.4 L435.2 50.5 L435.8 50.5 L436.6 50.5 L437.9 50.5 L440.0 50.5 L443.6 50.5 L448.3 50.5 L453.4 50.5 L457.9 50.5 L461.0 50.5" fill="none" stroke="#17772b" stroke-width="1.1" stroke-linejoin="round"/>
<line x1="320.1" y1="50.5" x2="461" y2="50.5" stroke="#3b8c82" stroke-width="1.0"/>
<path d="M319.7 91.4 L322.7 91.4 L327.2 91.4 L332.2 91.4 L336.8 91.4 L340.0 91.4 L341.6 91.4 L342.3 91.4 L342.4 91.3 L342.3 91.3 L342.5 91.2 L342.9 91.1 L343.3 91.1 L343.7 91.0 L344.1 90.7 L344.5 90.2 L345.0 89.4 L345.5 88.4 L346.0 87.1 L346.5 85.7 L347.0 84.0 L347.5 82.0 L348.0 79.6 L348.5 77.1 L349.0 74.5 L349.5 72.0 L350.0 69.5 L350.5 66.9 L351.1 64.3 L351.6 62.0 L352.0 60.0 L352.4 58.4 L352.7 57.0 L353.0 56.0 L353.3 55.2 L353.7 54.7 L354.1 54.5 L354.5 54.6 L354.9 55.0 L355.4 55.8 L356.0 57.0 L356.8 58.9 L357.6 61.4 L358.6 64.2 L359.5 66.9 L360.4 69.0 L361.2 70.6 L361.9 71.8 L362.6 72.8 L363.3 73.7 L364.0 74.5 L364.8 75.3 L365.6 75.9 L366.4 76.5 L367.2 77.0 L368.0 77.5 L368.8 78.0 L369.5 78.4 L370.3 78.8 L371.1 79.2 L372.0 79.5 L372.9 79.8 L373.9 80.1 L374.9 80.3 L376.0 80.5 L377.4 80.7 L379.1 80.8 L381.2 80.8 L383.4 80.8 L385.4 80.8 L387.0 80.7 L388.2 80.6 L389.0 80.6 L389.7 80.4 L390.3 80.3 L391.0 80.2 L391.7 80.1 L392.4 79.9 L393.1 79.8 L393.7 79.6 L394.5 79.4 L395.4 79.2 L396.3 78.9 L397.3 78.6 L398.2 78.3 L399.0 78.0 L399.7 77.8 L400.3 77.5 L400.8 77.3 L401.4 77.2 L402.0 77.0 L402.7 76.9 L403.5 76.7 L404.4 76.6 L405.2 76.6 L405.9 76.6 L406.5 76.7 L407.1 76.8 L407.7 76.9 L408.3 77.2 L409.0 77.5 L409.8 78.0 L410.7 78.5 L411.7 79.2 L412.6 79.8 L413.5 80.4 L414.3 80.9 L414.9 81.4 L415.6 81.9 L416.3 82.5 L417.0 83.0 L417.8 83.6 L418.5 84.2 L419.3 84.8 L420.1 85.4 L421.0 86.0 L421.9 86.6 L422.9 87.2 L424.0 87.8 L425.0 88.3 L426.0 88.8 L426.9 89.2 L427.9 89.5 L428.8 89.7 L429.7 90.0 L430.6 90.2 L431.5 90.4 L432.3 90.7 L433.2 90.9 L434.1 91.1 L435.0 91.2 L435.7 91.3 L436.2 91.3 L436.8 91.4 L438.0 91.4 L440.0 91.4 L443.5 91.4 L448.3 91.4 L453.3 91.4 L457.9 91.4 L461.0 91.4 L461.0 91.4 L319.7 91.4Z" fill="url(#gfill)"/>
<path d="M319.7 91.4 L323.2 91.4 L328.3 91.5 L334.0 91.5 L339.3 91.5 L343.0 91.4 L344.9 91.3 L345.7 91.3 L345.8 91.1 L345.7 90.7 L346.0 90.0 L346.6 88.9 L347.2 87.6 L347.8 86.0 L348.4 84.2 L349.0 82.0 L349.6 79.4 L350.2 76.3 L350.8 73.0 L351.4 69.8 L352.0 67.0 L352.5 64.6 L353.1 62.3 L353.6 60.3 L354.0 58.5 L354.5 57.0 L354.9 55.8 L355.4 55.0 L355.8 54.4 L356.2 54.0 L356.6 53.8 L357.1 53.7 L357.5 53.9 L358.0 54.2 L358.5 54.8 L359.0 55.5 L359.5 56.5 L360.1 57.7 L360.7 59.1 L361.3 60.5 L362.0 62.0 L362.7 63.5 L363.5 65.2 L364.4 66.9 L365.2 68.5 L366.0 70.0 L366.8 71.3 L367.6 72.5 L368.3 73.6 L369.1 74.6 L370.0 75.5 L370.9 76.4 L371.9 77.1 L372.9 77.8 L373.9 78.4 L375.0 79.0 L376.2 79.5 L377.5 79.8 L378.8 80.1 L380.0 80.4 L381.2 80.7 L382.2 81.0 L383.2 81.2 L384.1 81.4 L385.0 81.7 L386.0 82.0 L387.0 82.4 L387.9 82.9 L388.8 83.4 L389.8 84.0 L391.0 84.5 L392.4 85.1 L393.9 85.7 L395.5 86.4 L397.0 86.8 L398.3 87.0 L399.4 86.9 L400.4 86.5 L401.3 85.9 L402.1 85.2 L403.0 84.5 L403.8 83.7 L404.7 82.8 L405.4 81.8 L406.2 80.9 L407.0 80.0 L407.8 79.2 L408.6 78.4 L409.4 77.7 L410.2 77.0 L411.0 76.5 L411.9 76.0 L412.8 75.7 L413.7 75.4 L414.6 75.2 L415.4 75.2 L416.1 75.3 L416.8 75.5 L417.5 75.9 L418.2 76.4 L419.0 77.0 L419.9 77.8 L420.9 78.8 L421.9 79.9 L423.0 81.0 L424.0 82.0 L425.0 83.0 L426.0 83.9 L427.0 84.8 L428.0 85.7 L429.0 86.5 L430.0 87.3 L431.0 88.0 L432.1 88.7 L433.1 89.3 L434.0 89.8 L434.8 90.2 L435.5 90.6 L436.2 90.8 L437.0 91.0 L438.0 91.2 L439.1 91.3 L440.2 91.4 L441.4 91.4 L443.0 91.4 L445.0 91.4 L447.9 91.4 L451.5 91.4 L455.3 91.4 L458.7 91.4 L461.0 91.4" fill="none" stroke="#f3a08c" stroke-width="1.05" stroke-opacity="0.9"/>
<path d="M319.7 91.4 L322.9 91.4 L327.6 91.5 L332.8 91.5 L337.6 91.5 L341.0 91.4 L342.8 91.4 L343.5 91.4 L343.7 91.3 L343.7 91.0 L344.0 90.3 L344.6 89.3 L345.2 88.0 L345.8 86.4 L346.4 84.4 L347.0 82.0 L347.6 78.9 L348.2 75.1 L348.8 71.1 L349.4 67.2 L350.0 64.0 L350.6 61.3 L351.1 58.9 L351.7 56.8 L352.2 55.2 L352.8 54.2 L353.3 53.8 L353.8 54.1 L354.4 54.8 L354.9 55.8 L355.5 57.0 L356.1 58.6 L356.8 60.6 L357.5 62.8 L358.3 65.0 L359.0 67.0 L359.8 68.8 L360.6 70.5 L361.4 72.1 L362.2 73.7 L363.0 75.0 L363.8 76.2 L364.6 77.2 L365.5 78.0 L366.3 78.8 L367.0 79.5 L367.7 80.1 L368.2 80.5 L368.8 80.9 L369.4 81.2 L370.0 81.5 L370.7 81.8 L371.4 82.0 L372.1 82.1 L372.8 82.2 L373.6 82.3 L374.4 82.3 L375.3 82.3 L376.2 82.2 L377.1 82.0 L378.0 81.8 L379.0 81.5 L380.0 81.2 L381.0 80.9 L382.0 80.5 L383.0 80.0 L384.0 79.5 L385.0 78.9 L386.0 78.3 L387.0 77.7 L388.0 77.0 L389.0 76.2 L390.0 75.4 L391.1 74.6 L392.1 73.7 L393.0 73.0 L393.9 72.3 L394.7 71.7 L395.5 71.2 L396.3 70.7 L397.0 70.3 L397.7 70.0 L398.4 69.8 L399.0 69.6 L399.6 69.5 L400.2 69.5 L400.8 69.5 L401.3 69.6 L401.8 69.7 L402.4 69.9 L403.0 70.3 L403.7 70.8 L404.5 71.5 L405.3 72.3 L406.2 73.1 L407.0 74.0 L407.8 74.9 L408.6 75.9 L409.4 76.9 L410.2 78.0 L411.0 79.0 L411.8 80.0 L412.6 81.1 L413.4 82.1 L414.2 83.1 L415.0 84.0 L415.8 84.8 L416.6 85.6 L417.3 86.2 L418.1 86.9 L419.0 87.5 L419.9 88.1 L420.9 88.6 L422.0 89.1 L423.0 89.6 L424.0 90.0 L424.9 90.3 L425.8 90.6 L426.7 90.9 L427.7 91.0 L428.7 91.2 L429.5 91.3 L430.2 91.4 L431.0 91.4 L432.5 91.4 L435.0 91.4 L439.4 91.4 L445.2 91.4 L451.5 91.4 L457.1 91.4 L461.0 91.4" fill="none" stroke="#5ac4ee" stroke-width="1.1"/>
<path d="M319.7 91.4 L322.7 91.4 L327.2 91.4 L332.2 91.4 L336.8 91.4 L340.0 91.4 L341.6 91.4 L342.3 91.4 L342.4 91.3 L342.3 91.3 L342.5 91.2 L342.9 91.1 L343.3 91.1 L343.7 91.0 L344.1 90.7 L344.5 90.2 L345.0 89.4 L345.5 88.4 L346.0 87.1 L346.5 85.7 L347.0 84.0 L347.5 82.0 L348.0 79.6 L348.5 77.1 L349.0 74.5 L349.5 72.0 L350.0 69.5 L350.5 66.9 L351.1 64.3 L351.6 62.0 L352.0 60.0 L352.4 58.4 L352.7 57.0 L353.0 56.0 L353.3 55.2 L353.7 54.7 L354.1 54.5 L354.5 54.6 L354.9 55.0 L355.4 55.8 L356.0 57.0 L356.8 58.9 L357.6 61.4 L358.6 64.2 L359.5 66.9 L360.4 69.0 L361.2 70.6 L361.9 71.8 L362.6 72.8 L363.3 73.7 L364.0 74.5 L364.8 75.3 L365.6 75.9 L366.4 76.5 L367.2 77.0 L368.0 77.5 L368.8 78.0 L369.5 78.4 L370.3 78.8 L371.1 79.2 L372.0 79.5 L372.9 79.8 L373.9 80.1 L374.9 80.3 L376.0 80.5 L377.4 80.7 L379.1 80.8 L381.2 80.8 L383.4 80.8 L385.4 80.8 L387.0 80.7 L388.2 80.6 L389.0 80.6 L389.7 80.4 L390.3 80.3 L391.0 80.2 L391.7 80.1 L392.4 79.9 L393.1 79.8 L393.7 79.6 L394.5 79.4 L395.4 79.2 L396.3 78.9 L397.3 78.6 L398.2 78.3 L399.0 78.0 L399.7 77.8 L400.3 77.5 L400.8 77.3 L401.4 77.2 L402.0 77.0 L402.7 76.9 L403.5 76.7 L404.4 76.6 L405.2 76.6 L405.9 76.6 L406.5 76.7 L407.1 76.8 L407.7 76.9 L408.3 77.2 L409.0 77.5 L409.8 78.0 L410.7 78.5 L411.7 79.2 L412.6 79.8 L413.5 80.4 L414.3 80.9 L414.9 81.4 L415.6 81.9 L416.3 82.5 L417.0 83.0 L417.8 83.6 L418.5 84.2 L419.3 84.8 L420.1 85.4 L421.0 86.0 L421.9 86.6 L422.9 87.2 L424.0 87.8 L425.0 88.3 L426.0 88.8 L426.9 89.2 L427.9 89.5 L428.8 89.7 L429.7 90.0 L430.6 90.2 L431.5 90.4 L432.3 90.7 L433.2 90.9 L434.1 91.1 L435.0 91.2 L435.7 91.3 L436.2 91.3 L436.8 91.4 L438.0 91.4 L440.0 91.4 L443.5 91.4 L448.3 91.4 L453.3 91.4 L457.9 91.4 L461.0 91.4" fill="none" stroke="#17772b" stroke-width="1.1" stroke-linejoin="round"/>
<line x1="320.1" y1="91.4" x2="461" y2="91.4" stroke="#3b8c82" stroke-width="1.0"/>
<path d="M319.7 126.5 L322.6 126.5 L326.8 126.5 L331.6 126.5 L335.9 126.5 L339.0 126.5 L340.6 126.5 L341.2 126.5 L341.4 126.4 L341.3 126.4 L341.5 126.3 L341.9 126.3 L342.2 126.3 L342.5 126.3 L342.9 126.0 L343.3 125.5 L343.8 124.6 L344.3 123.5 L344.9 122.2 L345.4 120.7 L346.0 119.0 L346.6 117.0 L347.2 114.7 L347.8 112.3 L348.4 110.0 L349.0 108.0 L349.6 106.3 L350.2 104.7 L350.8 103.3 L351.4 102.0 L352.0 101.0 L352.7 100.2 L353.5 99.6 L354.2 99.2 L354.9 98.9 L355.6 98.8 L356.1 98.8 L356.6 99.0 L357.0 99.3 L357.4 99.8 L358.0 100.5 L358.7 101.5 L359.6 102.9 L360.5 104.4 L361.4 105.8 L362.3 107.0 L363.0 107.8 L363.7 108.5 L364.4 109.0 L365.1 109.5 L366.0 110.0 L367.0 110.5 L368.2 111.0 L369.4 111.5 L370.6 112.0 L371.7 112.3 L372.6 112.6 L373.5 112.7 L374.3 112.8 L375.1 112.9 L376.0 113.0 L377.0 113.1 L378.0 113.1 L379.1 113.2 L380.2 113.2 L381.2 113.2 L382.2 113.2 L383.2 113.1 L384.1 113.0 L385.1 112.9 L386.0 112.8 L386.9 112.7 L387.9 112.7 L388.8 112.6 L389.7 112.5 L390.7 112.3 L391.7 112.0 L392.7 111.7 L393.8 111.3 L394.9 110.9 L396.0 110.5 L397.2 110.1 L398.4 109.6 L399.7 109.1 L400.9 108.7 L402.1 108.3 L403.1 107.9 L404.1 107.6 L405.0 107.3 L405.9 107.0 L407.0 106.8 L408.2 106.6 L409.5 106.3 L410.9 106.1 L412.2 106.0 L413.5 106.0 L414.7 106.1 L415.8 106.3 L416.8 106.7 L417.9 107.0 L419.0 107.5 L420.2 108.0 L421.4 108.6 L422.6 109.3 L423.8 110.1 L424.9 110.8 L426.0 111.6 L427.0 112.4 L428.0 113.3 L429.0 114.1 L430.0 115.0 L430.9 115.9 L431.8 116.7 L432.7 117.6 L433.5 118.5 L434.4 119.3 L435.3 120.1 L436.2 120.9 L437.1 121.6 L438.1 122.3 L439.0 123.0 L440.0 123.6 L441.0 124.2 L442.1 124.7 L443.0 125.2 L443.9 125.6 L444.6 125.9 L445.2 126.0 L445.7 126.1 L446.3 126.2 L447.0 126.3 L447.8 126.4 L448.7 126.4 L449.6 126.5 L450.7 126.5 L452.0 126.5 L453.7 126.5 L455.7 126.5 L457.9 126.5 L459.7 126.5 L461.0 126.5 L461.0 126.5 L319.7 126.5Z" fill="url(#gfill)"/>
<path d="M319.7 126.5 L323.0 126.5 L327.9 126.6 L333.3 126.7 L338.4 126.7 L342.0 126.5 L344.0 126.2 L345.0 125.9 L345.4 125.4 L345.6 124.8 L346.0 124.0 L346.6 123.0 L347.2 121.7 L347.8 120.3 L348.4 118.7 L349.0 117.0 L349.7 115.0 L350.5 112.6 L351.4 110.2 L352.2 107.9 L353.0 106.0 L353.8 104.5 L354.6 103.2 L355.4 102.1 L356.2 101.2 L357.0 100.5 L357.7 99.9 L358.4 99.6 L359.1 99.4 L359.7 99.3 L360.4 99.4 L361.1 99.6 L361.8 99.9 L362.5 100.4 L363.3 100.9 L364.0 101.5 L364.8 102.2 L365.5 103.0 L366.3 103.8 L367.1 104.7 L368.0 105.5 L368.9 106.3 L369.9 107.2 L370.9 108.0 L371.9 108.8 L373.0 109.5 L374.2 110.1 L375.4 110.6 L376.6 111.1 L377.8 111.5 L379.0 111.8 L380.1 112.0 L381.1 112.0 L382.1 112.0 L383.0 112.0 L384.0 112.0 L385.0 112.0 L386.0 112.0 L386.9 112.0 L387.9 112.1 L388.8 112.3 L389.7 112.6 L390.5 112.9 L391.3 113.3 L392.1 113.9 L393.0 114.5 L394.0 115.4 L395.0 116.4 L396.0 117.5 L397.1 118.6 L398.0 119.5 L398.9 120.3 L399.7 121.0 L400.5 121.6 L401.3 122.1 L402.0 122.5 L402.7 122.8 L403.3 123.0 L403.8 123.2 L404.4 123.2 L405.0 123.1 L405.6 123.0 L406.2 122.8 L406.7 122.5 L407.3 121.9 L408.0 121.0 L408.7 119.7 L409.5 117.9 L410.4 116.0 L411.2 114.0 L412.0 112.0 L412.8 110.0 L413.6 107.8 L414.5 105.7 L415.3 103.7 L416.0 102.0 L416.7 100.6 L417.3 99.4 L417.9 98.5 L418.5 97.7 L419.0 97.0 L419.5 96.5 L419.9 96.3 L420.2 96.1 L420.6 96.1 L421.1 96.2 L421.6 96.3 L422.1 96.5 L422.7 96.9 L423.3 97.3 L424.0 98.0 L424.7 98.9 L425.5 100.0 L426.3 101.2 L427.2 102.6 L428.0 104.0 L428.9 105.6 L429.8 107.4 L430.7 109.3 L431.7 111.1 L432.5 112.7 L433.3 114.0 L433.9 115.1 L434.6 116.1 L435.3 117.0 L436.0 118.0 L436.8 119.1 L437.6 120.2 L438.4 121.2 L439.2 122.2 L440.0 123.1 L440.8 123.8 L441.5 124.4 L442.3 125.0 L443.1 125.4 L444.0 125.8 L445.0 126.1 L446.0 126.3 L447.1 126.4 L448.4 126.4 L450.0 126.5 L452.1 126.5 L454.6 126.6 L457.2 126.5 L459.4 126.5 L461.0 126.5" fill="none" stroke="#f3a08c" stroke-width="1.05" stroke-opacity="0.9"/>
<path d="M319.7 126.5 L322.6 126.5 L326.8 126.5 L331.5 126.6 L335.8 126.6 L339.0 126.5 L340.7 126.4 L341.6 126.4 L341.9 126.3 L342.1 126.0 L342.5 125.5 L343.1 124.8 L343.5 123.9 L344.0 122.9 L344.5 121.6 L345.0 120.0 L345.6 118.0 L346.2 115.5 L346.8 112.9 L347.4 110.3 L348.0 108.0 L348.6 105.9 L349.2 103.9 L349.8 102.0 L350.4 100.3 L351.0 99.0 L351.7 98.0 L352.3 97.3 L353.0 96.8 L353.7 96.6 L354.3 96.5 L354.9 96.6 L355.4 96.9 L355.9 97.4 L356.4 98.1 L357.0 99.0 L357.7 100.3 L358.5 102.0 L359.3 103.8 L360.2 105.5 L361.0 107.0 L361.8 108.2 L362.6 109.1 L363.3 110.0 L364.1 110.8 L365.0 111.5 L365.9 112.2 L366.9 112.7 L367.9 113.2 L369.0 113.6 L370.0 114.0 L371.1 114.3 L372.2 114.6 L373.3 114.8 L374.4 114.9 L375.5 115.0 L376.6 115.0 L377.7 115.0 L378.8 114.9 L379.9 114.7 L381.0 114.6 L382.0 114.5 L383.0 114.3 L383.9 114.2 L384.9 114.0 L386.0 113.8 L387.3 113.7 L388.7 113.6 L390.1 113.4 L391.5 113.2 L392.6 112.7 L393.5 112.0 L394.2 111.2 L394.8 110.2 L395.4 109.1 L396.0 108.0 L396.6 106.7 L397.2 105.3 L397.8 103.8 L398.4 102.3 L399.0 101.0 L399.6 99.8 L400.2 98.7 L400.7 97.7 L401.3 96.8 L402.0 96.0 L402.7 95.3 L403.5 94.7 L404.4 94.2 L405.2 93.8 L405.9 93.7 L406.6 93.8 L407.2 94.1 L407.8 94.6 L408.4 95.2 L409.0 96.0 L409.6 97.0 L410.2 98.2 L410.8 99.5 L411.4 100.8 L412.0 102.0 L412.6 103.1 L413.3 104.1 L413.9 105.1 L414.6 106.0 L415.4 107.0 L416.2 108.0 L417.1 108.9 L418.1 109.8 L419.0 110.7 L420.0 111.5 L421.0 112.2 L421.9 112.8 L422.9 113.4 L423.9 114.0 L424.9 114.6 L425.9 115.2 L426.9 115.9 L427.9 116.6 L428.9 117.3 L430.0 118.0 L431.2 118.8 L432.5 119.7 L433.8 120.6 L435.1 121.4 L436.3 122.2 L437.4 122.9 L438.3 123.5 L439.2 124.1 L440.1 124.6 L441.0 125.0 L441.8 125.4 L442.5 125.7 L443.2 125.9 L444.0 126.1 L445.0 126.3 L446.2 126.4 L447.5 126.5 L448.9 126.5 L450.4 126.5 L452.0 126.5 L453.8 126.5 L455.9 126.5 L458.0 126.5 L459.7 126.5 L461.0 126.5" fill="none" stroke="#5ac4ee" stroke-width="1.1"/>
<path d="M319.7 126.5 L322.6 126.5 L326.8 126.5 L331.6 126.5 L335.9 126.5 L339.0 126.5 L340.6 126.5 L341.2 126.5 L341.4 126.4 L341.3 126.4 L341.5 126.3 L341.9 126.3 L342.2 126.3 L342.5 126.3 L342.9 126.0 L343.3 125.5 L343.8 124.6 L344.3 123.5 L344.9 122.2 L345.4 120.7 L346.0 119.0 L346.6 117.0 L347.2 114.7 L347.8 112.3 L348.4 110.0 L349.0 108.0 L349.6 106.3 L350.2 104.7 L350.8 103.3 L351.4 102.0 L352.0 101.0 L352.7 100.2 L353.5 99.6 L354.2 99.2 L354.9 98.9 L355.6 98.8 L356.1 98.8 L356.6 99.0 L357.0 99.3 L357.4 99.8 L358.0 100.5 L358.7 101.5 L359.6 102.9 L360.5 104.4 L361.4 105.8 L362.3 107.0 L363.0 107.8 L363.7 108.5 L364.4 109.0 L365.1 109.5 L366.0 110.0 L367.0 110.5 L368.2 111.0 L369.4 111.5 L370.6 112.0 L371.7 112.3 L372.6 112.6 L373.5 112.7 L374.3 112.8 L375.1 112.9 L376.0 113.0 L377.0 113.1 L378.0 113.1 L379.1 113.2 L380.2 113.2 L381.2 113.2 L382.2 113.2 L383.2 113.1 L384.1 113.0 L385.1 112.9 L386.0 112.8 L386.9 112.7 L387.9 112.7 L388.8 112.6 L389.7 112.5 L390.7 112.3 L391.7 112.0 L392.7 111.7 L393.8 111.3 L394.9 110.9 L396.0 110.5 L397.2 110.1 L398.4 109.6 L399.7 109.1 L400.9 108.7 L402.1 108.3 L403.1 107.9 L404.1 107.6 L405.0 107.3 L405.9 107.0 L407.0 106.8 L408.2 106.6 L409.5 106.3 L410.9 106.1 L412.2 106.0 L413.5 106.0 L414.7 106.1 L415.8 106.3 L416.8 106.7 L417.9 107.0 L419.0 107.5 L420.2 108.0 L421.4 108.6 L422.6 109.3 L423.8 110.1 L424.9 110.8 L426.0 111.6 L427.0 112.4 L428.0 113.3 L429.0 114.1 L430.0 115.0 L430.9 115.9 L431.8 116.7 L432.7 117.6 L433.5 118.5 L434.4 119.3 L435.3 120.1 L436.2 120.9 L437.1 121.6 L438.1 122.3 L439.0 123.0 L440.0 123.6 L441.0 124.2 L442.1 124.7 L443.0 125.2 L443.9 125.6 L444.6 125.9 L445.2 126.0 L445.7 126.1 L446.3 126.2 L447.0 126.3 L447.8 126.4 L448.7 126.4 L449.6 126.5 L450.7 126.5 L452.0 126.5 L453.7 126.5 L455.7 126.5 L457.9 126.5 L459.7 126.5 L461.0 126.5" fill="none" stroke="#17772b" stroke-width="1.1" stroke-linejoin="round"/>
<line x1="320.1" y1="126.5" x2="461" y2="126.5" stroke="#3b8c82" stroke-width="1.0"/>
<path d="M319.7 161.1 L323.2 161.1 L328.3 161.1 L334.1 161.1 L339.3 161.1 L343.0 161.1 L344.8 161.1 L345.5 161.1 L345.5 161.1 L345.4 161.0 L345.5 160.9 L345.9 160.8 L346.3 160.7 L346.7 160.5 L347.1 160.3 L347.5 159.8 L347.9 159.1 L348.4 158.3 L348.9 157.4 L349.4 156.3 L350.0 155.0 L350.7 153.4 L351.5 151.6 L352.4 149.6 L353.2 147.7 L354.0 146.0 L354.7 144.6 L355.3 143.2 L355.8 142.0 L356.4 140.9 L357.0 140.0 L357.7 139.2 L358.3 138.4 L359.0 137.9 L359.7 137.5 L360.4 137.3 L361.1 137.4 L361.8 137.8 L362.5 138.4 L363.3 139.0 L364.0 139.5 L364.8 140.0 L365.6 140.5 L366.4 141.0 L367.2 141.6 L368.0 142.1 L368.8 142.6 L369.5 143.2 L370.3 143.8 L371.1 144.4 L372.0 145.0 L373.0 145.7 L374.1 146.5 L375.2 147.3 L376.3 148.0 L377.4 148.7 L378.4 149.3 L379.3 149.8 L380.2 150.2 L381.1 150.6 L382.0 151.0 L383.0 151.4 L384.0 151.8 L385.0 152.1 L386.0 152.4 L386.9 152.5 L387.8 152.5 L388.6 152.4 L389.4 152.1 L390.2 151.8 L391.0 151.5 L391.8 151.1 L392.6 150.6 L393.5 150.1 L394.2 149.5 L395.0 149.0 L395.7 148.6 L396.4 148.1 L397.0 147.7 L397.6 147.3 L398.3 146.8 L399.0 146.3 L399.7 145.7 L400.5 145.1 L401.2 144.5 L402.0 144.0 L402.8 143.5 L403.6 143.0 L404.3 142.5 L405.1 142.1 L405.9 141.7 L406.6 141.4 L407.3 141.1 L408.0 140.9 L408.8 140.7 L409.7 140.6 L410.8 140.5 L411.9 140.5 L413.2 140.4 L414.4 140.5 L415.4 140.6 L416.2 140.8 L417.0 141.0 L417.6 141.3 L418.3 141.7 L419.0 142.0 L419.8 142.3 L420.6 142.7 L421.4 143.1 L422.2 143.5 L423.0 144.0 L423.8 144.6 L424.6 145.3 L425.4 146.0 L426.2 146.7 L427.0 147.5 L427.7 148.3 L428.5 149.1 L429.2 149.9 L429.9 150.8 L430.6 151.6 L431.3 152.4 L431.9 153.2 L432.6 154.0 L433.3 154.7 L434.0 155.5 L434.8 156.3 L435.6 157.1 L436.5 157.9 L437.4 158.6 L438.2 159.2 L439.0 159.7 L439.7 160.1 L440.4 160.4 L441.2 160.6 L442.0 160.8 L442.8 160.9 L443.5 161.0 L444.3 161.1 L445.4 161.1 L447.0 161.1 L449.4 161.1 L452.6 161.1 L456.0 161.1 L459.0 161.1 L461.0 161.1 L461.0 161.1 L319.7 161.1Z" fill="url(#gfill)"/>
<path d="M319.7 161.1 L323.6 161.1 L329.4 161.2 L335.9 161.2 L341.8 161.2 L346.0 161.1 L348.1 161.0 L348.9 161.0 L348.9 160.8 L348.8 160.6 L349.0 160.0 L349.6 159.1 L350.2 158.0 L350.8 156.8 L351.4 155.4 L352.0 154.0 L352.6 152.5 L353.2 150.9 L353.8 149.3 L354.4 147.6 L355.0 146.0 L355.6 144.4 L356.2 142.8 L356.8 141.3 L357.4 139.8 L358.0 138.5 L358.6 137.4 L359.2 136.3 L359.8 135.4 L360.4 134.6 L361.0 134.0 L361.6 133.5 L362.3 133.2 L362.9 133.1 L363.6 133.0 L364.2 133.0 L364.8 133.1 L365.3 133.3 L365.8 133.6 L366.4 134.0 L367.0 134.5 L367.7 135.2 L368.5 136.0 L369.3 137.0 L370.2 138.0 L371.0 139.0 L371.8 140.1 L372.6 141.2 L373.4 142.3 L374.2 143.5 L375.0 144.5 L375.8 145.4 L376.6 146.3 L377.5 147.1 L378.3 147.9 L379.3 148.7 L380.3 149.4 L381.5 150.1 L382.6 150.8 L383.8 151.4 L385.0 152.0 L386.2 152.6 L387.4 153.2 L388.7 153.8 L389.9 154.3 L391.0 154.8 L392.0 155.2 L393.0 155.6 L394.0 155.9 L394.9 156.2 L396.0 156.5 L397.2 156.8 L398.5 157.0 L399.8 157.2 L401.0 157.4 L402.1 157.3 L403.0 157.1 L403.8 156.8 L404.5 156.4 L405.2 155.8 L406.0 155.0 L406.8 153.9 L407.6 152.6 L408.4 151.2 L409.2 149.6 L410.0 148.0 L410.8 146.3 L411.6 144.4 L412.5 142.4 L413.3 140.6 L414.0 139.0 L414.7 137.6 L415.2 136.4 L415.8 135.3 L416.4 134.3 L417.0 133.5 L417.7 132.8 L418.4 132.3 L419.2 131.9 L420.0 131.6 L420.7 131.6 L421.4 131.7 L422.1 132.0 L422.7 132.5 L423.4 133.2 L424.0 134.0 L424.6 135.1 L425.2 136.4 L425.8 137.9 L426.4 139.4 L427.0 141.0 L427.7 142.7 L428.5 144.5 L429.2 146.4 L429.9 148.2 L430.6 149.7 L431.1 151.0 L431.6 152.1 L432.0 153.1 L432.5 154.1 L433.0 155.0 L433.6 156.0 L434.2 156.9 L434.9 157.8 L435.6 158.5 L436.3 159.2 L437.0 159.7 L437.6 160.1 L438.3 160.4 L439.1 160.7 L440.0 160.9 L440.9 161.0 L441.8 161.1 L442.8 161.1 L444.2 161.1 L446.0 161.1 L448.7 161.1 L452.1 161.1 L455.6 161.1 L458.8 161.1 L461.0 161.1" fill="none" stroke="#f3a08c" stroke-width="1.05" stroke-opacity="0.9"/>
<path d="M319.7 161.1 L323.0 161.1 L327.9 161.2 L333.4 161.2 L338.4 161.2 L342.0 161.1 L343.9 161.0 L344.8 160.8 L345.1 160.6 L345.2 160.2 L345.5 159.5 L346.1 158.6 L346.5 157.4 L347.0 156.1 L347.5 154.6 L348.0 153.0 L348.6 151.2 L349.2 149.1 L349.8 147.0 L350.4 144.9 L351.0 143.0 L351.6 141.3 L352.2 139.6 L352.9 138.1 L353.5 136.7 L354.0 135.5 L354.5 134.5 L354.8 133.8 L355.2 133.2 L355.6 132.7 L356.0 132.3 L356.5 132.0 L357.0 131.7 L357.5 131.6 L358.0 131.5 L358.5 131.6 L359.0 131.8 L359.5 132.0 L360.0 132.4 L360.5 132.9 L361.0 133.5 L361.6 134.2 L362.1 135.1 L362.7 136.0 L363.3 137.0 L364.0 138.0 L364.7 139.0 L365.5 140.0 L366.3 141.0 L367.1 142.0 L368.0 143.0 L368.9 144.0 L369.9 144.9 L371.0 145.8 L372.0 146.7 L373.0 147.5 L374.0 148.2 L375.0 148.9 L376.1 149.4 L377.1 150.0 L378.0 150.5 L378.8 151.0 L379.6 151.4 L380.4 151.8 L381.2 152.2 L382.0 152.5 L382.9 152.8 L383.9 153.1 L385.0 153.4 L386.0 153.5 L386.9 153.5 L387.8 153.3 L388.6 152.9 L389.4 152.4 L390.2 151.8 L391.0 151.0 L391.8 150.1 L392.6 148.9 L393.4 147.7 L394.2 146.4 L395.0 145.0 L395.8 143.5 L396.6 141.8 L397.5 140.2 L398.3 138.5 L399.0 137.0 L399.6 135.6 L400.2 134.3 L400.8 133.1 L401.4 132.0 L402.0 131.0 L402.7 130.2 L403.5 129.5 L404.4 128.9 L405.2 128.6 L405.9 128.4 L406.6 128.5 L407.2 128.7 L407.8 129.2 L408.4 129.8 L409.0 130.5 L409.6 131.3 L410.2 132.3 L410.8 133.5 L411.4 134.7 L412.0 136.0 L412.7 137.5 L413.3 139.1 L414.0 140.8 L414.7 142.5 L415.4 144.0 L416.1 145.3 L416.7 146.6 L417.4 147.7 L418.1 148.9 L419.0 150.0 L420.0 151.1 L421.2 152.3 L422.5 153.4 L423.7 154.4 L424.9 155.4 L426.0 156.3 L427.0 157.3 L428.0 158.1 L429.0 158.9 L430.0 159.5 L431.0 160.0 L432.0 160.4 L433.0 160.6 L434.0 160.8 L435.0 161.0 L435.7 161.1 L436.2 161.1 L436.8 161.1 L438.0 161.1 L440.0 161.1 L443.5 161.1 L448.3 161.1 L453.3 161.1 L457.9 161.1 L461.0 161.1" fill="none" stroke="#5ac4ee" stroke-width="1.1"/>
<path d="M319.7 161.1 L323.2 161.1 L328.3 161.1 L334.1 161.1 L339.3 161.1 L343.0 161.1 L344.8 161.1 L345.5 161.1 L345.5 161.1 L345.4 161.0 L345.5 160.9 L345.9 160.8 L346.3 160.7 L346.7 160.5 L347.1 160.3 L347.5 159.8 L347.9 159.1 L348.4 158.3 L348.9 157.4 L349.4 156.3 L350.0 155.0 L350.7 153.4 L351.5 151.6 L352.4 149.6 L353.2 147.7 L354.0 146.0 L354.7 144.6 L355.3 143.2 L355.8 142.0 L356.4 140.9 L357.0 140.0 L357.7 139.2 L358.3 138.4 L359.0 137.9 L359.7 137.5 L360.4 137.3 L361.1 137.4 L361.8 137.8 L362.5 138.4 L363.3 139.0 L364.0 139.5 L364.8 140.0 L365.6 140.5 L366.4 141.0 L367.2 141.6 L368.0 142.1 L368.8 142.6 L369.5 143.2 L370.3 143.8 L371.1 144.4 L372.0 145.0 L373.0 145.7 L374.1 146.5 L375.2 147.3 L376.3 148.0 L377.4 148.7 L378.4 149.3 L379.3 149.8 L380.2 150.2 L381.1 150.6 L382.0 151.0 L383.0 151.4 L384.0 151.8 L385.0 152.1 L386.0 152.4 L386.9 152.5 L387.8 152.5 L388.6 152.4 L389.4 152.1 L390.2 151.8 L391.0 151.5 L391.8 151.1 L392.6 150.6 L393.5 150.1 L394.2 149.5 L395.0 149.0 L395.7 148.6 L396.4 148.1 L397.0 147.7 L397.6 147.3 L398.3 146.8 L399.0 146.3 L399.7 145.7 L400.5 145.1 L401.2 144.5 L402.0 144.0 L402.8 143.5 L403.6 143.0 L404.3 142.5 L405.1 142.1 L405.9 141.7 L406.6 141.4 L407.3 141.1 L408.0 140.9 L408.8 140.7 L409.7 140.6 L410.8 140.5 L411.9 140.5 L413.2 140.4 L414.4 140.5 L415.4 140.6 L416.2 140.8 L417.0 141.0 L417.6 141.3 L418.3 141.7 L419.0 142.0 L419.8 142.3 L420.6 142.7 L421.4 143.1 L422.2 143.5 L423.0 144.0 L423.8 144.6 L424.6 145.3 L425.4 146.0 L426.2 146.7 L427.0 147.5 L427.7 148.3 L428.5 149.1 L429.2 149.9 L429.9 150.8 L430.6 151.6 L431.3 152.4 L431.9 153.2 L432.6 154.0 L433.3 154.7 L434.0 155.5 L434.8 156.3 L435.6 157.1 L436.5 157.9 L437.4 158.6 L438.2 159.2 L439.0 159.7 L439.7 160.1 L440.4 160.4 L441.2 160.6 L442.0 160.8 L442.8 160.9 L443.5 161.0 L444.3 161.1 L445.4 161.1 L447.0 161.1 L449.4 161.1 L452.6 161.1 L456.0 161.1 L459.0 161.1 L461.0 161.1" fill="none" stroke="#17772b" stroke-width="1.1" stroke-linejoin="round"/>
<line x1="320.1" y1="161.1" x2="461" y2="161.1" stroke="#3b8c82" stroke-width="1.0"/>
<path d="M319.7 193.6 L320.3 193.6 L321.1 193.6 L322.1 193.5 L323.1 193.5 L324.0 193.4 L324.9 193.3 L325.7 193.2 L326.6 193.1 L327.5 192.9 L328.4 192.7 L329.3 192.5 L330.3 192.2 L331.2 191.9 L332.1 191.6 L333.0 191.3 L333.8 190.9 L334.7 190.5 L335.4 190.1 L336.2 189.6 L337.0 189.2 L337.8 188.8 L338.6 188.3 L339.3 187.9 L340.1 187.5 L340.8 187.0 L341.5 186.5 L342.1 186.0 L342.7 185.5 L343.3 185.0 L344.0 184.5 L344.7 184.0 L345.5 183.5 L346.3 182.9 L347.1 182.4 L348.0 182.0 L349.0 181.6 L350.0 181.2 L351.1 180.8 L352.2 180.5 L353.2 180.3 L354.2 180.2 L355.1 180.1 L356.0 180.2 L357.0 180.3 L358.0 180.5 L359.1 180.8 L360.2 181.3 L361.4 181.8 L362.5 182.3 L363.6 182.8 L364.5 183.2 L365.4 183.5 L366.2 183.8 L367.0 184.2 L368.0 184.5 L369.1 184.9 L370.3 185.4 L371.6 185.8 L372.8 186.2 L374.0 186.5 L375.1 186.6 L376.1 186.6 L377.0 186.5 L378.0 186.4 L379.0 186.3 L380.1 186.2 L381.2 186.2 L382.3 186.1 L383.3 186.0 L384.3 185.9 L385.1 185.8 L385.9 185.8 L386.5 185.7 L387.2 185.6 L388.0 185.5 L388.9 185.4 L389.8 185.2 L390.7 185.0 L391.7 184.8 L392.6 184.5 L393.5 184.2 L394.4 183.8 L395.3 183.4 L396.2 183.0 L397.0 182.6 L397.8 182.2 L398.6 181.9 L399.3 181.5 L400.1 181.1 L400.9 180.7 L401.7 180.3 L402.6 179.9 L403.4 179.4 L404.2 179.0 L405.0 178.5 L405.7 178.0 L406.3 177.5 L406.8 176.9 L407.4 176.4 L408.0 176.0 L408.7 175.6 L409.3 175.2 L410.0 174.9 L410.7 174.6 L411.3 174.5 L411.9 174.5 L412.4 174.6 L412.9 174.9 L413.5 175.2 L414.0 175.5 L414.6 175.9 L415.2 176.4 L415.8 176.9 L416.4 177.5 L417.0 178.0 L417.5 178.5 L418.0 179.0 L418.5 179.6 L419.0 180.1 L419.6 180.7 L420.2 181.3 L420.8 181.9 L421.5 182.5 L422.2 183.2 L423.0 184.0 L423.9 184.9 L424.9 186.0 L425.9 187.1 L426.9 188.1 L427.9 189.0 L428.8 189.7 L429.6 190.2 L430.4 190.7 L431.2 191.1 L432.0 191.5 L432.8 191.9 L433.6 192.2 L434.4 192.5 L435.2 192.8 L436.0 193.0 L436.5 193.2 L436.8 193.3 L437.2 193.4 L438.1 193.5 L440.0 193.6 L443.4 193.6 L448.2 193.6 L453.3 193.6 L457.9 193.6 L461.0 193.6 L461.0 193.6 L319.7 193.6Z" fill="url(#gfill)"/>
<path d="M319.7 193.6 L321.2 193.6 L323.3 193.6 L325.8 193.7 L328.1 193.7 L330.0 193.6 L331.3 193.5 L332.3 193.4 L333.2 193.3 L334.0 193.1 L335.0 192.8 L336.1 192.4 L337.3 191.8 L338.6 191.2 L339.7 190.6 L340.8 190.0 L341.7 189.4 L342.6 188.8 L343.4 188.2 L344.2 187.6 L345.0 187.0 L345.8 186.4 L346.6 185.8 L347.3 185.2 L348.1 184.6 L349.0 184.0 L349.9 183.4 L350.9 182.9 L351.9 182.4 L353.0 181.9 L354.0 181.5 L355.1 181.1 L356.2 180.8 L357.3 180.6 L358.5 180.4 L359.5 180.3 L360.5 180.3 L361.3 180.4 L362.2 180.5 L363.1 180.7 L364.0 181.0 L365.0 181.3 L365.9 181.7 L366.9 182.1 L367.9 182.6 L369.0 183.0 L370.1 183.4 L371.4 183.9 L372.6 184.3 L373.8 184.7 L375.0 185.0 L376.1 185.3 L377.2 185.5 L378.2 185.7 L379.2 185.9 L380.2 185.9 L381.2 185.8 L382.2 185.6 L383.2 185.3 L384.1 185.1 L385.0 185.0 L385.9 185.1 L386.7 185.4 L387.4 185.7 L388.2 186.1 L389.0 186.5 L389.8 187.0 L390.6 187.6 L391.5 188.3 L392.3 188.9 L393.0 189.5 L393.6 190.0 L394.2 190.4 L394.8 190.8 L395.4 191.2 L396.0 191.5 L396.7 191.8 L397.5 192.0 L398.4 192.2 L399.2 192.2 L399.9 192.1 L400.6 191.8 L401.2 191.5 L401.8 191.0 L402.4 190.3 L403.0 189.5 L403.6 188.5 L404.2 187.3 L404.8 185.9 L405.4 184.5 L406.0 183.0 L406.6 181.5 L407.2 179.8 L407.8 178.1 L408.4 176.5 L409.0 175.0 L409.5 173.7 L410.0 172.5 L410.5 171.3 L411.0 170.3 L411.5 169.5 L412.0 168.8 L412.4 168.2 L412.9 167.8 L413.3 167.5 L413.8 167.3 L414.2 167.2 L414.6 167.2 L415.1 167.4 L415.5 167.6 L416.0 168.0 L416.5 168.5 L417.1 169.1 L417.8 169.8 L418.4 170.6 L419.0 171.5 L419.6 172.5 L420.2 173.5 L420.7 174.7 L421.3 175.8 L422.0 177.0 L422.7 178.2 L423.4 179.4 L424.2 180.6 L425.0 181.8 L425.8 182.8 L426.6 183.7 L427.4 184.4 L428.2 185.1 L429.0 185.7 L430.0 186.5 L431.2 187.4 L432.5 188.4 L433.8 189.3 L435.1 190.2 L436.2 191.0 L437.1 191.6 L437.9 192.0 L438.6 192.4 L439.3 192.7 L440.0 193.0 L440.6 193.2 L441.0 193.4 L441.5 193.5 L442.4 193.5 L444.0 193.6 L446.8 193.6 L450.7 193.6 L454.8 193.6 L458.5 193.6 L461.0 193.6" fill="none" stroke="#f3a08c" stroke-width="1.05" stroke-opacity="0.9"/>
<path d="M319.7 193.6 L320.3 193.6 L321.1 193.5 L322.1 193.5 L323.1 193.4 L324.0 193.3 L324.8 193.2 L325.6 193.1 L326.3 192.9 L327.1 192.7 L328.0 192.5 L329.0 192.2 L330.0 191.9 L331.0 191.6 L332.0 191.2 L333.0 190.8 L333.9 190.4 L334.7 189.9 L335.4 189.5 L336.2 189.0 L337.0 188.5 L337.8 188.0 L338.6 187.5 L339.4 187.0 L340.2 186.5 L341.0 186.0 L341.8 185.4 L342.6 184.8 L343.4 184.2 L344.2 183.6 L345.0 183.0 L345.8 182.4 L346.6 181.9 L347.4 181.4 L348.2 180.9 L349.0 180.5 L349.8 180.2 L350.6 179.9 L351.4 179.7 L352.2 179.6 L353.0 179.5 L353.8 179.5 L354.6 179.5 L355.3 179.6 L356.1 179.8 L357.0 180.0 L357.9 180.3 L358.9 180.7 L360.0 181.1 L361.0 181.5 L362.0 182.0 L363.0 182.5 L364.0 183.0 L365.0 183.5 L366.0 184.0 L367.0 184.5 L368.0 185.0 L369.0 185.4 L370.0 185.8 L371.0 186.2 L372.0 186.5 L373.0 186.7 L374.0 186.8 L375.0 186.9 L376.0 187.0 L377.0 187.0 L378.0 187.0 L379.0 187.0 L380.1 187.0 L381.1 187.0 L382.0 187.0 L382.9 187.1 L383.7 187.3 L384.4 187.5 L385.2 187.6 L386.0 187.5 L386.8 187.2 L387.6 186.8 L388.5 186.3 L389.3 185.6 L390.0 185.0 L390.7 184.3 L391.3 183.6 L391.8 182.7 L392.4 181.9 L393.0 181.0 L393.6 180.0 L394.2 179.0 L394.8 178.0 L395.4 177.0 L396.0 176.0 L396.6 175.1 L397.2 174.2 L397.8 173.4 L398.4 172.7 L399.0 172.0 L399.6 171.4 L400.2 170.9 L400.8 170.5 L401.4 170.1 L402.0 169.8 L402.6 169.6 L403.2 169.4 L403.9 169.3 L404.5 169.3 L405.1 169.3 L405.7 169.4 L406.3 169.6 L406.8 169.8 L407.4 170.1 L408.0 170.5 L408.6 170.9 L409.1 171.5 L409.7 172.1 L410.3 172.7 L411.0 173.5 L411.8 174.4 L412.7 175.4 L413.6 176.5 L414.5 177.7 L415.4 178.7 L416.2 179.7 L416.8 180.6 L417.5 181.5 L418.2 182.5 L419.0 183.5 L419.9 184.6 L420.9 185.8 L421.9 187.0 L422.8 188.1 L423.7 189.0 L424.5 189.7 L425.1 190.3 L425.8 190.7 L426.4 191.1 L427.0 191.5 L427.6 191.9 L428.1 192.2 L428.6 192.5 L429.2 192.8 L430.0 193.0 L430.7 193.2 L431.3 193.3 L432.1 193.4 L433.5 193.5 L436.0 193.6 L440.2 193.6 L445.8 193.6 L451.9 193.6 L457.3 193.6 L461.0 193.6" fill="none" stroke="#5ac4ee" stroke-width="1.1"/>
<path d="M319.7 193.6 L320.3 193.6 L321.1 193.6 L322.1 193.5 L323.1 193.5 L324.0 193.4 L324.9 193.3 L325.7 193.2 L326.6 193.1 L327.5 192.9 L328.4 192.7 L329.3 192.5 L330.3 192.2 L331.2 191.9 L332.1 191.6 L333.0 191.3 L333.8 190.9 L334.7 190.5 L335.4 190.1 L336.2 189.6 L337.0 189.2 L337.8 188.8 L338.6 188.3 L339.3 187.9 L340.1 187.5 L340.8 187.0 L341.5 186.5 L342.1 186.0 L342.7 185.5 L343.3 185.0 L344.0 184.5 L344.7 184.0 L345.5 183.5 L346.3 182.9 L347.1 182.4 L348.0 182.0 L349.0 181.6 L350.0 181.2 L351.1 180.8 L352.2 180.5 L353.2 180.3 L354.2 180.2 L355.1 180.1 L356.0 180.2 L357.0 180.3 L358.0 180.5 L359.1 180.8 L360.2 181.3 L361.4 181.8 L362.5 182.3 L363.6 182.8 L364.5 183.2 L365.4 183.5 L366.2 183.8 L367.0 184.2 L368.0 184.5 L369.1 184.9 L370.3 185.4 L371.6 185.8 L372.8 186.2 L374.0 186.5 L375.1 186.6 L376.1 186.6 L377.0 186.5 L378.0 186.4 L379.0 186.3 L380.1 186.2 L381.2 186.2 L382.3 186.1 L383.3 186.0 L384.3 185.9 L385.1 185.8 L385.9 185.8 L386.5 185.7 L387.2 185.6 L388.0 185.5 L388.9 185.4 L389.8 185.2 L390.7 185.0 L391.7 184.8 L392.6 184.5 L393.5 184.2 L394.4 183.8 L395.3 183.4 L396.2 183.0 L397.0 182.6 L397.8 182.2 L398.6 181.9 L399.3 181.5 L400.1 181.1 L400.9 180.7 L401.7 180.3 L402.6 179.9 L403.4 179.4 L404.2 179.0 L405.0 178.5 L405.7 178.0 L406.3 177.5 L406.8 176.9 L407.4 176.4 L408.0 176.0 L408.7 175.6 L409.3 175.2 L410.0 174.9 L410.7 174.6 L411.3 174.5 L411.9 174.5 L412.4 174.6 L412.9 174.9 L413.5 175.2 L414.0 175.5 L414.6 175.9 L415.2 176.4 L415.8 176.9 L416.4 177.5 L417.0 178.0 L417.5 178.5 L418.0 179.0 L418.5 179.6 L419.0 180.1 L419.6 180.7 L420.2 181.3 L420.8 181.9 L421.5 182.5 L422.2 183.2 L423.0 184.0 L423.9 184.9 L424.9 186.0 L425.9 187.1 L426.9 188.1 L427.9 189.0 L428.8 189.7 L429.6 190.2 L430.4 190.7 L431.2 191.1 L432.0 191.5 L432.8 191.9 L433.6 192.2 L434.4 192.5 L435.2 192.8 L436.0 193.0 L436.5 193.2 L436.8 193.3 L437.2 193.4 L438.1 193.5 L440.0 193.6 L443.4 193.6 L448.2 193.6 L453.3 193.6 L457.9 193.6 L461.0 193.6" fill="none" stroke="#17772b" stroke-width="1.1" stroke-linejoin="round"/>
<line x1="320.1" y1="193.6" x2="461" y2="193.6" stroke="#3b8c82" stroke-width="1.0"/>
<line x1="319.7" y1="9.4" x2="319.7" y2="194" stroke="#555" stroke-width="0.8"/>
<line x1="319.3" y1="193.8" x2="461" y2="193.8" stroke="#555" stroke-width="0.8"/>
<line x1="319.7" y1="193.8" x2="319.7" y2="191.6" stroke="#555" stroke-width="0.7"/>
<text x="319.7" y="203.6" font-size="7.7" text-anchor="middle" fill="#231f20" stroke="#231f20" stroke-width="0.22">0</text>
<line x1="339.9" y1="193.8" x2="339.9" y2="191.6" stroke="#555" stroke-width="0.7"/>
<text x="339.9" y="203.6" font-size="7.7" text-anchor="middle" fill="#231f20" stroke="#231f20" stroke-width="0.22">20</text>
<line x1="360.1" y1="193.8" x2="360.1" y2="191.6" stroke="#555" stroke-width="0.7"/>
<text x="360.09999999999997" y="203.6" font-size="7.7" text-anchor="middle" fill="#231f20" stroke="#231f20" stroke-width="0.22">40</text>
<line x1="380.3" y1="193.8" x2="380.3" y2="191.6" stroke="#555" stroke-width="0.7"/>
<text x="380.3" y="203.6" font-size="7.7" text-anchor="middle" fill="#231f20" stroke="#231f20" stroke-width="0.22">60</text>
<line x1="400.5" y1="193.8" x2="400.5" y2="191.6" stroke="#555" stroke-width="0.7"/>
<text x="400.5" y="203.6" font-size="7.7" text-anchor="middle" fill="#231f20" stroke="#231f20" stroke-width="0.22">80</text>
<line x1="420.7" y1="193.8" x2="420.7" y2="191.6" stroke="#555" stroke-width="0.7"/>
<text x="420.7" y="203.6" font-size="7.7" text-anchor="middle" fill="#231f20" stroke="#231f20" stroke-width="0.22">100</text>
<line x1="440.9" y1="193.8" x2="440.9" y2="191.6" stroke="#555" stroke-width="0.7"/>
<text x="440.9" y="203.6" font-size="7.7" text-anchor="middle" fill="#231f20" stroke="#231f20" stroke-width="0.22">120</text>
<line x1="461.1" y1="193.8" x2="461.1" y2="191.6" stroke="#555" stroke-width="0.7"/>
<text x="390.3" y="214.8" font-size="7.7" text-anchor="middle" fill="#231f20" stroke="#231f20" stroke-width="0.22">Energy (meV)</text>
<text x="315.2" y="102.6" font-size="7.7" text-anchor="middle" fill="#231f20" transform="rotate(-90 315.2 102.6)" stroke="#231f20" stroke-width="0.22">Intensity (a.u.)</text>
<line x1="417.3" y1="15.6" x2="425.8" y2="15.6" stroke="#f3a08c" stroke-width="1.5"/>
<text x="429.4" y="18.3" font-size="7.7" text-anchor="start" fill="#231f20" stroke="#231f20" stroke-width="0.22">SiC</text>
<line x1="417.3" y1="23.2" x2="425.8" y2="23.2" stroke="#5ac4ee" stroke-width="1.5"/>
<text x="429.4" y="25.9" font-size="7.7" text-anchor="start" fill="#231f20" stroke="#231f20" stroke-width="0.22">AlN</text>
<line x1="417.3" y1="30.799999999999997" x2="425.8" y2="30.799999999999997" stroke="#3cb43c" stroke-width="1.5"/>
<text x="429.4" y="33.5" font-size="7.7" text-anchor="start" fill="#231f20" stroke="#231f20" stroke-width="0.22">Interface</text>
<text x="451.1" y="48.5" font-size="7.7" text-anchor="middle" fill="#231f20" stroke="#231f20" stroke-width="0.22">c</text>
<text x="451.1" y="89.7" font-size="7.7" text-anchor="middle" fill="#231f20" stroke="#231f20" stroke-width="0.22">d</text>
<text x="451.6" y="123.2" font-size="7.7" text-anchor="middle" fill="#231f20" stroke="#231f20" stroke-width="0.22">e</text>
<text x="451.1" y="158.4" font-size="7.7" text-anchor="middle" fill="#231f20" stroke="#231f20" stroke-width="0.22">f</text>
<text x="422.7" y="173.5" font-size="7.7" text-anchor="start" fill="#231f20" stroke="#231f20" stroke-width="0.22">Calculated</text>
<path d="M319.8 248.6 L320.5 248.6 L321.6 248.5 L322.8 248.4 L323.9 248.4 L324.9 248.6 L325.7 249.0 L326.3 249.5 L326.9 250.1 L327.5 250.8 L328.1 251.4 L328.7 252.1 L329.4 252.8 L330.0 253.5 L330.7 254.1 L331.4 254.7 L332.2 255.1 L333.1 255.2 L334.0 255.2 L334.9 255.2 L335.8 255.2 L336.7 255.2 L337.6 255.2 L338.4 255.2 L339.3 255.2 L340.2 255.2 L341.1 255.2 L342.0 255.2 L342.8 255.2 L343.7 255.2 L344.6 255.2 L345.5 255.2 L346.3 254.9 L347.1 253.7 L348.0 252.5 L348.9 251.4 L349.9 250.3 L350.9 249.2 L351.9 248.2 L353.0 247.4 L354.0 247.0 L355.0 247.0 L356.0 247.2 L357.0 247.8 L357.9 248.4 L358.8 249.2 L359.6 250.1 L360.3 251.1 L360.9 252.3 L361.5 253.5 L362.1 254.7 L362.6 255.2 L363.0 255.2 L363.4 255.2 L363.8 255.2 L364.3 255.2 L364.8 255.2 L365.3 255.2 L365.9 255.2 L366.5 255.2 L367.1 255.2 L367.8 255.2 L368.5 255.2 L369.2 255.2 L370.0 255.2 L370.8 255.2 L371.7 255.2 L371.7 255.2 L319.8 255.2Z" fill="url(#hy_c0)"/>
<path d="M372.6 264.3 L373.5 264.3 L374.4 264.3 L375.2 264.3 L375.8 264.3 L376.4 264.3 L376.8 264.3 L377.3 264.3 L377.8 264.3 L378.4 264.3 L378.9 264.3 L379.5 264.3 L380.1 264.3 L380.7 264.3 L381.3 264.3 L381.9 264.2 L382.6 264.3 L383.3 264.3 L384.0 264.3 L384.8 264.3 L385.7 264.3 L386.6 264.3 L387.5 264.3 L388.4 264.3 L389.3 264.3 L390.2 264.3 L391.1 264.3 L392.0 264.3 L392.7 264.3 L393.2 264.3 L393.6 264.3 L394.0 264.3 L394.4 264.3 L394.9 264.3 L395.6 264.3 L396.4 264.3 L397.4 264.0 L398.3 262.6 L399.3 261.3 L400.3 260.2 L401.5 259.2 L402.6 258.3 L403.8 257.5 L404.8 256.9 L405.7 256.4 L406.6 256.0 L407.4 255.8 L408.3 255.7 L409.2 255.8 L410.2 256.1 L411.2 256.7 L412.3 257.4 L413.4 258.2 L414.6 259.1 L415.8 260.1 L417.1 261.4 L418.4 262.6 L419.8 263.7 L421.2 264.3 L422.5 264.3 L423.7 264.3 L425.1 264.3 L426.7 264.3 L428.9 264.3 L431.8 264.3 L435.3 264.3 L439.1 264.3 L442.9 264.3 L446.4 264.3 L449.7 264.3 L453.1 264.3 L456.4 264.3 L459.1 264.3 L461.0 264.3 L461.0 264.3 L372.6 264.3Z" fill="url(#hy_c1)"/>
<path d="M319.8 248.6 L320.5 248.6 L321.6 248.5 L322.8 248.4 L323.9 248.4 L324.9 248.6 L325.7 249.0 L326.3 249.5 L326.9 250.1 L327.5 250.8 L328.1 251.4 L328.7 252.1 L329.4 252.8 L330.0 253.5 L330.7 254.1 L331.4 254.7 L332.2 255.1 L333.1 255.4 L334.0 255.6 L334.9 255.9 L335.8 256.2 L336.7 256.7 L337.6 257.3 L338.4 257.9 L339.3 258.4 L340.2 258.6 L341.1 258.6 L342.0 258.4 L342.8 258.1 L343.7 257.5 L344.6 256.9 L345.5 256.0 L346.3 254.9 L347.1 253.7 L348.0 252.5 L348.9 251.4 L349.9 250.3 L350.9 249.2 L351.9 248.2 L353.0 247.4 L354.0 247.0 L355.0 247.0 L356.0 247.2 L357.0 247.8 L357.9 248.4 L358.8 249.2 L359.6 250.1 L360.3 251.1 L360.9 252.3 L361.5 253.5 L362.1 254.7 L362.6 256.0 L363.0 257.3 L363.4 258.7 L363.8 260.0 L364.3 261.3 L364.8 262.5 L365.3 263.8 L365.9 264.9 L366.5 265.9 L367.1 266.7 L367.8 267.1 L368.5 267.3 L369.2 267.4 L370.0 267.4 L370.8 267.4 L371.7 267.5 L372.6 267.6 L373.5 267.6 L374.4 267.7 L375.2 267.8 L375.8 268.0 L376.4 268.3 L376.8 268.5 L377.3 268.6 L377.8 268.5 L378.4 268.0 L378.9 267.1 L379.5 266.1 L380.1 265.2 L380.7 264.6 L381.3 264.3 L381.9 264.2 L382.6 264.3 L383.3 264.4 L384.0 264.6 L384.8 264.9 L385.7 265.3 L386.6 265.8 L387.5 266.2 L388.4 266.7 L389.3 267.2 L390.2 267.7 L391.1 268.3 L392.0 268.7 L392.7 268.9 L393.2 269.0 L393.6 269.0 L394.0 268.8 L394.4 268.4 L394.9 267.8 L395.6 266.8 L396.4 265.5 L397.4 264.0 L398.3 262.6 L399.3 261.3 L400.3 260.2 L401.5 259.2 L402.6 258.3 L403.8 257.5 L404.8 256.9 L405.7 256.4 L406.6 256.0 L407.4 255.8 L408.3 255.7 L409.2 255.8 L410.2 256.1 L411.2 256.7 L412.3 257.4 L413.4 258.2 L414.6 259.1 L415.8 260.1 L417.1 261.4 L418.4 262.6 L419.8 263.7 L421.2 264.6 L422.5 265.1 L423.7 265.4 L425.1 265.5 L426.7 265.6 L428.9 265.7 L431.8 265.9 L435.3 266.1 L439.1 266.4 L442.9 266.6 L446.4 266.7 L449.7 266.8 L453.1 266.8 L456.4 266.9 L459.1 266.9 L461.0 266.9" fill="none" stroke="#1a1a1a" stroke-width="1.15" stroke-linejoin="round"/>
<path d="M319.8 291.7 L320.2 291.4 L320.9 291.1 L321.6 290.6 L322.4 290.2 L323.3 289.9 L324.2 289.7 L325.3 289.5 L326.3 289.3 L327.4 289.2 L328.5 289.0 L329.6 288.8 L330.7 288.7 L331.8 288.5 L332.9 288.3 L333.8 288.1 L334.6 287.8 L335.3 287.5 L336.0 287.2 L336.6 287.0 L337.3 286.9 L338.0 287.1 L338.7 287.4 L339.3 287.9 L340.0 288.3 L340.8 288.7 L341.6 288.9 L342.5 289.0 L343.4 289.2 L344.3 289.4 L345.2 289.9 L346.1 290.7 L346.9 291.8 L347.7 293.0 L348.6 294.1 L349.5 295.2 L350.5 296.1 L351.6 297.1 L352.6 297.9 L353.7 298.0 L354.8 298.0 L355.9 298.0 L356.9 298.0 L358.0 298.0 L359.0 298.0 L360.0 298.0 L360.9 298.0 L361.9 298.0 L362.7 298.0 L363.6 298.0 L364.4 298.0 L365.2 298.0 L365.9 298.0 L366.6 297.6 L367.3 296.0 L367.9 294.3 L368.5 292.4 L369.0 290.2 L369.5 288.0 L370.0 285.8 L370.6 283.8 L371.2 282.0 L371.9 280.2 L372.6 278.6 L373.3 277.1 L374.1 275.9 L374.9 274.9 L375.8 274.1 L376.6 273.5 L377.5 273.2 L378.4 273.3 L379.3 273.8 L380.2 274.6 L381.1 275.8 L382.0 277.1 L382.8 278.5 L383.6 280.0 L384.3 281.8 L384.9 283.6 L385.6 285.5 L386.3 287.3 L387.0 289.1 L387.7 291.0 L388.4 292.8 L389.1 294.5 L389.8 296.0 L390.5 297.2 L391.2 298.0 L391.9 298.0 L392.6 298.0 L393.3 298.0 L394.0 298.0 L394.7 298.0 L395.4 298.0 L396.1 298.0 L396.8 298.0 L397.5 298.0 L398.1 298.0 L398.8 298.0 L399.5 297.7 L400.3 296.9 L401.2 296.4 L402.2 296.1 L403.3 295.9 L404.4 295.8 L405.6 295.7 L406.9 295.6 L408.3 295.6 L409.7 295.7 L411.2 295.8 L412.6 296.0 L414.0 296.3 L415.4 296.6 L416.8 297.0 L418.2 297.4 L419.6 297.8 L420.9 298.0 L422.2 298.0 L423.5 298.0 L424.9 298.0 L426.6 298.0 L428.4 298.0 L430.3 298.0 L432.4 298.0 L434.9 298.0 L438.0 298.0 L442.2 298.0 L447.5 298.0 L452.9 298.0 L457.7 298.0 L461.0 298.0 L461.0 298.0 L319.8 298.0Z" fill="url(#hy_d0)"/>
<path d="M319.8 291.7 L320.2 291.4 L320.9 291.1 L321.6 290.6 L322.4 290.2 L323.3 289.9 L324.2 289.7 L325.3 289.5 L326.3 289.3 L327.4 289.2 L328.5 289.0 L329.6 288.8 L330.7 288.7 L331.8 288.5 L332.9 288.3 L333.8 288.1 L334.6 287.8 L335.3 287.5 L336.0 287.2 L336.6 287.0 L337.3 286.9 L338.0 287.1 L338.7 287.4 L339.3 287.9 L340.0 288.3 L340.8 288.7 L341.6 288.9 L342.5 289.0 L343.4 289.2 L344.3 289.4 L345.2 289.9 L346.1 290.7 L346.9 291.8 L347.7 293.0 L348.6 294.1 L349.5 295.2 L350.5 296.1 L351.6 297.1 L352.6 297.9 L353.7 298.8 L354.8 299.5 L355.9 300.2 L356.9 300.9 L358.0 301.5 L359.0 301.9 L360.0 302.2 L360.9 302.3 L361.9 302.4 L362.7 302.3 L363.6 301.9 L364.4 301.3 L365.2 300.3 L365.9 299.1 L366.6 297.6 L367.3 296.0 L367.9 294.3 L368.5 292.4 L369.0 290.2 L369.5 288.0 L370.0 285.8 L370.6 283.8 L371.2 282.0 L371.9 280.2 L372.6 278.6 L373.3 277.1 L374.1 275.9 L374.9 274.9 L375.8 274.1 L376.6 273.5 L377.5 273.2 L378.4 273.3 L379.3 273.8 L380.2 274.6 L381.1 275.8 L382.0 277.1 L382.8 278.5 L383.6 280.0 L384.3 281.8 L384.9 283.6 L385.6 285.5 L386.3 287.3 L387.0 289.1 L387.7 291.0 L388.4 292.8 L389.1 294.5 L389.8 296.0 L390.5 297.2 L391.2 298.2 L391.9 299.1 L392.6 299.8 L393.3 300.4 L394.0 300.9 L394.7 301.3 L395.4 301.5 L396.1 301.5 L396.8 301.3 L397.5 300.7 L398.1 299.8 L398.8 298.7 L399.5 297.7 L400.3 296.9 L401.2 296.4 L402.2 296.1 L403.3 295.9 L404.4 295.8 L405.6 295.7 L406.9 295.6 L408.3 295.6 L409.7 295.7 L411.2 295.8 L412.6 296.0 L414.0 296.3 L415.4 296.6 L416.8 297.0 L418.2 297.4 L419.6 297.8 L420.9 298.2 L422.2 298.5 L423.5 298.9 L424.9 299.2 L426.6 299.5 L428.4 299.7 L430.3 299.8 L432.4 299.8 L434.9 299.9 L438.0 299.9 L442.2 299.9 L447.5 300.0 L452.9 300.0 L457.7 300.0 L461.0 300.0" fill="none" stroke="#1a1a1a" stroke-width="1.15" stroke-linejoin="round"/>
<path d="M319.8 321.5 L320.5 321.4 L321.6 321.2 L322.8 321.1 L324.0 320.9 L325.0 320.7 L325.8 320.5 L326.4 320.2 L327.1 320.0 L327.7 319.8 L328.5 319.8 L329.4 319.9 L330.4 320.2 L331.5 320.5 L332.6 320.8 L333.8 321.0 L335.1 321.1 L336.5 321.3 L338.0 321.3 L339.4 321.4 L340.8 321.5 L342.1 321.6 L343.4 321.8 L344.7 322.0 L345.9 322.0 L346.9 321.9 L347.8 321.6 L348.4 321.2 L349.1 320.7 L349.7 320.0 L350.4 319.3 L351.2 318.4 L352.1 317.2 L353.0 316.0 L353.9 314.9 L354.8 314.0 L355.7 313.3 L356.6 312.7 L357.5 312.3 L358.4 312.0 L359.2 311.9 L359.9 312.0 L360.6 312.2 L361.3 312.5 L362.0 313.1 L362.7 314.0 L363.5 315.2 L364.4 316.8 L365.4 318.6 L366.3 320.3 L367.1 321.9 L367.9 323.3 L368.6 324.7 L369.3 325.3 L370.0 325.3 L370.6 325.3 L371.2 325.3 L371.7 325.3 L372.1 325.3 L372.6 325.3 L373.2 325.3 L373.8 325.3 L374.5 325.3 L375.3 325.3 L376.0 325.3 L376.7 324.5 L377.4 322.8 L378.1 320.7 L378.8 318.6 L379.5 316.6 L380.2 314.9 L381.0 313.4 L381.8 312.0 L382.6 310.8 L383.4 310.0 L384.2 309.6 L385.0 309.8 L385.8 310.4 L386.6 311.4 L387.3 312.6 L388.1 314.0 L388.8 315.7 L389.5 317.7 L390.2 319.8 L390.8 321.9 L391.6 323.7 L392.4 325.3 L393.3 325.3 L394.2 325.3 L395.1 325.3 L396.0 325.3 L396.9 325.3 L397.7 325.3 L398.6 325.3 L399.4 325.3 L400.3 325.3 L401.2 325.3 L402.1 325.3 L402.9 323.9 L403.8 322.4 L404.7 321.0 L405.6 319.8 L406.5 318.6 L407.3 317.5 L408.2 316.6 L409.1 315.8 L410.0 315.2 L410.9 314.8 L411.7 314.4 L412.6 314.2 L413.5 314.0 L414.4 313.8 L415.2 313.6 L416.1 313.5 L417.0 313.5 L417.9 313.7 L418.9 314.0 L419.8 314.5 L420.9 315.1 L421.9 315.8 L423.1 316.6 L424.4 317.5 L425.7 318.6 L427.1 319.8 L428.6 320.9 L430.1 321.9 L431.6 322.8 L433.2 323.7 L434.9 324.5 L436.5 325.3 L438.0 325.3 L439.3 325.3 L440.4 325.3 L441.6 325.3 L443.0 325.3 L445.0 325.3 L447.9 325.3 L451.5 325.3 L455.3 325.3 L458.7 325.3 L461.0 325.3 L461.0 325.3 L319.8 325.3Z" fill="url(#hy_e0)"/>
<path d="M319.8 321.5 L320.5 321.4 L321.6 321.2 L322.8 321.1 L324.0 320.9 L325.0 320.7 L325.8 320.5 L326.4 320.2 L327.1 320.0 L327.7 319.8 L328.5 319.8 L329.4 319.9 L330.4 320.2 L331.5 320.5 L332.6 320.8 L333.8 321.0 L335.1 321.1 L336.5 321.3 L338.0 321.3 L339.4 321.4 L340.8 321.5 L342.1 321.6 L343.4 321.8 L344.7 322.0 L345.9 322.0 L346.9 321.9 L347.8 321.6 L348.4 321.2 L349.1 320.7 L349.7 320.0 L350.4 319.3 L351.2 318.4 L352.1 317.2 L353.0 316.0 L353.9 314.9 L354.8 314.0 L355.7 313.3 L356.6 312.7 L357.5 312.3 L358.4 312.0 L359.2 311.9 L359.9 312.0 L360.6 312.2 L361.3 312.5 L362.0 313.1 L362.7 314.0 L363.5 315.2 L364.4 316.8 L365.4 318.6 L366.3 320.3 L367.1 321.9 L367.9 323.3 L368.6 324.7 L369.3 325.9 L370.0 327.1 L370.6 328.0 L371.2 328.8 L371.7 329.5 L372.1 330.0 L372.6 330.2 L373.2 330.1 L373.8 329.5 L374.5 328.6 L375.3 327.4 L376.0 326.0 L376.7 324.5 L377.4 322.8 L378.1 320.7 L378.8 318.6 L379.5 316.6 L380.2 314.9 L381.0 313.4 L381.8 312.0 L382.6 310.8 L383.4 310.0 L384.2 309.6 L385.0 309.8 L385.8 310.4 L386.6 311.4 L387.3 312.6 L388.1 314.0 L388.8 315.7 L389.5 317.7 L390.2 319.8 L390.8 321.9 L391.6 323.7 L392.4 325.3 L393.3 326.8 L394.2 328.1 L395.1 329.1 L396.0 329.8 L396.9 330.0 L397.7 329.9 L398.6 329.5 L399.4 328.8 L400.3 328.0 L401.2 326.9 L402.1 325.5 L402.9 323.9 L403.8 322.4 L404.7 321.0 L405.6 319.8 L406.5 318.6 L407.3 317.5 L408.2 316.6 L409.1 315.8 L410.0 315.2 L410.9 314.8 L411.7 314.4 L412.6 314.2 L413.5 314.0 L414.4 313.8 L415.2 313.6 L416.1 313.5 L417.0 313.5 L417.9 313.7 L418.9 314.0 L419.8 314.5 L420.9 315.1 L421.9 315.8 L423.1 316.6 L424.4 317.5 L425.7 318.6 L427.1 319.8 L428.6 320.9 L430.1 321.9 L431.6 322.8 L433.2 323.7 L434.9 324.5 L436.5 325.3 L438.0 325.9 L439.3 326.4 L440.4 326.8 L441.6 327.1 L443.0 327.3 L445.0 327.5 L447.9 327.6 L451.5 327.6 L455.3 327.6 L458.7 327.5 L461.0 327.5" fill="none" stroke="#1a1a1a" stroke-width="1.15" stroke-linejoin="round"/>
<path d="M319.8 349.3 L320.3 348.5 L320.9 347.4 L321.7 346.2 L322.5 345.0 L323.3 344.0 L324.0 343.3 L324.7 342.7 L325.4 342.3 L326.1 341.8 L326.8 341.4 L327.5 340.9 L328.2 340.4 L328.9 340.0 L329.6 339.7 L330.3 339.6 L331.0 339.7 L331.7 340.1 L332.3 340.5 L333.0 341.0 L333.8 341.4 L334.6 341.7 L335.5 342.0 L336.3 342.4 L337.2 342.7 L338.1 343.1 L339.0 343.6 L339.9 344.2 L340.7 344.8 L341.6 345.4 L342.5 345.8 L343.4 346.1 L344.3 346.4 L345.1 346.6 L346.0 346.7 L346.9 346.6 L347.8 346.3 L348.6 345.8 L349.5 345.2 L350.4 344.5 L351.3 344.0 L352.3 343.5 L353.4 342.9 L354.4 342.4 L355.5 342.0 L356.5 341.9 L357.4 342.0 L358.3 342.4 L359.2 342.9 L360.0 343.4 L360.9 344.0 L361.8 344.6 L362.7 345.3 L363.5 346.0 L364.4 346.7 L365.3 347.2 L366.2 347.5 L367.1 347.7 L368.0 347.9 L368.9 348.1 L369.7 348.4 L370.5 349.0 L371.2 349.4 L371.8 349.4 L372.5 349.4 L373.2 349.4 L373.9 349.4 L374.6 349.4 L375.3 349.4 L376.0 349.2 L376.7 348.4 L377.4 347.6 L378.1 346.6 L378.8 345.6 L379.5 344.7 L380.2 344.0 L380.9 343.4 L381.6 342.9 L382.2 342.5 L382.9 342.3 L383.7 342.3 L384.5 342.7 L385.4 343.3 L386.2 344.1 L387.2 345.0 L388.1 345.8 L389.1 346.6 L390.1 347.5 L391.2 348.4 L392.2 349.3 L393.3 349.4 L394.4 349.4 L395.5 349.4 L396.6 349.4 L397.7 349.4 L398.6 349.4 L399.4 349.4 L400.1 349.4 L400.7 349.4 L401.4 349.0 L402.1 347.5 L402.9 345.9 L403.7 344.2 L404.6 342.4 L405.5 340.8 L406.5 339.6 L407.7 338.8 L408.9 338.3 L410.3 338.1 L411.5 338.0 L412.6 337.9 L413.4 337.8 L414.1 337.8 L414.7 337.9 L415.3 338.2 L416.1 338.8 L417.0 339.7 L418.1 340.9 L419.1 342.2 L420.3 343.6 L421.4 344.9 L422.6 346.2 L423.9 347.5 L425.1 348.8 L426.4 349.4 L427.5 349.4 L428.5 349.4 L429.3 349.4 L430.1 349.4 L430.9 349.4 L431.9 349.4 L432.7 349.4 L433.4 349.4 L434.3 349.4 L435.7 349.4 L438.0 349.4 L441.9 349.4 L447.1 349.4 L452.6 349.4 L457.6 349.4 L461.0 349.4 L461.0 349.4 L319.8 349.4Z" fill="url(#hy_f0)"/>
<path d="M319.8 349.3 L320.3 348.5 L320.9 347.4 L321.7 346.2 L322.5 345.0 L323.3 344.0 L324.0 343.3 L324.7 342.7 L325.4 342.3 L326.1 341.8 L326.8 341.4 L327.5 340.9 L328.2 340.4 L328.9 340.0 L329.6 339.7 L330.3 339.6 L331.0 339.7 L331.7 340.1 L332.3 340.5 L333.0 341.0 L333.8 341.4 L334.6 341.7 L335.5 342.0 L336.3 342.4 L337.2 342.7 L338.1 343.1 L339.0 343.6 L339.9 344.2 L340.7 344.8 L341.6 345.4 L342.5 345.8 L343.4 346.1 L344.3 346.4 L345.1 346.6 L346.0 346.7 L346.9 346.6 L347.8 346.3 L348.6 345.8 L349.5 345.2 L350.4 344.5 L351.3 344.0 L352.3 343.5 L353.4 342.9 L354.4 342.4 L355.5 342.0 L356.5 341.9 L357.4 342.0 L358.3 342.4 L359.2 342.9 L360.0 343.4 L360.9 344.0 L361.8 344.6 L362.7 345.3 L363.5 346.0 L364.4 346.7 L365.3 347.2 L366.2 347.5 L367.1 347.7 L368.0 347.9 L368.9 348.1 L369.7 348.4 L370.5 349.0 L371.2 349.8 L371.8 350.5 L372.5 351.2 L373.2 351.4 L373.9 351.2 L374.6 350.7 L375.3 350.0 L376.0 349.2 L376.7 348.4 L377.4 347.6 L378.1 346.6 L378.8 345.6 L379.5 344.7 L380.2 344.0 L380.9 343.4 L381.6 342.9 L382.2 342.5 L382.9 342.3 L383.7 342.3 L384.5 342.7 L385.4 343.3 L386.2 344.1 L387.2 345.0 L388.1 345.8 L389.1 346.6 L390.1 347.5 L391.2 348.4 L392.2 349.3 L393.3 350.1 L394.4 351.0 L395.5 352.1 L396.6 353.0 L397.7 353.6 L398.6 353.7 L399.4 353.1 L400.1 352.0 L400.7 350.6 L401.4 349.0 L402.1 347.5 L402.9 345.9 L403.7 344.2 L404.6 342.4 L405.5 340.8 L406.5 339.6 L407.7 338.8 L408.9 338.3 L410.3 338.1 L411.5 338.0 L412.6 337.9 L413.4 337.8 L414.1 337.8 L414.7 337.9 L415.3 338.2 L416.1 338.8 L417.0 339.7 L418.1 340.9 L419.1 342.2 L420.3 343.6 L421.4 344.9 L422.6 346.2 L423.9 347.5 L425.1 348.8 L426.4 350.0 L427.5 351.0 L428.5 351.9 L429.3 352.6 L430.1 353.3 L430.9 353.8 L431.9 354.2 L432.7 354.5 L433.4 354.5 L434.3 354.5 L435.7 354.5 L438.0 354.5 L441.9 354.5 L447.1 354.5 L452.6 354.5 L457.6 354.5 L461.0 354.5" fill="none" stroke="#1a1a1a" stroke-width="1.15" stroke-linejoin="round"/>
<line x1="319.8" y1="237.6" x2="319.8" y2="363.8" stroke="#666" stroke-width="0.8"/>
<line x1="319.4" y1="363.6" x2="461.6" y2="363.6" stroke="#555" stroke-width="0.8"/>
<line x1="319.8" y1="363.6" x2="319.8" y2="361.2" stroke="#555" stroke-width="0.7"/>
<line x1="335.6" y1="363.6" x2="335.6" y2="361.2" stroke="#555" stroke-width="0.7"/>
<text x="335.55" y="373.8" font-size="7.7" text-anchor="middle" fill="#231f20" stroke="#231f20" stroke-width="0.22">60</text>
<line x1="351.3" y1="363.6" x2="351.3" y2="361.2" stroke="#555" stroke-width="0.7"/>
<line x1="367.1" y1="363.6" x2="367.1" y2="361.2" stroke="#555" stroke-width="0.7"/>
<text x="367.05" y="373.8" font-size="7.7" text-anchor="middle" fill="#231f20" stroke="#231f20" stroke-width="0.22">80</text>
<line x1="382.8" y1="363.6" x2="382.8" y2="361.2" stroke="#555" stroke-width="0.7"/>
<line x1="398.6" y1="363.6" x2="398.6" y2="361.2" stroke="#555" stroke-width="0.7"/>
<text x="398.55" y="373.8" font-size="7.7" text-anchor="middle" fill="#231f20" stroke="#231f20" stroke-width="0.22">100</text>
<line x1="414.3" y1="363.6" x2="414.3" y2="361.2" stroke="#555" stroke-width="0.7"/>
<line x1="430.1" y1="363.6" x2="430.1" y2="361.2" stroke="#555" stroke-width="0.7"/>
<text x="430.05" y="373.8" font-size="7.7" text-anchor="middle" fill="#231f20" stroke="#231f20" stroke-width="0.22">120</text>
<line x1="445.8" y1="363.6" x2="445.8" y2="361.2" stroke="#555" stroke-width="0.7"/>
<line x1="461.6" y1="363.6" x2="461.6" y2="361.2" stroke="#555" stroke-width="0.7"/>
<text x="391.0" y="385.6" font-size="7.7" text-anchor="middle" fill="#231f20" stroke="#231f20" stroke-width="0.22">Energy (meV)</text>
<text x="315.4" y="300.8" font-size="7.7" text-anchor="middle" fill="#231f20" transform="rotate(-90 315.4 300.8)" stroke="#231f20" stroke-width="0.22">Interface residual (a.u.)</text>
<text x="449.8" y="263.8" font-size="7.7" text-anchor="middle" fill="#231f20" stroke="#231f20" stroke-width="0.22">c</text>
<text x="449.8" y="297.6" font-size="7.7" text-anchor="middle" fill="#231f20" stroke="#231f20" stroke-width="0.22">d</text>
<text x="449.8" y="323.3" font-size="7.7" text-anchor="middle" fill="#231f20" stroke="#231f20" stroke-width="0.22">e</text>
<text x="449.8" y="349.6" font-size="7.7" text-anchor="middle" fill="#231f20" stroke="#231f20" stroke-width="0.22">f</text>
<text x="353.5" y="260.8" font-size="8.5" text-anchor="middle" fill="#333" font-family='Liberation Serif' stroke="#333" stroke-width="0.22">&#945;</text>
<text x="378.4" y="294.6" font-size="8.5" text-anchor="middle" fill="#333" font-family='Liberation Serif' stroke="#333" stroke-width="0.22">&#946;</text>
<path d="M500.8 111.0 L505.6 112.9 L510.4 110.7 L515.2 109.5 L520.0 105.5 L524.8 105.1 L529.6 101.7 L534.4 105.3 L539.2 96.6" fill="none" stroke="#2fcf68" stroke-width="0.55" stroke-opacity="0.75" stroke-linejoin="round"/>
<path d="M500.8 106.0 L505.6 105.3 L510.4 102.3 L515.2 100.4 L520.0 101.3 L524.8 100.0 L529.6 97.0 L534.4 99.0 L539.2 99.1" fill="none" stroke="#2fcf68" stroke-width="0.55" stroke-opacity="0.75" stroke-linejoin="round"/>
<path d="M500.8 108.8 L505.6 105.7 L510.4 104.1 L515.2 104.8 L520.0 104.6 L524.8 100.6 L529.6 98.0 L534.4 99.5 L539.2 99.7" fill="none" stroke="#2fcf68" stroke-width="0.55" stroke-opacity="0.75" stroke-linejoin="round"/>
<path d="M500.8 98.5 L505.6 96.4 L510.4 95.0 L515.2 97.2 L520.0 98.1 L524.8 95.3 L529.6 95.2 L534.4 93.1 L539.2 97.6" fill="none" stroke="#2fcf68" stroke-width="0.55" stroke-opacity="0.75" stroke-linejoin="round"/>
<path d="M500.8 101.2 L505.6 96.8 L510.4 95.4 L515.2 97.4 L520.0 92.5 L524.8 93.1 L529.6 92.9 L534.4 92.8 L539.2 91.1" fill="none" stroke="#2fcf68" stroke-width="0.55" stroke-opacity="0.75" stroke-linejoin="round"/>
<path d="M500.8 102.9 L505.6 107.3 L510.4 102.4 L515.2 103.2 L520.0 100.5 L524.8 102.5 L529.6 101.2 L534.4 99.9 L539.2 101.9" fill="none" stroke="#2fcf68" stroke-width="0.55" stroke-opacity="0.75" stroke-linejoin="round"/>
<path d="M500.8 102.9 L505.6 103.6 L510.4 98.8 L515.2 98.4 L520.0 98.5 L524.8 95.4 L529.6 92.7 L534.4 90.2 L539.2 95.6" fill="none" stroke="#2fcf68" stroke-width="0.55" stroke-opacity="0.75" stroke-linejoin="round"/>
<path d="M500.8 111.9 L505.6 112.7 L510.4 107.0 L515.2 111.1 L520.0 106.2 L524.8 103.6 L529.6 108.5 L534.4 104.8 L539.2 105.7" fill="none" stroke="#2fcf68" stroke-width="0.55" stroke-opacity="0.75" stroke-linejoin="round"/>
<path d="M500.8 103.8 L505.6 111.0 L510.4 108.1 L515.2 104.9 L520.0 102.6 L524.8 104.5 L529.6 106.3 L534.4 103.7 L539.2 103.8" fill="none" stroke="#2fcf68" stroke-width="0.55" stroke-opacity="0.75" stroke-linejoin="round"/>
<path d="M500.8 112.4 L505.6 111.1 L510.4 110.3 L515.2 109.0 L520.0 109.7 L524.8 106.5 L529.6 101.5 L534.4 102.8 L539.2 103.8" fill="none" stroke="#2fcf68" stroke-width="0.55" stroke-opacity="0.75" stroke-linejoin="round"/>
<path d="M500.8 104.6 L505.6 108.6 L510.4 109.5 L515.2 111.3 L520.0 105.5 L524.8 102.8 L529.6 109.5 L534.4 109.0 L539.2 106.3" fill="none" stroke="#2fcf68" stroke-width="0.55" stroke-opacity="0.75" stroke-linejoin="round"/>
<path d="M500.8 105.5 L505.6 103.3 L510.4 100.4 L515.2 101.5 L520.0 98.6 L524.8 100.2 L529.6 97.6 L534.4 101.5 L539.2 99.0" fill="none" stroke="#2fcf68" stroke-width="0.55" stroke-opacity="0.75" stroke-linejoin="round"/>
<path d="M500.8 103.5 L505.6 101.9 L510.4 98.7 L515.2 98.1 L520.0 96.0 L524.8 96.7 L529.6 96.3 L534.4 94.7 L539.2 92.6" fill="none" stroke="#2fcf68" stroke-width="0.55" stroke-opacity="0.75" stroke-linejoin="round"/>
<path d="M500.8 101.7 L505.6 99.9 L510.4 100.1 L515.2 102.3 L520.0 97.4 L524.8 95.8 L529.6 93.0 L534.4 93.0 L539.2 94.4" fill="none" stroke="#2fcf68" stroke-width="0.55" stroke-opacity="0.75" stroke-linejoin="round"/>
<path d="M500.8 102.3 L505.6 99.7 L510.4 98.7 L515.2 104.4 L520.0 101.5 L524.8 101.0 L529.6 100.4 L534.4 100.1 L539.2 100.4" fill="none" stroke="#2fcf68" stroke-width="0.55" stroke-opacity="0.75" stroke-linejoin="round"/>
<path d="M500.8 111.2 L505.6 110.0 L510.4 105.8 L515.2 104.6 L520.0 99.9 L524.8 97.1 L529.6 95.7 L534.4 93.2 L539.2 91.2" fill="none" stroke="#2fcf68" stroke-width="0.55" stroke-opacity="0.75" stroke-linejoin="round"/>
<path d="M500.8 83.4 L505.6 82.2 L510.4 81.4 L515.2 79.8 L520.0 79.0 L524.8 77.7 L529.6 77.7 L534.4 75.4 L539.2 75.3" fill="none" stroke="#2fcf68" stroke-width="0.55" stroke-opacity="0.75" stroke-linejoin="round"/>
<path d="M500.8 88.0 L505.6 86.6 L510.4 85.8 L515.2 84.3 L520.0 83.8 L524.8 83.1 L529.6 81.9 L534.4 79.6 L539.2 79.4" fill="none" stroke="#2fcf68" stroke-width="0.55" stroke-opacity="0.75" stroke-linejoin="round"/>
<path d="M500.8 90.6 L505.6 88.8 L510.4 88.6 L515.2 85.6 L520.0 86.4 L524.8 84.1 L529.6 83.0 L534.4 83.1 L539.2 81.0" fill="none" stroke="#2fcf68" stroke-width="0.55" stroke-opacity="0.75" stroke-linejoin="round"/>
<path d="M500.8 90.5 L505.6 89.8 L510.4 89.0 L515.2 87.7 L520.0 87.2 L524.8 86.1 L529.6 85.4 L534.4 84.0 L539.2 84.0" fill="none" stroke="#2fcf68" stroke-width="0.55" stroke-opacity="0.75" stroke-linejoin="round"/>
<path d="M500.8 92.3 L505.6 92.2 L510.4 91.7 L515.2 90.0 L520.0 88.3 L524.8 87.9 L529.6 87.9 L534.4 86.3 L539.2 86.1" fill="none" stroke="#2fcf68" stroke-width="0.55" stroke-opacity="0.75" stroke-linejoin="round"/>
<path d="M548.8 64.3 L553.6 41.1 L558.4 42.0 L563.2 38.3 L568.0 37.9 L572.8 35.4 L577.6 31.0 L582.4 23.2 L587.2 18.1" fill="none" stroke="#2fcf68" stroke-width="0.55" stroke-opacity="0.75" stroke-linejoin="round"/>
<path d="M548.8 60.0 L553.6 49.2 L558.4 41.9 L563.2 39.8 L568.0 41.1 L572.8 37.7 L577.6 35.6 L582.4 38.6 L587.2 39.1" fill="none" stroke="#2fcf68" stroke-width="0.55" stroke-opacity="0.75" stroke-linejoin="round"/>
<path d="M548.8 52.4 L553.6 31.7 L558.4 28.8 L563.2 34.4 L568.0 30.4 L572.8 29.0 L577.6 29.0 L582.4 27.3 L587.2 30.8" fill="none" stroke="#2fcf68" stroke-width="0.55" stroke-opacity="0.75" stroke-linejoin="round"/>
<path d="M548.8 61.1 L553.6 44.9 L558.4 38.4 L563.2 33.5 L568.0 33.2 L572.8 32.9 L577.6 23.8 L582.4 29.0 L587.2 20.9" fill="none" stroke="#2fcf68" stroke-width="0.55" stroke-opacity="0.75" stroke-linejoin="round"/>
<path d="M548.8 60.1 L553.6 38.6 L558.4 40.4 L563.2 32.7 L568.0 33.1 L572.8 34.8 L577.6 28.7 L582.4 23.3 L587.2 19.6" fill="none" stroke="#2fcf68" stroke-width="0.55" stroke-opacity="0.75" stroke-linejoin="round"/>
<path d="M548.8 62.1 L553.6 43.6 L558.4 38.4 L563.2 40.3 L568.0 38.8 L572.8 36.9 L577.6 40.5 L582.4 38.3 L587.2 30.6" fill="none" stroke="#2fcf68" stroke-width="0.55" stroke-opacity="0.75" stroke-linejoin="round"/>
<path d="M548.8 59.6 L553.6 41.6 L558.4 37.9 L563.2 39.1 L568.0 34.9 L572.8 38.8 L577.6 28.8 L582.4 32.7 L587.2 34.4" fill="none" stroke="#2fcf68" stroke-width="0.55" stroke-opacity="0.75" stroke-linejoin="round"/>
<path d="M548.8 57.0 L553.6 46.0 L558.4 40.4 L563.2 30.0 L568.0 43.3 L572.8 37.5 L577.6 38.4 L582.4 35.9 L587.2 40.7" fill="none" stroke="#2fcf68" stroke-width="0.55" stroke-opacity="0.75" stroke-linejoin="round"/>
<path d="M548.8 65.5 L553.6 38.9 L558.4 44.3 L563.2 40.3 L568.0 30.9 L572.8 40.2 L577.6 39.2 L582.4 35.2 L587.2 33.8" fill="none" stroke="#2fcf68" stroke-width="0.55" stroke-opacity="0.75" stroke-linejoin="round"/>
<path d="M548.8 63.7 L553.6 39.7 L558.4 31.8 L563.2 35.0 L568.0 46.1 L572.8 37.6 L577.6 38.9 L582.4 33.8 L587.2 35.3" fill="none" stroke="#2fcf68" stroke-width="0.55" stroke-opacity="0.75" stroke-linejoin="round"/>
<path d="M548.8 55.2 L553.6 33.9 L558.4 33.0 L563.2 30.3 L568.0 26.0 L572.8 26.7 L577.6 27.7 L582.4 21.4 L587.2 23.0" fill="none" stroke="#2fcf68" stroke-width="0.55" stroke-opacity="0.75" stroke-linejoin="round"/>
<path d="M548.8 54.9 L553.6 45.5 L558.4 49.2 L563.2 35.5 L568.0 34.3 L572.8 34.0 L577.6 27.7 L582.4 27.0 L587.2 24.6" fill="none" stroke="#2fcf68" stroke-width="0.55" stroke-opacity="0.75" stroke-linejoin="round"/>
<path d="M548.8 65.1 L553.6 39.4 L558.4 35.8 L563.2 34.1 L568.0 38.8 L572.8 38.9 L577.6 27.9 L582.4 26.6 L587.2 20.9" fill="none" stroke="#2fcf68" stroke-width="0.55" stroke-opacity="0.75" stroke-linejoin="round"/>
<path d="M548.8 56.0 L553.6 37.3 L558.4 33.8 L563.2 26.8 L568.0 23.9 L572.8 28.0 L577.6 15.1 L582.4 26.8 L587.2 22.1" fill="none" stroke="#2fcf68" stroke-width="0.55" stroke-opacity="0.75" stroke-linejoin="round"/>
<path d="M500.8 76.5 L501.7 76.5 L502.9 76.4 L504.3 76.3 L505.6 76.3 L506.8 76.5 L508.0 76.9 L509.2 77.2 L510.4 77.3 L511.6 77.2 L512.8 76.8 L514.0 76.4 L515.2 76.2 L516.4 76.2 L517.6 76.4 L518.8 76.6 L520.0 76.7 L521.2 76.7 L522.4 76.6 L523.6 76.4 L524.8 76.3 L526.0 76.0 L527.2 75.8 L528.4 75.5 L529.6 75.3 L530.8 75.1 L532.0 75.0 L533.2 74.8 L534.4 74.7 L535.7 74.4 L537.1 74.0 L538.3 73.7 L539.2 73.5" fill="none" stroke="#f4a3d4" stroke-width="0.55" stroke-opacity="0.7" stroke-linejoin="round"/>
<path d="M500.8 73.0 L501.7 72.9 L502.9 72.7 L504.3 72.6 L505.6 72.5 L506.8 72.5 L508.0 72.5 L509.2 72.6 L510.4 72.7 L511.6 72.8 L512.8 73.0 L514.0 73.2 L515.2 73.3 L516.4 73.4 L517.6 73.4 L518.8 73.4 L520.0 73.3 L521.2 73.0 L522.4 72.6 L523.6 72.2 L524.8 71.9 L526.0 71.9 L527.2 72.0 L528.4 72.1 L529.6 72.1 L530.8 71.8 L532.0 71.3 L533.2 70.9 L534.4 70.5 L535.7 70.3 L537.1 70.1 L538.3 70.0 L539.2 69.9" fill="none" stroke="#f4a3d4" stroke-width="0.55" stroke-opacity="0.7" stroke-linejoin="round"/>
<path d="M548.8 61.8 L549.7 61.8 L550.9 61.9 L552.3 62.0 L553.6 61.9 L554.8 61.8 L556.0 61.6 L557.2 61.3 L558.4 61.2 L559.6 61.1 L560.8 61.1 L562.0 61.1 L563.2 61.1 L564.4 60.9 L565.6 60.8 L566.8 60.7 L568.0 60.7 L569.2 61.1 L570.4 61.6 L571.6 62.1 L572.8 62.4 L574.0 62.4 L575.2 62.2 L576.4 62.0 L577.6 61.8 L578.8 61.7 L580.0 61.6 L581.2 61.5 L582.4 61.4 L583.7 61.0 L585.1 60.6 L586.3 60.2 L587.2 59.9" fill="none" stroke="#f4a3d4" stroke-width="0.6" stroke-opacity="0.9" stroke-linejoin="round"/>
<path d="M548.8 59.1 L549.7 58.6 L550.9 57.9 L552.3 57.1 L553.6 56.7 L554.8 56.7 L556.0 57.0 L557.2 57.4 L558.4 57.5 L559.6 57.4 L560.8 57.1 L562.0 56.8 L563.2 56.7 L564.4 56.8 L565.6 57.1 L566.8 57.4 L568.0 57.5 L569.2 57.4 L570.4 57.2 L571.6 57.0 L572.8 56.8 L574.0 56.5 L575.2 56.1 L576.4 55.8 L577.6 55.7 L578.8 55.8 L580.0 56.2 L581.2 56.5 L582.4 56.8 L583.7 56.8 L585.1 56.8 L586.3 56.7 L587.2 56.7" fill="none" stroke="#f4a3d4" stroke-width="0.6" stroke-opacity="0.9" stroke-linejoin="round"/>
<path d="M548.8 54.9 L549.7 55.1 L550.9 55.4 L552.3 55.7 L553.6 55.9 L554.8 55.7 L556.0 55.3 L557.2 54.9 L558.4 54.7 L559.6 54.8 L560.8 55.0 L562.0 55.2 L563.2 55.4 L564.4 55.6 L565.6 55.7 L566.8 55.9 L568.0 55.9 L569.2 55.8 L570.4 55.6 L571.6 55.4 L572.8 55.2 L574.0 55.2 L575.2 55.3 L576.4 55.4 L577.6 55.4 L578.8 55.2 L580.0 54.9 L581.2 54.7 L582.4 54.5 L583.7 54.6 L585.1 54.8 L586.3 55.1 L587.2 55.2" fill="none" stroke="#f4a3d4" stroke-width="0.6" stroke-opacity="0.9" stroke-linejoin="round"/>
<path d="M500.8 106.8 L502.5 106.2 L505.0 105.4 L507.8 104.4 L510.4 103.6 L512.8 103.0 L515.2 102.4 L517.6 101.8 L520.0 101.3 L522.4 100.7 L524.8 100.2 L527.2 99.6 L529.6 98.9 L532.2 98.1 L535.0 97.0 L537.5 96.1 L539.2 95.4" fill="none" stroke="#16773a" stroke-width="1.7" stroke-linejoin="round"/>
<path d="M548.8 57.2 L552.6 37.6 L559.8 36.7 L566.1 33.6 L570.9 30.5 L577.1 28.5 L581.9 30.1 L587.2 26.4" fill="none" stroke="#16773a" stroke-width="1.7" stroke-linejoin="round"/>
<path d="M500.8 73.5 L502.5 74.2 L505.0 75.1 L507.8 76.0 L510.4 76.5 L512.8 76.4 L515.2 76.0 L517.6 75.5 L520.0 74.9 L522.4 74.3 L524.8 73.5 L527.2 72.7 L529.6 71.9 L532.2 70.9 L535.0 69.8 L537.5 68.7 L539.2 68.0" fill="none" stroke="#d6138d" stroke-width="1.7" stroke-linejoin="round"/>
<path d="M548.3 62.7 L549.4 61.8 L551.0 60.5 L553.0 59.1 L555.0 58.1 L557.3 57.4 L559.9 56.9 L562.5 56.6 L565.1 56.6 L567.6 56.9 L570.0 57.6 L572.5 58.3 L575.2 59.0 L578.3 59.6 L581.8 60.1 L585.0 60.6 L587.2 61.0" fill="none" stroke="#d6138d" stroke-width="1.7" stroke-linejoin="round"/>
<path d="M594.4 27.2 L599.2 27.2 L604.0 29.5 L608.8 31.8 L613.6 33.2 L618.4 33.5 L623.2 31.3 L628.0 34.0 L632.8 38.4" fill="none" stroke="#2fcf68" stroke-width="0.55" stroke-opacity="0.75" stroke-linejoin="round"/>
<path d="M594.4 24.6 L599.2 29.6 L604.0 31.6 L608.8 30.2 L613.6 32.4 L618.4 37.9 L623.2 34.1 L628.0 32.6 L632.8 42.9" fill="none" stroke="#2fcf68" stroke-width="0.55" stroke-opacity="0.75" stroke-linejoin="round"/>
<path d="M594.4 20.0 L599.2 22.1 L604.0 27.9 L608.8 24.4 L613.6 29.1 L618.4 34.8 L623.2 36.5 L628.0 42.3 L632.8 42.4" fill="none" stroke="#2fcf68" stroke-width="0.55" stroke-opacity="0.75" stroke-linejoin="round"/>
<path d="M594.4 23.8 L599.2 24.4 L604.0 24.3 L608.8 25.5 L613.6 31.7 L618.4 34.3 L623.2 33.5 L628.0 37.4 L632.8 39.2" fill="none" stroke="#2fcf68" stroke-width="0.55" stroke-opacity="0.75" stroke-linejoin="round"/>
<path d="M594.4 26.2 L599.2 29.2 L604.0 29.3 L608.8 36.9 L613.6 34.5 L618.4 38.8 L623.2 32.6 L628.0 38.4 L632.8 41.7" fill="none" stroke="#2fcf68" stroke-width="0.55" stroke-opacity="0.75" stroke-linejoin="round"/>
<path d="M594.4 22.9 L599.2 23.0 L604.0 30.7 L608.8 29.6 L613.6 31.7 L618.4 39.2 L623.2 35.6 L628.0 36.8 L632.8 41.7" fill="none" stroke="#2fcf68" stroke-width="0.55" stroke-opacity="0.75" stroke-linejoin="round"/>
<path d="M594.4 35.0 L599.2 32.6 L604.0 31.8 L608.8 38.5 L613.6 34.7 L618.4 39.4 L623.2 44.7 L628.0 41.5 L632.8 44.9" fill="none" stroke="#2fcf68" stroke-width="0.55" stroke-opacity="0.75" stroke-linejoin="round"/>
<path d="M594.4 18.8 L599.2 25.4 L604.0 25.3 L608.8 29.9 L613.6 31.7 L618.4 30.6 L623.2 35.3 L628.0 39.2 L632.8 43.6" fill="none" stroke="#2fcf68" stroke-width="0.55" stroke-opacity="0.75" stroke-linejoin="round"/>
<path d="M594.4 19.7 L599.2 20.8 L604.0 26.3 L608.8 28.7 L613.6 30.7 L618.4 30.5 L623.2 33.1 L628.0 38.0 L632.8 37.0" fill="none" stroke="#2fcf68" stroke-width="0.55" stroke-opacity="0.75" stroke-linejoin="round"/>
<path d="M594.4 16.5 L599.2 22.0 L604.0 24.0 L608.8 25.0 L613.6 28.6 L618.4 29.1 L623.2 36.2 L628.0 32.4 L632.8 39.9" fill="none" stroke="#2fcf68" stroke-width="0.55" stroke-opacity="0.75" stroke-linejoin="round"/>
<path d="M594.4 22.2 L599.2 20.5 L604.0 21.9 L608.8 25.2 L613.6 28.7 L618.4 37.2 L623.2 38.3 L628.0 40.5 L632.8 44.5" fill="none" stroke="#2fcf68" stroke-width="0.55" stroke-opacity="0.75" stroke-linejoin="round"/>
<path d="M594.4 23.6 L599.2 24.5 L604.0 30.0 L608.8 32.0 L613.6 34.1 L618.4 33.0 L623.2 35.4 L628.0 37.0 L632.8 37.9" fill="none" stroke="#2fcf68" stroke-width="0.55" stroke-opacity="0.75" stroke-linejoin="round"/>
<path d="M594.4 20.3 L599.2 26.6 L604.0 27.4 L608.8 26.6 L613.6 29.1 L618.4 31.9 L623.2 37.1 L628.0 40.5 L632.8 40.2" fill="none" stroke="#2fcf68" stroke-width="0.55" stroke-opacity="0.75" stroke-linejoin="round"/>
<path d="M594.4 21.3 L599.2 27.4 L604.0 30.2 L608.8 30.9 L613.6 31.7 L618.4 34.1 L623.2 37.0 L628.0 38.3 L632.8 45.5" fill="none" stroke="#2fcf68" stroke-width="0.55" stroke-opacity="0.75" stroke-linejoin="round"/>
<path d="M594.4 21.6 L599.2 24.7 L604.0 26.6 L608.8 28.1 L613.6 28.5 L618.4 32.7 L623.2 31.9 L628.0 30.7 L632.8 37.2" fill="none" stroke="#2fcf68" stroke-width="0.55" stroke-opacity="0.75" stroke-linejoin="round"/>
<path d="M594.4 15.7 L604.0 18.6 L608.8 13.4 L613.6 18.1 L623.2 22.1 L628.0 19.8 L632.8 20.4" fill="none" stroke="#2fcf68" stroke-width="0.55" stroke-opacity="0.75" stroke-linejoin="round"/>
<path d="M594.4 39.5 L599.2 41.2 L604.0 43.1 L608.8 43.7 L613.6 45.2 L618.4 45.3 L623.2 47.5 L628.0 47.1 L632.8 48.7" fill="none" stroke="#2fcf68" stroke-width="0.55" stroke-opacity="0.75" stroke-linejoin="round"/>
<path d="M594.4 42.6 L599.2 42.1 L604.0 42.7 L608.8 45.2 L613.6 45.2 L618.4 47.9 L623.2 47.8 L628.0 50.1 L632.8 49.9" fill="none" stroke="#2fcf68" stroke-width="0.55" stroke-opacity="0.75" stroke-linejoin="round"/>
<path d="M594.4 43.6 L599.2 44.9 L604.0 43.8 L608.8 43.4 L613.6 45.9 L618.4 45.8 L623.2 46.9 L628.0 47.9 L632.8 48.1" fill="none" stroke="#2fcf68" stroke-width="0.55" stroke-opacity="0.75" stroke-linejoin="round"/>
<path d="M594.4 50.4 L599.2 52.7 L604.0 52.3 L608.8 53.0 L613.6 54.7 L618.4 53.5 L623.2 53.9 L628.0 56.2 L632.8 55.3" fill="none" stroke="#2fcf68" stroke-width="0.55" stroke-opacity="0.75" stroke-linejoin="round"/>
<path d="M642.4 97.0 L647.2 100.2 L652.0 100.7 L656.8 98.9 L661.6 100.0 L666.4 101.5 L671.2 106.8 L676.0 107.8 L680.8 102.9" fill="none" stroke="#2fcf68" stroke-width="0.55" stroke-opacity="0.75" stroke-linejoin="round"/>
<path d="M642.4 98.8 L647.2 97.9 L652.0 101.1 L656.8 96.2 L661.6 102.6 L666.4 101.7 L671.2 102.8 L676.0 100.9 L680.8 107.3" fill="none" stroke="#2fcf68" stroke-width="0.55" stroke-opacity="0.75" stroke-linejoin="round"/>
<path d="M642.4 93.7 L647.2 95.7 L652.0 99.5 L656.8 100.0 L661.6 103.1 L666.4 103.3 L671.2 106.3 L676.0 109.3 L680.8 109.9" fill="none" stroke="#2fcf68" stroke-width="0.55" stroke-opacity="0.75" stroke-linejoin="round"/>
<path d="M642.4 98.1 L647.2 98.3 L652.0 97.8 L656.8 106.9 L661.6 108.1 L666.4 108.8 L671.2 108.5 L676.0 105.1 L680.8 111.2" fill="none" stroke="#2fcf68" stroke-width="0.55" stroke-opacity="0.75" stroke-linejoin="round"/>
<path d="M642.4 90.5 L647.2 99.9 L652.0 100.6 L656.8 94.8 L661.6 97.5 L666.4 101.5 L671.2 97.6 L676.0 104.0 L680.8 99.6" fill="none" stroke="#2fcf68" stroke-width="0.55" stroke-opacity="0.75" stroke-linejoin="round"/>
<path d="M642.4 97.3 L647.2 94.6 L652.0 99.8 L656.8 97.0 L661.6 102.5 L666.4 99.6 L671.2 102.3 L676.0 104.6 L680.8 106.8" fill="none" stroke="#2fcf68" stroke-width="0.55" stroke-opacity="0.75" stroke-linejoin="round"/>
<path d="M642.4 100.5 L647.2 101.2 L652.0 99.4 L656.8 103.8 L661.6 98.1 L666.4 102.7 L671.2 104.8 L676.0 100.1 L680.8 100.0" fill="none" stroke="#2fcf68" stroke-width="0.55" stroke-opacity="0.75" stroke-linejoin="round"/>
<path d="M642.4 98.6 L647.2 100.7 L652.0 100.6 L656.8 97.4 L661.6 100.4 L666.4 101.6 L671.2 101.8 L676.0 103.3 L680.8 102.1" fill="none" stroke="#2fcf68" stroke-width="0.55" stroke-opacity="0.75" stroke-linejoin="round"/>
<path d="M642.4 100.2 L647.2 96.4 L652.0 101.5 L656.8 103.7 L661.6 100.1 L666.4 105.2 L671.2 108.5 L676.0 105.8 L680.8 110.0" fill="none" stroke="#2fcf68" stroke-width="0.55" stroke-opacity="0.75" stroke-linejoin="round"/>
<path d="M642.4 102.7 L647.2 104.9 L652.0 105.4 L656.8 106.4 L661.6 103.7 L666.4 108.5 L671.2 109.1 L676.0 104.7 L680.8 110.9" fill="none" stroke="#2fcf68" stroke-width="0.55" stroke-opacity="0.75" stroke-linejoin="round"/>
<path d="M642.4 99.6 L647.2 103.0 L652.0 100.1 L656.8 100.6 L661.6 100.9 L666.4 103.6 L671.2 102.2 L676.0 102.7 L680.8 108.6" fill="none" stroke="#2fcf68" stroke-width="0.55" stroke-opacity="0.75" stroke-linejoin="round"/>
<path d="M642.4 102.9 L647.2 103.3 L652.0 99.6 L656.8 102.3 L661.6 108.9 L666.4 105.9 L671.2 107.3 L676.0 108.2 L680.8 109.8" fill="none" stroke="#2fcf68" stroke-width="0.55" stroke-opacity="0.75" stroke-linejoin="round"/>
<path d="M594.4 64.0 L595.3 63.7 L596.5 63.2 L597.9 62.7 L599.2 62.4 L600.4 62.6 L601.6 63.0 L602.8 63.4 L604.0 63.7 L605.2 63.7 L606.4 63.6 L607.6 63.4 L608.8 63.3 L610.0 63.3 L611.2 63.3 L612.4 63.4 L613.6 63.5 L614.8 63.5 L616.0 63.6 L617.2 63.6 L618.4 63.5 L619.6 63.3 L620.8 63.0 L622.0 62.7 L623.2 62.5 L624.4 62.5 L625.6 62.5 L626.8 62.6 L628.0 62.8 L629.3 62.9 L630.7 63.1 L631.9 63.4 L632.8 63.5" fill="none" stroke="#f4a3d4" stroke-width="0.6" stroke-opacity="0.9" stroke-linejoin="round"/>
<path d="M642.4 78.4 L643.3 78.4 L644.5 78.4 L645.9 78.3 L647.2 78.2 L648.4 78.1 L649.6 77.8 L650.8 77.5 L652.0 77.4 L653.2 77.5 L654.4 77.7 L655.6 78.0 L656.8 78.2 L658.0 78.2 L659.2 78.2 L660.4 78.2 L661.6 78.3 L662.8 78.4 L664.0 78.6 L665.2 78.7 L666.4 78.9 L667.6 78.9 L668.8 79.0 L670.0 79.0 L671.2 79.0 L672.4 78.9 L673.6 78.8 L674.8 78.7 L676.0 78.8 L677.3 79.1 L678.7 79.6 L679.9 80.1 L680.8 80.4" fill="none" stroke="#f4a3d4" stroke-width="0.6" stroke-opacity="0.9" stroke-linejoin="round"/>
<path d="M594.4 57.2 L595.3 57.6 L596.5 58.1 L597.9 58.6 L599.2 58.9 L600.4 59.0 L601.6 59.0 L602.8 58.9 L604.0 58.8 L605.2 58.5 L606.4 58.0 L607.6 57.6 L608.8 57.4 L610.0 57.5 L611.2 57.7 L612.4 58.0 L613.6 58.2 L614.8 58.3 L616.0 58.3 L617.2 58.3 L618.4 58.3 L619.6 58.4 L620.8 58.5 L622.0 58.6 L623.2 58.8 L624.4 59.0 L625.6 59.2 L626.8 59.4 L628.0 59.5 L629.3 59.2 L630.7 58.9 L631.9 58.5 L632.8 58.2" fill="none" stroke="#f4a3d4" stroke-width="0.6" stroke-opacity="0.9" stroke-linejoin="round"/>
<path d="M642.4 73.2 L643.3 73.5 L644.5 74.1 L645.9 74.6 L647.2 74.8 L648.4 74.6 L649.6 74.1 L650.8 73.6 L652.0 73.4 L653.2 73.7 L654.4 74.3 L655.6 74.9 L656.8 75.3 L658.0 75.5 L659.2 75.4 L660.4 75.3 L661.6 75.2 L662.8 75.1 L664.0 74.8 L665.2 74.6 L666.4 74.5 L667.6 74.6 L668.8 74.8 L670.0 75.0 L671.2 75.1 L672.4 75.0 L673.6 74.9 L674.8 74.7 L676.0 74.7 L677.3 75.0 L678.7 75.3 L679.9 75.7 L680.8 75.9" fill="none" stroke="#f4a3d4" stroke-width="0.6" stroke-opacity="0.9" stroke-linejoin="round"/>
<path d="M594.4 57.3 L595.3 57.5 L596.5 57.6 L597.9 57.8 L599.2 57.9 L600.4 57.9 L601.6 57.7 L602.8 57.6 L604.0 57.4 L605.2 57.4 L606.4 57.4 L607.6 57.3 L608.8 57.4 L610.0 57.4 L611.2 57.6 L612.4 57.6 L613.6 57.6 L614.8 57.4 L616.0 57.0 L617.2 56.6 L618.4 56.4 L619.6 56.4 L620.8 56.6 L622.0 56.8 L623.2 57.1 L624.4 57.4 L625.6 57.8 L626.8 58.0 L628.0 58.0 L629.3 57.4 L630.7 56.5 L631.9 55.5 L632.8 54.9" fill="none" stroke="#f4a3d4" stroke-width="0.6" stroke-opacity="0.9" stroke-linejoin="round"/>
<path d="M642.4 73.2 L643.3 73.3 L644.5 73.5 L645.9 73.7 L647.2 73.7 L648.4 73.4 L649.6 72.9 L650.8 72.4 L652.0 72.1 L653.2 72.0 L654.4 72.0 L655.6 72.1 L656.8 72.3 L658.0 72.7 L659.2 73.2 L660.4 73.7 L661.6 74.1 L662.8 74.3 L664.0 74.4 L665.2 74.5 L666.4 74.5 L667.6 74.5 L668.8 74.5 L670.0 74.5 L671.2 74.4 L672.4 74.1 L673.6 73.6 L674.8 73.2 L676.0 73.0 L677.3 73.2 L678.7 73.6 L679.9 74.0 L680.8 74.2" fill="none" stroke="#f4a3d4" stroke-width="0.6" stroke-opacity="0.9" stroke-linejoin="round"/>
<path d="M594.4 30.5 L595.3 30.7 L596.7 31.1 L598.3 31.5 L600.2 32.1 L602.3 32.7 L604.7 33.5 L607.2 34.3 L609.8 35.1 L612.2 36.0 L614.6 36.8 L617.1 37.7 L619.8 38.7 L623.2 39.8 L627.0 41.0 L630.4 42.1 L632.8 42.8" fill="none" stroke="#16773a" stroke-width="1.7" stroke-linejoin="round"/>
<path d="M642.4 94.3 L643.1 95.0 L644.1 95.9 L645.2 97.0 L646.2 98.1 L647.2 99.1 L648.1 100.1 L649.1 101.1 L650.1 102.0 L651.2 102.7 L652.4 103.2 L653.6 103.7 L654.9 103.9 L656.2 103.8 L657.5 103.5 L658.9 103.2 L660.2 103.0 L661.4 103.1 L662.6 103.3 L663.8 103.6 L665.0 103.9 L666.1 104.2 L667.3 104.4 L668.5 104.7 L669.8 105.1 L671.0 105.5 L672.3 106.0 L673.7 106.5 L675.0 107.0 L676.6 107.6 L678.2 108.4 L679.8 109.0 L680.8 109.5" fill="none" stroke="#16773a" stroke-width="1.7" stroke-linejoin="round"/>
<path d="M594.4 60.0 L597.3 59.6 L601.5 59.1 L605.9 58.7 L609.8 58.5 L612.6 58.6 L614.9 59.0 L617.2 59.5 L619.8 60.0 L623.2 60.6 L627.0 61.3 L630.4 61.9 L632.8 62.3" fill="none" stroke="#d6138d" stroke-width="1.7" stroke-linejoin="round"/>
<path d="M642.4 75.5 L645.4 75.7 L649.7 75.9 L654.7 76.2 L659.7 76.5 L665.2 76.7 L671.3 76.9 L676.9 77.1 L680.8 77.2" fill="none" stroke="#d6138d" stroke-width="1.7" stroke-linejoin="round"/>
<circle cx="549.5" cy="53.2" r="6.9" fill="none" stroke="#222" stroke-width="0.8" stroke-dasharray="1.4 0.9"/>
<circle cx="646.3" cy="98.4" r="6.9" fill="none" stroke="#222" stroke-width="0.8" stroke-dasharray="1.4 0.9"/>
<line x1="500.7" y1="9.2" x2="500.7" y2="126.5" stroke="#666" stroke-width="0.8"/>
<line x1="500.3" y1="126.1" x2="587.3" y2="126.1" stroke="#666" stroke-width="0.8"/>
<line x1="500.7" y1="126.1" x2="502.7" y2="126.1" stroke="#666" stroke-width="0.7"/>
<line x1="500.7" y1="96.9" x2="502.7" y2="96.9" stroke="#666" stroke-width="0.7"/>
<line x1="500.7" y1="67.7" x2="502.7" y2="67.7" stroke="#666" stroke-width="0.7"/>
<line x1="500.7" y1="38.5" x2="502.7" y2="38.5" stroke="#666" stroke-width="0.7"/>
<line x1="594.6" y1="9.2" x2="594.6" y2="126.5" stroke="#666" stroke-width="0.8"/>
<line x1="594.2" y1="126.1" x2="681.0" y2="126.1" stroke="#666" stroke-width="0.8"/>
<line x1="594.6" y1="126.1" x2="596.6" y2="126.1" stroke="#666" stroke-width="0.7"/>
<line x1="594.6" y1="96.9" x2="596.6" y2="96.9" stroke="#666" stroke-width="0.7"/>
<line x1="594.6" y1="67.7" x2="596.6" y2="67.7" stroke="#666" stroke-width="0.7"/>
<line x1="594.6" y1="38.5" x2="596.6" y2="38.5" stroke="#666" stroke-width="0.7"/>
<line x1="505.6" y1="126.1" x2="505.6" y2="124.0" stroke="#666" stroke-width="0.7"/>
<text x="505.6" y="136.4" font-size="7.7" text-anchor="middle" fill="#231f20" stroke="#231f20" stroke-width="0.22">&#8722;8</text>
<line x1="515.2" y1="126.1" x2="515.2" y2="125.0" stroke="#666" stroke-width="0.7"/>
<line x1="524.8" y1="126.1" x2="524.8" y2="124.0" stroke="#666" stroke-width="0.7"/>
<text x="524.8" y="136.4" font-size="7.7" text-anchor="middle" fill="#231f20" stroke="#231f20" stroke-width="0.22">&#8722;4</text>
<line x1="534.4" y1="126.1" x2="534.4" y2="125.0" stroke="#666" stroke-width="0.7"/>
<line x1="544.0" y1="126.1" x2="544.0" y2="124.0" stroke="#666" stroke-width="0.7"/>
<text x="544.0" y="136.4" font-size="7.7" text-anchor="middle" fill="#231f20" stroke="#231f20" stroke-width="0.22">0</text>
<line x1="553.6" y1="126.1" x2="553.6" y2="125.0" stroke="#666" stroke-width="0.7"/>
<line x1="563.2" y1="126.1" x2="563.2" y2="124.0" stroke="#666" stroke-width="0.7"/>
<text x="563.2" y="136.4" font-size="7.7" text-anchor="middle" fill="#231f20" stroke="#231f20" stroke-width="0.22">4</text>
<line x1="572.8" y1="126.1" x2="572.8" y2="125.0" stroke="#666" stroke-width="0.7"/>
<line x1="582.4" y1="126.1" x2="582.4" y2="124.0" stroke="#666" stroke-width="0.7"/>
<text x="582.4" y="136.4" font-size="7.7" text-anchor="middle" fill="#231f20" stroke="#231f20" stroke-width="0.22">8</text>
<text x="543.52" y="147.6" font-size="7.7" text-anchor="middle" fill="#231f20" stroke="#231f20" stroke-width="0.22">Position (nm)</text>
<line x1="599.2" y1="126.1" x2="599.2" y2="124.0" stroke="#666" stroke-width="0.7"/>
<text x="599.2" y="136.4" font-size="7.7" text-anchor="middle" fill="#231f20" stroke="#231f20" stroke-width="0.22">&#8722;8</text>
<line x1="608.8" y1="126.1" x2="608.8" y2="125.0" stroke="#666" stroke-width="0.7"/>
<line x1="618.4" y1="126.1" x2="618.4" y2="124.0" stroke="#666" stroke-width="0.7"/>
<text x="618.4" y="136.4" font-size="7.7" text-anchor="middle" fill="#231f20" stroke="#231f20" stroke-width="0.22">&#8722;4</text>
<line x1="628.0" y1="126.1" x2="628.0" y2="125.0" stroke="#666" stroke-width="0.7"/>
<line x1="637.6" y1="126.1" x2="637.6" y2="124.0" stroke="#666" stroke-width="0.7"/>
<text x="637.6" y="136.4" font-size="7.7" text-anchor="middle" fill="#231f20" stroke="#231f20" stroke-width="0.22">0</text>
<line x1="647.2" y1="126.1" x2="647.2" y2="125.0" stroke="#666" stroke-width="0.7"/>
<line x1="656.8" y1="126.1" x2="656.8" y2="124.0" stroke="#666" stroke-width="0.7"/>
<text x="656.8000000000001" y="136.4" font-size="7.7" text-anchor="middle" fill="#231f20" stroke="#231f20" stroke-width="0.22">4</text>
<line x1="666.4" y1="126.1" x2="666.4" y2="125.0" stroke="#666" stroke-width="0.7"/>
<line x1="676.0" y1="126.1" x2="676.0" y2="124.0" stroke="#666" stroke-width="0.7"/>
<text x="676.0" y="136.4" font-size="7.7" text-anchor="middle" fill="#231f20" stroke="#231f20" stroke-width="0.22">8</text>
<text x="637.12" y="147.6" font-size="7.7" text-anchor="middle" fill="#231f20" stroke="#231f20" stroke-width="0.22">Position (nm)</text>
<text x="497.6" y="128.79999999999998" font-size="7.7" text-anchor="end" fill="#231f20" stroke="#231f20" stroke-width="0.22">300</text>
<text x="497.6" y="99.6" font-size="7.7" text-anchor="end" fill="#231f20" stroke="#231f20" stroke-width="0.22">350</text>
<text x="497.6" y="70.39999999999999" font-size="7.7" text-anchor="end" fill="#231f20" stroke="#231f20" stroke-width="0.22">400</text>
<text x="497.6" y="41.2" font-size="7.7" text-anchor="end" fill="#231f20" stroke="#231f20" stroke-width="0.22">450</text>
<text x="477.9" y="67.4" font-size="7.7" text-anchor="middle" fill="#231f20" transform="rotate(-90 477.9 67.4)" stroke="#231f20" stroke-width="0.22">Modal temperature (K)</text>
<line x1="503.7" y1="17.3" x2="512.5" y2="17.3" stroke="#2fbf62" stroke-width="1.4"/>
<line x1="503.7" y1="25.8" x2="512.5" y2="25.8" stroke="#f5a6d6" stroke-width="1.4"/>
<text x="515.2" y="20.0" font-size="7.7" text-anchor="start" fill="#231f20" stroke="#231f20" stroke-width="0.22">Optical</text>
<text x="515.2" y="28.5" font-size="7.7" text-anchor="start" fill="#231f20" stroke="#231f20" stroke-width="0.22">Acoustic</text>
<text x="526.7" y="122.2" font-size="7.7" text-anchor="middle" fill="#231f20" stroke="#231f20" stroke-width="0.22">SiC</text>
<text x="559.2" y="122.2" font-size="7.7" text-anchor="middle" fill="#231f20" stroke="#231f20" stroke-width="0.22">AlN</text>
<line x1="550.3" y1="119.5" x2="538.6" y2="119.5" stroke="#111" stroke-width="0.9"/>
<path d="M535.6 119.5 L539.8000000000001 117.6 L538.8000000000001 119.5 L539.8000000000001 121.4Z" fill="#111"/>
<text x="620.2" y="122.2" font-size="7.7" text-anchor="middle" fill="#231f20" stroke="#231f20" stroke-width="0.22">SiC</text>
<text x="655.1" y="122.2" font-size="7.7" text-anchor="middle" fill="#231f20" stroke="#231f20" stroke-width="0.22">AlN</text>
<line x1="629.0" y1="119.5" x2="642.5" y2="119.5" stroke="#111" stroke-width="0.9"/>
<path d="M645.5 119.5 L641.3 117.6 L642.3 119.5 L641.3 121.4Z" fill="#111"/>
<rect x="501.2" y="170.7" width="30.6" height="36.3" fill="#a9eaf3"/>
<rect x="501.2" y="238" width="30.6" height="120.6" fill="url(#jblue)"/>
<rect x="556.4" y="184.9" width="30.2" height="49.4" fill="#f3e5c9"/>
<rect x="556.4" y="250.3" width="30.2" height="108.3" fill="url(#jred)"/>
<rect x="594.8" y="170.7" width="29.7" height="36.3" fill="#f3e5c9"/>
<rect x="594.8" y="238.3" width="29.7" height="120.3" fill="url(#jred)"/>
<rect x="649.7" y="185.2" width="31.3" height="49" fill="#a9eaf3"/>
<rect x="649.7" y="250.3" width="31.3" height="108.3" fill="url(#jblue)"/>
<path d="M501.4 180.8 L501.8 180.1 L502.3 179.1 L503.0 178.0 L503.7 176.9 L504.4 176.0 L505.1 175.2 L505.7 174.5 L506.5 173.8 L507.3 173.2 L508.4 172.8 L509.8 172.5 L511.3 172.3 L513.1 172.2 L514.8 172.2 L516.5 172.2 L518.2 172.2 L519.9 172.2 L521.7 172.3 L523.2 172.5 L524.6 172.8 L525.7 173.2 L526.5 173.8 L527.3 174.5 L527.9 175.2 L528.6 176.0 L529.3 176.9 L530.0 178.0 L530.7 179.1 L531.2 180.1 L531.6 180.8" fill="none" stroke="#45dcf0" stroke-width="1.6900000000000002" stroke-linejoin="round" stroke-linecap="round"/>
<path d="M501.4 194.5 L501.9 194.2 L502.7 193.8 L503.6 193.4 L504.5 192.8 L505.4 192.0 L506.2 191.0 L507.0 189.9 L507.8 188.7 L508.6 187.4 L509.4 186.0 L510.2 184.5 L511.1 182.9 L511.9 181.2 L512.7 179.7 L513.5 178.5 L514.2 177.7 L514.8 177.0 L515.4 176.6 L515.9 176.4 L516.5 176.3 L517.1 176.4 L517.6 176.6 L518.2 177.0 L518.8 177.7 L519.5 178.5 L520.3 179.7 L521.1 181.2 L521.9 182.9 L522.8 184.5 L523.6 186.0 L524.4 187.4 L525.2 188.7 L526.0 189.9 L526.8 191.0 L527.6 192.0 L528.5 192.8 L529.4 193.4 L530.3 193.8 L531.1 194.2 L531.6 194.5" fill="none" stroke="#45dcf0" stroke-width="1.6900000000000002" stroke-linejoin="round" stroke-linecap="round"/>
<path d="M501.4 181.0 L501.9 181.1 L502.7 181.2 L503.5 181.3 L504.5 181.6 L505.4 182.0 L506.3 182.7 L507.3 183.7 L508.3 184.7 L509.3 185.7 L510.4 186.5 L511.5 187.2 L512.8 187.8 L514.0 188.3 L515.3 188.7 L516.5 188.8 L517.7 188.7 L519.0 188.3 L520.2 187.8 L521.5 187.2 L522.6 186.5 L523.7 185.7 L524.7 184.7 L525.7 183.7 L526.7 182.7 L527.6 182.0 L528.5 181.6 L529.5 181.3 L530.3 181.2 L531.1 181.1 L531.6 181.0" fill="none" stroke="#45dcf0" stroke-width="1.6900000000000002" stroke-linejoin="round" stroke-linecap="round"/>
<path d="M501.4 194.8 L503.5 194.9 L506.4 195.1 L509.7 195.4 L513.2 195.5 L516.5 195.6 L519.8 195.5 L523.3 195.4 L526.6 195.1 L529.5 194.9 L531.6 194.8" fill="none" stroke="#22c0f4" stroke-width="1.56" stroke-linejoin="round" stroke-linecap="round"/>
<path d="M501.4 199.4 L503.5 199.5 L506.4 199.6 L509.7 199.7 L513.2 199.9 L516.5 199.9 L519.8 199.9 L523.3 199.7 L526.6 199.6 L529.5 199.5 L531.6 199.4" fill="none" stroke="#22c0f4" stroke-width="2.3400000000000003" stroke-linejoin="round" stroke-linecap="round"/>
<path d="M501.4 204.0 L502.3 204.1 L503.6 204.3 L505.2 204.6 L506.8 204.8 L508.4 205.0 L509.9 205.2 L511.6 205.5 L513.2 205.7 L514.9 205.9 L516.5 206.0 L518.1 205.9 L519.8 205.7 L521.4 205.5 L523.1 205.2 L524.6 205.0 L526.2 204.8 L527.8 204.6 L529.4 204.3 L530.7 204.1 L531.6 204.0" fill="none" stroke="#1a98f2" stroke-width="1.8199999999999998" stroke-linejoin="round" stroke-linecap="round"/>
<path d="M595.0 180.8 L595.4 180.1 L595.9 179.1 L596.6 178.0 L597.3 176.9 L598.0 176.0 L598.7 175.2 L599.4 174.5 L600.1 173.8 L601.0 173.2 L602.0 172.8 L603.3 172.5 L604.8 172.3 L606.4 172.2 L608.1 172.2 L609.6 172.2 L611.2 172.2 L612.9 172.2 L614.5 172.3 L616.0 172.5 L617.3 172.8 L618.3 173.2 L619.2 173.8 L619.9 174.5 L620.6 175.2 L621.3 176.0 L622.0 176.9 L622.7 178.0 L623.4 179.1 L623.9 180.1 L624.3 180.8" fill="none" stroke="#f6951f" stroke-width="1.6900000000000002" stroke-linejoin="round" stroke-linecap="round"/>
<path d="M595.0 194.5 L595.5 194.2 L596.3 193.8 L597.2 193.4 L598.1 192.8 L599.0 192.0 L599.8 191.0 L600.6 189.9 L601.4 188.7 L602.2 187.4 L603.0 186.0 L603.8 184.5 L604.5 182.9 L605.3 181.2 L606.0 179.7 L606.6 178.5 L607.3 177.7 L607.9 177.0 L608.5 176.6 L609.1 176.4 L609.6 176.3 L610.2 176.4 L610.8 176.6 L611.4 177.0 L612.0 177.7 L612.6 178.5 L613.3 179.7 L614.0 181.2 L614.8 182.9 L615.5 184.5 L616.3 186.0 L617.1 187.4 L617.9 188.7 L618.7 189.9 L619.5 191.0 L620.3 192.0 L621.2 192.8 L622.1 193.4 L623.0 193.8 L623.8 194.2 L624.3 194.5" fill="none" stroke="#f6951f" stroke-width="1.6900000000000002" stroke-linejoin="round" stroke-linecap="round"/>
<path d="M595.0 181.0 L595.5 181.1 L596.3 181.2 L597.1 181.3 L598.1 181.6 L599.0 182.0 L599.9 182.7 L600.9 183.7 L601.9 184.7 L602.9 185.7 L604.0 186.5 L605.1 187.2 L606.2 187.8 L607.4 188.3 L608.5 188.7 L609.6 188.8 L610.8 188.7 L611.9 188.3 L613.1 187.8 L614.2 187.2 L615.3 186.5 L616.4 185.7 L617.4 184.7 L618.4 183.7 L619.4 182.7 L620.3 182.0 L621.2 181.6 L622.2 181.3 L623.0 181.2 L623.8 181.1 L624.3 181.0" fill="none" stroke="#f6951f" stroke-width="1.6900000000000002" stroke-linejoin="round" stroke-linecap="round"/>
<path d="M595.0 194.8 L597.0 194.9 L599.8 195.1 L603.1 195.4 L606.5 195.5 L609.6 195.6 L612.8 195.5 L616.2 195.4 L619.5 195.1 L622.3 194.9 L624.3 194.8" fill="none" stroke="#ff6c08" stroke-width="1.56" stroke-linejoin="round" stroke-linecap="round"/>
<path d="M595.0 199.4 L597.0 199.5 L599.8 199.6 L603.1 199.7 L606.5 199.9 L609.6 199.9 L612.8 199.9 L616.2 199.7 L619.5 199.6 L622.3 199.5 L624.3 199.4" fill="none" stroke="#ff6c08" stroke-width="2.3400000000000003" stroke-linejoin="round" stroke-linecap="round"/>
<path d="M595.0 204.0 L595.9 204.1 L597.3 204.3 L598.8 204.6 L600.4 204.8 L602.0 205.0 L603.5 205.2 L605.0 205.5 L606.6 205.7 L608.1 205.9 L609.6 206.0 L611.2 205.9 L612.7 205.7 L614.3 205.5 L615.8 205.2 L617.3 205.0 L618.9 204.8 L620.5 204.6 L622.0 204.3 L623.4 204.1 L624.3 204.0" fill="none" stroke="#ff5500" stroke-width="1.8199999999999998" stroke-linejoin="round" stroke-linecap="round"/>
<path d="M556.6 216.5 L559.6 215.0 L562.4 210.0 L566.2 186.1 L571.5 191.5 L576.8 186.1 L580.6 210.0 L583.4 215.0 L586.4 216.5" fill="none" stroke="#f47812" stroke-width="1.8199999999999998" stroke-linejoin="round" stroke-linecap="round"/>
<path d="M557.8 234.3 L560.8 221.5 L571.5 195.3 L582.2 221.5 L585.2 234.3" fill="none" stroke="#f47812" stroke-width="1.8199999999999998" stroke-linejoin="round" stroke-linecap="round"/>
<path d="M556.6 228.1 L586.4 228.1" fill="none" stroke="#f47812" stroke-width="2.3400000000000003" stroke-linejoin="round" stroke-linecap="round"/>
<path d="M649.9 216.5 L652.9 215.0 L655.7 210.0 L659.5 186.1 L665.3 191.5 L671.2 186.1 L675.0 210.0 L677.8 215.0 L680.8 216.5" fill="none" stroke="#22bff0" stroke-width="1.8199999999999998" stroke-linejoin="round" stroke-linecap="round"/>
<path d="M651.1 234.3 L654.1 221.5 L665.3 195.3 L676.6 221.5 L679.6 234.3" fill="none" stroke="#22bff0" stroke-width="1.8199999999999998" stroke-linejoin="round" stroke-linecap="round"/>
<path d="M649.9 228.1 L680.8 228.1" fill="none" stroke="#22bff0" stroke-width="2.3400000000000003" stroke-linejoin="round" stroke-linecap="round"/>
<path d="M556.6 250.5 L556.9 250.9 L557.4 251.3 L558.0 251.9 L558.6 252.7 L559.1 253.5 L559.6 254.5 L560.1 255.5 L560.6 256.7 L561.1 258.1 L561.6 259.5 L562.2 261.1 L562.8 262.8 L563.4 264.7 L564.0 266.6 L564.6 268.5 L565.2 270.5 L565.8 272.5 L566.4 274.6 L567.0 276.6 L567.6 278.5 L568.1 280.4 L568.6 282.3 L569.1 284.1 L569.6 285.7 L570.0 287.0 L570.4 287.9 L570.7 288.6 L570.9 289.0 L571.2 289.2 L571.5 289.3 L571.8 289.2 L572.1 289.0 L572.3 288.6 L572.6 287.9 L573.0 287.0 L573.4 285.7 L573.9 284.1 L574.4 282.3 L574.9 280.4 L575.4 278.5 L576.0 276.6 L576.6 274.6 L577.2 272.5 L577.8 270.5 L578.4 268.5 L579.0 266.6 L579.6 264.7 L580.2 262.8 L580.8 261.1 L581.4 259.5 L581.9 258.1 L582.4 256.7 L582.9 255.5 L583.4 254.5 L583.9 253.5 L584.4 252.7 L585.0 251.9 L585.6 251.3 L586.1 250.9 L586.4 250.5" fill="none" stroke="#e81c1c" stroke-width="1.8199999999999998" stroke-linejoin="round" stroke-linecap="round"/>
<path d="M557.6 358.4 L565.1 313.0 L571.5 294.0 L577.9 313.0 L585.4 358.4" fill="none" stroke="#7a0c10" stroke-width="1.8199999999999998" stroke-linejoin="round" stroke-linecap="round"/>
<path d="M556.6 313.0 L557.1 313.1 L557.9 313.3 L558.7 313.5 L559.7 313.9 L560.6 314.5 L561.5 315.3 L562.5 316.4 L563.5 317.6 L564.5 318.8 L565.6 320.0 L566.7 321.3 L567.9 322.8 L569.1 324.2 L570.3 325.2 L571.5 325.6 L572.7 325.2 L573.9 324.2 L575.1 322.8 L576.3 321.3 L577.4 320.0 L578.5 318.8 L579.5 317.6 L580.5 316.4 L581.5 315.3 L582.4 314.5 L583.3 313.9 L584.3 313.5 L585.1 313.3 L585.9 313.1 L586.4 313.0" fill="none" stroke="#ff5a14" stroke-width="1.8199999999999998" stroke-linejoin="round" stroke-linecap="round"/>
<path d="M557.6 358.4 L558.6 355.5 L559.9 351.2 L561.5 346.4 L563.1 341.8 L564.6 338.0 L566.0 334.9 L567.4 332.0 L568.7 329.6 L570.1 327.9 L571.5 327.3 L572.9 327.9 L574.3 329.6 L575.6 332.0 L577.0 334.9 L578.4 338.0 L579.9 341.8 L581.5 346.4 L583.1 351.2 L584.4 355.5 L585.4 358.4" fill="none" stroke="#e02020" stroke-width="1.8199999999999998" stroke-linejoin="round" stroke-linecap="round"/>
<path d="M649.9 250.5 L650.2 250.9 L650.7 251.3 L651.3 251.9 L651.9 252.7 L652.4 253.5 L652.9 254.5 L653.4 255.5 L653.9 256.7 L654.4 258.1 L654.9 259.5 L655.5 261.1 L656.1 262.8 L656.7 264.7 L657.3 266.6 L657.9 268.5 L658.5 270.5 L659.1 272.5 L659.7 274.6 L660.3 276.6 L660.9 278.5 L661.5 280.4 L662.2 282.3 L662.8 284.1 L663.4 285.7 L663.8 287.0 L664.2 287.9 L664.6 288.6 L664.8 289.0 L665.1 289.2 L665.3 289.3 L665.6 289.2 L665.9 289.0 L666.1 288.6 L666.5 287.9 L666.8 287.0 L667.3 285.7 L667.9 284.1 L668.5 282.3 L669.2 280.4 L669.8 278.5 L670.4 276.6 L671.0 274.6 L671.6 272.5 L672.2 270.5 L672.8 268.5 L673.4 266.6 L674.0 264.7 L674.6 262.8 L675.2 261.1 L675.8 259.5 L676.3 258.1 L676.8 256.7 L677.3 255.5 L677.8 254.5 L678.3 253.5 L678.8 252.7 L679.4 251.9 L680.0 251.3 L680.5 250.9 L680.8 250.5" fill="none" stroke="#1a88f0" stroke-width="1.8199999999999998" stroke-linejoin="round" stroke-linecap="round"/>
<path d="M650.9 358.4 L658.4 313.0 L665.3 294.0 L672.3 313.0 L679.8 358.4" fill="none" stroke="#121c80" stroke-width="1.8199999999999998" stroke-linejoin="round" stroke-linecap="round"/>
<path d="M649.9 313.0 L650.4 313.1 L651.2 313.3 L652.0 313.5 L653.0 313.9 L653.9 314.5 L654.8 315.3 L655.8 316.4 L656.7 317.6 L657.8 318.8 L658.9 320.0 L660.1 321.3 L661.4 322.8 L662.7 324.2 L664.0 325.2 L665.3 325.6 L666.7 325.2 L668.0 324.2 L669.3 322.8 L670.6 321.3 L671.8 320.0 L672.9 318.8 L674.0 317.6 L674.9 316.4 L675.9 315.3 L676.8 314.5 L677.7 313.9 L678.7 313.5 L679.5 313.3 L680.3 313.1 L680.8 313.0" fill="none" stroke="#3fd0f2" stroke-width="1.8199999999999998" stroke-linejoin="round" stroke-linecap="round"/>
<path d="M650.9 358.4 L651.8 355.5 L653.2 351.2 L654.7 346.4 L656.4 341.8 L657.9 338.0 L659.4 334.9 L660.8 332.0 L662.3 329.6 L663.9 327.9 L665.3 327.3 L666.8 327.9 L668.4 329.6 L669.9 332.0 L671.3 334.9 L672.8 338.0 L674.3 341.8 L676.0 346.4 L677.5 351.2 L678.9 355.5 L679.8 358.4" fill="none" stroke="#1838c0" stroke-width="1.8199999999999998" stroke-linejoin="round" stroke-linecap="round"/>
<path d="M501.4 238.9 L501.9 239.1 L502.7 239.4 L503.5 239.7 L504.5 240.3 L505.4 241.0 L506.3 242.1 L507.3 243.4 L508.3 244.8 L509.3 246.3 L510.4 247.5 L511.5 248.7 L512.8 249.8 L514.0 250.9 L515.3 251.6 L516.5 251.9 L517.7 251.6 L519.0 250.9 L520.2 249.8 L521.5 248.7 L522.6 247.5 L523.7 246.3 L524.7 244.8 L525.7 243.4 L526.7 242.1 L527.6 241.0 L528.5 240.3 L529.5 239.7 L530.3 239.4 L531.1 239.1 L531.6 238.9" fill="none" stroke="#3cd2f0" stroke-width="1.8199999999999998" stroke-linejoin="round" stroke-linecap="round"/>
<path d="M501.9 278.7 L502.5 277.6 L503.2 276.2 L504.1 274.4 L505.2 272.3 L506.4 270.0 L507.9 267.1 L509.7 263.7 L511.5 260.1 L513.2 256.9 L514.5 254.5 L515.3 253.1 L515.7 252.3 L516.0 252.0 L516.2 252.0 L516.5 252.0 L516.8 252.0 L517.0 252.0 L517.3 252.3 L517.7 253.1 L518.5 254.5 L519.8 256.9 L521.5 260.1 L523.3 263.7 L525.1 267.1 L526.6 270.0 L527.8 272.3 L528.9 274.4 L529.8 276.2 L530.5 277.6 L531.1 278.7" fill="none" stroke="#2a70f0" stroke-width="1.8199999999999998" stroke-linejoin="round" stroke-linecap="round"/>
<path d="M501.4 283.0 L502.0 283.9 L502.9 285.1 L503.9 286.6 L505.1 288.5 L506.4 291.0 L507.9 294.4 L509.7 298.8 L511.6 303.4 L513.2 307.5 L514.5 310.5 L515.3 312.2 L515.7 313.0 L516.0 313.2 L516.2 313.1 L516.5 313.0 L516.8 313.1 L517.0 313.2 L517.3 313.0 L517.7 312.2 L518.5 310.5 L519.8 307.5 L521.4 303.4 L523.3 298.8 L525.1 294.4 L526.6 291.0 L527.9 288.5 L529.1 286.6 L530.1 285.1 L531.0 283.9 L531.6 283.0" fill="none" stroke="#1a2cc8" stroke-width="1.8199999999999998" stroke-linejoin="round" stroke-linecap="round"/>
<path d="M502.0 358.4 L507.4 340.0 L516.5 317.5 L525.6 340.0 L531.0 358.4" fill="none" stroke="#101a6a" stroke-width="1.8199999999999998" stroke-linejoin="round" stroke-linecap="round"/>
<path d="M501.4 325.0 L505.4 328.0 L516.5 339.5" fill="none" stroke="#2050e0" stroke-width="1.6900000000000002" stroke-linejoin="round" stroke-linecap="round"/>
<path d="M531.6 325.0 L527.6 328.0 L516.5 339.5" fill="none" stroke="#2050e0" stroke-width="1.6900000000000002" stroke-linejoin="round" stroke-linecap="round"/>
<path d="M516.5 339.5 L502.9 358.4" fill="none" stroke="#101a6a" stroke-width="1.6900000000000002" stroke-linejoin="round" stroke-linecap="round"/>
<path d="M516.5 339.5 L530.1 358.4" fill="none" stroke="#101a6a" stroke-width="1.6900000000000002" stroke-linejoin="round" stroke-linecap="round"/>
<path d="M501.4 319.4 L502.0 319.2 L502.8 318.9 L503.8 318.6 L505.0 318.1 L506.4 317.5 L508.1 316.5 L510.1 315.2 L512.2 313.9 L514.4 312.9 L516.5 312.5 L518.6 312.9 L520.8 313.9 L522.9 315.2 L524.9 316.5 L526.6 317.5 L528.0 318.1 L529.2 318.6 L530.2 318.9 L531.0 319.2 L531.6 319.4" fill="none" stroke="#3aa4f0" stroke-width="1.8199999999999998" stroke-linejoin="round" stroke-linecap="round"/>
<path d="M501.4 308.0 L502.9 308.0 L505.0 308.0 L507.3 308.1 L509.6 308.2 L511.5 308.5 L512.8 309.0 L513.9 309.8 L514.7 310.6 L515.6 311.2 L516.5 311.5 L517.4 311.2 L518.3 310.6 L519.1 309.8 L520.2 309.0 L521.5 308.5 L523.4 308.2 L525.7 308.1 L528.0 308.0 L530.1 308.0 L531.6 308.0" fill="none" stroke="#52e2f6" stroke-width="1.8199999999999998" stroke-linejoin="round" stroke-linecap="round"/>
<path d="M595.0 238.9 L595.5 239.1 L596.3 239.4 L597.1 239.7 L598.1 240.3 L599.0 241.0 L599.9 242.1 L600.9 243.4 L601.9 244.8 L602.9 246.3 L604.0 247.5 L605.1 248.7 L606.2 249.8 L607.4 250.9 L608.5 251.6 L609.6 251.9 L610.8 251.6 L611.9 250.9 L613.1 249.8 L614.2 248.7 L615.3 247.5 L616.4 246.3 L617.4 244.8 L618.4 243.4 L619.4 242.1 L620.3 241.0 L621.2 240.3 L622.2 239.7 L623.0 239.4 L623.8 239.1 L624.3 238.9" fill="none" stroke="#f59a20" stroke-width="1.8199999999999998" stroke-linejoin="round" stroke-linecap="round"/>
<path d="M595.5 278.7 L596.1 277.6 L596.8 276.2 L597.8 274.4 L598.8 272.3 L600.0 270.0 L601.4 267.1 L603.1 263.7 L604.8 260.1 L606.4 256.9 L607.6 254.5 L608.4 253.1 L608.9 252.3 L609.1 252.0 L609.3 252.0 L609.6 252.0 L610.0 252.0 L610.2 252.0 L610.4 252.3 L610.9 253.1 L611.6 254.5 L612.9 256.9 L614.5 260.1 L616.2 263.7 L617.9 267.1 L619.3 270.0 L620.5 272.3 L621.5 274.4 L622.5 276.2 L623.2 277.6 L623.8 278.7" fill="none" stroke="#e8281e" stroke-width="1.8199999999999998" stroke-linejoin="round" stroke-linecap="round"/>
<path d="M595.0 283.0 L595.6 283.9 L596.5 285.1 L597.6 286.6 L598.8 288.5 L600.0 291.0 L601.5 294.4 L603.1 298.8 L604.9 303.4 L606.4 307.5 L607.6 310.5 L608.4 312.2 L608.9 313.0 L609.1 313.2 L609.3 313.1 L609.6 313.0 L610.0 313.1 L610.2 313.2 L610.4 313.0 L610.9 312.2 L611.6 310.5 L612.9 307.5 L614.4 303.4 L616.2 298.8 L617.8 294.4 L619.3 291.0 L620.5 288.5 L621.7 286.6 L622.8 285.1 L623.7 283.9 L624.3 283.0" fill="none" stroke="#8a1010" stroke-width="1.8199999999999998" stroke-linejoin="round" stroke-linecap="round"/>
<path d="M595.6 358.4 L601.0 340.0 L609.6 317.5 L618.3 340.0 L623.7 358.4" fill="none" stroke="#4a0606" stroke-width="1.8199999999999998" stroke-linejoin="round" stroke-linecap="round"/>
<path d="M595.0 325.0 L599.0 328.0 L609.6 339.5" fill="none" stroke="#d01818" stroke-width="1.6900000000000002" stroke-linejoin="round" stroke-linecap="round"/>
<path d="M624.3 325.0 L620.3 328.0 L609.6 339.5" fill="none" stroke="#d01818" stroke-width="1.6900000000000002" stroke-linejoin="round" stroke-linecap="round"/>
<path d="M609.6 339.5 L596.5 358.4" fill="none" stroke="#4a0606" stroke-width="1.6900000000000002" stroke-linejoin="round" stroke-linecap="round"/>
<path d="M609.6 339.5 L622.8 358.4" fill="none" stroke="#4a0606" stroke-width="1.6900000000000002" stroke-linejoin="round" stroke-linecap="round"/>
<path d="M595.0 319.4 L595.6 319.2 L596.4 318.9 L597.4 318.6 L598.6 318.1 L600.0 317.5 L601.6 316.5 L603.5 315.2 L605.6 313.9 L607.6 312.9 L609.6 312.5 L611.7 312.9 L613.7 313.9 L615.8 315.2 L617.7 316.5 L619.3 317.5 L620.7 318.1 L621.9 318.6 L622.9 318.9 L623.7 319.2 L624.3 319.4" fill="none" stroke="#f07020" stroke-width="1.8199999999999998" stroke-linejoin="round" stroke-linecap="round"/>
<path d="M595.0 308.0 L596.4 308.0 L598.4 308.0 L600.7 308.1 L602.9 308.2 L604.6 308.5 L605.9 309.0 L607.0 309.8 L607.9 310.6 L608.7 311.2 L609.6 311.5 L610.6 311.2 L611.4 310.6 L612.3 309.8 L613.4 309.0 L614.6 308.5 L616.4 308.2 L618.6 308.1 L620.9 308.0 L622.9 308.0 L624.3 308.0" fill="none" stroke="#f6e030" stroke-width="1.8199999999999998" stroke-linejoin="round" stroke-linecap="round"/>
<rect x="500.5" y="166.3" width="87.29999999999995" height="192.3" fill="none" stroke="#555" stroke-width="0.8"/>
<rect x="594.5" y="166.3" width="87.0" height="192.3" fill="none" stroke="#555" stroke-width="0.8"/>
<text x="496.8" y="361.2" font-size="7.7" text-anchor="end" fill="#231f20" stroke="#231f20" stroke-width="0.22">0</text>
<line x1="500.5" y1="358.5" x2="502.5" y2="358.5" stroke="#555" stroke-width="0.7"/>
<line x1="594.5" y1="358.5" x2="596.5" y2="358.5" stroke="#555" stroke-width="0.7"/>
<text x="496.8" y="329.3" font-size="7.7" text-anchor="end" fill="#231f20" stroke="#231f20" stroke-width="0.22">20</text>
<line x1="500.5" y1="326.6" x2="502.5" y2="326.6" stroke="#555" stroke-width="0.7"/>
<line x1="594.5" y1="326.6" x2="596.5" y2="326.6" stroke="#555" stroke-width="0.7"/>
<text x="496.8" y="297.4" font-size="7.7" text-anchor="end" fill="#231f20" stroke="#231f20" stroke-width="0.22">40</text>
<line x1="500.5" y1="294.7" x2="502.5" y2="294.7" stroke="#555" stroke-width="0.7"/>
<line x1="594.5" y1="294.7" x2="596.5" y2="294.7" stroke="#555" stroke-width="0.7"/>
<text x="496.8" y="265.5" font-size="7.7" text-anchor="end" fill="#231f20" stroke="#231f20" stroke-width="0.22">60</text>
<line x1="500.5" y1="262.8" x2="502.5" y2="262.8" stroke="#555" stroke-width="0.7"/>
<line x1="594.5" y1="262.8" x2="596.5" y2="262.8" stroke="#555" stroke-width="0.7"/>
<text x="496.8" y="233.6" font-size="7.7" text-anchor="end" fill="#231f20" stroke="#231f20" stroke-width="0.22">80</text>
<line x1="500.5" y1="230.9" x2="502.5" y2="230.9" stroke="#555" stroke-width="0.7"/>
<line x1="594.5" y1="230.9" x2="596.5" y2="230.9" stroke="#555" stroke-width="0.7"/>
<text x="496.8" y="201.7" font-size="7.7" text-anchor="end" fill="#231f20" stroke="#231f20" stroke-width="0.22">100</text>
<line x1="500.5" y1="199.0" x2="502.5" y2="199.0" stroke="#555" stroke-width="0.7"/>
<line x1="594.5" y1="199.0" x2="596.5" y2="199.0" stroke="#555" stroke-width="0.7"/>
<text x="477.9" y="263.0" font-size="7.7" text-anchor="middle" fill="#231f20" transform="rotate(-90 477.9 263.0)" stroke="#231f20" stroke-width="0.22">Energy (meV)</text>
<text x="502.6" y="368.9" font-size="7.8" text-anchor="middle" fill="#231f20" stroke="#231f20" stroke-width="0.22">&#915;</text>
<text x="515.8" y="368.9" font-size="7.8" text-anchor="middle" fill="#231f20" stroke="#231f20" stroke-width="0.22">A</text>
<text x="530.0" y="368.9" font-size="7.8" text-anchor="middle" fill="#231f20" stroke="#231f20" stroke-width="0.22">&#915;</text>
<text x="557.6" y="368.9" font-size="7.8" text-anchor="middle" fill="#231f20" stroke="#231f20" stroke-width="0.22">&#915;</text>
<text x="571.1" y="368.9" font-size="7.8" text-anchor="middle" fill="#231f20" stroke="#231f20" stroke-width="0.22">A</text>
<text x="585.5" y="368.9" font-size="7.8" text-anchor="middle" fill="#231f20" stroke="#231f20" stroke-width="0.22">&#915;</text>
<text x="596.6" y="368.9" font-size="7.8" text-anchor="middle" fill="#231f20" stroke="#231f20" stroke-width="0.22">&#915;</text>
<text x="609.6" y="368.9" font-size="7.8" text-anchor="middle" fill="#231f20" stroke="#231f20" stroke-width="0.22">A</text>
<text x="623.2" y="368.9" font-size="7.8" text-anchor="middle" fill="#231f20" stroke="#231f20" stroke-width="0.22">&#915;</text>
<text x="651.5" y="368.9" font-size="7.8" text-anchor="middle" fill="#231f20" stroke="#231f20" stroke-width="0.22">&#915;</text>
<text x="665.7" y="368.9" font-size="7.8" text-anchor="middle" fill="#231f20" stroke="#231f20" stroke-width="0.22">A</text>
<text x="680.3" y="368.9" font-size="7.8" text-anchor="middle" fill="#231f20" stroke="#231f20" stroke-width="0.22">&#915;</text>
<text x="521.1" y="176.3" font-size="7.8" text-anchor="middle" fill="#231f20" stroke="#231f20" stroke-width="0.22">SiC</text>
<text x="564.8" y="176.3" font-size="7.8" text-anchor="middle" fill="#231f20" stroke="#231f20" stroke-width="0.22">AlN</text>
<text x="615.9" y="176.3" font-size="7.8" text-anchor="middle" fill="#231f20" stroke="#231f20" stroke-width="0.22">SiC</text>
<text x="658.9" y="176.3" font-size="7.8" text-anchor="middle" fill="#231f20" stroke="#231f20" stroke-width="0.22">AlN</text>
<line x1="556.0" y1="173.7" x2="535.6" y2="173.7" stroke="#111" stroke-width="0.9"/>
<path d="M532.6 173.7 L536.8000000000001 171.79999999999998 L535.8000000000001 173.7 L536.8000000000001 175.6Z" fill="#111"/>
<line x1="627.5" y1="173.7" x2="644.0" y2="173.7" stroke="#111" stroke-width="0.9"/>
<path d="M647.0 173.7 L642.8 171.79999999999998 L643.8 173.7 L642.8 175.6Z" fill="#111"/>
<text x="544.4" y="330.3" font-size="7.7" text-anchor="middle" fill="#333" stroke="#fff" stroke-width="1.6" paint-order="stroke" stroke-linejoin="round">Elastic</text>
<text x="637.6" y="330.3" font-size="7.7" text-anchor="middle" fill="#333" stroke="#fff" stroke-width="1.6" paint-order="stroke" stroke-linejoin="round">Elastic</text>
<line x1="559.2" y1="334.6" x2="531.3" y2="334.6" stroke="#888" stroke-width="1.0"/>
<path d="M528.3 334.6 L532.5 332.70000000000005 L531.5 334.6 L532.5 336.5Z" fill="#888"/>
<line x1="627.0" y1="334.6" x2="647.5" y2="334.6" stroke="#888" stroke-width="1.0"/>
<path d="M650.5 334.6 L646.3 332.70000000000005 L647.3 334.6 L646.3 336.5Z" fill="#888"/>
<path d="M542.71 212.91 L531.74 205.78 L532.99 203.85 L526.00 203.60 L529.07 209.89 L530.32 207.96 L541.29 215.09Z" fill="#1e9a1e"/>
<path d="M560.70 226.28 L550.67 219.44 L552.14 217.29 L544.40 217.10 L547.40 224.23 L548.87 222.08 L558.90 228.92Z" fill="#fff" stroke="#1e9a1e" stroke-width="0.9"/>
<path d="M558.97 227.60 L549.20 235.68 L547.73 233.90 L545.40 240.50 L552.32 239.45 L550.85 237.68 L560.63 229.60Z" fill="#8c8c8c"/>
<path d="M542.60 244.15 L532.18 252.49 L530.55 250.46 L528.10 257.80 L535.80 257.02 L534.18 254.99 L544.60 246.65Z" fill="#fff" stroke="#8c8c8c" stroke-width="0.9"/>
<path d="M619.83 205.65 L626.79 210.72 L625.43 212.58 L632.40 213.20 L629.67 206.76 L628.32 208.62 L621.37 203.55Z" fill="#8c8c8c"/>
<path d="M638.60 220.05 L646.22 226.11 L644.60 228.14 L652.30 228.90 L649.83 221.57 L648.21 223.60 L640.60 217.55Z" fill="#fff" stroke="#8c8c8c" stroke-width="0.9"/>
<path d="M640.43 244.20 L648.92 237.14 L650.39 238.90 L652.70 232.30 L645.79 233.37 L647.26 235.14 L638.77 242.20Z" fill="#1e9a1e"/>
<path d="M625.61 255.32 L633.75 249.71 L635.23 251.85 L638.20 244.70 L630.46 244.93 L631.94 247.07 L623.79 252.68Z" fill="#fff" stroke="#1e9a1e" stroke-width="0.9"/>
<text x="544.0" y="252.0" font-size="7.7" text-anchor="middle" fill="#111" font-family='Liberation Serif' stroke="#111" stroke-width="0.22">&#945;</text>
<text x="636.6" y="218.5" font-size="8.0" text-anchor="middle" fill="#111" font-family='Liberation Serif' stroke="#111" stroke-width="0.22">&#946;</text>
<rect x="506.9" y="375.5" width="54.9" height="5.8" fill="url(#eegc)" stroke="#444" stroke-width="0.5"/>
<rect x="604.7" y="375.5" width="61.3" height="5.8" fill="url(#tempc)" stroke="#444" stroke-width="0.5"/>
<text x="502.0" y="381.2" font-size="7.8" text-anchor="middle" fill="#231f20" stroke="#231f20" stroke-width="0.22">0</text>
<text x="563.8" y="381.2" font-size="7.8" text-anchor="start" fill="#231f20" stroke="#231f20" stroke-width="0.22">Max</text>
<text x="587.6" y="381.2" font-size="7.8" text-anchor="start" fill="#231f20" stroke="#231f20" stroke-width="0.22">Low</text>
<text x="668.2" y="381.2" font-size="7.8" text-anchor="start" fill="#231f20" stroke="#231f20" stroke-width="0.22">High</text>
<text x="534.2" y="391.4" font-size="7.8" text-anchor="middle" fill="#231f20" stroke="#231f20" stroke-width="0.22">EEG of interface modes</text>
<text x="636.1" y="391.4" font-size="7.8" text-anchor="middle" fill="#231f20" stroke="#231f20" stroke-width="0.22">Modal temperature</text>
</svg>
</body></html>
